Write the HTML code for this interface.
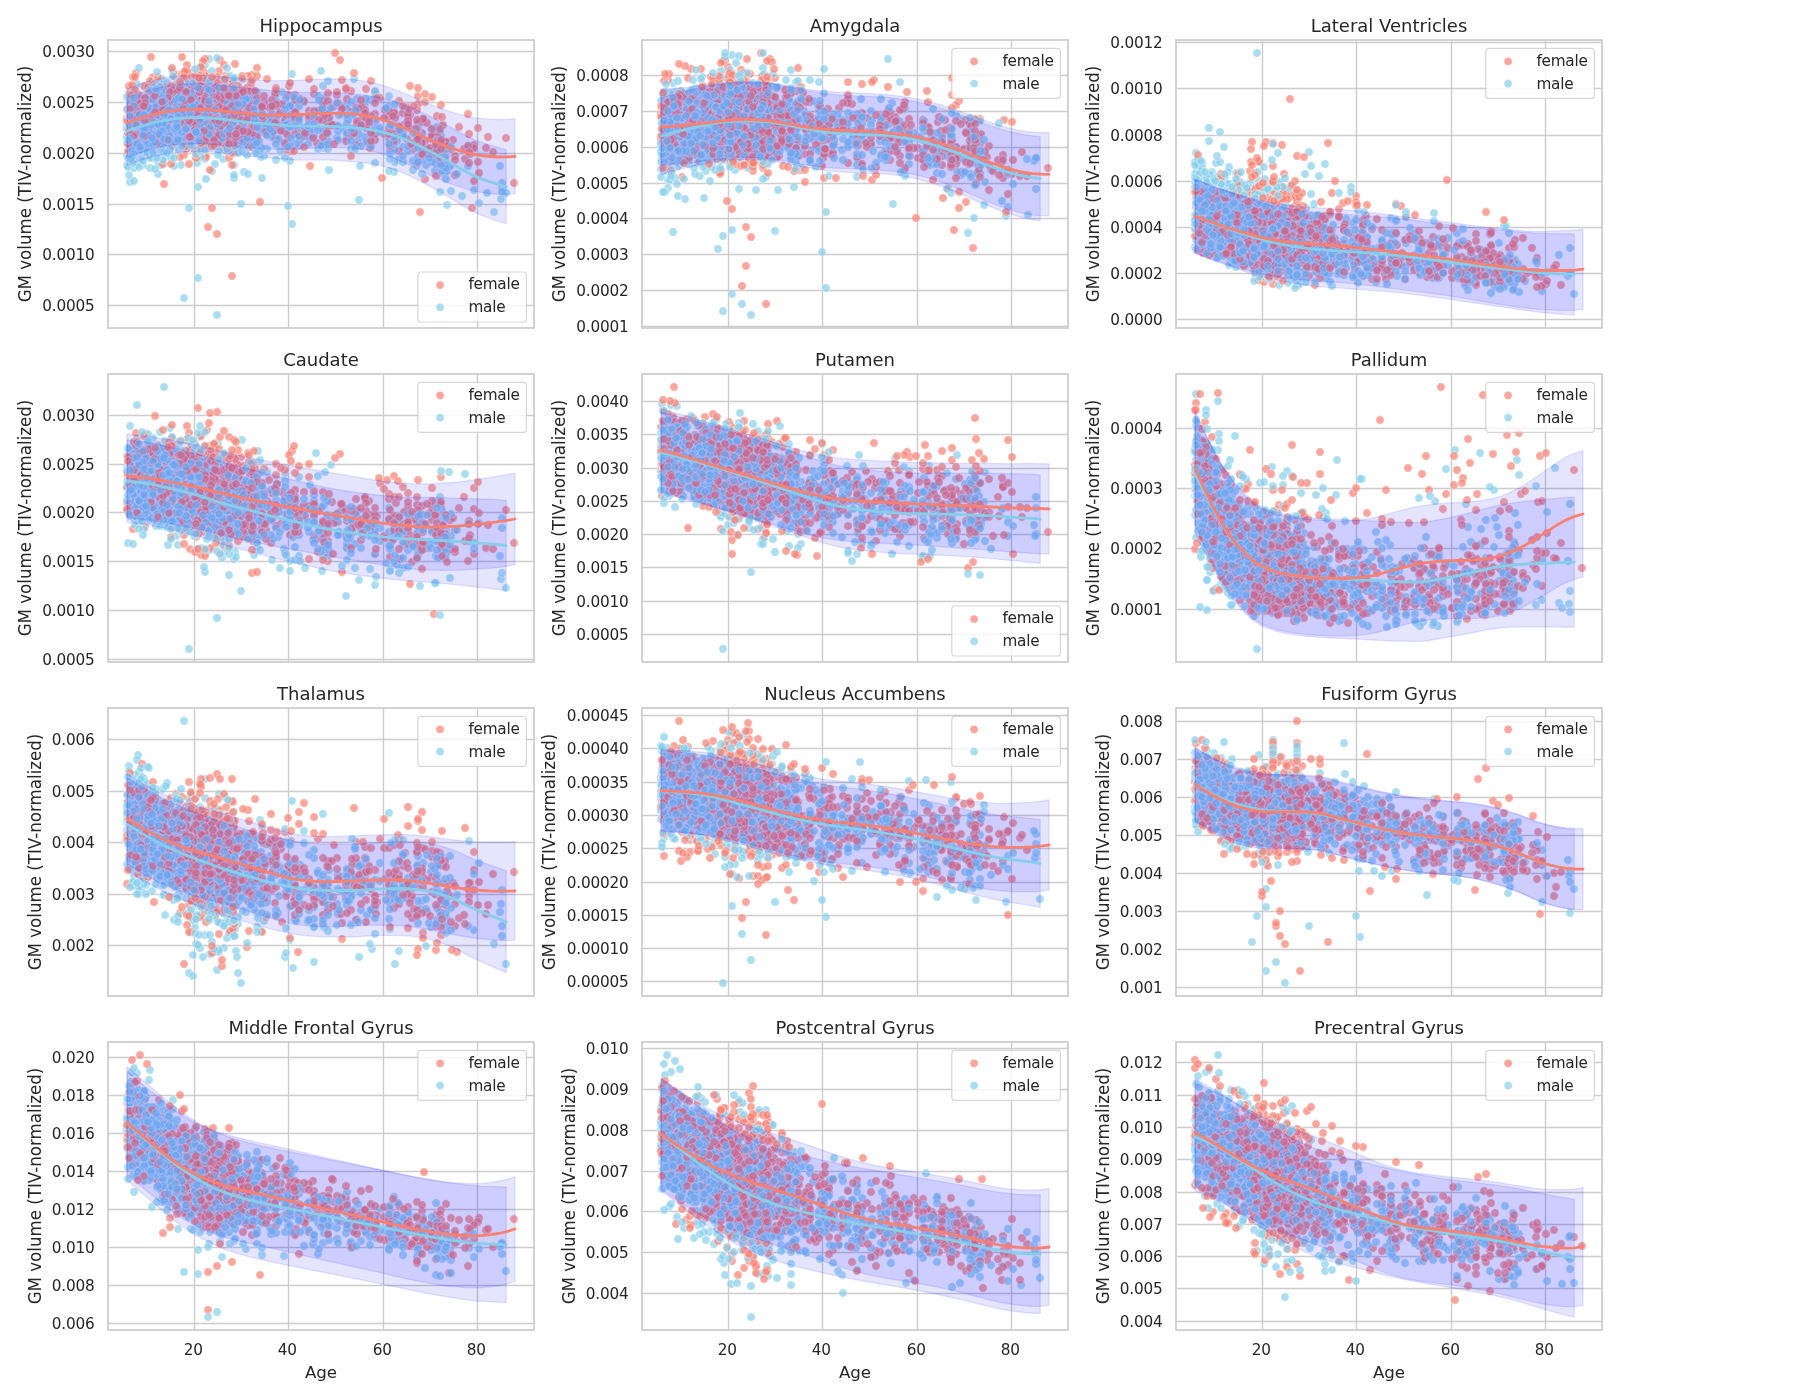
<!DOCTYPE html><html><head><meta charset="utf-8"><title>GM volume vs age</title><style>html,body{margin:0;padding:0;background:#fff}svg{display:block;will-change:transform}text{font-family:"DejaVu Sans","Liberation Sans",sans-serif;fill:#262626}.t{font-size:15.28px;letter-spacing:-.22px}.l{font-size:16.67px}.g{stroke:#ccc;stroke-width:1.39;fill:none}.s{stroke:#ccc;stroke-width:1.74;fill:none}.f{fill:none;stroke:none;marker:url(#f)}.m{fill:none;stroke:none;marker:url(#m)}.b{fill:#00f;fill-opacity:.1;stroke:#00f;stroke-opacity:.1;stroke-width:1.39;stroke-linejoin:round}.lf{fill:none;stroke:#fa8072;stroke-width:2.78;stroke-linecap:round;stroke-linejoin:round}.lm{fill:none;stroke:#87ceeb;stroke-width:2.78;stroke-linecap:round;stroke-linejoin:round}.cf{fill:#fa8072;fill-opacity:.7;stroke:#fff;stroke-opacity:.7;stroke-width:.67}.cm{fill:#87ceeb;fill-opacity:.7;stroke:#fff;stroke-opacity:.7;stroke-width:.67}.tt{font-size:18px}.lg{fill:#fff;fill-opacity:.8;stroke:#ccc;stroke-opacity:.8;stroke-width:1.2}</style></head><body>
<svg width="1800" height="1400" viewBox="0 0 1800 1400">
<defs><marker id="f" markerUnits="userSpaceOnUse" markerWidth="10" markerHeight="10" refX="5" refY="5" overflow="visible"><circle cx="5" cy="5" r="4.17" fill="#fa8072" fill-opacity=".7" stroke="#fff" stroke-opacity=".7" stroke-width=".67"/></marker><marker id="m" markerUnits="userSpaceOnUse" markerWidth="10" markerHeight="10" refX="5" refY="5" overflow="visible"><circle cx="5" cy="5" r="4.17" fill="#87ceeb" fill-opacity=".7" stroke="#fff" stroke-opacity=".7" stroke-width=".67"/></marker></defs>
<rect width="1800" height="1400" fill="#fff"/>
<g transform="translate(108,40)">
<path class="g" d="M86.5 0V288M180.5 0V288M275.5 0V288M369.5 0V288M0 11.5H426M0 62.5H426M0 113.5H426M0 164.5H426M0 214.5H426M0 265.5H426"/>
<path class="f" d="M50 45 333 107 51 91 105 63 48 62 138 69 274 138 81 32 99 63 96 49 93 76 121 72 97 48 87 86 94 82 37 74 304 89 27 55 158 94 337 114 56 62 82 84 93 41 215 68 90 54 83 57 46 76 111 72 98 78 84 103 277 70 45 59 121 64 288 75 42 76 78 86 117 70 144 35 51 70 97 81 111 83 77 101 102 65 76 76 168 54 97 48 133 59 79 78 63 61 248 88"/>
<path class="m" d="M220 82 182 121 78 42 366 150 329 91 149 99 238 66 129 106 114 86 159 109 90 82 88 74 62 93 97 76 328 119 93 75 93 82 58 74 50 134 63 66 87 82 118 71 331 118 107 72 111 102 239 94 26 72 54 86 33 100 149 104 22 82 120 72 128 62 295 107 72 91 35 115 318 125 360 126 315 120 32 70 147 73 34 91 168 120 107 69 229 98 328 122 86 70 50 122 96 85 49 73 90 238 70 71 70 100 97 73 99 81 102 44 37 74 177 82 121 65 286 132 145 95 55 94 149 108 239 98 28 92 57 92 107 83 333 100 51 94 121 86 91 59 23 92 118 57 41 89 55 97 64 93 38 47"/>
<path class="f" d="M249 84 88 76 370 122 116 51 187 57 107 72 98 66 76 84 59 78 129 74 121 42 97 74 47 48 186 74 36 65 173 90 305 109 78 95 317 139 50 67 45 92 78 85 50 52 229 55 64 64 26 92 35 69 102 62 107 81 258 101 121 90 125 79 105 61 248 67 187 72 103 54 81 57 31 58 281 99 88 89 117 36 125 64 84 84 34 102 83 51 70 88 125 97 112 42 163 89 267 100 78 88 58 53 126 55 131 94 93 70 168 90 144 70 361 94 62 82 118 72 70 56 267 52 89 61"/>
<path class="m" d="M62 101 68 101 133 85 394 148 150 79 25 98 92 101 109 47 51 69 241 76 94 81 139 68 29 74 75 92 24 71 51 63 113 91 63 48 107 76 177 89 361 106 19 99 319 110 230 91 216 92 176 104 267 87 314 95 66 54 46 82 192 106 97 80 36 91 70 100 268 54 61 69 74 66 111 85 24 81 20 94 21 111 116 98 121 100 27 99 108 61 28 77 257 63 62 57 49 118 146 95 108 60 153 74 54 98 205 78 33 89 111 66 121 75 27 84 61 60 68 68 136 75 79 86 26 77"/>
<path class="f" d="M78 71 119 93 287 78 102 55 83 55 286 72 97 54 21 76 36 78 310 83 127 68 125 75 56 144 46 66 122 78 201 79 100 87 76 67 324 99 187 55 238 101 45 37 74 47 102 66 66 36 122 47 129 59 61 103 145 50 154 80 97 33 168 48 107 63 140 99 309 96 73 80 87 94 23 82 116 109 58 96 380 97 347 116 79 67 83 44 102 82 116 66 107 42 314 93 169 66 55 49 56 51 268 80 63 78 97 64 345 100 76 44"/>
<path class="m" d="M55 105 28 97 200 104 24 66 78 78 122 106 28 118 24 120 53 57 52 78 73 51 70 80 47 68 153 91 142 77 59 91 139 115 196 62 27 102 290 86 88 69 309 125 234 88 86 76 74 77 114 80 96 57 45 93 101 92 74 85 84 70 144 83 65 70 89 123 121 71 188 84 36 97 79 63 78 73 249 59 97 112 46 81 43 114 43 81 216 58 117 57 26 70 78 71 78 97 54 83 63 57 51 78 323 89 30 121 69 81 70 42 69 77 335 133 220 101 220 80 21 115 27 73 72 41 36 105 83 76 42 110 97 92 22 96 312 95 88 66"/>
<path class="f" d="M71 81 78 100 125 69 51 73 93 94 64 88 329 76 126 91 35 99 67 86 263 41 133 80 41 53 30 67 315 82 112 66 183 68 88 67 56 98 319 109 119 111 296 85 108 57 78 36 102 78 255 77 79 65 111 31 108 44 31 55 119 58 333 119 50 86 121 71 124 236 291 111 125 77 188 78 19 115 45 98 239 59 111 97 32 103 53 68 64 62 108 71 149 87 125 63 30 82 50 78 225 85 127 24 342 126 297 69 107 69 75 45 92 57 33 106 68 67 93 45 334 103 124 72 191 77"/>
<path class="m" d="M126 55 43 65 327 131 172 85 144 103 48 72 90 85 116 77 216 108 112 95 75 69 31 84 87 97 191 95 34 66 19 86 72 75 56 95 51 90 88 103 53 45 168 79 121 85 60 91 78 89 45 80 263 60 49 101 116 79 22 109 310 88 116 44 111 111 37 67 71 74 206 89 371 163 49 96 78 50 40 85 154 90 66 75 126 138 26 67 323 96 281 56 49 77 78 84 107 77 102 77 40 99 49 62 215 77 149 61 63 66 97 73 140 68 47 72 45 78 87 88 97 25 73 64 26 124"/>
<path class="f" d="M142 62 121 76 90 61 74 73 121 39 81 58 138 88 144 86 64 91 74 56 112 73 333 123 209 103 21 54 78 50 83 82 83 105 126 60 103 93 43 61 106 80 295 73 121 90 111 65 300 87 371 133 88 76 105 54 105 74 126 102 116 53 36 82 102 73 126 75 181 46 93 73 292 87 310 56 45 82 92 78 51 75 262 108 111 77 145 85 26 56 121 89 206 54 60 59 121 75 91 66 116 70 66 93 113 96 43 87 25 37 97 56 55 57 276 94 104 64"/>
<path class="m" d="M116 39 53 84 97 78 329 87 157 80 54 83 90 147 366 108 36 93 88 80 120 59 221 76 43 95 78 90 70 72 92 57 113 58 115 119 72 103 40 63 59 96 21 99 342 125 65 65 86 72 29 104 26 128 31 94 21 79 36 105 20 95 88 83 106 97 43 91 152 92 82 78 246 39 210 56 54 86 334 113 49 102 180 166 88 97 47 114 132 92 125 112 108 75 201 88 34 107 90 89 61 64 44 65 177 86 230 86 23 112 136 132 98 139 35 73 46 60 66 70 31 70 169 83 50 89 61 49 62 73 183 76 41 89"/>
<path class="f" d="M102 94 111 86 116 64 44 42 37 97 285 90 87 77 335 85 97 73 40 49 116 73 99 52 267 74 42 41 23 57 36 85 92 79 290 97 20 94 55 61 110 71 107 62 105 71 124 44 124 67 34 75 310 64 90 87 72 56 59 70 107 86 102 87 26 64 272 58 140 103 31 61 19 78 107 61 28 33 71 78 112 20 123 53 33 103 58 91"/>
<path class="m" d="M78 65 45 73 36 96 121 55 79 82 114 64 121 66 104 100 67 100 79 61 30 86 85 58 33 104 38 75 338 116 163 85 26 88 115 99 138 72 282 110 184 34 49 116 31 93 74 101 43 75 83 78 33 100 239 93 333 96 127 80 206 71 30 88 40 94 93 97 39 75 250 101 55 81 92 80 153 109 26 87 31 105 60 106 64 93 191 66 97 53 111 80 25 92 37 100 30 98 262 78 398 153 27 89 103 107 74 88 55 69 92 75 41 89 263 94 93 56 33 77 187 57 73 93 95 78 392 126 267 51 22 100 64 75 130 52 73 85 104 131 70 50 40 88 63 50 19 57 53 79 93 47 267 58 112 90 22 121 64 86 55 116 126 59"/>
<path class="f" d="M314 114 103 100 258 86 269 58 115 48 90 65 125 64 109 37 234 40 149 78 116 25 137 74 338 102 81 97 145 56 97 36 89 51 58 89 97 67 120 65 230 63 121 67 28 81 96 56 86 64 49 62 309 123 98 92 327 95 62 79 57 47 337 120 76 115 163 70 137 79 86 65 91 66 81 82 61 64 201 71 135 75 69 63 93 70 100 86 324 57 74 65 121 68 182 43 71 66 338 102 88 72 27 60 91 68 85 66 116 69 121 84 201 76 314 108"/>
<path class="m" d="M71 83 97 119 163 77 47 79 394 152 62 52 22 76 33 83 156 116 292 91 46 78 28 117 253 85 80 71 97 84 21 117 56 108 57 89 94 112 69 87 191 96 149 106 309 94 54 62 44 81 61 76 130 73 39 107 57 117 38 88 64 92 29 125 126 125 34 80 36 100 67 72 146 97 35 100 25 49 41 110 29 73 295 92 239 69 128 46 69 87 91 86 30 87 88 60 20 95 206 72 135 84 154 85 95 116 45 108 97 74 37 105 156 86 102 78 221 130 206 87 33 90 34 91 57 68 73 96 262 83 281 66 128 60 150 77"/>
<path class="f" d="M155 83 69 71 201 39 87 111 87 64 86 58 78 62 190 76 26 71 125 57 126 113 36 79 68 97 66 81 135 55 89 86 141 74 66 33 79 72 187 59 36 46 20 81 39 99 111 53 81 72 125 96 177 80 40 47 206 49 42 97 125 85 44 101 102 101 281 77 220 89 108 70 258 49 74 100 98 92 74 60 105 48 92 47 83 37 50 83 54 61 59 72 109 65 105 92 291 61 69 53 317 101 72 69 51 92 246 33 88 81 93 34 206 78 97 62 37 61 85 94 68 77 300 81"/>
<path class="m" d="M38 95 58 83 111 91 83 69 122 36 206 96 97 89 60 54 267 79 40 63 282 113 61 64 138 64 48 86 63 66 107 102 83 97 29 92 185 78 22 61 33 76 19 125 132 89 73 105 54 72 52 79 107 105 290 120 54 80 192 100 64 95 215 89 116 73 102 77 95 53 78 81 114 52 114 86 105 54 45 62 41 80 95 74 29 91 47 64 332 91 91 71 34 69 23 68 21 77 30 113 64 101 22 65 41 89 69 77 47 43 73 103 83 86 163 82 101 19 20 88 28 96 182 106 287 122 119 84"/>
<path class="f" d="M79 98 88 100 130 101 324 95 111 97 366 105 107 75 106 93 78 82 111 55 61 72 55 56 83 78 96 75 385 112 21 111 22 101 267 63 121 95 82 80 98 57 182 82 40 69 366 108 36 72 221 78 190 89 88 60 99 59 110 59 88 77 28 93 126 76 39 116 111 68 88 95 156 83 103 65 60 62 215 105 64 57 51 97 234 74 125 69 139 78 67 61 97 60 244 90 33 95"/>
<path class="m" d="M67 95 40 72 59 77 92 94 140 134 149 68 83 61 27 108 95 58 339 131 289 101 22 110 282 98 27 83 149 52 329 120 59 60 64 75 188 104 79 52 60 69 61 76 63 82 22 70 26 100 56 55 72 59 27 95 60 74 267 123 120 70 97 65 112 81 220 93 88 65 42 106 85 71 300 111 170 84 72 67 45 115 178 65 67 63 121 85 119 55 107 65 47 95 98 98 25 101 81 79 44 102 196 95 35 91 65 67 22 66 154 108 59 84 23 95 51 66 103 66 92 73 34 116 64 76 104 31 42 90 52 103 61 110 330 100 30 72 69 84 92 99 154 63 65 72 113 88 239 76 79 65 82 74"/>
<path class="f" d="M59 67 116 78 74 34 96 102 19 89 126 91 112 85 178 75 92 40 126 63 125 83 97 19 347 120 97 42 48 65 49 79 121 47 54 68 145 93 232 20 97 115 29 106 126 44 121 57 74 45 153 89 61 72 54 67 81 60 129 63 107 53 334 125 88 48 98 73 97 56 33 101 120 100 192 59 121 118 255 68 168 85 128 99 83 85 76 34 118 77 79 94 96 73 163 78 261 78 102 84 102 80 123 76 123 61 89 92 220 86 248 105 41 91 107 92 53 85 40 85 121 76 50 94 20 82 161 77"/>
<path class="m" d="M107 83 20 102 31 88 79 88 75 70 93 65 119 81 69 98 196 91 214 104 45 86 328 124 180 83 71 60 41 90 29 44 102 81 379 153 116 83 89 88 70 72 328 109 83 97 74 88 305 121 39 102 58 83 45 65 56 63 76 105 94 93 393 159 159 63 79 97 55 81 339 165 31 110 107 81 31 58 67 97 52 79 103 46 291 90 112 69 56 67 219 71 50 58 155 68 54 76 182 75 36 66 46 88 42 128 53 125 64 75 89 62 295 94 156 79 57 100 79 67 338 139 22 98"/>
<path class="f" d="M57 66 95 61 88 49 164 94 333 65 111 58 267 94 126 48 93 59 149 28 75 84 96 42 69 77 70 67 129 102 49 90 78 101 87 63 88 69 140 36 58 86 117 76 67 65 111 56 180 96 78 60 43 64 116 92 22 84 89 51 96 82 333 107 130 46 31 72 52 72 215 97 112 50 167 54 31 67 121 47 324 96 99 76 102 99 330 97 140 102 338 110 58 99 120 97 109 68 57 59 69 69 121 61 333 118 111 68 121 47 26 87 168 83 21 89 78 75 233 67 88 70 27 37 90 97 101 71 125 45 156 86 124 113"/>
<path class="m" d="M243 109 85 48 127 77 106 55 85 106 394 143 125 83 73 125 61 87 337 128 107 124 53 58 41 65 338 131 54 78 93 66 32 97 210 109 287 110 24 110 122 73 87 83 35 76 45 76 88 71 151 75 44 77 28 104 88 57 216 59 50 88 44 81 74 60 68 77 143 61 60 103 36 90 29 68 29 81 93 63 128 104 97 84 310 102 191 85 36 92 81 168 88 73 53 57 45 77 131 106 109 275 111 66 121 79 176 91 41 100 314 134 34 86 20 93 83 66"/>
<path class="f" d="M125 43 88 42 116 76 107 70 36 92 123 74 47 52 328 136 112 86 89 47 65 58 89 53 101 98 125 106 281 88 299 99 46 99 91 33 97 57 149 81 101 72 134 36 125 42 196 107 244 92 78 109 111 77 125 66 215 80 300 67 263 76 220 74 130 101 55 59 79 43 90 89 248 68 23 81 92 66 38 80 68 45 302 46 38 80 206 71 51 66 22 65 103 87 78 50 150 82 135 94 101 94 103 56 40 60 95 21 300 68 41 67 93 51 94 28 92 41 55 124 286 73 103 53 70 86 104 103 45 45"/>
<path class="m" d="M34 87 54 39 98 101 41 88 31 28 243 72 310 117 59 64 145 59 343 151 131 98 58 82 111 73 215 68 22 96 99 61 102 54 61 81 22 142 119 47 117 70 26 112 328 107 191 79 130 92 130 113 36 76 24 98 75 82 121 86 73 77 47 88 31 62 36 77 140 74 257 97 102 100 102 75 63 87 52 56 86 81 88 95 139 94 92 27 80 72 52 61 102 79 56 101 55 81 354 156 73 67 112 94 93 55 43 67 305 130 37 96 63 51 104 61 149 61 151 101 29 110"/>
<path class="f" d="M83 78 50 76 93 74 120 71 92 56 89 53 124 88 20 82 78 54 111 46 97 93 304 103 126 45 93 44 76 87 26 101 41 70 167 78 183 111 93 27 317 54 78 60 116 80 91 57 57 59 83 99 243 72 61 61 120 104 30 89 107 48 92 103 74 41 105 49 56 63 154 76 20 111 179 94 52 69 98 117 91 45 45 55 122 84 191 77 90 79 20 81 187 72 126 89 114 83 79 73 126 82 83 63 19 70"/>
<path class="m" d="M23 100 93 117 333 113 58 98 184 184 42 71 90 66 55 66 282 85 102 105 337 110 31 84 48 92 242 75 66 106 90 96 49 84 114 79 124 84 69 68 310 96 36 87 253 85 21 104 59 72 61 69 45 66 42 115 52 109 168 61 41 115 64 61 33 92 50 97 68 74 74 45 149 92 255 69 36 70 84 103 81 80 49 104 98 77 127 83 215 46 239 84 50 78 37 112 22 107 45 73 59 43 41 107 334 131 44 82 286 99 247 110 24 110 66 68 58 81 59 83 30 78 116 55 52 62 69 46 230 100 150 112 202 91 110 60 73 88 23 67 122 67 154 138 121 70"/>
<path class="f" d="M206 72 254 66 74 72 139 48 282 106 178 110 50 37 319 83 30 72 139 66 97 66 112 59 111 67 90 60 164 60 106 80 339 106 39 67 83 99 215 61 26 55 68 73 215 64 327 109 351 87 106 99 315 115 309 94 48 77 196 96 44 91 141 73 127 88 54 94 357 119 109 194 258 88 126 92 314 102 25 90 93 72 282 72 112 55 93 85 105 60 302 75 182 87 105 69 104 168 92 43 107 79 29 98 121 61 249 81 89 91 83 90 88 69 46 59 196 61"/>
<path class="m" d="M107 101 64 66 27 76 125 89 47 68 95 63 121 79 182 66 121 72 88 97 68 83 116 45 34 79 79 106 59 84 40 65 107 63 59 55 102 97 61 70 73 77 22 63 59 61 164 74 98 40 65 81 31 65 93 91 130 96 41 74 61 64 127 81 55 85 58 89 133 164 54 51 43 98 27 88 64 91 121 78 115 75 29 89 50 95 29 122 140 64 28 90 183 86 118 80 124 70 139 77 97 108 342 126 125 90 182 105 55 120 300 106 259 102 41 82 39 89 46 74 295 96 46 47 47 82 295 96 43 75 22 70 324 122"/>
<path class="f" d="M78 90 88 118 135 92 21 46 163 67 63 46 347 135 38 78 180 55 156 62 86 82 45 94 99 48 31 56 83 104 27 94 225 67 121 65 83 62 107 87 216 76 126 53 366 141 146 73 50 49 362 114 140 105 135 61 59 87 83 48 92 79 22 95 52 98 83 103 28 105 130 54 107 87 122 82 134 88 78 84 109 56 89 37 111 96 159 39 140 74 47 96 334 77 329 100 102 80 324 89 309 102 109 75 112 53 315 79 72 117 124 68 186 111 87 36 124 47 96 98 143 70 67 67 95 38 356 109 149 58 111 44"/>
<path class="m" d="M123 78 78 81 111 63 43 97 65 56 126 73 88 73 55 102 89 83 35 125 135 39 97 67 159 90 73 69 34 79 170 75 121 72 318 114 95 87 156 85 51 64 64 101 90 64 112 101 119 78 42 102 26 67 53 77 67 77 82 87 44 78 30 110 112 90 29 73 81 86 26 70 64 71 126 74 21 135 40 93 64 53 51 88 72 81 74 43 85 78 263 106 300 70 84 92 33 103 36 77 349 134 72 51 114 99 48 84 40 74 89 50 50 78 54 86 82 71 245 75"/>
<path class="f" d="M32 94 243 116 78 66 79 31 41 86 88 77 61 84 71 63 24 45 121 72 37 64 253 67 332 89 74 17 141 51 92 70 234 69 87 51 116 71 360 106 40 61 68 89 83 67 309 70 41 60 64 105 75 105 149 97 156 56 276 78 72 65 84 98 111 67 79 74 210 71 26 76 79 72 144 64 135 50 88 67 64 84 109 43 314 103 124 85 132 53 123 107 29 64 123 87 155 75 123 87 309 100 300 76 75 62 120 83 22 95 135 99"/>
<path class="m" d="M106 72 131 65 58 77 51 55 21 99 102 41 37 100 37 73 52 68 229 63 130 79 213 106 102 66 30 123 79 52 177 118 62 89 286 104 75 98 26 106 46 83 88 90 70 77 163 82 65 90 86 58 94 90 122 60 83 102 74 60 144 78 117 91 150 88 31 100 201 84 40 104 46 85 338 124 338 128 182 66 87 80 22 76 64 92 19 69 187 58 95 69 149 63 32 75 83 80 127 38 50 65 70 90 153 117 121 80 111 81 47 65 220 109 70 102 28 76 78 54 60 83 83 90 45 62 51 79 135 84 148 75 22 98 27 99 240 80 64 30"/>
<path class="f" d="M291 89 116 66 143 43 118 106 113 100 79 67 154 68 102 82 60 85 202 126 117 39 328 101 310 48 79 52 126 50 116 63 23 84 121 67 79 25 105 63 144 75 82 79 258 78 116 65 74 72 116 88 97 64 103 68 88 94 121 82 238 48 119 79 97 54 308 89 243 51 111 65 310 104 38 82 99 62 90 52 102 98 43 17 37 96 94 71 147 75 103 106 361 123 88 76 120 78 300 74 26 82 149 36 301 69 116 74 94 66 78 85 107 76 116 91 83 102 398 98 65 50 130 71 132 66"/>
<path class="m" d="M112 81 118 84 82 84 174 52 140 107 210 90 67 67 60 82 99 49 281 131 49 104 106 69 37 110 69 92 88 114 111 100 23 86 201 97 74 56 54 86 97 55 213 31 76 258 94 70 45 94 86 92 78 89 220 104 106 71 109 18 95 69 102 85 329 101 120 67 44 102 28 56 62 109 121 73 126 60 30 101 97 69 20 127 69 81 92 68 143 70 92 52 87 29 121 111 126 38 19 96 135 89 32 59 98 91 31 127 92 81 78 43 337 117 112 68 32 79 78 84 295 122 117 77 102 63"/>
<path class="f" d="M97 56 87 49 107 97 91 38 144 76 49 75 29 71 121 52 134 38 187 94 315 79 113 59 328 103 121 79 102 81 88 92 43 78 300 81 93 67 146 83 46 67 32 58 322 108 177 103 111 75 168 99 110 87 29 98 167 83 26 84 97 73 168 50 126 65 92 76 87 70 114 64 93 72 317 62 300 84 94 82 324 114 144 69 110 104 56 99 19 81 90 84 87 80 144 94 111 57 244 95 88 88 116 60 360 74 361 112 27 50 343 109 33 64 26 64 63 79 51 79 79 66 103 80 64 65"/>
<path class="m" d="M20 104 106 67 61 80 121 75 88 74 145 101 33 93 32 84 44 69 89 101 100 80 67 83 120 104 55 104 34 71 26 141 27 72 206 75 44 59 31 111 211 60 41 88 229 86 253 106 71 88 36 89 87 55 43 73 56 112 49 50 72 49 116 74 42 92 56 65 24 121 71 98 88 81 71 80 19 99 34 120 42 50 135 57 164 97 83 80 179 84 73 44 35 69 140 59 53 95 220 41 40 68 59 89 31 80 159 85 53 89 243 91 74 92 19 97 82 70 180 107 182 66 102 95 289 94"/>
<path class="f" d="M286 94 82 58 263 101 309 96 147 51 112 51 98 81 64 60 45 81 109 46 314 114 102 90 83 83 333 103 220 53 77 31 36 96 219 93 154 79 100 187 69 66 257 70 154 76 146 87 73 81 48 96 62 52 64 87 125 68 83 60 303 104 60 58 141 68 77 106 286 101 291 87 97 59 187 60 378 108 32 63 78 70 100 66 99 84 49 103 364 168 55 75 59 75 73 74 63 72 95 77 251 69 144 107 81 97 76 84 87 78 121 100 229 52 84 96 102 74 174 64"/>
<path class="m" d="M239 75 68 76 41 68 38 82 178 85 63 117 343 107 92 89 149 108 45 118 43 79 135 102 83 83 66 86 31 111 57 98 146 105 287 64 19 103 92 82 26 114 60 74 138 59 20 94 61 74 78 64 24 95 105 82 69 73 94 83 102 88 47 83 69 66 149 103 112 70 286 97 116 75 30 93 96 82 30 74 20 117 125 73 61 95 33 110 278 68 281 104 66 126 80 58 156 91 45 104 70 101 47 129 72 100 119 64 31 96 56 88 243 101 329 109 71 110 26 80 87 65 60 88 28 95 70 90 74 65 59 86"/>
<path class="f" d="M64 71 20 93 86 64 81 124 158 92 118 73 95 106 74 59 46 73 29 69 257 73 135 52 70 84 329 111 310 99 64 28 309 80 291 90 93 108 58 70 29 75 78 61 104 37 82 64 85 57 211 80 47 56 187 77 312 172 23 55 22 79 116 55 93 103 220 61 157 66 79 77 131 73 154 66 253 85 33 95 87 90 35 66 111 85 32 74 107 76 261 82 69 52 154 66 370 88 328 105 40 78 333 109 124 125 63 124 144 40"/>
<path class="m" d="M321 118 127 106 45 95 121 87 214 69 112 90 54 58 19 89 55 81 36 82 119 109 86 69 191 80 93 111 59 64 116 88 74 106 25 84 122 70 258 59 87 66 152 111 59 113 41 95 126 135 58 80 83 70 40 82 114 98 54 85 272 92 172 111 223 68 35 97 83 76 54 61 78 73 154 73 56 99 139 98 114 48 37 58 20 118 191 96 42 118 97 110 33 80 121 74 83 102 31 94 25 103 332 152 39 112 55 84 183 98 187 86 88 65 107 71 248 70 65 36 56 65 83 105 125 96 49 118 78 82 197 88 117 82 48 67 41 90 79 69 88 93"/>
<path class="f" d="M85 81 37 58 92 76 205 98 44 78 224 85 111 95 197 93 100 75 28 84 37 63 87 83 285 76 91 52 82 97 140 92 168 64 306 66 126 76 116 69 164 66 61 77 77 63 119 77 253 60 89 74 64 72 227 13 68 58 61 100 82 80 133 80 92 51 113 86 116 69 27 95 107 79 91 52 333 100 406 143 99 71 22 91 119 85 139 80 128 56 72 82 126 103 173 91 92 68 63 80"/>
<path class="m" d="M29 104 35 88 109 84 69 59 148 113 120 90 149 82 73 72 186 57 100 69 159 95 83 65 60 76 78 89 165 92 146 69 272 88 24 117 92 87 67 102 116 94 70 100 68 60 49 32 83 53 71 58 21 86 97 76 192 60 66 118 119 28 310 108 116 75 68 84 147 81 251 94 116 50 26 58 31 75 44 75 74 75 36 92 171 99 26 66 200 86 83 58 182 87 45 113 206 84 67 89 25 123 121 68 111 80 162 89 111 48 56 61 52 47 68 70 92 92 38 89 49 75 101 50 55 91 53 91 251 160 101 94 120 91 47 102 60 100 247 108 54 72 79 68 231 75 72 76 43 85 40 95"/>
<path class="f" d="M26 86 20 104 26 96 71 77 120 55 72 48 87 90 76 37 106 100 52 72 107 69 124 66 154 67 295 66 116 48 102 130 116 71 81 81 263 93 36 66 22 76 22 69 121 56 107 80 27 85 246 93 92 80 96 91 37 96 121 85 172 73 106 106 78 77 25 96 92 49 97 61 111 81 78 52 152 162 21 90 62 70 47 72 281 94 83 60 226 104 122 94 54 62 97 101 72 42 128 97 93 103 121 104 101 64 130 89 55 70 135 91 111 67 238 49 37 81 75 69 118 70 24 78 128 94"/>
<path class="m" d="M135 64 90 94 292 90 69 83 333 125 36 89 51 94 252 126 134 111 85 43 125 83 65 71 22 98 36 75 90 48 243 62 122 88 126 48 48 49 23 119 295 116 386 172 92 79 70 74 149 87 147 75 22 76 70 77 101 61 282 119 76 73 50 84 244 89 74 59 305 93 111 111 177 69 91 101 61 70 283 85 127 70 35 95 21 85 20 100 310 122 110 115 35 121 68 85 28 85 130 64 178 58 107 70 68 80 56 74 168 104 63 79 88 92 88 92 32 107 82 73 44 98 69 87 85 67"/>
<path class="b" d="M19 57.4 27.1 54.4 35.1 51.8 43.2 49.6 51.3 47.6 59.3 45.9 67.4 44.9 75.5 44.3 83.6 43.8 91.6 43.6 99.7 43.9 107.8 44.7 115.8 45.5 123.9 46.4 132 47.5 140 48.4 148.1 49.2 156.2 49.8 164.2 50.4 172.3 51.1 180.4 51.8 188.5 52.3 196.5 52.4 204.6 52.4 212.7 52.4 220.7 52.4 228.8 52.8 236.9 53.3 244.9 53.9 253 54.7 261.1 55.7 269.1 57 277.2 58.8 285.3 61.1 293.4 63.7 301.4 66.8 309.5 70.4 317.6 74.2 325.6 78.3 333.7 82.6 341.8 86.9 349.8 91.3 357.9 95.8 366 99.6 374 102.6 382.1 105.2 390.2 107.5 398.2 109.8 L398.2 183.8 390.2 181.4 382.1 178.6 374 175.5 366 172 357.9 167.6 349.8 162.7 341.8 157.8 333.7 153.1 325.6 148.3 317.6 143.9 309.5 139.7 301.4 135.7 293.4 132.2 285.3 129.4 277.2 126.8 269.1 124.8 261.1 123.4 253 122.4 244.9 121.6 236.9 121 228.8 120.5 220.7 120.1 212.7 120.1 204.6 120.1 196.5 120.1 188.5 120 180.4 119.5 172.3 118.8 164.2 118.2 156.2 117.6 148.1 116.9 140 116.2 132 115.2 123.9 114.1 115.8 113.2 107.8 112.4 99.7 111.6 91.6 111.4 83.6 111.5 75.5 112 67.4 112.6 59.3 113.6 51.3 115.3 43.2 117.3 35.1 119.5 27.1 122.1 19 125.1Z"/>
<path class="b" d="M19 48.7 27.3 45.6 35.5 43 43.8 40.7 52 38.7 60.3 37 68.5 36.1 76.8 35.6 85 35.3 93.3 35.2 101.6 35.6 109.8 36.3 118.1 37 126.3 37.9 134.6 38.8 142.8 39.5 151.1 40.1 159.3 40.5 167.6 40.7 175.9 40.6 184.1 40.4 192.4 40.2 200.6 39.7 208.9 39.2 217.1 38.9 225.4 39 233.6 39.2 241.9 39.4 250.1 40.1 258.4 41.5 266.7 43.1 274.9 45.3 283.2 48.2 291.4 51.3 299.7 54.7 307.9 58.3 316.2 61.9 324.4 65.2 332.7 68.4 341 71.2 349.2 73.7 357.5 76 365.7 77.6 374 78.6 382.2 79.3 390.5 79.5 398.7 79.4 407 79 L407 154 398.7 154.4 390.5 154.4 382.2 153.7 374 152.4 365.7 151 357.5 148.8 349.2 146.1 341 143.1 332.7 139.8 324.4 136.1 316.2 132.4 307.9 128.5 299.7 124.4 291.4 120.7 283.2 117.3 274.9 114.1 266.7 111.7 258.4 110.1 250.1 108.8 241.9 108.1 233.6 107.8 225.4 107.6 217.1 107.6 208.9 107.8 200.6 108.4 192.4 108.8 184.1 109 175.9 109.2 167.6 109.3 159.3 109.1 151.1 108.7 142.8 108.1 134.6 107.4 126.3 106.5 118.1 105.7 109.8 104.9 101.6 104.2 93.3 103.8 85 103.9 76.8 104.2 68.5 104.7 60.3 105.6 52 107.3 43.8 109.4 35.5 111.6 27.3 114.3 19 117.3Z"/>
<path class="lm" d="M19 91.2 27.1 88.3 35.1 85.6 43.2 83.4 51.3 81.5 59.3 79.8 67.4 78.7 75.5 78.1 83.6 77.7 91.6 77.5 99.7 77.8 107.8 78.5 115.8 79.4 123.9 80.3 132 81.3 140 82.3 148.1 83.1 156.2 83.7 164.2 84.3 172.3 84.9 180.4 85.7 188.5 86.2 196.5 86.2 204.6 86.2 212.7 86.2 220.7 86.3 228.8 86.6 236.9 87.1 244.9 87.7 253 88.5 261.1 89.6 269.1 90.9 277.2 92.8 285.3 95.2 293.4 98 301.4 101.3 309.5 105 317.6 109 325.6 113.3 333.7 117.8 341.8 122.4 349.8 127 357.9 131.7 366 135.8 374 139.1 382.1 141.9 390.2 144.4 398.2 146.8"/>
<path class="lf" d="M19 83 27.3 80 35.5 77.3 43.8 75.1 52 73 60.3 71.3 68.5 70.4 76.8 69.9 85 69.6 93.3 69.5 101.6 69.9 109.8 70.6 118.1 71.3 126.3 72.2 134.6 73.1 142.8 73.8 151.1 74.4 159.3 74.8 167.6 75 175.9 74.9 184.1 74.7 192.4 74.5 200.6 74.1 208.9 73.5 217.1 73.3 225.4 73.3 233.6 73.5 241.9 73.7 250.1 74.4 258.4 75.8 266.7 77.4 274.9 79.7 283.2 82.7 291.4 86 299.7 89.5 307.9 93.4 316.2 97.2 324.4 100.7 332.7 104.1 341 107.2 349.2 109.9 357.5 112.4 365.7 114.3 374 115.5 382.2 116.5 390.5 117 398.7 116.9 407 116.5"/>
<rect class="s" width="426" height="288"/>
<rect class="lg" x="309.8" y="232" width="108.6" height="50" rx="3.1"/>
<circle class="cf" cx="332.1" cy="245.1" r="4.17"/>
<circle class="cm" cx="332.1" cy="267.3" r="4.17"/>
<text class="t" x="360.4" y="249.4">female</text>
<text class="t" x="360.4" y="272.4">male</text>
<text class="tt" x="213" y="-8.3" text-anchor="middle">Hippocampus</text>
<text class="t" x="-13.6" y="17.1" text-anchor="end">0.0030</text>
<text class="t" x="-13.6" y="68.1" text-anchor="end">0.0025</text>
<text class="t" x="-13.6" y="119.1" text-anchor="end">0.0020</text>
<text class="t" x="-13.6" y="170.1" text-anchor="end">0.0015</text>
<text class="t" x="-13.6" y="220.1" text-anchor="end">0.0010</text>
<text class="t" x="-13.6" y="271.1" text-anchor="end">0.0005</text>
<text class="l" transform="translate(-77,144) rotate(-90) scale(1,1.09)" text-anchor="middle">GM volume (TIV-normalized)</text>
</g>
<g transform="translate(642,40)">
<path class="g" d="M86.5 0V288M180.5 0V288M275.5 0V288M369.5 0V288M0 35.5H426M0 71.5H426M0 107.5H426M0 143.5H426M0 178.5H426M0 214.5H426M0 250.5H426M0 286.5H426"/>
<path class="f" d="M106 96 76 64 121 84 41 53 88 62 338 79 258 86 82 109 116 75 109 197 140 98 167 99 29 113 125 91 102 90 55 112 267 104 126 77 263 62 97 49 117 116 47 93 244 79 79 79 281 80 20 85 153 98 109 82 89 124 96 61 56 67 163 114 337 127 125 122 94 80 300 110 100 69 37 71 27 80 116 58 78 80 206 42 72 88 286 122 99 30 78 90 26 119 248 120 324 162 50 97 154 86 309 122 63 67 87 104 161 53 149 71 43 106"/>
<path class="m" d="M60 37 58 136 123 121 49 113 83 70 97 68 35 116 83 101 263 68 107 107 21 87 97 112 64 96 20 118 104 115 23 78 72 95 116 78 337 96 97 93 51 85 100 108 78 62 22 131 36 78 45 116 64 96 56 85 46 89 103 67 50 66 95 80 22 78 34 99 215 106 38 124 36 62 102 76 331 84 295 117 20 80 170 110 67 77 45 66 40 84 49 104 74 99 48 115 272 97 107 83 140 75 83 78 153 73 116 87 60 87 92 100 71 88 122 118 102 108 87 58 29 119 19 109 93 49 59 70 93 90 124 137 19 137 216 119 54 110 78 64"/>
<path class="f" d="M57 77 59 29 59 92 109 75 33 94 107 101 72 93 93 86 92 52 134 113 62 80 79 83 103 45 72 53 110 94 79 59 111 95 69 59 209 91 73 59 118 81 121 76 81 110 299 91 36 113 107 86 82 43 59 87 77 80 128 19 144 57 113 101 180 126 49 29 173 85 83 37 96 108 306 149 22 59 26 65 122 88 144 97 98 60 23 84 93 113 123 59 133 58 230 140 327 124 97 77 168 62 26 79"/>
<path class="m" d="M94 100 72 120 31 62 70 85 119 80 305 109 70 109 153 105 36 95 62 98 126 89 31 91 130 62 68 116 111 119 74 79 31 101 135 79 292 124 73 42 50 106 56 64 19 129 83 91 99 70 136 150 328 104 27 62 48 92 366 167 40 70 187 100 29 95 142 101 66 84 55 115 206 73 97 59 20 95 116 65 22 110 79 96 145 98 182 53 93 86 30 92 21 54 310 112 121 82 22 95 163 83 31 99 20 69 106 95 45 73 243 94 92 82 78 130 253 109 135 76 27 65 63 101 88 91 295 133 68 66 97 54 129 89 47 97 361 132 27 90 112 89 79 93 132 86 91 87 49 95"/>
<path class="f" d="M220 73 180 71 181 118 129 111 168 89 225 78 88 64 85 103 130 22 19 73 83 52 287 88 97 98 20 120 378 136 102 61 78 66 63 113 215 89 103 90 232 40 21 83 79 81 116 79 87 100 93 74 121 93 300 109 87 67 144 93 172 96 109 76 261 69 187 98 291 140 129 104 60 56 103 116 137 116 366 154 64 54 83 77 128 91 102 62 258 116 111 104 60 101 205 86 83 20 33 85 72 49 101 52 144 102 102 87 81 84 168 92 121 86 101 49 62 90 22 63 90 33"/>
<path class="m" d="M61 88 61 77 47 120 50 55 328 134 122 56 247 84 40 92 110 71 78 118 82 69 40 86 30 107 258 42 66 114 83 79 50 72 196 78 30 116 40 95 79 62 34 72 37 109 117 72 67 122 130 116 25 120 31 43 88 75 140 86 45 103 40 100 282 115 125 80 90 254 289 99 21 81 53 81 114 71 106 94 27 86 59 71 49 68 318 80 41 92 46 119 57 113 58 65 109 68 70 70 102 112 337 134 162 71 36 126 191 102 281 118 107 93 200 87 324 120 78 106 185 82 103 82 97 79 26 140 43 114 83 38"/>
<path class="f" d="M126 86 309 101 79 131 107 59 124 96 314 124 144 60 22 112 286 87 29 121 76 89 79 120 88 74 69 89 116 58 126 41 75 75 26 65 61 92 40 92 103 75 103 90 93 97 255 88 277 97 64 85 328 101 125 99 35 100 55 79 111 85 291 100 116 77 187 96 21 74 107 97 158 130 46 113 31 99 95 113 46 100 111 131 156 101 99 117 83 76 121 102 59 56"/>
<path class="m" d="M90 79 73 70 220 84 102 83 88 88 90 15 211 93 125 76 24 100 343 113 51 82 72 96 97 49 93 130 29 88 149 88 168 122 159 61 64 86 50 71 267 106 52 69 88 49 59 121 213 90 55 77 33 52 30 74 60 108 282 111 106 87 267 100 87 61 102 56 150 116 63 116 205 89 292 110 27 86 118 42 329 120 73 78 102 112 22 77 61 77 88 97 91 86 45 106 22 84 31 62 267 124 83 100 24 58 121 92 31 106 360 161 149 93 89 114 78 96 56 105 43 83 26 83 41 113 107 98 73 50 63 85 60 94 214 105 159 107 42 58 97 115 29 73 31 82 122 84 51 77 61 103 210 75 64 105 59 78 114 82"/>
<path class="f" d="M187 99 98 93 64 104 102 52 83 97 226 92 149 84 196 82 93 85 140 106 78 63 144 89 83 68 48 76 45 85 103 48 32 92 115 83 333 79 79 81 108 111 97 95 331 208 104 187 26 40 111 93 96 88 82 113 111 67 41 111 300 107 88 62 192 100 187 77 300 96 82 58 132 101 64 107 154 51 84 65 360 122 83 81 64 96 85 86 118 61 215 117 93 69 126 70 92 97 121 49 105 113 128 74 81 21 40 77 54 60 103 65 37 107 210 64 98 113"/>
<path class="m" d="M51 69 36 123 127 73 78 62 44 77 49 83 364 176 36 114 108 59 263 136 86 100 70 83 87 81 49 66 74 61 117 103 334 144 36 97 152 83 328 115 60 123 53 69 172 100 51 99 84 87 154 42 44 110 338 133 79 97 45 100 26 88 27 76 22 119 34 93 83 82 295 110 45 96 78 44 28 107 46 115 45 102 249 95 215 114 68 67 64 85 41 99 182 83 49 91 335 133 177 108 54 74 83 81 98 82 26 103 111 87 30 55 268 99 74 87 92 45 50 89 42 73 32 82 96 120 326 193 22 91 44 88 31 192 70 94"/>
<path class="f" d="M56 123 74 86 100 59 90 79 333 99 26 81 131 104 291 118 121 58 44 106 61 84 36 82 52 101 129 109 41 103 84 101 33 74 146 57 290 102 253 77 78 48 215 95 112 75 333 109 120 82 74 108 22 59 116 68 72 75 79 58 103 94 124 110 48 77 135 117 91 113 91 38 164 76 37 74 23 61 328 101 76 99 22 64 78 96 78 60 168 80 97 114 66 81 92 104 56 54 97 73 83 114 35 116 291 100 258 70 121 72 81 88 134 77 121 128 28 87 39 96 216 105 134 48 76 86 347 106 82 60 337 130 116 62"/>
<path class="m" d="M26 89 253 82 314 75 90 74 35 94 102 96 114 150 41 118 197 82 178 121 329 117 148 82 36 97 126 110 55 73 36 156 29 112 31 89 64 79 74 59 49 54 33 87 282 81 41 75 54 89 54 102 97 104 120 59 85 76 29 60 37 112 70 72 65 103 25 109 107 101 43 85 220 78 151 108 73 84 75 69 85 61 33 92 46 81 88 55 62 97 47 98 102 84 107 50 55 98 112 107 51 86 45 71 116 87 107 77 59 73 22 117 238 101 55 79 43 72 55 87"/>
<path class="f" d="M105 125 380 112 186 90 60 85 178 94 27 93 187 97 281 83 125 64 89 69 59 84 249 79 116 106 46 104 83 55 57 64 43 66 163 142 30 109 102 83 64 61 98 91 96 61 51 64 261 91 251 98 329 103 97 95 121 111 63 90 157 116 88 107 339 94 197 68 246 71 111 63 65 61 119 13 111 94 119 58 21 84 248 72 116 65 27 34 40 104 86 97 187 113 69 52 26 63 309 95 177 101 38 79 167 96 92 116 42 89 78 75 121 68 56 71 40 107 87 80 90 82 102 67 116 121 73 84 265 52 107 89 26 56"/>
<path class="m" d="M41 65 196 74 121 56 133 112 50 62 33 89 183 73 53 86 229 104 176 78 230 80 121 73 65 55 187 91 31 90 69 74 116 60 79 95 25 110 174 127 287 119 65 58 71 64 177 71 60 86 87 105 154 112 93 62 239 82 152 147 63 88 332 178 73 85 69 82 127 119 67 90 140 65 83 102 286 123 44 73 72 61 312 113 159 128 34 58 319 135 283 108 156 41 191 103 98 84 93 64 63 79 40 83 104 115 78 121 149 87 61 78 103 82 257 81 210 93 61 76"/>
<path class="f" d="M102 71 215 78 315 109 107 108 123 56 121 56 27 117 118 78 120 106 108 58 112 118 345 117 116 53 125 21 125 111 25 96 267 110 101 33 88 59 121 120 106 70 253 82 79 117 312 190 107 92 21 88 121 54 262 65 229 104 88 101 93 91 61 46 317 61 53 94 286 117 26 113 28 59 371 120 107 58 300 103 97 62 93 89 128 68 310 100 117 49 97 72 73 88 64 96 330 109 74 65 58 86 113 52 315 108 317 168 102 106 20 77 86 27 61 81"/>
<path class="m" d="M36 71 300 98 36 72 35 90 83 68 44 99 33 64 44 96 179 75 56 50 28 128 72 74 29 86 113 76 239 97 71 64 41 94 74 104 83 17 243 111 182 84 135 62 191 83 97 16 66 87 21 84 83 75 287 125 255 109 43 84 36 94 69 71 92 76 101 100 38 84 36 97 68 81 22 88 35 101 64 99 43 71 95 102 39 78 109 49 120 54 72 70 163 105 150 94 125 62 149 63 73 89 144 65 40 79 93 105 50 100 56 103 29 108 74 72 75 92 392 121 97 95 139 87 26 60 90 95 140 102 53 91 309 153 42 91"/>
<path class="f" d="M356 120 25 91 88 73 54 109 196 90 300 116 143 71 248 97 49 68 78 70 74 93 234 127 111 83 112 120 121 77 29 61 243 114 130 66 112 67 309 104 105 86 282 119 111 85 149 107 95 113 156 62 276 108 50 87 87 82 107 102 55 72 112 62 45 98 50 98 45 70 79 23 48 99 36 104 32 97 105 42 116 78 310 110 123 109 116 53 319 132 334 113 116 92 56 123 95 74 125 90 121 126 147 82 36 113 109 68 174 105 145 106 310 55 58 57 103 125 125 86 74 79 220 44 322 109 88 37 113 61"/>
<path class="m" d="M102 84 19 61 82 81 50 82 120 70 37 84 78 71 72 101 121 97 59 39 148 88 28 140 321 133 30 73 70 75 329 109 107 103 272 93 79 130 22 105 63 62 66 99 144 67 95 67 41 118 97 90 130 100 112 82 69 55 145 81 58 57 91 60 30 103 102 74 44 72 240 89 164 82 55 98 67 53 171 61 34 108 94 78 147 93 116 66 206 104 61 88 111 102 64 131 26 92 40 95 36 41 40 122 49 111 121 58 305 116 76 92 333 100 71 78 19 103 393 120 95 106"/>
<path class="f" d="M257 98 302 108 39 81 126 75 309 114 97 104 92 42 276 118 96 68 55 99 45 63 102 49 52 69 93 71 89 90 296 82 55 51 263 102 33 104 120 92 268 116 120 66 187 99 310 38 68 96 71 42 66 109 116 68 29 131 45 55 304 109 233 92 101 67 36 79 135 76 141 103 78 69 74 54 74 58 79 117 40 137 34 64 87 62 159 47 125 100 234 135 75 60 93 54 69 91 125 94 26 111"/>
<path class="m" d="M42 111 93 63 92 84 291 69 216 74 82 70 30 133 25 102 282 117 20 83 68 79 35 92 47 124 139 106 41 86 241 84 70 125 55 79 36 98 47 76 206 57 88 68 107 62 196 87 53 84 28 59 229 85 78 43 67 52 97 96 323 132 20 113 154 64 83 110 75 73 112 88 88 74 33 76 36 68 143 86 54 72 65 67 108 66 57 104 121 124 55 88 34 87 65 99 267 116 220 93 47 68 54 115 61 66 59 102 28 53 289 93 67 122 93 77 168 121 242 88 28 92 52 80 315 132 176 65 132 74 394 118 82 47 156 112 295 117 200 110 150 88 37 93 83 13 32 103 19 122"/>
<path class="f" d="M20 78 123 104 66 66 74 71 121 56 116 115 333 116 83 59 301 158 328 108 70 67 33 102 191 104 126 133 127 113 314 81 144 102 81 65 163 88 19 77 70 60 59 67 102 108 243 97 97 72 83 69 164 62 220 126 116 105 31 93 88 80 117 48 47 104 173 81 361 115 51 60 126 75 32 59 324 80 79 56 123 47 27 112 52 75 154 130 45 65 78 92 30 113 75 119 126 121 102 89"/>
<path class="m" d="M26 110 42 139 139 89 38 111 65 83 121 91 49 93 111 78 39 51 26 148 37 110 89 116 42 93 27 95 115 71 343 142 62 158 63 58 108 68 188 91 41 118 177 111 45 110 127 91 59 79 32 89 188 90 54 96 43 102 29 73 40 93 34 96 35 96 30 72 43 116 53 134 34 114 114 84 52 72 56 94 69 86 95 69 33 100 239 59 26 86 90 97 30 99 138 84 184 172 69 60 44 110 338 81 134 87 121 78 24 82 216 89 310 96 97 58 147 60 323 114 43 98 119 117 246 19 21 101 69 94 21 56 42 59 102 61 281 100 52 128 99 112 79 83 33 75 47 118 73 90 30 87"/>
<path class="f" d="M206 123 124 83 37 111 50 71 107 87 164 90 71 84 102 49 122 67 46 38 82 73 61 56 98 73 190 115 89 77 124 42 124 120 111 74 249 111 274 178 99 68 314 107 152 131 122 58 63 88 93 109 303 80 144 72 38 115 112 123 92 79 57 91 106 78 324 92 258 123 95 104 338 104 155 79 87 98 97 47 90 62 334 143 76 104 130 110 85 38 104 69 93 91 50 99 95 54 314 65 93 83 27 80 78 85 69 37 97 102 191 113 78 78 167 59 88 76 24 92 96 114 182 138 267 92 83 99 31 75 96 78 132 87"/>
<path class="m" d="M73 85 250 63 24 119 116 59 41 91 97 54 27 73 145 65 80 59 45 103 54 92 163 75 169 90 149 52 26 101 57 75 89 61 138 111 90 34 45 63 115 56 244 120 81 102 182 29 239 76 35 75 60 99 187 136 87 54 229 71 19 107 69 127 23 54 127 108 83 120 43 83 111 95 46 92 178 98 122 98 21 96 151 87 29 73 305 149 140 77 22 122 88 94 121 100 43 159 21 96 22 81 62 122 149 115 27 84 114 58 192 104 19 112 281 111 251 92"/>
<path class="f" d="M126 91 78 79 50 107 182 100 127 69 69 83 154 96 141 66 52 100 94 70 68 89 50 87 126 50 28 87 50 85 149 97 168 114 93 105 79 64 126 55 347 150 30 80 39 71 361 138 125 46 361 120 97 84 178 66 327 83 67 56 126 78 43 26 86 31 107 64 186 69 44 59 29 89 111 94 97 67 20 69 102 78 102 103 120 36 97 112 149 53 31 74 124 264 49 52 297 77 104 88 295 119 182 114 125 85 156 66 229 98 92 108 97 49 142 76 138 67 92 82 108 34 43 113 26 80 168 88"/>
<path class="m" d="M149 48 106 105 51 40 57 49 112 61 27 88 333 106 127 75 122 74 88 91 47 106 26 87 327 116 135 79 68 94 119 69 65 89 59 103 22 53 44 84 150 93 34 99 191 106 85 115 119 68 139 65 70 98 69 83 57 122 45 90 41 96 24 72 62 95 287 118 102 79 53 60 143 65 183 82 43 94 70 82 168 98 56 89 64 96 168 40 177 42 220 100 54 78 333 145 47 102 159 59 38 75 43 82 61 74 42 109 124 61 334 105 75 73 87 56 126 67 239 78 107 49 101 93"/>
<path class="f" d="M83 86 105 19 97 70 334 103 332 108 110 97 107 67 92 95 310 68 37 83 104 226 61 66 163 106 135 106 364 172 45 86 124 41 300 102 71 38 119 87 92 59 338 137 116 47 105 99 99 83 206 55 102 39 74 50 281 120 19 99 106 69 335 99 121 74 37 54 124 117 111 94 183 109 126 95 84 73 272 108 35 78 107 52 92 41 78 107 45 91 54 92 121 73 123 85 201 86 119 67 92 63 62 105 133 38 79 93 101 106 370 134 91 66 88 70 68 106 315 121"/>
<path class="m" d="M159 50 201 80 49 111 24 90 192 118 88 115 154 108 93 100 106 56 58 92 95 52 328 117 52 92 59 77 310 108 46 58 41 90 29 109 253 106 146 106 69 85 37 74 85 117 201 99 23 83 146 108 184 248 79 31 202 92 80 86 92 99 53 81 92 91 81 100 85 74 58 95 59 75 105 33 28 98 34 75 72 81 119 70 386 175 45 95 215 125 61 55 19 111 144 40 63 83 126 92 68 141 366 134 79 37 22 81 135 48 119 113 192 74 70 77 33 112 64 88 262 131 29 113 74 97 300 79 87 108 121 108"/>
<path class="f" d="M317 152 362 80 83 77 121 99 120 57 196 91 65 110 90 86 102 52 88 77 220 124 78 102 87 57 220 94 61 88 89 91 106 80 300 125 92 84 145 75 123 77 88 71 254 81 58 98 55 80 144 97 131 68 125 65 78 67 97 91 127 101 285 51 112 110 93 72 385 136 78 134 47 118 58 78 51 52 64 88 121 76 22 41 83 57 100 105 179 83 91 120 58 80 105 57 50 61 107 49 72 75 97 94 92 109 130 101"/>
<path class="m" d="M164 97 70 92 215 137 35 60 295 93 107 55 314 110 44 81 120 77 118 88 338 110 111 62 116 91 128 74 69 79 80 59 83 93 67 86 61 90 206 80 32 87 60 72 69 115 92 72 19 103 239 118 20 86 54 48 112 67 248 106 102 108 31 65 101 48 59 88 72 75 102 115 25 69 186 77 112 106 178 61 107 82 52 70 111 78 97 87 131 34 107 92 295 124 22 113 109 275 125 76 93 74 63 74 180 212 56 100 278 98 54 98 41 71 37 74 206 83 262 102 118 67 41 97 210 99 64 94 121 75 87 43 117 84 342 165 149 101 69 46 21 67 121 94"/>
<path class="f" d="M81 119 74 89 258 94 86 66 329 86 121 125 119 94 37 63 99 103 78 133 40 88 135 79 25 91 81 81 69 51 244 85 105 109 19 66 107 119 92 85 83 53 70 44 64 55 215 103 125 96 51 56 36 110 82 68 169 81 89 93 144 94 83 60 64 82 201 82 64 93 110 80 257 102 154 88 87 36 68 95 75 108 107 62 89 90 91 92 116 106 72 60 145 55 124 73 84 66 41 57 112 46 99 79 255 112 97 101 139 66 28 79 91 58 225 107 309 119"/>
<path class="m" d="M111 85 111 98 81 196 106 128 32 91 92 111 73 130 183 89 121 28 27 70 282 91 180 91 23 81 191 95 34 69 90 101 295 102 98 34 24 89 149 92 36 108 130 69 42 99 31 121 371 144 116 84 94 43 55 84 154 123 37 120 22 81 135 92 281 88 23 98 243 86 201 120 98 55 74 78 55 95 88 52 69 89 31 100 34 87 26 94 59 104 72 102 88 30 33 97 92 70 92 57 146 88 60 107 20 116 97 68 286 124 40 96 31 78 86 70 26 92 82 90 56 111 177 79 120 113 70 68 126 106 116 92 83 75"/>
<path class="f" d="M51 101 406 128 44 108 88 73 111 99 28 110 67 99 42 79 116 103 85 161 357 135 107 79 122 85 85 114 155 84 201 90 88 33 87 42 168 76 121 75 83 110 343 111 110 81 124 44 78 102 78 70 54 106 93 65 121 67 51 76 97 96 130 56 125 83 107 89 20 67 93 105 105 73 128 73 81 101 97 78 308 88 46 85 29 74 74 88 111 52 77 41 215 94 183 109 97 75 121 56 79 99 125 45 116 90"/>
<path class="m" d="M74 88 139 80 263 101 267 94 111 43 131 71 22 97 140 99 126 88 54 94 90 50 55 103 96 71 39 93 62 100 102 84 125 60 182 89 28 89 349 130 239 115 55 52 290 106 31 78 65 112 330 99 116 65 156 97 318 118 112 77 71 78 41 78 127 98 31 107 67 104 125 70 309 95 127 79 121 139 47 52 357 83 126 104 91 89 230 92 48 79 51 73 56 92 191 97 131 69 165 80 61 93 121 76 86 92 68 75 97 149 247 68 40 107 74 74 104 55 342 100 206 107 149 30 41 110 71 86 79 85 31 67 33 86 76 209 59 88 81 271 64 60 74 84 121 80"/>
<path class="f" d="M124 50 55 104 238 96 30 94 19 96 100 246 163 130 81 82 23 79 90 92 295 119 41 87 135 69 74 72 48 79 149 88 107 108 77 58 26 68 63 65 150 80 315 117 206 59 32 90 97 68 253 107 135 75 314 119 70 83 37 86 116 59 118 71 93 124 89 115 211 78 64 106 102 64 333 111 370 82 105 66 288 92 324 122 58 82 117 64 111 65 111 78 78 96 138 87 47 104 68 55 114 73 126 56"/>
<path class="m" d="M88 122 121 58 70 77 329 92 88 78 61 127 58 93 300 134 149 70 57 89 113 67 38 97 51 76 333 123 64 89 92 88 69 76 47 113 92 91 116 76 27 100 126 124 122 34 337 119 49 97 22 70 26 77 100 47 58 114 69 110 113 86 68 83 45 74 73 98 234 123 79 81 92 98 90 190 111 98 94 69 126 92 101 82 36 111 86 114 23 152 115 113 130 120 70 75 79 93 39 93 31 106 78 110 245 117 26 99 92 83 38 113 251 164 177 95 168 120 63 91 52 71 67 91 107 90 98 59 24 113 182 98 66 110 30 84 122 89 51 69 64 56 290 119 28 103 36 61"/>
<path class="f" d="M112 73 88 83 79 90 263 85 111 87 94 57 187 85 147 104 133 57 329 98 42 123 103 90 120 40 71 114 267 108 31 67 291 110 22 79 125 56 281 115 285 106 113 106 94 110 234 75 67 72 54 110 112 63 76 50 146 76 49 102 118 70 89 85 304 90 263 128 43 91 91 97 77 36 248 98 94 79 68 75 89 111 132 29 31 99 90 110 46 74 38 75 105 79 57 89 92 90 37 58 333 96 98 57 347 125 333 84 238 85 246 47 78 84 206 63 121 83 70 95 116 70 158 68"/>
<path class="m" d="M83 75 39 78 93 74 53 67 117 106 62 103 84 100 79 64 83 56 117 102 43 106 73 81 214 104 45 107 66 77 112 99 20 114 78 118 52 97 84 61 88 127 114 89 67 60 76 60 310 120 120 107 54 99 54 73 121 13 49 109 46 98 73 108 328 78 64 97 50 72 64 63 191 77 95 95 121 101 50 50 339 125 60 89 23 80 33 88 21 108 68 67 53 91 37 112 216 83 112 86 130 98 111 60 24 87 94 23 60 115 82 79 45 69 116 44 338 117 22 86 48 109 74 62 54 101 71 33"/>
<path class="f" d="M88 86 36 110 111 67 111 127 309 127 145 99 111 89 182 89 139 103 314 138 75 85 121 101 88 56 126 96 99 126 98 76 76 87 20 95 143 50 87 97 40 90 116 95 121 92 87 70 44 103 93 107 64 52 66 72 305 108 126 107 125 37 33 105 51 112 107 65 333 91 121 80 45 98 328 123 68 56 104 63 55 113 107 65 93 45 47 72 97 42 112 123 26 62 137 74 71 108 86 111 96 90 111 88 190 79 111 76 154 71 102 125 21 128 23 104 63 106 38 88 59 93 141 85 100 87 36 67 129 97 98 76 119 103 91 82 286 62 83 87"/>
<path class="m" d="M114 98 47 62 338 117 59 91 28 91 78 78 45 100 223 93 257 89 54 30 230 128 310 89 58 88 104 96 34 66 72 55 20 90 85 98 33 138 64 68 20 83 110 75 310 73 61 72 47 98 23 52 128 109 121 122 111 86 89 114 182 79 56 76 49 63 42 104 121 85 92 62 220 77 111 71 153 94 75 98 68 65 78 114 62 79 394 118 78 75 128 101 48 97 243 102 107 63 149 50 30 118 88 91 114 105 126 53 153 129 88 97"/>
<path class="f" d="M76 78 61 78 121 63 23 34 88 92 88 98 96 74 90 35 32 61 139 97 126 63 63 69 154 108 282 127 102 88 114 89 107 62 74 83 188 92 92 54 111 117 111 77 309 125 49 59 76 63 106 104 230 42 97 91 140 91 125 91 83 100 267 79 126 90 141 126 126 92 21 53 108 92 24 84 140 99 139 75 154 80 116 90 34 72 146 127 109 95 83 72 91 122 122 63 126 78 99 102 37 24 88 42 121 62 135 106 130 83 366 132 135 67 310 120"/>
<path class="m" d="M56 80 88 99 73 92 96 93 385 119 60 51 66 91 130 46 29 109 59 115 101 105 52 89 36 92 243 117 55 63 163 101 74 81 118 117 86 102 20 108 133 191 155 89 172 94 138 70 29 136 48 92 219 59 78 128 121 66 97 62 221 129 231 111 100 264 54 98 28 82 112 89 78 90 182 71 259 132 49 103 102 76 339 111 26 108 220 115 46 96 45 112 94 72 149 119 21 152 78 47 35 144 40 78 220 96 63 55 146 84 206 102 64 62 61 66 114 78 44 111 88 85 105 69 71 103 156 116 120 77 74 67 51 68 61 73"/>
<path class="f" d="M67 124 366 130 53 74 22 72 244 74 27 103 333 100 60 47 324 93 120 90 319 84 219 88 156 28 58 85 342 120 92 93 201 63 135 83 51 80 20 89 36 57 238 89 109 56 109 80 177 84 149 90 78 84 81 47 87 109 111 67 29 100 36 64 90 87 224 103 22 68 41 94 239 93 121 109 111 123 140 91 269 85 140 64 62 63 90 169 50 69 88 74 292 104 140 101 221 136 194 138 87 65 351 131 168 83 83 69 90 75 78 68 87 78 116 82 89 95"/>
<path class="m" d="M74 67 97 36 116 86 116 73 22 81 154 114 121 65 88 55 24 44 55 87 52 111 31 58 332 97 89 53 55 73 329 137 95 93 394 149 37 110 46 87 41 111 125 85 54 76 135 47 157 79 56 92 36 111 66 78 47 61 32 67 53 76 73 87 87 109 95 50 286 118 78 71 28 108 81 66 180 98 86 72 152 74 119 69 44 76 32 66 170 86 82 66 149 113 35 86 97 86 156 70 61 105 86 85 89 102 88 95 25 101 99 41 128 108 26 71 65 56 147 99 35 78 102 96 58 96 85 63 70 80 88 46 25 89"/>
<path class="b" d="M19 57.8 27.1 55.5 35.1 53.3 43.2 51.3 51.3 49.3 59.3 47.5 67.4 46 75.5 44.6 83.6 43.4 91.6 42.8 99.7 42.8 107.8 42.8 115.8 42.8 123.9 43.2 132 44.4 140 45.8 148.1 47.2 156.2 48.9 164.2 50.6 172.3 51.9 180.4 53.2 188.5 54.2 196.5 54.9 204.6 55.4 212.7 55.9 220.7 56.2 228.8 56.5 236.9 56.8 244.9 57.3 253 58.2 261.1 59.3 269.1 60.7 277.2 62.4 285.3 64.3 293.4 66.5 301.4 68.9 309.5 71.6 317.6 74.4 325.6 77.4 333.7 80.5 341.8 83.4 349.8 86.2 357.9 88.9 366 91.2 374 93 382.1 94.6 390.2 95.8 398.2 96.7 L398.2 180.7 390.2 179.7 382.1 177.8 374 175.7 366 173.3 357.9 170.4 349.8 167.2 341.8 163.9 333.7 160.5 325.6 156.9 317.6 153.5 309.5 150.3 301.4 147.1 293.4 144.3 285.3 141.8 277.2 139.5 269.1 137.6 261.1 136.2 253 135 244.9 134.1 236.9 133.7 228.8 133.4 220.7 133.1 212.7 132.7 204.6 132.3 196.5 131.8 188.5 131.1 180.4 130.1 172.3 128.8 164.2 127.4 156.2 125.8 148.1 124 140 122.6 132 121.2 123.9 120.1 115.8 119.7 107.8 119.7 99.7 119.7 91.6 119.7 83.6 120.2 75.5 121.5 67.4 122.9 59.3 124.4 51.3 126.2 43.2 128.1 35.1 130.2 27.1 132.4 19 134.7Z"/>
<path class="b" d="M19 49 27.3 48.6 35.5 48 43.8 47.4 52 46.4 60.3 45.3 68.5 44.4 76.8 43.4 85 42.5 93.3 42 101.6 41.6 109.8 41.6 118.1 42.1 126.3 42.9 134.6 44 142.8 45.2 151.1 46.6 159.3 48.3 167.6 49.6 175.9 50.6 184.1 51.4 192.4 52 200.6 52.4 208.9 52.7 217.1 53 225.4 53.4 233.6 53.9 241.9 54.5 250.1 55.3 258.4 56.3 266.7 57.5 274.9 58.9 283.2 60.7 291.4 62.7 299.7 65 307.9 67.8 316.2 70.7 324.4 73.7 332.7 76.8 341 79.9 349.2 82.7 357.5 85.5 365.7 87.8 374 89.7 382.2 91.3 390.5 92.2 398.7 92.6 407 92.8 L407 175.8 398.7 175.6 390.5 175.1 382.2 173.6 374 171.4 365.7 169 357.5 166.1 349.2 162.8 341 159.4 332.7 155.8 324.4 152.2 316.2 148.7 307.9 145.4 299.7 142.2 291.4 139.5 283.2 137.1 274.9 135 266.7 133.4 258.4 132.2 250.1 131.2 241.9 130.5 233.6 129.9 225.4 129.4 217.1 129 208.9 128.6 200.6 128.4 192.4 128 184.1 127.4 175.9 126.5 167.6 125.5 159.3 124.2 151.1 122.6 142.8 121.1 134.6 119.9 126.3 118.8 118.1 118 109.8 117.6 101.6 117.5 93.3 117.9 85 118.5 76.8 119.4 68.5 120.3 60.3 121.3 52 122.4 43.8 123.3 35.5 124 27.3 124.6 19 125Z"/>
<path class="lm" d="M19 96.2 27.1 93.9 35.1 91.7 43.2 89.7 51.3 87.8 59.3 85.9 67.4 84.4 75.5 83 83.6 81.8 91.6 81.3 99.7 81.2 107.8 81.2 115.8 81.2 123.9 81.6 132 82.8 140 84.2 148.1 85.6 156.2 87.3 164.2 89 172.3 90.4 180.4 91.6 188.5 92.7 196.5 93.4 204.6 93.9 212.7 94.3 220.7 94.7 228.8 94.9 236.9 95.2 244.9 95.7 253 96.6 261.1 97.8 269.1 99.1 277.2 100.9 285.3 103.1 293.4 105.4 301.4 108 309.5 110.9 317.6 114 325.6 117.2 333.7 120.5 341.8 123.7 349.8 126.7 357.9 129.7 366 132.2 374 134.3 382.1 136.2 390.2 137.7 398.2 138.7"/>
<path class="lf" d="M19 87 27.3 86.6 35.5 86 43.8 85.3 52 84.4 60.3 83.3 68.5 82.3 76.8 81.4 85 80.5 93.3 79.9 101.6 79.5 109.8 79.6 118.1 80.1 126.3 80.8 134.6 81.9 142.8 83.1 151.1 84.6 159.3 86.3 167.6 87.6 175.9 88.6 184.1 89.4 192.4 90 200.6 90.4 208.9 90.7 217.1 91 225.4 91.4 233.6 91.9 241.9 92.5 250.1 93.3 258.4 94.3 266.7 95.4 274.9 97 283.2 98.9 291.4 101.1 299.7 103.6 307.9 106.6 316.2 109.7 324.4 112.9 332.7 116.3 341 119.6 349.2 122.8 357.5 125.8 365.7 128.4 374 130.5 382.2 132.5 390.5 133.6 398.7 134.1 407 134.3"/>
<rect class="s" width="426" height="288"/>
<rect class="lg" x="309.8" y="8.3" width="108.6" height="50" rx="3.1"/>
<circle class="cf" cx="332.1" cy="21.4" r="4.17"/>
<circle class="cm" cx="332.1" cy="43.6" r="4.17"/>
<text class="t" x="360.4" y="25.7">female</text>
<text class="t" x="360.4" y="48.7">male</text>
<text class="tt" x="213" y="-8.3" text-anchor="middle">Amygdala</text>
<text class="t" x="-13.6" y="41.1" text-anchor="end">0.0008</text>
<text class="t" x="-13.6" y="77.1" text-anchor="end">0.0007</text>
<text class="t" x="-13.6" y="113.1" text-anchor="end">0.0006</text>
<text class="t" x="-13.6" y="149.1" text-anchor="end">0.0005</text>
<text class="t" x="-13.6" y="184.1" text-anchor="end">0.0004</text>
<text class="t" x="-13.6" y="220.1" text-anchor="end">0.0003</text>
<text class="t" x="-13.6" y="256.1" text-anchor="end">0.0002</text>
<text class="t" x="-13.6" y="292.1" text-anchor="end">0.0001</text>
<text class="l" transform="translate(-77,144) rotate(-90) scale(1,1.09)" text-anchor="middle">GM volume (TIV-normalized)</text>
</g>
<g transform="translate(1176,40)">
<path class="g" d="M86.5 0V288M180.5 0V288M275.5 0V288M369.5 0V288M0 2.5H426M0 48.5H426M0 95.5H426M0 141.5H426M0 187.5H426M0 233.5H426M0 279.5H426"/>
<path class="f" d="M249 203 56 187 74 203 27 173 52 207 83 208 179 229 51 165 45 178 85 233 146 184 64 143 88 170 62 177 107 198 140 191 187 193 88 165 258 229 97 197 187 180 158 198 26 190 56 200 38 191 121 223 88 189 48 193 53 199 42 183 154 226 109 215 55 207 78 212 345 238 57 214 90 192 97 207 121 204 34 199 126 226 121 221 333 239 143 194 79 174 69 178 93 183 93 226 97 221 72 161 271 140 149 226 108 153 31 166 329 226"/>
<path class="m" d="M68 194 22 140 154 220 328 231 49 143 83 141 221 236 131 220 112 209 102 189 21 130 97 217 107 214 59 203 329 223 206 221 61 160 182 222 58 179 22 192 121 225 70 209 63 182 59 150 38 163 52 188 247 215 149 124 74 224 29 185 26 123 54 158 129 134 41 171 31 152 41 186 99 151 44 187 49 205 83 218 44 193 65 165 338 242 83 198 108 228 102 192 43 198 50 176 62 146 35 163 59 216 49 198 145 223 44 155 19 122 65 175 102 228 245 209 100 191 42 210 191 223 41 201 148 189 183 205 40 140 29 177 97 217 111 228 20 163 146 178"/>
<path class="f" d="M33 206 347 198 107 211 97 217 30 187 97 226 118 175 50 206 96 141 107 223 24 209 98 205 300 245 125 220 215 203 140 223 116 179 49 176 69 188 187 186 83 178 93 230 187 185 78 187 81 155 338 241 55 222 209 234 287 227 100 208 100 203 91 210 124 189 121 219 21 179 121 205 177 221 133 204 301 229 366 246 92 185 357 232 291 225 88 219 258 220 72 188"/>
<path class="m" d="M61 208 267 211 114 190 35 147 32 165 31 183 92 188 114 146 234 188 88 238 318 237 54 216 97 234 104 176 21 149 231 199 149 179 205 218 263 226 35 170 140 197 105 226 343 252 97 210 133 112 22 139 223 225 48 107 41 188 156 246 74 166 23 180 54 193 49 137 122 218 37 195 70 217 177 235 83 201 38 209 192 220 147 218 27 136 111 226 156 190 117 199 53 225 112 177 26 188 32 176 45 154 121 185 243 212 47 195 139 197 64 204 283 203 398 254 43 196 145 226 69 207 37 185 93 160 34 157 140 205 68 197 40 177 79 182 392 236 361 223 51 157 30 189 153 196 70 193 65 195 172 218 22 186 33 197 95 204"/>
<path class="f" d="M37 168 58 211 225 225 121 214 61 187 135 194 281 228 106 195 125 173 102 187 248 222 97 244 68 206 75 199 285 226 83 121 70 210 50 194 58 162 97 205 64 186 90 193 87 205 103 193 244 199 101 213 129 189 26 189 101 189 123 218 54 190 102 208 31 184 92 174 300 243 86 208 196 189 286 217 286 228 370 244 79 188 22 161 69 215 125 182 82 201 45 190 44 209 282 225 244 219 60 190 32 168 300 194 84 170 88 184 21 188 210 239 178 208 94 217 291 243"/>
<path class="m" d="M177 183 96 227 69 180 78 222 40 179 111 210 41 218 196 187 36 161 74 213 95 197 159 199 41 198 133 224 28 140 259 235 95 199 85 192 220 222 93 207 162 234 87 196 121 217 82 206 60 173 34 139 49 194 91 214 69 174 206 203 70 206 282 238 27 198 337 244 43 174 24 193 69 184 281 231 27 186 33 196 97 220 35 194 107 217 31 196 111 208 64 198 118 207 53 187 26 169 114 222 93 146 68 195 36 203 48 190 41 184 30 199 154 217 45 179 70 187 127 185 54 153 159 225 104 169 53 127 126 215 94 177"/>
<path class="f" d="M19 147 310 214 102 164 155 194 106 226 276 238 51 206 263 229 30 146 149 217 31 170 50 158 158 223 220 164 105 206 327 233 55 199 52 184 36 205 230 176 105 184 26 158 215 204 39 185 53 201 144 192 30 183 90 228 71 186 343 232 102 204 20 176 83 182 115 168 57 194 32 140 137 179 102 207 41 161 23 169 83 210 111 215 110 196 134 227 89 214 97 154 112 159 105 191 88 211 168 190 119 187 112 192 97 141 102 217 263 206 251 237 102 207 366 237 103 211 196 219 88 201"/>
<path class="m" d="M78 155 25 170 93 186 55 223 82 221 87 188 176 214 197 219 282 219 83 202 149 195 263 225 295 215 48 188 60 181 29 151 59 155 98 216 305 223 144 207 97 204 28 209 33 195 87 155 201 230 79 175 53 177 73 202 300 232 56 163 24 192 61 195 119 166 95 199 120 156 134 207 177 197 22 206 116 232 31 188 323 246 101 194 394 233 164 217 70 186 152 221 36 172 104 142 25 177 206 202 99 216 154 217 230 226 106 182 105 203 66 205 52 132 56 220 201 227 41 203 59 206 83 209 49 186 89 192"/>
<path class="f" d="M131 214 76 202 116 197 93 176 141 185 113 191 76 102 120 207 380 225 119 184 128 232 105 231 244 233 303 230 103 186 87 185 333 235 300 219 168 188 20 153 63 151 83 207 97 166 144 198 337 237 269 214 38 192 327 224 45 175 83 203 64 179 168 204 219 217 126 210 121 188 83 187 48 211 44 205 121 157 96 183 314 216 119 141 95 193 112 218 69 193 55 194 33 200 88 205 111 216 67 174 99 203 108 134 163 176 90 172 123 218 107 165 46 203 167 224 71 148 113 205"/>
<path class="m" d="M111 182 53 161 295 242 95 181 332 228 127 229 67 202 92 168 149 221 88 229 36 196 112 217 102 215 328 238 50 211 295 225 35 190 25 180 44 184 126 231 45 208 121 218 150 216 79 195 26 146 123 238 71 186 83 196 88 204 68 187 314 225 50 187 37 211 103 227 128 217 56 149 36 180 98 229 83 197 101 197 42 189 61 203 128 176 86 218 29 189 90 165 76 202 74 202 54 144 70 223 51 194 111 180 97 225 53 177 321 230 130 168 182 219 53 165 153 209 28 180 69 179 287 229 60 181 49 173 61 206"/>
<path class="f" d="M74 131 74 211 121 218 229 239 88 172 116 207 258 221 362 233 106 105 78 193 120 222 144 195 78 204 79 200 89 179 342 231 102 180 125 196 88 242 135 224 116 184 238 216 78 210 174 215 75 109 90 226 49 170 79 220 34 176 149 224 104 164 117 191 119 155 104 206 74 156 111 225 98 195 25 178 351 233 58 199 134 192 125 236 121 200 82 228 96 214 50 170 108 222 51 200 40 196 159 141 30 179 309 234 70 167 66 201 116 184 121 206 78 178 94 216 315 205 110 216 97 126 21 186 96 179"/>
<path class="m" d="M138 220 20 183 37 183 112 211 72 173 127 204 34 205 74 207 69 154 281 233 59 183 75 205 22 125 31 179 20 113 66 181 230 203 45 205 215 214 45 184 58 172 66 146 42 180 22 168 34 184 119 197 267 231 257 230 257 238 168 200 37 182 186 192 215 232 215 178 92 185 328 236 153 234 39 184 147 209 73 201 54 195 111 167 88 228 149 180 93 209 67 163 67 176 35 187 122 207 72 183 69 192 263 238 183 199 67 195 113 220 72 172 56 193 54 180 88 231 282 221 339 243 22 203"/>
<path class="f" d="M28 180 91 179 130 176 310 172 33 193 333 234 92 157 112 205 308 232 93 176 78 197 144 177 59 173 121 242 140 200 46 191 226 213 93 166 263 186 37 194 63 197 90 168 22 191 20 145 22 198 20 163 116 152 93 224 253 213 116 200 111 170 112 222 22 188 111 209 159 224 28 173 20 186 99 222 27 192 54 210 122 168 130 217 89 188 120 188 37 177 120 205 268 203 121 209 295 212 95 213 26 189 145 204 111 151 83 212 93 210 47 208 20 167 132 188 92 203 88 167 72 216 99 200 121 213"/>
<path class="m" d="M22 199 121 192 85 174 46 172 43 209 54 186 63 218 29 146 42 193 49 216 338 249 170 228 60 133 73 164 309 241 109 187 47 155 57 150 61 142 73 201 328 186 121 219 323 203 65 191 126 192 60 143 111 149 125 196 33 180 101 207 37 184 44 168 72 201 50 198 78 231 42 185 33 101 149 213 243 206 366 251 61 184 55 174 116 210 20 175 24 187 327 245 73 172 36 140 39 201 214 228 29 196 71 219 180 237 286 232 51 215 202 208 85 227 69 187 55 170 51 209 150 238 192 230"/>
<path class="f" d="M97 103 37 213 187 220 304 223 107 203 153 229 333 218 144 184 267 227 51 192 139 245 196 239 130 214 83 146 76 222 126 219 83 122 59 213 45 190 156 153 26 164 68 194 84 145 315 191 114 59 27 176 164 212 59 203 93 207 32 186 100 221 36 160 93 238 113 227 92 208 121 245 129 196 111 230 225 166 229 200 81 194 27 213 300 201 23 202 97 211 47 183 281 217 92 185 105 218 106 147 281 206 111 216 92 158 188 217 50 171 79 133 65 185 261 237 78 163 300 222 105 176 60 152 224 219 107 213 116 205"/>
<path class="m" d="M83 174 26 209 54 187 120 240 111 167 75 201 125 181 107 200 29 187 53 180 83 193 42 202 68 194 62 206 83 160 45 188 37 196 28 176 153 208 70 197 64 208 61 194 78 193 220 216 305 216 143 136 55 171 239 200 66 182 40 200 36 132 139 190 90 228 49 198 89 139 58 205 130 203 75 222 114 217 169 224 59 149 88 185 70 205 170 179 146 220 26 151 206 219 74 211 31 186 51 191 49 174 111 179 220 194 121 222 116 200 172 212 64 165 79 201 338 226 95 178"/>
<path class="f" d="M258 215 105 160 102 206 111 216 78 227 82 220 46 194 60 188 78 161 319 222 310 212 300 238 107 204 102 203 35 172 125 182 102 205 103 155 137 184 83 196 314 194 146 187 330 230 88 225 125 188 206 206 92 179 67 215 123 203 97 194 133 212 41 205 78 177 127 231 55 157 82 157 127 192 118 220 248 224 36 190 39 194 154 172 31 196 180 166 116 205 71 203 66 219 126 178 42 158 201 179 48 175 116 177 90 212 116 209 385 245 126 204 79 234 324 233 118 184 35 190 215 220 95 186 36 201"/>
<path class="m" d="M78 175 26 128 333 223 26 197 25 131 121 228 180 180 60 162 61 161 305 210 69 196 27 182 182 243 59 214 42 217 50 189 124 244 88 223 49 194 70 182 55 202 88 223 21 192 216 193 319 247 19 134 177 217 43 152 149 219 87 176 26 175 27 182 42 167 47 156 286 227 57 189 292 224 122 245 62 190 31 162 88 237 28 154 79 219 30 170 19 207 54 175 21 180 149 194 154 242 117 176 187 213 97 199 116 228 210 231 46 142 65 212 26 197 128 193 117 210 31 194 116 212 200 224"/>
<path class="f" d="M124 207 122 186 71 199 59 207 98 214 215 228 310 219 92 205 68 165 169 184 64 218 328 235 333 241 87 203 126 204 76 198 85 208 111 223 124 216 129 209 90 102 67 193 328 232 82 240 107 195 45 134 25 201 239 175 282 230 121 235 187 202 138 194 111 196 128 196 191 213 74 169 61 183 125 181 91 189 332 227 257 197 315 206 215 212 81 207 64 207 27 185 281 206 187 211 164 233 97 212 54 161 96 195 88 232 68 197 111 202 117 208 111 200 89 223"/>
<path class="m" d="M34 167 120 206 61 155 201 211 85 208 127 217 65 181 310 236 19 175 220 181 55 191 74 143 110 153 253 203 159 225 44 200 69 201 239 221 94 191 71 194 30 178 94 180 82 132 79 219 120 197 28 187 62 191 85 201 119 248 33 176 289 245 46 207 21 196 69 202 26 175 89 209 94 227 22 119 74 210 32 186 83 186 41 193 50 144 79 173 36 187 39 143 139 216 240 225 30 174 163 215 27 191 50 194 60 227 239 218 40 142 182 217 92 224 28 148 115 201 300 220 238 227 73 192 60 164 63 223 177 237 51 197 27 146"/>
<path class="f" d="M116 202 314 219 120 201 167 163 334 229 101 236 111 193 123 227 248 219 70 192 88 106 141 180 21 195 88 162 121 218 23 194 121 162 190 176 267 217 92 179 78 180 43 159 238 199 286 205 125 189 127 166 107 203 92 224 33 170 201 231 36 172 302 209 89 232 22 193 42 180 292 204 119 157 95 195 22 205 180 156 89 192 103 180 168 187 110 223 116 206 112 218 63 214 56 196 74 194 77 203 156 205 56 205 78 173 94 209 50 204 58 216 22 115 109 157 124 185 75 122 70 169 96 201 102 219"/>
<path class="m" d="M78 195 30 180 66 222 94 205 73 186 55 218 32 182 132 225 41 137 146 212 33 168 58 165 73 187 55 210 200 242 30 196 47 179 128 201 106 195 116 205 93 184 119 207 90 177 121 150 70 214 57 217 74 199 26 173 32 150 122 193 44 210 91 167 97 199 72 186 337 250 26 184 191 198 135 176 22 175 72 194 64 163 239 193 43 194 220 231 39 204 110 173 126 228 24 191 206 220 216 223 78 241 292 250 119 174 156 208 83 159 47 190 253 225 329 237 151 210 250 229 139 222 87 187"/>
<path class="f" d="M361 232 32 194 78 187 309 218 47 197 26 185 258 207 74 218 54 170 27 181 140 218 36 195 62 134 86 165 149 225 126 199 267 226 43 199 109 227 50 187 187 236 19 188 107 198 86 159 121 236 99 182 26 166 21 192 149 209 45 183 182 221 238 230 183 197 125 236 249 222 125 216 107 211 43 176 36 163 262 224 88 215 76 180 333 208 102 216 51 179 87 232 112 196 121 226 333 237 54 182 329 239 29 186 64 210 92 184 206 190 78 181 26 173 143 217"/>
<path class="m" d="M23 193 71 207 36 202 54 153 55 198 121 241 268 214 34 193 86 203 66 187 86 202 64 194 21 164 44 201 81 218 119 198 41 200 230 172 38 186 40 184 30 170 34 176 51 200 46 195 26 189 75 176 175 147 310 228 63 179 286 238 70 213 290 223 92 234 97 201 125 220 72 168 97 232 78 194 339 220 45 151 53 202 126 180 22 179 29 193 24 183 20 200 45 165 116 189 191 183 55 194 97 209 114 230 115 212 73 214 333 193 56 212 95 216 78 181 54 196 44 92 107 190 89 178 120 170 107 184 121 218 54 190 174 209"/>
<path class="f" d="M87 147 62 179 90 202 338 207 44 170 125 217 37 189 33 215 206 225 299 235 102 219 145 201 69 171 121 235 109 194 116 220 173 208 22 178 40 188 44 188 286 239 190 223 118 219 92 237 117 223 306 216 90 214 114 216 121 177 41 203 173 193 93 219 192 228 116 190 93 191 26 156 19 196 141 182 133 236 324 215 125 194 135 214 55 170 78 201 130 213 116 200 38 195 93 197 107 205 46 158 40 152 78 209 79 135 78 167 288 239 116 192 61 158 64 199 111 156 111 215 322 217 121 200 116 181 261 223 138 213 130 209 58 201"/>
<path class="m" d="M272 198 130 230 152 233 87 205 135 213 45 164 135 154 178 209 70 202 57 194 73 204 102 183 30 187 295 240 112 229 65 171 140 176 43 199 19 137 191 222 314 232 53 206 19 142 244 235 135 218 90 150 59 214 61 151 63 154 43 185 102 229 112 222 114 215 43 192 135 126 80 198 155 210 289 222 102 193 63 208 157 185 65 207 59 161 102 209 262 199 121 197 47 197 48 200 43 204 42 192 262 205 19 125 44 180 56 188 331 241 309 237 106 190 64 193"/>
<path class="f" d="M239 222 361 218 59 204 69 185 97 198 121 205 86 229 300 223 291 206 47 179 144 215 26 185 45 203 47 185 29 198 45 178 317 213 93 203 111 215 112 192 291 240 183 199 272 208 182 222 191 165 66 197 64 182 221 205 309 220 37 207 116 234 97 220 81 197 378 228 234 196 347 229 107 222 335 227 64 203 93 204 61 202 72 174 75 161 168 190 76 125 319 233 201 239 31 207 111 200 126 207 243 229 83 211 125 210 52 159 76 207 154 207 88 191 111 181"/>
<path class="m" d="M87 167 25 183 22 208 86 211 76 214 36 191 129 193 45 190 28 185 40 123 78 197 52 144 126 228 295 230 80 147 295 232 127 190 393 234 47 177 122 189 63 171 168 235 136 192 287 201 102 113 229 217 36 195 149 199 107 211 55 175 126 238 300 237 74 203 81 168 97 168 90 225 107 204 98 212 295 229 36 206 40 189 31 143 98 215 45 166 91 218 182 206 179 190 121 169 121 228 97 209 35 142 122 222 54 198 163 153 79 217 97 202 94 159 229 231 83 176 30 173 64 142 65 132 34 182 371 232 111 210 40 199 49 170"/>
<path class="f" d="M64 202 93 160 76 137 29 193 125 172 126 219 87 212 114 203 334 222 81 193 135 211 338 222 83 212 366 246 29 176 87 214 97 210 83 220 94 202 20 158 116 168 78 215 89 222 107 153 180 162 43 204 123 205 103 229 97 233 78 226 297 230 147 227 68 181 102 209 98 213 40 181 81 151 110 194 124 217 113 210 129 177 135 215 120 209 116 224 144 211 105 195 197 226 97 200 37 183 139 200 79 215 205 228 70 211 109 227 124 186 41 204"/>
<path class="m" d="M135 196 112 235 37 185 349 241 50 159 36 206 165 231 28 172 21 159 37 179 36 192 45 192 267 233 125 216 281 193 59 201 116 184 338 239 93 239 121 218 178 225 38 184 26 195 140 232 91 195 27 176 278 210 333 240 122 236 34 189 54 208 92 191 82 164 88 203 64 144 60 221 130 195 287 189 21 188 78 188 95 168 211 244 239 220 85 175 33 170 92 222 63 192 92 199 243 226 106 206 182 170 121 216 159 216 67 182 342 224 120 190 150 198 21 190 328 247 28 179 88 227 106 169 131 184 243 210 88 201 30 193 92 197 40 180 61 187"/>
<path class="f" d="M309 230 149 176 103 211 79 187 49 158 32 182 63 203 96 208 87 204 99 215 91 198 63 208 36 172 139 214 51 204 371 241 72 197 107 191 49 214 360 237 97 212 91 217 106 223 65 200 79 231 107 204 309 232 81 118 62 145 126 186 356 208 164 216 291 230 58 195 167 212 85 190 92 219 89 210 163 208 97 211 128 224 94 231 120 177 74 207 95 208 97 178 92 196 111 171 26 179 141 209"/>
<path class="m" d="M118 218 112 207 113 227 267 215 130 234 343 237 61 192 21 184 32 169 107 176 54 193 46 197 45 186 191 197 188 172 68 208 146 208 107 190 63 157 394 233 25 200 36 173 50 172 143 224 334 242 119 202 156 214 88 195 71 207 318 242 98 188 64 223 61 212 135 218 88 198 112 243 121 200 114 191 86 229 66 196 93 209 78 170 56 182 219 203 35 173 154 202 25 121 57 195 68 182 67 196 126 212 27 203 74 185 88 199 54 186 78 220 79 177 125 223 59 194 149 205 92 229 69 190 90 210 206 200 142 175 34 134 23 185 34 201 27 184 335 222 38 172 45 207 330 186 69 145 114 203"/>
<path class="f" d="M181 165 107 200 36 158 149 179 98 227 121 209 61 210 77 220 123 167 102 212 37 208 84 202 35 187 116 196 81 201 122 189 324 242 126 221 134 188 88 206 50 202 85 193 144 238 89 209 67 224 121 153 216 219 88 223 121 209 215 235 89 156 87 185 77 152 83 187 38 206 112 189 83 201 126 213 177 213 83 225 126 170 27 157 124 190 28 193 92 171 82 181 74 152 45 138 78 223 93 202"/>
<path class="m" d="M29 152 117 209 92 229 20 176 83 179 102 216 23 134 83 237 59 191 33 188 107 217 107 147 58 156 196 228 54 190 78 196 69 191 80 215 60 198 159 210 116 218 72 179 120 222 73 176 97 208 45 188 102 187 74 192 22 148 30 151 40 197 22 145 49 193 28 190 107 196 55 196 88 187 33 178 47 152 188 223 239 215 99 210 28 180 55 207 73 218 214 208 47 180 78 207 22 188 19 189 73 180 31 138 149 221 97 104 22 144 183 206 111 189 101 147 216 195 182 213 127 219 48 200 163 232 90 195 43 194 156 197 56 210 69 185 52 201 59 210 104 186 315 253 79 153 111 226"/>
<path class="f" d="M206 221 118 221 66 210 234 199 63 181 93 214 81 204 168 232 91 173 102 160 89 208 49 170 290 220 64 155 28 193 56 190 79 201 333 239 87 202 112 220 22 187 111 215 135 208 234 222 19 180 83 177 123 157 101 211 68 195 24 209 83 172 25 152 59 173 248 219 309 229 328 180 140 215 145 199 124 223 75 222 73 168 103 230 93 223 91 198 79 149 120 172 79 201 144 206 103 219 150 206 254 235 156 203 41 194 108 189 37 194 163 169 105 184 135 196 314 218 111 185"/>
<path class="m" d="M118 202 97 213 21 158 247 231 149 188 64 206 44 185 337 227 64 190 138 164 95 200 251 223 72 200 255 206 29 132 196 209 36 150 24 190 192 235 69 223 88 151 116 220 132 193 23 141 92 236 47 178 83 209 51 153 27 190 121 231 29 184 100 222 31 204 64 208 175 152 36 207 118 238 107 208 47 207 52 191 62 186 36 176 248 233 22 140 230 177 58 221 41 182 34 206 191 205 49 194 93 215 23 204 56 209 114 224 333 228 116 235 74 167 52 178 121 229 116 200 46 186 86 176 127 183 52 200"/>
<path class="f" d="M339 200 277 188 122 176 90 221 309 222 347 239 257 207 220 193 126 216 168 213 104 223 121 116 295 210 220 223 19 152 105 203 69 163 324 238 88 223 246 203 125 200 361 247 126 212 126 220 126 202 140 198 57 203 111 159 103 224 87 183 92 172 305 223 97 142 46 204 147 223 97 222 78 215 329 219 135 207 144 216 96 184 74 189 61 212 63 155 314 233 126 153 105 202 78 171"/>
<path class="m" d="M22 168 51 194 46 196 144 209 31 179 47 215 116 208 23 194 281 236 168 221 47 150 82 184 53 151 24 183 30 184 206 217 41 208 115 204 42 201 43 206 31 142 130 242 64 204 52 190 101 209 74 223 210 205 282 228 74 205 83 190 215 208 41 179 253 222 70 177 106 182 61 192 149 218 154 199 151 198 62 212 63 150 290 225 22 167 23 168 138 212 87 156 144 231 31 180 52 185 58 171 59 182 20 163 71 205 139 242 20 183 121 222 57 153 20 143 107 191 43 166 84 194 150 198 360 221 49 134 68 155 45 185 51 170 35 175 68 207 22 180 47 205 220 165 338 233 48 193 79 154 116 224"/>
<path class="f" d="M107 218 77 175 243 191 155 202 253 232 206 207 48 190 276 231 233 218 74 216 28 166 99 214 111 217 107 215 135 192 97 225 76 212 255 207 161 204 119 220 97 203 88 215 55 207 117 186 182 198 91 213 40 179 83 146 93 237 79 174 116 145 178 213 29 193 33 185 111 218 50 192 333 221 126 207 163 177 96 196 106 218 116 173 107 159 78 186 186 201 145 162 51 210 328 222 57 152 139 227 168 216 40 198 31 190"/>
<path class="m" d="M334 215 82 200 239 198 31 213 29 171 27 188 61 190 63 211 140 206 329 236 71 148 64 214 103 220 24 204 93 220 31 189 86 156 79 233 131 221 61 190 84 162 29 157 145 210 125 206 82 155 83 205 44 122 72 200 96 214 56 166 117 214 50 166 88 218 187 236 36 187 394 208 88 192 40 197 87 228 24 194 55 200 171 192 45 207 216 216 291 235 103 245 187 217 111 185 33 88 93 193 149 233 31 196 121 234 34 180 329 220 243 228 24 160 41 194 81 13 58 214 258 173 60 166 40 197 241 221 92 221 102 156 333 240 67 180 26 188 79 158 83 232"/>
<path class="f" d="M39 179 71 198 121 171 83 182 86 200 111 196 267 199 36 191 20 151 124 210 121 150 87 158 122 201 79 171 98 137 267 233 121 217 107 241 26 180 58 214 126 220 29 195 64 206 157 201 72 200 263 227 83 204 81 213 220 214 87 205 21 210 74 205 29 192 82 182 116 223 154 201 55 207 51 213 142 229 337 204 304 236 76 209 41 176 124 197 128 117 40 190 60 179 211 230 310 211 111 202 88 226 109 191 102 217 61 175 68 226 334 231 255 205 125 215 314 242 100 216 154 174 84 201 74 209"/>
<path class="m" d="M74 208 70 194 97 175 116 220 67 209 249 231 20 147 310 242 46 195 66 167 64 204 329 234 26 204 35 208 46 144 272 225 108 224 40 185 84 207 126 208 112 208 191 228 32 156 107 208 72 165 121 235 312 232 78 218 56 154 92 149 33 179 19 180 89 205 67 222 36 167 92 206 383 215 51 187 85 195 112 220 310 235 88 208 102 186 31 163 366 233 64 213 56 165 20 139 56 147 148 228 59 221 70 207 55 176 163 222 45 144 109 138 81 214 58 163 89 204 73 188 220 180"/>
<path class="f" d="M64 219 172 161 154 172 50 214 296 221 125 191 61 183 253 231 154 228 156 199 88 219 26 202 92 221 101 209 309 236 146 177 72 162 125 212 112 205 191 202 98 206 99 193 109 191 315 193 130 208 78 179 116 219 154 190 91 197 23 186 220 223 102 234 107 210 140 196 285 233 79 194 23 193 46 192 152 103 98 161 132 205 324 222 186 199 131 227 87 191 73 204 73 191 201 230 121 215 99 194 102 174 52 195 87 143"/>
<path class="m" d="M102 225 41 160 97 188 29 165 88 194 102 211 33 187 45 201 176 202 52 184 113 231 342 239 242 217 182 231 93 197 108 167 96 120 90 166 88 206 41 195 19 184 229 239 102 219 140 211 78 183 38 139 92 226 44 207 147 213 210 193 310 225 213 206 50 171 71 182 88 127 78 207 124 202 102 231 126 174 60 139 39 141 31 190 78 209 26 171 33 192 41 116 178 206 282 234 267 233 324 249 55 194 121 226 125 218 258 181 68 195 35 204 97 189 310 243 130 218 168 215 75 183 78 217 64 213 164 217 37 195 67 211 62 193 68 190 20 209 73 177 185 234"/>
<path class="b" d="M19 139.2 27.1 142.3 35.1 145.4 43.2 148.4 51.3 151.3 59.3 154.1 67.4 156.8 75.5 159.4 83.6 161.9 91.6 164.1 99.7 165.9 107.8 167.6 115.8 169 123.9 170.2 132 171.3 140 172.3 148.1 172.9 156.2 173.5 164.2 174 172.3 174.6 180.4 175.1 188.5 175.7 196.5 176.3 204.6 176.9 212.7 177.5 220.7 178.3 228.8 179.3 236.9 180.3 244.9 181.3 253 182.4 261.1 183.4 269.1 184.5 277.2 185.4 285.3 186.3 293.4 187.2 301.4 187.9 309.5 188.7 317.6 189.4 325.6 190.2 333.7 191 341.8 191.7 349.8 192.3 357.9 192.9 366 193.3 374 193.6 382.1 193.7 390.2 193.7 398.2 194 L398.2 275 390.2 274.6 382.1 274 374 273.3 366 272.5 357.9 271.6 349.8 270.4 341.8 269.3 333.7 268.1 325.6 266.9 317.6 265.7 309.5 264.5 301.4 263.3 293.4 262.2 285.3 261 277.2 259.8 269.1 258.6 261.1 257.5 253 256.5 244.9 255.4 236.9 254.4 228.8 253.4 220.7 252.4 212.7 251.7 204.6 251 196.5 250.4 188.5 249.8 180.4 249.2 172.3 248.7 164.2 248.1 156.2 247.6 148.1 247.1 140 246.4 132 245.5 123.9 244.4 115.8 243.1 107.8 241.7 99.7 240.1 91.6 238.2 83.6 236 75.5 233.6 67.4 230.9 59.3 228.3 51.3 225.4 43.2 222.5 35.1 219.5 27.1 216.5 19 213.3Z"/>
<path class="b" d="M19 139.7 27.3 142.7 35.5 145.7 43.8 148.5 52 151.3 60.3 153.9 68.5 156.3 76.8 158.6 85 160.7 93.3 162.4 101.6 163.8 109.8 165 118.1 166 126.3 166.7 134.6 167.4 142.8 168 151.1 168.5 159.3 169.1 167.6 169.7 175.9 170.4 184.1 171.3 192.4 172.2 200.6 173.2 208.9 174.3 217.1 175.4 225.4 176.4 233.6 177.4 241.9 178.4 250.1 179.4 258.4 180.5 266.7 181.6 274.9 182.7 283.2 183.8 291.4 184.9 299.7 185.9 307.9 186.9 316.2 187.8 324.4 188.7 332.7 189.6 341 190.3 349.2 190.9 357.5 191.3 365.7 191.4 374 191.1 382.2 190.8 390.5 190.6 398.7 190.2 407 189.2 L407 269.2 398.7 270.2 390.5 270.4 382.2 270.2 374 269.9 365.7 269.6 357.5 269 349.2 268 341 267 332.7 265.8 324.4 264.4 316.2 263 307.9 261.7 299.7 260.3 291.4 258.9 283.2 257.5 274.9 256.1 266.7 254.8 258.4 253.7 250.1 252.6 241.9 251.6 233.6 250.6 225.4 249.6 217.1 248.6 208.9 247.5 200.6 246.4 192.4 245.4 184.1 244.5 175.9 243.6 167.6 242.9 159.3 242.3 151.1 241.7 142.8 241.2 134.6 240.6 126.3 239.9 118.1 239.2 109.8 238.2 101.6 237 93.3 235.6 85 233.9 76.8 231.8 68.5 229.5 60.3 227.1 52 224.5 43.8 221.7 35.5 218.9 27.3 215.9 19 212.8Z"/>
<path class="lm" d="M19 176.2 27.1 179.4 35.1 182.5 43.2 185.4 51.3 188.4 59.3 191.2 67.4 193.9 75.5 196.5 83.6 199 91.6 201.2 99.7 203 107.8 204.6 115.8 206.1 123.9 207.3 132 208.4 140 209.3 148.1 210 156.2 210.5 164.2 211.1 172.3 211.6 180.4 212.2 188.5 212.7 196.5 213.3 204.6 213.9 212.7 214.6 220.7 215.4 228.8 216.3 236.9 217.3 244.9 218.4 253 219.4 261.1 220.5 269.1 221.5 277.2 222.6 285.3 223.6 293.4 224.7 301.4 225.6 309.5 226.6 317.6 227.6 325.6 228.6 333.7 229.5 341.8 230.5 349.8 231.4 357.9 232.2 366 232.9 374 233.4 382.1 233.8 390.2 234.2 398.2 234.5"/>
<path class="lf" d="M19 176.2 27.3 179.3 35.5 182.3 43.8 185.1 52 187.9 60.3 190.5 68.5 192.9 76.8 195.2 85 197.3 93.3 199 101.6 200.4 109.8 201.6 118.1 202.6 126.3 203.3 134.6 204 142.8 204.6 151.1 205.1 159.3 205.7 167.6 206.3 175.9 207 184.1 207.9 192.4 208.8 200.6 209.8 208.9 210.9 217.1 212 225.4 213 233.6 214 241.9 215 250.1 216 258.4 217.1 266.7 218.2 274.9 219.4 283.2 220.7 291.4 221.9 299.7 223.1 307.9 224.3 316.2 225.4 324.4 226.5 332.7 227.7 341 228.7 349.2 229.4 357.5 230.1 365.7 230.5 374 230.5 382.2 230.5 390.5 230.5 398.7 230.2 407 229.2"/>
<rect class="s" width="426" height="288"/>
<rect class="lg" x="309.8" y="8.3" width="108.6" height="50" rx="3.1"/>
<circle class="cf" cx="332.1" cy="21.4" r="4.17"/>
<circle class="cm" cx="332.1" cy="43.6" r="4.17"/>
<text class="t" x="360.4" y="25.7">female</text>
<text class="t" x="360.4" y="48.7">male</text>
<text class="tt" x="213" y="-8.3" text-anchor="middle">Lateral Ventricles</text>
<text class="t" x="-13.6" y="8.1" text-anchor="end">0.0012</text>
<text class="t" x="-13.6" y="54.1" text-anchor="end">0.0010</text>
<text class="t" x="-13.6" y="101.1" text-anchor="end">0.0008</text>
<text class="t" x="-13.6" y="147.1" text-anchor="end">0.0006</text>
<text class="t" x="-13.6" y="193.1" text-anchor="end">0.0004</text>
<text class="t" x="-13.6" y="239.1" text-anchor="end">0.0002</text>
<text class="t" x="-13.6" y="285.1" text-anchor="end">0.0000</text>
<text class="l" transform="translate(-77,144) rotate(-90) scale(1,1.09)" text-anchor="middle">GM volume (TIV-normalized)</text>
</g>
<g transform="translate(108,374)">
<path class="g" d="M86.5 0V288M180.5 0V288M275.5 0V288M369.5 0V288M0 41.5H426M0 90.5H426M0 138.5H426M0 187.5H426M0 236.5H426M0 285.5H426"/>
<path class="f" d="M89 153 70 104 88 120 57 121 48 85 70 119 78 66 303 162 347 178 46 124 49 147 116 163 79 116 79 123 24 122 88 108 86 89 100 106 196 135 97 115 333 131 112 122 120 175 40 74 45 104 156 116 61 123 92 112 112 160 123 113 220 167 125 135 23 110 163 169 154 130 97 132 82 95 116 88 309 123 121 139 135 120 92 99 126 128 281 125 119 127 238 138 65 113 121 110 267 180 126 154 54 112 97 126 93 105 118 146 149 104 239 147 81 104"/>
<path class="m" d="M239 174 28 133 86 101 239 174 82 84 46 117 102 132 24 142 19 108 153 162 29 118 73 84 92 121 22 88 122 145 44 140 112 110 55 136 22 105 58 138 42 107 69 103 30 127 168 115 295 194 59 107 149 157 92 107 67 67 102 97 148 139 121 107 51 110 142 165 32 116 63 97 328 128 89 97 98 179 94 128 40 115 40 113 154 146 40 86 106 127 149 145 66 131 56 121 28 127 49 80 149 131 47 106 83 75 70 171 24 128 70 131 64 108 127 178 62 117 102 176 55 100 215 153 113 164 45 106 26 85 25 125 328 209 93 122 59 101"/>
<path class="f" d="M116 122 77 136 69 117 64 74 33 96 29 88 116 141 238 135 102 97 50 71 196 118 46 134 159 127 77 133 45 130 79 109 324 156 126 113 97 109 164 119 121 112 42 114 106 140 37 89 71 123 99 129 121 126 49 86 102 147 88 95 121 131 129 144 123 105 279 106 37 153 124 160 262 154 100 115 83 132 94 104 133 152 149 125 172 134 26 110 72 108 85 123 102 114 135 130 20 110 324 146 89 119 83 95 66 105 125 130 142 100 281 172 309 160 29 78 129 91 78 140 48 91 51 85"/>
<path class="m" d="M29 128 140 160 339 178 134 66 328 153 338 180 103 148 64 144 51 101 75 122 70 99 53 75 78 92 59 102 253 174 80 134 55 101 172 194 107 108 31 76 83 83 26 118 49 147 124 154 88 108 68 162 121 93 122 138 206 127 58 137 35 98 95 145 99 138 216 131 41 100 258 145 51 123 31 146 177 107 119 121 117 133 111 94 79 134 79 118 52 91 45 115 114 142 216 173 33 83 125 105 249 152 28 115 79 122 159 98 32 97 63 139 144 120 97 113 91 137 114 149 250 136 36 126 25 76"/>
<path class="f" d="M111 97 102 141 139 94 75 118 361 147 66 123 49 125 35 91 267 161 347 156 107 105 74 94 21 127 97 115 78 103 129 90 25 83 107 106 115 89 201 103 126 135 285 144 125 84 102 146 243 146 126 162 83 67 22 93 120 133 153 116 99 126 362 161 244 159 107 122 30 108 140 151 45 135 41 110 122 126 36 116 21 112 96 95 22 92 79 120 121 141 87 130 116 161 61 115 306 167 90 34 38 82 156 95 84 107 276 162 110 114 23 107 304 188 121 140 79 88 88 114"/>
<path class="m" d="M152 86 96 115 121 201 116 127 49 125 121 134 50 112 78 105 149 130 125 126 25 112 42 96 244 153 53 107 80 108 90 115 43 126 97 158 130 112 116 129 19 114 118 138 61 114 102 75 28 91 61 96 26 122 328 158 92 90 149 173 67 138 56 94 111 95 44 93 44 127 109 244 83 99 343 162 83 99 54 79 182 197 68 129 281 158 33 116 45 108 147 125 230 161 64 141 92 133 24 120 182 187 78 112 139 108 45 79 52 118 107 156 127 110 26 88 30 80 76 94 282 196 78 93 119 130 333 157 206 144"/>
<path class="f" d="M263 145 125 113 91 93 40 76 93 96 133 83 92 104 168 140 102 98 57 87 107 69 324 133 116 111 81 145 209 165 150 99 28 123 102 139 83 129 76 142 248 140 64 86 309 144 94 125 161 106 83 98 74 96 111 108 69 106 20 103 121 116 76 110 91 98 238 161 95 122 126 103 155 121 89 109 145 142 68 129 62 90 116 140 126 158 105 136 111 96 96 135 305 141 119 149 69 112 111 88 111 126 78 142 88 107 125 81 30 129 97 140 314 176 96 81 113 126 88 82"/>
<path class="m" d="M53 118 93 174 50 115 29 105 22 113 220 170 147 106 45 87 21 101 114 184 60 127 33 98 83 98 94 175 87 139 102 82 282 197 155 127 68 134 156 121 93 60 54 135 338 156 148 128 107 147 64 122 83 126 88 109 106 101 267 211 27 68 79 158 122 153 145 90 22 81 229 145 110 70 26 143 20 113 78 120 63 102 95 110 69 101 69 89 22 135 33 95 125 148 163 141 310 158 231 158 58 89 47 86 214 133 116 135 47 114 394 144 239 170 78 79 140 96 338 160 32 130 39 115 107 108 139 142 19 126"/>
<path class="f" d="M76 161 300 133 55 114 104 107 64 112 167 141 220 147 88 101 147 139 168 139 87 129 182 161 234 136 114 101 38 96 261 127 232 80 87 70 97 128 88 163 101 136 50 138 99 97 60 109 92 94 87 157 50 100 64 104 51 99 111 141 86 89 366 180 103 174 116 135 29 119 184 77 127 98 78 121 149 129 257 123 91 90 32 96 168 90 210 178 107 143 44 122 206 131 67 122 45 98 130 167 122 131 111 179 88 146 85 129 229 142"/>
<path class="m" d="M83 77 114 83 215 164 62 54 183 153 92 95 51 111 121 133 121 156 82 82 111 155 135 151 89 107 309 139 107 119 66 119 55 113 73 106 107 111 310 177 54 98 149 107 40 127 333 176 145 105 162 135 29 107 26 91 107 70 116 86 56 134 92 100 52 133 92 96 38 100 22 88 24 122 150 112 191 161 126 143 191 103 83 140 43 123 23 92 186 138 159 148 54 107 156 155 90 157 55 125 371 149 37 123 56 112 272 167 177 99 40 122 75 134 38 141 87 125 48 105 239 186 44 91 21 101 35 103 92 105 106 108 20 169 74 114 72 109 116 123"/>
<path class="f" d="M40 96 124 132 281 120 63 119 108 159 85 142 309 131 43 78 121 90 263 145 356 123 140 163 33 110 111 95 92 128 31 85 124 159 78 80 121 122 41 131 96 137 87 112 297 164 310 106 125 132 22 122 87 121 300 128 126 127 92 159 125 108 118 114 124 98 61 133 108 137 37 102 75 110 107 72 205 134 122 113 301 145 140 161 130 112 79 92 104 103 75 144 234 130 26 96 78 98 257 124 43 101 26 68 107 80 332 130 102 151 91 141 93 146 88 117 300 119 178 140 34 119 224 128 330 168 120 135"/>
<path class="m" d="M23 95 257 148 108 102 129 117 50 129 310 144 282 173 27 111 117 121 154 159 69 126 28 81 69 113 88 129 295 171 64 142 267 180 73 148 64 64 46 102 68 148 29 65 65 132 132 141 113 100 72 106 31 115 34 121 110 93 214 197 88 146 22 86 398 214 88 112 54 114 146 142 59 90 150 115 97 146 62 128 247 194 263 160 300 176 125 123 32 100 289 191 56 92 135 106 135 131 66 110 23 107 21 86 59 97 88 128 54 100 65 79 43 126 19 82 366 169 27 102 119 118"/>
<path class="f" d="M88 80 174 118 315 158 84 129 50 117 140 116 93 85 94 94 74 122 130 76 124 113 107 109 140 79 55 127 102 72 83 120 19 129 48 106 88 145 291 149 137 111 119 120 63 100 40 94 93 117 272 109 88 112 53 79 82 175 98 90 112 63 31 96 83 110 90 88 328 153 74 146 132 114 92 116 90 124 158 156 206 162 72 110 187 116 76 122 92 86 97 123 101 157 76 170 93 181 25 155 81 139 29 69 26 88 78 91 118 87"/>
<path class="m" d="M88 159 75 126 29 103 35 131 174 129 87 78 52 94 150 77 73 157 54 110 54 112 50 111 36 109 56 131 283 168 53 123 97 107 88 102 57 90 243 175 22 52 88 175 74 135 85 144 36 116 47 99 83 70 121 119 106 128 34 115 34 94 120 132 360 150 41 123 72 103 139 137 97 116 82 96 180 122 103 152 146 162 68 108 67 131 243 157 262 162 287 154 81 114 31 111 62 134 20 113 26 135 30 120 59 117 45 128 52 78 196 144 23 128 56 145 20 136 230 139 247 170 27 85 66 128 102 99 49 124 122 101 36 155 49 108 28 91 79 156"/>
<path class="f" d="M296 138 54 113 83 115 43 131 107 106 51 124 144 158 111 123 72 110 45 123 46 145 286 142 119 104 102 150 186 72 22 98 121 63 164 146 111 119 88 136 328 160 146 103 79 52 342 146 63 119 61 74 121 159 56 97 163 131 50 119 116 105 56 87 366 135 108 145 83 121 47 42 79 132 45 109 121 106 81 111 324 114 78 97 144 199 99 113 309 149 135 140 56 73 120 113 87 131 37 92 23 78 92 97 102 122 52 98 314 141 117 136 139 152"/>
<path class="m" d="M36 94 95 149 30 83 92 63 86 92 96 136 44 122 215 182 70 118 21 86 44 117 99 122 70 155 42 129 42 109 97 108 55 136 112 125 21 90 281 146 112 145 43 78 58 129 120 120 28 116 36 106 201 133 83 127 97 156 335 180 41 128 50 85 39 124 47 117 192 137 281 172 86 96 64 95 139 147 69 122 54 105 72 109 151 121 53 119 116 92 47 104 329 152 66 111 282 175 127 158 314 175 47 105 71 113 54 110 104 127 286 159 78 103 84 112 78 136 45 64 121 114 120 112 49 92 51 135 121 138 149 164 102 91 92 141"/>
<path class="f" d="M324 127 112 142 27 98 125 136 81 127 333 183 26 135 116 135 78 87 295 150 299 150 116 138 248 152 124 131 97 114 126 95 76 154 74 115 300 157 315 149 201 132 81 128 98 126 116 149 91 97 21 110 51 113 51 140 99 56 81 59 116 118 326 240 84 117 36 82 86 136 70 111 28 73 119 154 99 97 105 128 35 83 220 187 107 96 111 109 300 170 102 112 351 134 46 89 111 133 126 106 125 93 345 144 126 132 87 178 116 144 106 70 93 139 54 143 282 183 82 107 263 141 96 78 109 38 163 130 79 99 128 150 90 135 111 162 36 100 125 83"/>
<path class="m" d="M187 186 88 113 47 130 332 123 28 129 88 114 55 134 295 154 64 97 68 119 361 167 43 113 19 82 206 149 73 112 94 131 333 167 81 105 60 97 26 144 55 120 305 141 97 96 71 99 140 143 74 118 90 129 73 143 29 87 95 127 34 112 55 121 61 133 22 94 37 112 61 90 70 92 338 174 126 185 30 109 122 111 102 143 29 87 331 143 27 142 281 134 23 118 27 139 45 125 78 146 37 120 20 101 213 153 177 113 66 112"/>
<path class="f" d="M106 101 300 150 111 107 141 81 173 150 258 137 121 94 97 115 97 120 286 123 41 78 121 158 156 159 295 113 181 81 79 110 101 80 243 174 79 125 121 123 93 100 83 131 61 91 246 135 87 155 135 128 110 118 68 144 78 87 91 142 89 98 121 152 230 148 255 145 215 160 120 113 93 62 98 126 90 92 47 111 282 136 225 142 31 92 126 113 177 124 93 89 164 145 333 171 26 95 112 128 328 140 23 111 154 152"/>
<path class="m" d="M34 95 71 110 157 151 111 148 159 145 33 110 328 182 20 120 64 123 64 121 120 91 170 163 67 137 169 110 55 109 116 105 69 152 107 149 37 139 54 113 69 110 30 150 20 106 78 126 49 90 116 126 21 76 177 150 39 67 70 71 116 165 34 115 192 134 65 101 81 275 295 168 59 146 41 88 25 135 300 140 116 154 342 204 33 132 37 118 41 136 43 100 45 124 41 106 119 120 61 132 107 138 290 185 310 181 116 178 54 74 80 64 82 138 124 108 68 98 333 150 117 120 90 59 48 152 220 141 22 98 121 138 128 152 140 158 100 85 57 105 31 94 90 97"/>
<path class="f" d="M92 111 92 106 65 107 29 68 96 141 178 124 111 133 147 94 56 101 145 89 97 182 95 115 135 143 97 141 79 77 71 106 135 92 378 174 63 163 110 88 53 124 83 101 288 129 33 108 398 136 143 148 126 93 93 104 28 59 35 102 244 154 83 76 78 113 333 164 196 131 276 115 253 166 100 135 93 88 30 95 322 139 121 101 87 116 64 64 292 185 116 172 83 125 333 128 103 81 72 127 143 109 121 118 126 145 140 122 97 158 55 97 97 94 60 92 366 114 144 90 70 131 59 142"/>
<path class="m" d="M30 109 55 107 26 111 107 109 229 148 30 124 105 132 343 140 71 131 83 112 337 184 58 134 292 160 179 140 54 111 112 136 74 149 176 175 78 95 30 124 61 152 112 93 108 142 22 127 97 198 263 148 31 86 210 158 79 132 95 115 82 98 33 126 24 116 20 123 74 124 115 171 239 165 97 152 117 137 121 99 22 108 61 95 82 141 35 109 97 132 245 142 88 104 28 134 43 92 83 94 272 154 67 125 81 149 59 89 131 122 63 111 39 74 94 144 286 154 220 182 309 185 45 118 149 135"/>
<path class="f" d="M168 152 146 77 333 174 95 135 300 148 201 90 79 89 90 120 120 81 27 91 314 168 123 141 139 115 144 98 39 128 58 93 74 123 26 92 107 138 36 76 99 106 308 146 145 167 314 132 59 75 168 118 58 120 109 164 343 175 319 174 105 128 19 137 201 185 112 122 269 142 182 135 219 153 70 102 81 84 50 97 107 92 117 103 37 60 48 92 58 126 67 132 31 135 67 93 138 152 111 136 125 145 97 154 89 109 371 139 197 142 261 148 302 210 134 97 47 117 94 88 186 128 254 145 114 100 141 88"/>
<path class="m" d="M87 151 147 134 295 158 114 130 70 93 48 112 191 182 43 106 132 153 19 92 159 143 341 98 34 127 47 110 119 150 251 152 154 113 183 139 35 161 126 127 321 168 146 130 121 138 92 89 44 136 48 117 131 153 177 179 102 101 41 110 40 92 215 176 208 79 192 187 117 131 312 212 73 130 197 194 332 241 243 179 86 85 42 105 108 120 116 99 126 148 201 135 357 100 29 105 40 101 71 88 191 149 45 114 37 135 164 133 85 126 36 97 109 177 98 107 40 60 393 205 57 67"/>
<path class="f" d="M93 133 55 82 112 137 112 154 83 117 118 110 211 137 190 146 233 130 116 99 58 139 58 115 38 100 120 122 88 84 36 91 126 66 249 138 78 108 309 166 107 104 78 101 72 121 258 147 286 102 126 99 285 166 334 152 125 122 112 140 42 78 102 126 37 119 78 117 83 92 22 93 100 129 140 128 107 92 135 163 37 92 206 130 139 120 333 103 49 135 135 157 258 150 310 136 144 151 36 62 40 115 54 127 64 124 327 156 88 92 287 148 163 138 82 150 40 113 30 112"/>
<path class="m" d="M91 92 60 96 48 110 45 107 60 110 101 101 41 123 126 108 73 145 55 143 41 72 71 87 267 166 109 134 36 82 44 125 35 128 31 120 113 138 188 127 121 165 42 120 43 71 123 147 45 97 219 141 191 153 64 131 99 165 73 93 140 165 46 99 253 156 32 125 88 152 28 143 105 127 44 101 292 143 267 156 70 96 33 110 240 156 44 114 97 110 43 128 78 151 90 97 116 143 60 171 65 127 53 97 191 145 287 181 102 152 187 173 106 131 60 107 185 163 138 107 50 87 165 165 63 139 52 58 24 86"/>
<path class="f" d="M291 123 73 100 85 138 56 109 26 81 169 110 44 117 187 159 105 119 182 129 103 123 62 154 36 96 121 97 106 115 131 103 20 115 52 98 83 133 180 130 87 126 109 108 102 102 154 109 99 128 267 141 121 172 63 114 105 118 310 143 27 119 125 119 59 111 86 157 78 102 229 140 97 88 360 187 76 94 82 125 309 184 291 175 89 96 227 84 55 92 234 198 124 102 156 120 128 123 32 104 97 119 248 137 40 89 180 152 113 97 58 115"/>
<path class="m" d="M49 112 314 149 27 151 69 102 78 118 41 103 78 118 145 160 49 92 33 121 86 77 61 108 323 169 149 132 51 132 121 132 49 147 58 153 69 146 286 188 20 74 98 90 65 129 64 115 139 145 83 106 97 72 79 152 22 142 126 115 88 72 178 181 180 121 41 115 295 157 128 158 56 105 121 165 88 128 114 148 40 67 90 134 85 138 334 159 135 149 87 121 205 166 150 129 42 108 64 63 47 137 63 126 51 116 62 146 19 95 143 89 58 83 72 138 50 90 63 111 111 153 20 95 149 103 74 128 289 148 295 184 127 122 56 108 22 118"/>
<path class="f" d="M179 132 26 84 268 175 138 151 126 145 216 168 124 117 130 116 304 138 61 68 92 146 93 138 102 122 28 85 68 122 111 119 89 124 281 145 44 115 116 119 45 80 168 116 347 175 111 121 129 141 41 124 38 131 27 125 92 158 122 106 125 99 103 134 286 156 20 88 109 151 83 106 59 94 77 93 107 148 82 103 102 148 61 117 123 136 74 99 75 148 116 81 290 107 385 175 125 136 74 109 41 75 92 78"/>
<path class="m" d="M60 96 206 136 34 127 61 103 69 94 248 140 168 154 144 150 182 139 31 113 87 96 121 125 111 139 85 66 30 108 64 102 101 114 31 125 61 112 183 150 349 156 87 131 149 169 327 209 121 139 44 134 119 137 140 124 67 128 102 89 86 162 38 106 196 138 95 105 93 92 46 109 74 96 163 116 216 153 318 172 47 133 112 160 47 137 79 116 78 108 31 107 112 139 102 122 120 137 221 176 278 189 88 109 46 144 52 117 53 122 133 217 115 135 330 184 51 105 116 129 40 114 126 103 72 104 32 116 324 158 72 113 69 88 46 94 93 139 27 117 26 111 257 144 36 120"/>
<path class="f" d="M92 100 121 110 88 111 36 130 98 144 45 86 69 94 68 129 120 114 118 95 44 134 68 91 105 134 89 93 154 131 310 172 329 154 97 107 41 102 103 87 319 130 102 39 60 119 64 116 92 79 78 105 328 161 107 97 103 134 111 152 33 130 68 139 128 68 78 102 116 96 121 101 106 104 36 83 187 99 144 157 22 110 215 155 271 104 113 126 314 176 225 180 97 72 69 139 144 95 406 169 103 126 244 137 149 130 91 133 215 186 154 158"/>
<path class="m" d="M43 125 263 149 97 133 234 192 78 129 37 100 58 80 60 96 45 91 97 119 239 164 79 125 337 176 79 138 394 154 163 161 70 91 102 103 118 154 125 145 135 117 156 128 128 183 171 138 24 106 211 157 55 121 36 135 89 125 287 150 163 146 178 149 70 93 78 102 102 143 53 128 170 134 153 141 49 102 239 144 88 107 35 113 125 127 27 112 329 152 154 120 128 128 36 110 31 84 41 92 56 112 318 151 41 102 48 112 56 95 93 76 62 126 92 87 21 116 88 123 41 104 33 133 131 128 74 112 223 91 64 130 168 126 51 147 102 100"/>
<path class="f" d="M46 145 82 100 20 129 333 172 191 147 357 167 105 110 84 111 111 143 98 101 20 83 90 121 31 113 66 116 64 125 87 139 111 113 258 129 27 88 93 131 72 67 149 108 36 89 121 95 317 150 108 169 42 89 329 149 21 93 127 85 121 92 34 105 215 118 78 77 74 135 89 90 97 176 168 131 125 122 55 56 28 87 249 150 132 125 88 88 66 139 121 133 57 106 220 159 21 138"/>
<path class="m" d="M26 86 29 138 135 139 27 120 61 129 50 72 84 104 392 182 88 130 220 127 133 148 47 121 210 175 122 132 29 89 103 140 114 133 26 127 130 137 144 126 61 128 42 87 74 121 46 104 394 199 112 155 73 94 70 154 75 125 68 126 172 158 22 120 63 144 255 162 23 83 22 91 90 157 60 86 26 83 31 103 92 52 25 170 72 133 67 139 101 158 182 133 60 150 201 158 101 157 125 133 206 121 93 111 21 114 93 98 74 122 310 142 75 121 30 77 88 119 55 147 153 131 220 147 59 129 79 113 97 120 107 164 36 117 102 97 30 88 268 203 33 129 34 95 37 103 97 58 94 131 200 154"/>
<path class="f" d="M87 129 300 154 95 151 121 145 86 132 110 151 327 141 39 121 59 98 22 117 123 130 291 143 37 77 50 120 63 110 21 83 68 108 77 110 191 138 167 136 145 152 78 96 111 114 111 97 93 103 333 162 79 88 267 146 83 116 103 76 31 121 89 113 206 141 226 149 361 164 105 132 32 92 88 91 206 117 121 85 107 118 177 96 192 136 83 82 187 123 137 150 149 198 258 142 117 147 78 122 187 125 95 104 96 131 167 114 97 92 46 105 116 57 74 107 67 106 26 103 98 129 121 103 102 107 291 157 83 140 88 103 190 158 380 151 33 116"/>
<path class="m" d="M63 109 112 119 290 162 68 127 52 77 182 146 34 115 54 135 64 116 97 99 70 121 333 97 40 120 176 127 74 77 216 124 121 180 93 129 40 98 118 122 50 117 51 82 93 130 67 130 102 132 74 117 60 115 56 13 69 118 21 95 53 110 34 94 111 142 51 93 22 141 49 142 253 149 72 127 40 141 206 169 57 111 54 118 121 129 97 145 50 91 40 112 19 114 74 104 130 160 200 148 107 118 65 100 42 119 104 118 54 114 98 131"/>
<path class="f" d="M315 169 133 142 62 114 183 119 149 123 215 147 107 105 90 157 251 151 130 123 78 134 117 115 131 98 111 148 116 148 83 112 64 122 73 129 62 79 154 146 74 130 370 150 286 149 101 49 19 113 69 122 112 120 39 116 155 150 122 82 135 151 52 103 78 81 74 119 19 135 71 118 116 116 90 145 248 125 27 118 93 105 23 119 310 152 173 94 337 142 94 145 168 101 107 90 51 123 334 182 98 103 116 113 88 96 97 144 81 102 50 108"/>
<path class="m" d="M36 141 66 120 83 117 45 134 217 98 64 103 282 172 85 111 334 136 55 128 68 75 126 121 89 117 329 167 146 181 43 106 120 112 38 84 96 193 305 173 44 144 83 111 63 165 54 96 143 109 52 102 22 106 366 175 202 111 210 102 60 153 98 148 220 152 329 134 305 172 206 148 178 153 153 144 79 146 242 164 65 148 45 113 59 99 28 120 149 169 95 97 46 120 83 105 19 127 69 89 59 145 26 80 42 112 62 107 79 134 312 141 121 174 27 111 121 156 26 96 67 120 59 96 57 81 27 123 87 124 310 153 61 134 92 137 28 114"/>
<path class="f" d="M157 150 314 195 221 120 338 164 126 107 54 96 121 126 187 140 78 120 71 100 87 134 123 123 111 75 91 92 315 168 338 141 191 92 309 163 107 94 329 154 338 169 146 123 59 119 19 99 64 51 76 85 51 99 63 71 26 101 64 118 125 131 52 102 183 87 337 160 69 111 126 109 105 83 96 124 124 76 277 164 109 131 51 116 109 123 134 117 93 101 79 125 43 128 72 90 27 95 76 121 158 165 105 100"/>
<path class="m" d="M29 98 111 136 101 162 25 116 130 126 38 136 73 67 114 160 291 199 95 123 149 139 29 131 74 113 24 116 63 155 315 156 338 144 82 158 115 136 37 115 46 118 61 111 57 81 70 107 149 122 73 134 24 111 30 112 31 127 182 144 196 125 156 161 188 151 58 100 89 138 24 97 241 161 31 155 93 103 36 130 135 120 31 70 111 147 152 176 339 163 49 75 23 82 20 110 68 92 41 119 31 126 54 74 191 149 33 117 61 136 238 222 56 137 41 98 323 174 138 141 59 96 35 113 86 160 69 107 64 147 50 90 106 95 97 131 112 180 47 147 52 152 67 121 31 102"/>
<path class="f" d="M111 123 111 136 119 120 78 125 154 139 22 103 123 160 130 129 96 116 91 159 134 97 97 101 25 84 105 130 125 128 90 129 109 97 253 150 263 152 106 125 45 113 93 116 127 141 55 129 141 140 101 133 121 114 32 79 215 148 333 159 361 150 107 120 58 119 20 83 81 94 32 106 253 134 64 127 29 105 103 106 33 101 92 136 47 85 103 111 126 109 75 122 64 72 24 111 22 90"/>
<path class="m" d="M159 133 92 115 76 102 49 77 126 134 72 100 127 104 85 125 26 113 342 171 300 193 41 97 19 97 36 125 26 84 130 116 107 136 130 139 61 140 93 122 127 114 88 138 119 118 112 134 69 107 97 175 168 119 65 125 32 111 41 146 36 91 182 124 85 138 35 133 187 155 83 89 20 121 121 124 71 132 29 31 22 91 154 98 89 101 43 97 114 144 92 108 83 103 83 111 94 153 127 127 154 112 74 115 36 120 111 85 59 102 37 104 251 206 182 138 73 123 21 140 87 113 220 171 107 147 100 141 35 88 73 115 111 115 49 140 84 136 329 176 126 111 78 142 36 121 26 105 78 154 73 119"/>
<path class="f" d="M370 108 339 188 93 138 116 113 37 101 255 159 97 137 49 114 57 113 334 170 74 128 121 156 89 125 92 118 61 139 125 112 144 114 220 150 26 105 88 150 87 123 98 133 50 143 55 122 20 87 187 158 26 96 124 94 88 95 83 113 335 151 107 96 60 73 71 81 116 110 141 144 29 139 187 134 50 111 267 134 154 140 144 133 144 176 113 159 112 120 109 124 104 120 97 128 97 105 73 81 47 74 116 133 83 131 90 175 188 152 79 97 102 116 102 122 128 110"/>
<path class="m" d="M34 58 59 100 45 118 91 90 21 118 31 91 230 161 262 195 65 90 319 141 259 154 78 93 53 85 122 145 164 186 36 104 91 103 70 111 35 77 229 143 25 120 66 91 136 132 39 104 29 83 130 150 107 153 38 132 267 150 104 132 33 144 138 94 95 141 70 133 59 131 45 121 111 121 72 135 111 140 118 129 337 163 151 147 243 146 55 101 83 117 120 101 104 144 121 131 56 84 31 127 53 116 71 139 156 122 34 147 111 116 74 100 243 133 22 117 88 160 45 87 36 95 23 116 88 131 22 96 116 79 61 99"/>
<path class="b" d="M19 65.8 27.1 66.7 35.1 67.8 43.2 69 51.3 70.6 59.3 72.5 67.4 74.4 75.5 76.4 83.6 78.5 91.6 80.7 99.7 83.2 107.8 85.9 115.8 88.5 123.9 90.6 132 92.6 140 94.6 148.1 96.7 156.2 98.9 164.2 101.1 172.3 103.1 180.4 105 188.5 106.8 196.5 108.6 204.6 110.6 212.7 112.4 220.7 114 228.8 115.5 236.9 116.8 244.9 118 253 119.1 261.1 120.1 269.1 121 277.2 121.8 285.3 122.5 293.4 122.9 301.4 123.1 309.5 123.3 317.6 123.4 325.6 123.6 333.7 123.7 341.8 123.9 349.8 124.1 357.9 124.4 366 124.7 374 125 382.1 125.3 390.2 125.6 398.2 126.5 L398.2 216.5 390.2 215.5 382.1 214.5 374 213.6 366 212.7 357.9 211.8 349.8 210.9 341.8 210.1 333.7 209.4 325.6 208.8 317.6 208.1 309.5 207.5 301.4 206.9 293.4 206.3 285.3 205.5 277.2 204.5 269.1 203.4 261.1 202.5 253 201.5 244.9 200.4 236.9 199.1 228.8 197.8 220.7 196.4 212.7 194.8 204.6 192.9 196.5 191 188.5 189.1 180.4 187.3 172.3 185.5 164.2 183.5 156.2 181.3 148.1 179.1 140 176.9 132 175 123.9 173 115.8 170.8 107.8 168.3 99.7 165.6 91.6 163.1 83.6 160.8 75.5 158.7 67.4 156.8 59.3 154.8 51.3 153 43.2 151.4 35.1 150.1 27.1 149 19 148.2Z"/>
<path class="b" d="M19 60.1 27.3 60.9 35.5 61.8 43.8 62.9 52 64.2 60.3 65.6 68.5 67.2 76.8 68.7 85 70.4 93.3 72.2 101.6 74.2 109.8 76.4 118.1 78.4 126.3 80.3 134.6 82.1 142.8 83.8 151.1 85.5 159.3 87.2 167.6 88.8 175.9 90.3 184.1 91.7 192.4 93.2 200.6 94.7 208.9 96.2 217.1 97.7 225.4 99.1 233.6 100.5 241.9 101.9 250.1 103.3 258.4 104.8 266.7 106.1 274.9 107.2 283.2 108.1 291.4 108.9 299.7 109.4 307.9 109.9 316.2 110 324.4 109.7 332.7 109.2 341 108.7 349.2 108 357.5 107 365.7 105.9 374 104.7 382.2 103.4 390.5 102 398.7 100.7 407 99.2 L407 190.8 398.7 192.2 390.5 193.4 382.2 194.2 374 194.8 365.7 195.3 357.5 195.8 349.2 196.2 341 196.4 332.7 196.3 324.4 196.2 316.2 196 307.9 195.4 299.7 194.5 291.4 193.5 283.2 192.4 274.9 191.1 266.7 189.8 258.4 188.5 250.1 187 241.9 185.6 233.6 184.2 225.4 182.8 217.1 181.4 208.9 179.9 200.6 178.4 192.4 176.9 184.1 175.5 175.9 174 167.6 172.5 159.3 170.9 151.1 169.2 142.8 167.5 134.6 165.8 126.3 164 118.1 162.1 109.8 160.1 101.6 157.9 93.3 155.9 85 154.1 76.8 152.5 68.5 150.9 60.3 149.4 52 147.9 43.8 146.6 35.5 145.5 27.3 144.6 19 143.9Z"/>
<path class="lm" d="M19 107 27.1 107.8 35.1 108.9 43.2 110.2 51.3 111.8 59.3 113.7 67.4 115.6 75.5 117.6 83.6 119.7 91.6 121.9 99.7 124.4 107.8 127.1 115.8 129.7 123.9 131.8 132 133.8 140 135.7 148.1 137.9 156.2 140.1 164.2 142.3 172.3 144.3 180.4 146.1 188.5 147.9 196.5 149.8 204.6 151.8 212.7 153.6 220.7 155.2 228.8 156.7 236.9 158 244.9 159.2 253 160.3 261.1 161.3 269.1 162.2 277.2 163.2 285.3 164 293.4 164.6 301.4 165 309.5 165.4 317.6 165.8 325.6 166.2 333.7 166.6 341.8 167 349.8 167.5 357.9 168.1 366 168.7 374 169.3 382.1 169.9 390.2 170.6 398.2 171.5"/>
<path class="lf" d="M19 102 27.3 102.8 35.5 103.7 43.8 104.7 52 106 60.3 107.5 68.5 109 76.8 110.6 85 112.3 93.3 114 101.6 116.1 109.8 118.2 118.1 120.2 126.3 122.1 134.6 123.9 142.8 125.7 151.1 127.4 159.3 129 167.6 130.6 175.9 132.1 184.1 133.6 192.4 135.1 200.6 136.6 208.9 138.1 217.1 139.5 225.4 140.9 233.6 142.3 241.9 143.7 250.1 145.2 258.4 146.6 266.7 147.9 274.9 149.2 283.2 150.3 291.4 151.2 299.7 152 307.9 152.7 316.2 153 324.4 152.9 332.7 152.8 341 152.5 349.2 152.1 357.5 151.4 365.7 150.6 374 149.8 382.2 148.8 390.5 147.7 398.7 146.5 407 145"/>
<rect class="s" width="426" height="288"/>
<rect class="lg" x="309.8" y="8.3" width="108.6" height="50" rx="3.1"/>
<circle class="cf" cx="332.1" cy="21.4" r="4.17"/>
<circle class="cm" cx="332.1" cy="43.6" r="4.17"/>
<text class="t" x="360.4" y="25.7">female</text>
<text class="t" x="360.4" y="48.7">male</text>
<text class="tt" x="213" y="-8.3" text-anchor="middle">Caudate</text>
<text class="t" x="-13.6" y="47.1" text-anchor="end">0.0030</text>
<text class="t" x="-13.6" y="96.1" text-anchor="end">0.0025</text>
<text class="t" x="-13.6" y="144.1" text-anchor="end">0.0020</text>
<text class="t" x="-13.6" y="193.1" text-anchor="end">0.0015</text>
<text class="t" x="-13.6" y="242.1" text-anchor="end">0.0010</text>
<text class="t" x="-13.6" y="291.1" text-anchor="end">0.0005</text>
<text class="l" transform="translate(-77,144) rotate(-90) scale(1,1.09)" text-anchor="middle">GM volume (TIV-normalized)</text>
</g>
<g transform="translate(642,374)">
<path class="g" d="M86.5 0V288M180.5 0V288M275.5 0V288M369.5 0V288M0 27.5H426M0 60.5H426M0 94.5H426M0 127.5H426M0 160.5H426M0 193.5H426M0 227.5H426M0 260.5H426"/>
<path class="f" d="M45 45 331 188 111 97 69 74 92 143 78 117 125 114 188 97 78 128 19 76 107 104 79 122 93 123 121 84 77 131 333 98 243 116 201 131 121 165 103 134 97 139 56 112 94 60 310 131 32 72 49 112 121 103 309 148 121 128 36 71 88 106 72 76 78 101 121 116 19 72 282 164 215 146 46 80 158 145 116 114 26 78 59 84 75 126 177 141 74 94 87 65 22 89 135 117 93 96 102 67 107 69 120 114 83 69 68 75 102 121 116 109 356 123 121 139 91 140"/>
<path class="m" d="M68 80 188 102 36 99 63 81 164 133 24 110 54 73 51 99 267 172 41 109 247 150 26 93 31 78 239 115 156 116 124 140 26 105 72 125 74 46 86 151 309 133 69 106 85 129 149 131 135 138 49 83 92 98 52 109 102 102 215 103 91 127 349 175 67 102 295 164 187 142 46 79 121 121 67 75 25 88 89 97 30 97 19 117 42 84 54 64 52 85 92 85 94 130 330 97 53 104 53 63 38 79 48 97 343 98 130 110 74 90 114 67 36 91 83 90 191 126 73 94 55 82 28 74 20 30 97 88 41 91 92 134 64 83"/>
<path class="f" d="M168 119 92 88 314 128 300 102 233 114 261 149 258 162 45 112 94 90 163 144 90 100 127 125 121 86 31 43 60 83 40 83 88 76 56 76 35 101 96 69 62 61 93 103 48 100 206 118 347 138 66 87 43 89 249 126 326 194 106 105 183 122 87 76 168 66 107 111 121 89 79 129 70 73 103 117 105 108 36 50 87 137 93 131 126 64 272 148 22 77 97 81 107 113 52 73 90 102 118 126 74 79 26 40 112 129 249 118 63 81 315 150 89 105 333 116"/>
<path class="m" d="M342 128 57 98 55 100 140 89 58 79 49 69 88 121 29 72 20 78 51 77 159 127 78 99 98 39 60 76 47 88 27 81 282 185 27 57 361 134 36 100 51 93 88 105 140 113 120 106 73 126 75 95 64 77 92 97 146 129 87 86 131 83 126 107 47 109 182 135 32 68 26 84 95 138 176 131 191 103 38 95 121 149 75 111 85 95 107 113 55 88 255 168 110 104 80 102 149 117 20 87 33 75 27 56 286 155 117 143 95 161 72 106 65 61 286 127 219 121 159 108 253 136 47 98 60 105 32 102 41 84 337 109 98 121 73 69"/>
<path class="f" d="M120 96 33 82 121 123 149 92 51 77 92 125 126 88 106 106 121 145 50 82 79 91 150 126 58 94 78 55 22 60 220 152 60 79 124 105 78 85 50 83 248 153 225 146 135 128 83 109 45 74 79 155 103 110 88 102 129 138 119 90 83 138 83 114 332 115 92 76 88 111 144 85 110 92 290 134 108 124 78 77 361 111 123 61 149 118 156 156 329 145 168 113 71 59 206 127 36 102 88 73 64 76 138 140 385 134 37 107 232 69 124 89"/>
<path class="m" d="M116 57 305 131 59 79 22 73 153 92 99 121 88 110 65 110 98 78 127 143 53 77 35 100 70 56 74 94 49 105 42 93 43 89 81 103 238 139 127 94 34 96 178 127 37 77 54 90 59 75 168 106 295 112 62 103 314 105 73 64 116 103 140 93 267 113 36 97 323 110 182 91 82 105 163 121 66 126 118 115 140 110 122 113 42 76 239 128 93 95 281 142 86 117 70 88 64 113 55 74 42 71 292 157 53 100 121 133 45 81 37 78 63 107 82 102 220 169 103 73 61 102 31 98 20 80 104 91 174 115 31 74 34 106 31 56 45 81 154 147"/>
<path class="f" d="M149 113 244 152 53 47 54 95 40 93 210 98 130 116 116 90 107 97 100 86 40 84 36 74 265 78 107 71 97 104 97 133 89 95 187 145 55 96 118 112 78 124 191 76 146 101 72 97 309 152 181 139 20 122 121 78 128 90 187 108 100 87 102 47 121 99 229 142 64 60 173 164 83 80 63 43 137 119 89 84 187 121 121 102 134 83 36 85 163 149 286 112 21 62"/>
<path class="m" d="M64 86 74 89 104 103 145 127 34 103 36 57 28 81 49 63 27 45 26 51 21 86 163 127 78 114 182 110 295 134 107 125 46 81 111 109 68 63 74 107 40 71 27 99 243 115 44 72 101 86 116 98 61 116 36 55 101 96 81 88 220 131 185 141 142 94 98 111 96 76 25 102 22 129 39 120 92 79 90 83 144 110 56 88 290 153 243 149 88 128 65 63 257 156 122 110 104 124 61 49 53 76 36 95 126 77 93 85 28 75 61 69 22 81 42 67 70 119 223 125 71 94 61 92 74 80 210 187 140 68 36 74 107 90 111 89 53 98 114 88 150 136 243 153 177 143 25 82 283 166 337 131 55 117 64 89 52 113"/>
<path class="f" d="M333 152 111 126 92 87 111 135 102 135 154 136 263 131 306 160 125 97 92 92 78 75 29 91 97 143 291 113 37 76 134 114 141 114 98 71 74 80 206 119 103 137 76 103 327 114 108 122 263 119 26 106 88 77 154 133 211 113 107 119 77 123 41 103 99 96 97 60 97 73 131 91 142 121 122 98 163 116 120 138 342 85 129 114 121 92 83 100 65 123 35 119 83 85 291 116 146 130 78 68 66 90 154 99"/>
<path class="m" d="M26 65 121 124 89 74 106 97 45 72 138 98 197 128 249 131 43 53 27 89 32 83 144 131 36 81 45 99 33 59 97 128 25 116 72 95 253 155 328 106 152 109 85 96 72 73 30 90 58 94 106 80 130 120 41 82 24 72 49 65 366 162 134 127 206 109 75 90 156 160 89 129 200 122 343 167 107 154 50 76 64 67 34 58 51 87 243 150 34 71 78 96 107 87 68 68 98 95 33 99 69 94 192 105 147 172 111 105 392 151 113 93 79 104 72 51 162 130 287 92 127 122 74 101 116 88 338 153 38 64 282 104 67 92 50 80 280 184 150 98 45 67 220 117 121 95"/>
<path class="f" d="M83 98 300 130 89 119 258 109 81 85 20 69 36 95 111 96 64 87 32 13 126 50 144 64 132 96 62 76 97 100 172 110 347 143 96 99 22 67 230 105 64 90 105 75 124 159 140 91 74 89 179 158 119 65 101 62 58 91 56 95 40 99 130 137 29 46 50 72 111 91 33 60 309 118 314 163 118 114 88 133 90 166 102 154 192 142 93 137 124 117 111 116 97 97 107 107 206 140 139 100 88 107 126 113 37 83 82 118 330 86 362 161 97 80 32 94 69 90 111 77"/>
<path class="m" d="M96 113 78 137 177 118 48 72 33 72 216 113 73 87 319 125 115 65 62 83 29 91 66 61 55 80 55 107 100 112 30 74 65 82 28 94 41 91 73 102 328 117 92 84 131 165 39 88 45 91 126 116 187 137 31 78 79 112 41 103 45 107 22 96 27 92 41 90 305 99 36 66 73 96 33 79 111 102 70 50 172 117 112 142 48 76 30 85 56 109 111 106 253 84 192 104 47 86 22 59 93 106 115 92 37 96 22 73 242 124 95 136 119 170 37 79 24 55 182 144 121 76 71 91 20 78 192 107 23 95"/>
<path class="f" d="M261 137 62 78 309 135 149 107 24 67 98 65 61 107 93 87 143 141 49 69 98 81 196 110 82 130 103 56 121 96 117 70 141 126 164 96 102 109 196 138 158 158 116 75 86 78 110 138 79 125 122 102 97 86 81 71 309 136 109 113 97 122 95 101 72 93 50 100 125 120 107 144 190 99 101 79 96 97 68 97 117 94 82 140 69 103 87 81 90 102 112 94 113 142 46 95 333 107 125 104 154 108 163 149 130 90 89 131 324 147 327 118 191 99 102 89 229 130 102 122 46 154 31 81 41 68 121 84 95 76 88 97 46 99 167 120"/>
<path class="m" d="M24 89 28 98 29 82 78 141 102 95 60 94 27 73 149 103 282 138 97 97 33 69 74 99 70 94 267 135 67 82 67 108 23 64 55 76 220 143 97 49 92 109 40 115 168 125 37 71 44 95 94 88 33 70 55 73 48 88 24 97 110 93 90 118 87 139 214 127 47 100 323 125 215 105 25 93 70 71 78 84 146 123 67 124 86 89 86 138 121 114 78 81 239 121 152 133 79 130 61 60 95 88 49 73 210 110 115 119 91 84 92 104 234 143"/>
<path class="f" d="M87 48 26 92 180 123 268 83 333 135 98 127 27 104 59 86 83 98 66 90 71 95 100 109 69 74 121 113 155 149 116 80 156 96 285 132 45 95 74 121 146 109 87 83 27 84 144 130 97 86 125 60 334 158 88 103 105 85 76 79 38 109 113 92 304 116 61 60 78 82 19 53 31 93 97 125 45 78 76 100 109 104 125 119 175 182 22 69 258 136 50 96 116 72 117 76 244 147 64 99 140 121 75 108 319 120 63 99 81 65 97 79 107 133 47 85 77 97 63 114"/>
<path class="m" d="M64 71 65 85 84 61 93 102 69 103 196 138 133 178 59 90 83 129 49 80 78 57 70 105 19 59 47 68 27 107 30 80 305 141 201 128 49 78 50 94 88 88 79 89 149 90 135 112 334 164 21 85 33 133 126 111 88 117 206 177 97 110 394 123 50 90 52 98 59 92 126 123 318 133 57 84 88 112 32 54 56 95 114 114 73 132 250 180 21 108 43 54 97 112 287 159 58 89 60 55 155 112 120 116 147 122 41 81 80 66 281 182 64 87 30 93 105 112 88 131 33 81 282 148 94 80 53 123 97 134"/>
<path class="f" d="M97 81 91 123 78 96 135 108 112 88 116 70 76 97 102 101 123 149 61 69 28 114 120 97 86 88 257 155 95 134 20 86 324 134 141 73 102 110 126 144 49 84 78 110 124 112 87 134 51 44 112 69 125 77 303 150 90 104 99 115 46 96 57 98 224 97 88 84 126 83 26 83 61 53 310 74 257 96 51 90 83 120 116 155 102 76 55 117 107 132 94 126 116 92 107 68 127 108 88 142 48 98 79 99 120 141 83 68 118 142 267 148 215 123 246 97 309 146 34 86 111 115 338 97 125 72 267 138"/>
<path class="m" d="M272 135 68 84 44 96 42 94 132 126 34 81 22 74 97 53 43 91 50 63 119 154 31 108 159 116 149 116 22 67 125 109 72 93 86 134 47 94 105 107 156 140 121 81 57 87 191 159 34 83 61 128 61 100 40 106 263 112 102 136 26 83 121 65 26 117 262 93 70 103 51 90 213 168 90 101 93 100 26 62 310 142 66 78 126 102 74 128 70 104 63 116 268 117 33 65 147 70 278 132 107 87 116 141 216 159 58 81 20 103 74 128 36 86 120 84 31 64 21 83 85 93"/>
<path class="f" d="M291 112 87 123 130 123 64 62 53 61 63 101 29 89 36 97 125 90 45 75 46 62 79 93 254 128 238 145 145 93 68 57 107 105 69 91 128 71 83 107 51 97 295 96 79 92 121 142 99 85 21 37 111 99 70 94 62 107 141 137 76 54 109 93 23 75 187 133 19 97 244 130 30 111 81 137 89 158 58 102 79 84 255 133 116 101 78 99 281 153 134 113 178 159 20 73 78 61"/>
<path class="m" d="M180 70 295 144 27 122 28 70 126 122 95 86 63 105 143 86 45 90 119 110 69 86 267 97 23 92 44 104 263 156 259 117 52 87 57 81 29 31 114 121 92 149 36 96 22 37 31 111 245 130 122 102 40 74 87 117 31 65 120 78 121 108 154 105 295 159 25 68 339 145 159 170 215 180 22 124 48 72 79 143 51 91 73 71 83 131 120 114 41 122 289 118 35 99 169 137 55 105 93 113 20 93 97 74 65 92 107 148 55 100 112 117 196 110 55 77 50 94 118 103 22 72 164 114 156 121 191 148 28 74 366 148 116 113 92 84 47 99 102 139 126 57 92 124 24 79 107 104 22 86 109 116"/>
<path class="f" d="M96 126 81 60 71 90 69 103 130 68 34 83 378 133 90 100 180 69 104 93 173 75 154 78 83 70 107 85 78 81 23 84 42 66 116 133 55 86 155 181 120 114 125 151 220 126 72 84 99 109 74 82 169 112 78 65 299 139 334 92 81 91 121 131 234 109 292 120 111 101 92 69 215 111 74 82 37 62 92 80 167 109 100 133 102 72 64 67 139 87 88 133 94 77 276 137 26 75 29 68 182 81 324 114 135 47 121 115 60 83 360 104 27 73 156 125 112 115 347 105 33 48 314 116"/>
<path class="m" d="M74 129 40 110 182 125 29 101 21 49 85 114 97 97 329 146 51 64 42 89 157 84 248 151 20 62 127 92 229 157 58 65 314 165 130 109 28 66 38 109 128 98 26 74 61 70 67 114 394 160 125 112 127 89 119 94 139 84 112 83 93 70 97 99 151 87 111 98 44 80 61 75 108 136 78 107 22 84 70 73 65 89 21 75 58 92 60 90 179 96 201 117 64 83 74 68 114 124 31 80 247 137 329 109 64 55 139 103 116 67 102 82 112 118 45 98 40 69 183 86 39 114 117 116 116 129"/>
<path class="f" d="M112 95 126 121 125 93 111 62 37 117 187 86 37 103 216 155 56 108 107 107 366 133 45 74 143 64 111 90 78 123 274 82 41 74 238 108 66 97 328 160 132 111 78 97 118 86 88 87 135 137 314 130 114 122 68 69 64 85 88 51 112 115 74 86 110 126 164 131 45 104 49 68 107 107 102 134 44 90 234 167 52 89 201 126 20 73 88 111 116 102 36 85 88 101 84 131 121 110 79 126 92 145 135 101 300 142 92 61 44 71 105 90 126 135 92 91"/>
<path class="m" d="M78 99 85 132 177 134 29 111 107 93 360 135 88 88 62 79 88 65 54 85 22 64 74 94 333 166 86 63 97 95 187 78 156 131 71 96 43 76 120 111 69 75 62 87 39 94 97 136 230 158 36 86 117 139 31 58 19 75 75 60 68 92 88 70 75 104 324 149 34 99 289 161 70 75 61 72 231 137 229 172 70 86 83 123 54 84 61 77 83 118 41 74 70 97 69 125 61 113 35 59 93 146 26 86 78 72 54 79 64 62 40 76 40 103 80 139 130 113 107 116 154 93 49 75 19 65 60 101 41 86 47 63 26 120"/>
<path class="f" d="M197 139 79 101 88 117 101 57 102 139 97 62 43 60 140 99 61 132 96 161 109 94 105 106 92 92 97 107 55 95 102 100 219 174 22 94 79 87 159 122 157 117 71 40 28 80 121 111 73 104 85 98 83 70 91 54 112 98 286 82 109 136 116 70 77 89 85 95 310 152 36 77 319 125 126 131 26 100 93 106 45 86 309 122 164 156 86 66 90 81 126 112 215 110 112 105 286 122 324 134 99 68 23 66 54 104 258 121 91 138 20 68 105 106 68 89 128 120 116 143 46 109"/>
<path class="m" d="M103 100 69 108 328 153 106 80 338 201 61 66 170 111 56 52 310 148 37 70 133 71 153 110 41 78 111 50 112 103 121 82 93 118 87 98 128 129 36 95 342 144 88 111 71 72 149 118 310 169 45 80 243 159 59 103 49 87 101 135 62 97 24 81 113 98 66 84 74 126 35 32 123 105 44 69 135 135 156 174 87 115 108 144 30 71 112 117 149 134 72 100 180 83 51 77 82 123 37 110 88 90 244 108 102 126 38 98 205 92 22 92 111 112 127 115 88 80 177 113 286 168 38 90 31 94 153 117"/>
<path class="f" d="M116 129 96 126 126 105 93 100 107 78 36 62 300 77 116 76 230 180 58 95 37 50 88 76 276 119 90 85 122 128 96 71 286 97 140 110 123 136 109 105 26 75 153 180 139 117 78 113 300 93 65 91 129 111 154 98 161 126 124 103 109 76 93 118 310 86 91 104 92 119 93 74 85 80 121 76 112 111 63 80 333 44 111 104 81 133 300 130 144 89 93 104 41 73 126 89 310 124 25 78 76 81 102 121 111 121 186 125 57 51 58 87 315 134 137 70 308 144"/>
<path class="m" d="M125 105 26 64 239 153 149 136 78 110 28 83 288 182 79 108 78 110 40 90 65 83 36 109 318 134 19 75 97 89 90 132 84 63 33 94 45 103 116 80 335 117 89 94 43 100 119 115 97 145 52 123 97 70 92 119 44 109 121 100 49 42 63 94 88 117 121 100 43 95 240 134 125 131 172 104 217 81 333 148 109 198 168 82 52 89 83 105 23 56 191 131 93 137 56 80 122 116 50 66 102 122 149 111 135 128 111 107 139 103 66 79 121 142 46 105 36 69 121 170 112 96 59 87 25 69 100 101 72 48 96 97"/>
<path class="f" d="M121 77 333 135 144 141 205 104 32 106 111 119 93 91 111 94 111 99 74 71 39 74 83 133 115 100 121 113 48 92 339 136 33 29 59 77 315 128 190 115 70 78 116 65 88 95 186 142 337 79 309 114 329 158 40 92 168 136 296 104 125 138 116 124 370 83 58 100 60 104 67 80 147 80 97 81 103 104 59 82 281 131 39 66 42 83 64 98 343 139 93 73 44 110 106 103 251 122 112 59"/>
<path class="m" d="M292 112 40 75 44 71 101 113 70 108 71 102 78 114 210 127 72 88 220 137 109 69 310 146 32 83 42 79 112 93 145 157 83 133 188 114 121 90 328 155 60 97 121 105 76 110 29 84 50 106 102 125 56 96 89 115 82 61 97 90 33 53 56 116 281 127 394 134 55 49 83 131 71 99 327 152 122 124 144 130 63 118 102 130 90 88 88 99 50 74 30 73 76 80 149 103 338 109 116 117 69 101 83 140 116 81 290 176 41 74 74 71 31 66 70 98 68 59 69 72 310 155 99 100 28 57 43 71 122 164 45 89 21 101 230 132 73 89 97 53 196 140 29 63 149 108 73 90 138 96"/>
<path class="f" d="M125 107 51 116 25 69 29 114 314 93 111 110 95 88 114 114 120 88 41 96 93 129 133 94 129 100 121 124 59 80 40 47 253 89 145 118 82 92 380 143 187 124 123 122 28 83 135 113 243 117 154 136 111 96 174 144 52 84 111 105 87 102 234 127 128 122 168 116 238 156 357 142 104 105 82 87 124 102 248 129 27 88 126 118 92 111 187 153 79 75 78 111 107 130 139 86 130 123 406 158 90 180 38 93 116 112 133 114 55 92 72 99 103 129 144 177 84 134 97 89 19 78 126 144"/>
<path class="m" d="M300 140 54 62 106 125 31 82 230 170 63 83 78 116 135 120 295 139 69 94 55 71 72 131 81 275 337 122 29 95 29 93 135 122 24 75 191 142 95 83 47 113 20 99 186 132 40 87 321 124 191 126 90 113 47 108 90 122 116 77 102 109 178 118 149 148 41 87 69 76 93 101 29 72 206 141 55 77 201 123 28 74 206 179 78 119 20 62 45 81 79 79 183 134 329 148 117 115 54 111 64 98 34 78 59 67 63 95 87 91 128 82 118 91 54 130 39 80 92 108 31 86 51 117 88 100"/>
<path class="f" d="M64 84 168 149 263 131 50 90 281 95 31 91 135 99 83 83 38 77 97 98 72 96 288 132 302 117 338 109 314 154 116 78 79 100 26 57 83 103 92 81 102 124 51 70 23 83 291 142 111 84 83 118 41 65 106 67 111 87 106 124 371 180 74 138 126 101 47 92 31 101 43 90 79 110 23 90 258 121 89 108 26 59 361 113 83 102 75 85 322 170 226 108 37 72 30 66 93 117 124 159 25 82 64 97 64 59 67 90 121 71"/>
<path class="m" d="M30 56 29 67 62 97 112 131 111 98 61 72 332 153 95 122 125 113 267 151 371 152 26 84 59 71 59 105 83 107 35 91 116 144 49 74 84 50 221 92 43 104 59 88 36 74 22 61 79 79 170 122 215 147 295 128 24 84 22 50 97 95 64 67 30 78 88 82 159 138 23 90 258 123 22 92 239 152 35 74 94 95 23 89 78 105 64 85 26 88 121 127 40 125 46 92 83 122 35 53 119 112 64 66 66 89 200 163 154 102 107 121 29 69 56 95 86 134 117 105 66 111 83 112 88 91 111 83 28 62 138 52 59 90 329 169 272 126 43 106"/>
<path class="f" d="M324 125 68 77 116 98 283 71 89 82 116 89 32 62 97 71 127 90 182 101 51 112 182 136 33 83 21 103 178 140 84 110 51 70 120 83 285 108 87 128 76 85 125 150 83 85 107 106 116 76 248 102 156 133 88 55 92 66 96 92 180 133 191 122 50 85 351 162 279 188 87 98 183 124 215 150 96 107 113 125 27 103 125 127 125 71 329 130 102 83 149 93 99 103 253 155 78 96 91 91 116 113 70 66 220 164 103 97 39 109 262 81 93 97 105 92 111 127"/>
<path class="m" d="M163 120 102 103 122 90 102 89 35 102 35 75 36 82 102 134 54 76 85 81 178 121 102 113 81 157 108 81 56 77 183 118 79 107 47 74 129 143 131 132 107 121 121 98 57 78 60 78 22 65 130 94 45 53 51 75 30 112 116 101 282 118 114 67 73 92 29 66 63 79 66 119 150 110 104 118 64 64 315 81 30 95 121 112 34 81 72 80 83 74 94 75 53 80 54 117 59 82 65 89 41 107 70 87 58 80 216 150 328 124 168 140 92 68 46 96 91 131 312 158 99 106 31 81 27 71 120 117 126 97 36 53"/>
<path class="f" d="M317 104 71 86 107 76 300 131 97 117 74 59 328 143 315 157 105 117 86 99 138 87 105 112 93 111 117 92 333 127 125 108 98 88 111 102 20 86 209 113 81 66 61 121 366 66 26 56 119 96 68 121 201 107 28 27 82 80 29 98 147 135 101 102 101 140 92 99 55 83 24 83 124 90 107 103 87 111 99 136 145 110 291 133 328 140 310 121 248 117 81 77 145 140 75 87 300 152 305 152 119 124 78 72 110 125 105 85 333 102"/>
<path class="m" d="M53 82 216 122 46 82 102 118 94 99 31 117 54 101 44 89 68 107 121 93 51 87 69 106 125 106 262 123 130 88 182 97 114 95 19 103 119 90 143 153 102 128 393 162 82 117 146 122 26 59 148 123 58 125 300 152 53 98 23 56 69 99 257 151 239 115 48 91 206 117 45 68 206 114 71 62 102 126 55 89 54 82 87 143 40 55 19 91 68 110 69 61 88 95 83 62 41 70 20 65 338 154 21 88 291 146 241 108 56 85 126 100 149 110 116 113 130 97 90 139 93 92 45 101 24 78 71 86 88 56 146 144 49 105 83 69 220 144 281 118"/>
<path class="f" d="M61 67 30 103 21 26 40 79 239 126 27 86 126 121 91 138 89 136 123 122 72 114 121 112 103 139 168 134 221 113 91 112 106 97 111 108 99 95 33 82 287 96 267 100 56 98 108 125 54 109 126 140 32 93 267 101 107 128 116 139 277 108 119 87 50 91 281 89 59 80 20 90 105 80 57 121 85 114 301 138 90 95 263 136 73 121 121 129 131 113 92 88 50 81 206 152 89 61 43 94 86 113 370 118 54 87 335 145 54 78 98 136 93 75 95 132 87 74 108 117"/>
<path class="m" d="M159 148 35 95 34 79 56 92 333 104 43 50 331 147 62 80 47 114 111 122 52 93 46 98 326 200 64 79 171 97 145 130 73 80 37 102 31 70 114 106 82 93 92 107 79 103 78 110 73 96 112 90 43 72 49 85 111 119 329 146 107 111 113 85 27 86 61 74 128 104 97 98 87 88 147 78 54 87 59 80 121 136 177 123 149 154 106 93 140 136 333 124 49 92 79 96 182 151 21 92 31 110 43 92 20 84 136 129 54 86 107 104 239 150 20 82 206 112 63 88 251 147 67 90 165 157 52 86 220 111"/>
<path class="f" d="M79 102 111 116 124 114 67 133 122 115 87 120 44 103 83 100 361 113 31 117 30 88 70 103 121 133 282 137 144 111 126 117 22 75 81 111 90 135 55 84 177 116 97 126 168 81 103 69 49 98 67 68 93 146 52 78 94 87 366 109 126 108 98 74 123 128 201 136 76 94 338 130 140 157 50 77 225 132 102 102 119 86 123 93 97 97 29 71 286 185 82 97 116 111 21 47 74 78 63 86 334 65 144 146 104 79 295 124 140 125 64 78 149 93 74 63 154 90 38 57 97 75 21 91"/>
<path class="m" d="M22 86 151 135 45 63 118 110 67 105 36 82 26 59 56 71 67 116 54 97 59 102 138 87 59 116 74 97 214 126 309 165 163 133 182 140 68 80 89 116 154 141 58 97 202 109 52 94 40 104 334 155 78 63 37 81 95 66 87 69 21 56 83 134 106 134 46 81 42 90 88 89 127 140 339 150 97 77 60 74 150 127 79 82 135 72 132 109 88 96 124 65 59 85 139 151 229 119 44 68 92 83 114 85 19 66 50 77 56 79 53 77 91 131 78 93 153 122 50 81 19 84 211 135 19 116"/>
<path class="f" d="M47 71 88 120 89 115 121 78 84 82 125 91 187 124 83 98 78 110 42 61 220 125 345 142 125 86 267 137 78 78 57 65 121 129 47 63 37 93 73 87 111 84 27 67 220 152 35 76 26 109 122 117 113 115 88 129 98 134 255 82 196 133 337 151 102 119 26 93 83 70 87 96 297 108 75 43 47 84 28 88 22 65 58 91 78 89 76 107 69 70 97 95 167 130 149 84 126 126 91 74 48 99 333 158 269 148 93 115 144 124 215 120 253 141 140 125 304 121 61 102 135 96 328 156 22 93 144 129 133 85 55 63"/>
<path class="m" d="M44 89 83 102 139 94 64 72 22 82 44 90 54 103 69 98 83 80 45 91 79 93 148 98 68 93 73 101 23 79 69 75 57 74 82 87 125 106 46 105 34 65 83 111 54 91 112 156 21 105 32 87 287 132 61 65 63 118 47 97 37 63 42 82 26 93 176 102 263 152 60 79 95 67 41 59 154 94 103 104 33 93 45 95 68 101 32 69 107 147 26 46 121 117 34 64 30 55 83 54 101 127 60 79 41 95 111 110 35 83 60 100 300 155 338 154 310 137"/>
<path class="b" d="M19 38.3 27.1 40.2 35.1 42.3 43.2 44.3 51.3 46.4 59.3 48.6 67.4 50.9 75.5 53.2 83.6 55.6 91.6 58.1 99.7 60.7 107.8 63.4 115.8 66.1 123.9 68.8 132 71.6 140 74.4 148.1 77.1 156.2 79.8 164.2 82.4 172.3 85 180.4 87.6 188.5 89.9 196.5 91.7 204.6 93.2 212.7 94.4 220.7 95.5 228.8 96.3 236.9 97.1 244.9 97.7 253 98.3 261.1 98.8 269.1 99.1 277.2 99.1 285.3 99.1 293.4 99 301.4 99 309.5 98.9 317.6 98.9 325.6 98.9 333.7 99 341.8 99.1 349.8 99.2 357.9 99.5 366 99.7 374 99.8 382.1 99.9 390.2 100.2 398.2 101 L398.2 189.5 390.2 188.5 382.1 187.7 374 186.9 366 186.2 357.9 185.4 349.8 184.6 341.8 183.9 333.7 183.3 325.6 182.7 317.6 182.2 309.5 181.7 301.4 181.4 293.4 181 285.3 180.7 277.2 180.4 269.1 180.1 261.1 179.8 253 179.3 244.9 178.7 236.9 178.1 228.8 177.3 220.7 176.4 212.7 175.4 204.6 174.2 196.5 172.7 188.5 170.9 180.4 168.6 172.3 166 164.2 163.4 156.2 160.7 148.1 158 140 155.3 132 152.6 123.9 149.8 115.8 147.1 107.8 144.4 99.7 141.7 91.6 139.1 83.6 136.6 75.5 134.2 67.4 131.9 59.3 129.6 51.3 127.4 43.2 125.3 35.1 123.2 27.1 121.2 19 119.2Z"/>
<path class="b" d="M19 35.1 27.3 37.2 35.5 39.5 43.8 41.8 52 44.3 60.3 46.8 68.5 49.3 76.8 51.8 85 54.2 93.3 56.7 101.6 59.2 109.8 61.7 118.1 64.1 126.3 66.6 134.6 69.1 142.8 71.6 151.1 74 159.3 76.4 167.6 78.5 175.9 80.4 184.1 82 192.4 83.4 200.6 84.4 208.9 85.2 217.1 85.8 225.4 86.3 233.6 86.7 241.9 87.1 250.1 87.5 258.4 87.9 266.7 88.3 274.9 88.5 283.2 88.7 291.4 88.8 299.7 89 307.9 89.3 316.2 89.4 324.4 89.4 332.7 89.4 341 89.4 349.2 89.4 357.5 89.6 365.7 89.7 374 89.7 382.2 89.6 390.5 89.5 398.7 89.7 407 90 L407 180 398.7 179.7 390.5 179.4 382.2 178.8 374 178.3 365.7 177.7 357.5 177 349.2 176.2 341 175.6 332.7 175 324.4 174.6 316.2 174 307.9 173.4 299.7 172.7 291.4 172.1 283.2 171.6 274.9 171.1 266.7 170.7 258.4 170.3 250.1 169.8 241.9 169.4 233.6 169 225.4 168.7 217.1 168.2 208.9 167.5 200.6 166.7 192.4 165.7 184.1 164.4 175.9 162.7 167.6 160.8 159.3 158.7 151.1 156.4 142.8 153.9 134.6 151.5 126.3 149 118.1 146.5 109.8 144 101.6 141.5 93.3 139.1 85 136.6 76.8 134.1 68.5 131.6 60.3 129.1 52 126.6 43.8 124.2 35.5 121.8 27.3 119.6 19 117.4Z"/>
<path class="lm" d="M19 78.8 27.1 80.7 35.1 82.7 43.2 84.8 51.3 86.9 59.3 89.1 67.4 91.4 75.5 93.7 83.6 96.1 91.6 98.6 99.7 101.2 107.8 103.9 115.8 106.6 123.9 109.3 132 112.1 140 114.8 148.1 117.5 156.2 120.2 164.2 122.9 172.3 125.5 180.4 128.1 188.5 130.4 196.5 132.2 204.6 133.7 212.7 134.9 220.7 136 228.8 136.8 236.9 137.6 244.9 138.2 253 138.8 261.1 139.3 269.1 139.6 277.2 139.7 285.3 139.9 293.4 140 301.4 140.2 309.5 140.3 317.6 140.5 325.6 140.8 333.7 141.1 341.8 141.5 349.8 141.9 357.9 142.4 366 142.9 374 143.4 382.1 143.8 390.2 144.4 398.2 145.2"/>
<path class="lf" d="M19 76.2 27.3 78.4 35.5 80.7 43.8 83 52 85.5 60.3 88 68.5 90.5 76.8 92.9 85 95.4 93.3 97.9 101.6 100.4 109.8 102.8 118.1 105.3 126.3 107.8 134.6 110.3 142.8 112.7 151.1 115.2 159.3 117.5 167.6 119.6 175.9 121.5 184.1 123.2 192.4 124.5 200.6 125.5 208.9 126.4 217.1 127 225.4 127.5 233.6 127.9 241.9 128.2 250.1 128.7 258.4 129.1 266.7 129.5 274.9 129.8 283.2 130.1 291.4 130.5 299.7 130.9 307.9 131.3 316.2 131.7 324.4 132 332.7 132.2 341 132.5 349.2 132.8 357.5 133.3 365.7 133.7 374 134 382.2 134.2 390.5 134.5 398.7 134.7 407 135"/>
<rect class="s" width="426" height="288"/>
<rect class="lg" x="309.8" y="232" width="108.6" height="50" rx="3.1"/>
<circle class="cf" cx="332.1" cy="245.1" r="4.17"/>
<circle class="cm" cx="332.1" cy="267.3" r="4.17"/>
<text class="t" x="360.4" y="249.4">female</text>
<text class="t" x="360.4" y="272.4">male</text>
<text class="tt" x="213" y="-8.3" text-anchor="middle">Putamen</text>
<text class="t" x="-13.6" y="33.1" text-anchor="end">0.0040</text>
<text class="t" x="-13.6" y="66.1" text-anchor="end">0.0035</text>
<text class="t" x="-13.6" y="100.1" text-anchor="end">0.0030</text>
<text class="t" x="-13.6" y="133.1" text-anchor="end">0.0025</text>
<text class="t" x="-13.6" y="166.1" text-anchor="end">0.0020</text>
<text class="t" x="-13.6" y="199.1" text-anchor="end">0.0015</text>
<text class="t" x="-13.6" y="233.1" text-anchor="end">0.0010</text>
<text class="t" x="-13.6" y="266.1" text-anchor="end">0.0005</text>
<text class="l" transform="translate(-77,144) rotate(-90) scale(1,1.09)" text-anchor="middle">GM volume (TIV-normalized)</text>
</g>
<g transform="translate(1176,374)">
<path class="g" d="M86.5 0V288M180.5 0V288M275.5 0V288M369.5 0V288M0 54.5H426M0 114.5H426M0 174.5H426M0 235.5H426"/>
<path class="f" d="M92 220 330 207 58 143 124 213 45 184 338 217 97 235 40 176 215 231 182 182 269 190 332 210 234 185 83 219 19 108 83 190 125 152 46 165 87 204 121 231 83 215 109 183 179 201 51 152 364 82 221 208 130 192 141 173 74 179 122 200 124 223 300 202 79 182 90 162 38 130 121 189 124 181 118 226 126 194 310 212 178 212 206 228 347 199 51 128 121 194 91 206 47 150 281 96 357 191 295 237 116 240 82 191 309 228 109 216"/>
<path class="m" d="M92 215 70 204 34 130 57 153 262 252 220 221 55 135 88 164 41 186 163 247 59 140 328 201 239 193 247 248 88 216 91 175 328 214 24 178 35 129 39 109 40 139 20 86 59 174 22 107 64 194 52 127 30 121 41 167 262 236 86 196 64 186 126 218 43 186 121 230 140 199 78 189 25 183 41 154 215 230 150 199 72 181 121 212 20 20 86 222 282 214 66 165 94 207 50 186 51 202 45 209 35 166 169 147 86 179 165 246 115 185 44 141 45 173 249 196 27 172 74 140 305 155 23 122 102 215 33 120 191 209 102 216 171 175 30 99 66 182 110 205 74 172 97 165 35 105"/>
<path class="f" d="M57 199 40 162 96 186 103 211 131 229 99 194 68 207 23 101 132 145 33 123 300 200 96 237 83 225 317 80 103 131 89 206 64 216 118 247 50 157 370 79 64 187 267 135 126 207 107 151 125 215 140 233 100 176 20 77 97 176 36 127 168 194 103 226 26 117 324 220 79 200 50 179 94 199 181 207 33 136 337 174 385 169 26 101 91 190 114 195 128 232 180 230 32 123 38 165 102 219 102 227 263 213 244 206 112 221 378 184 97 215 50 101 48 154 111 217 29 146 173 204"/>
<path class="m" d="M56 213 48 127 31 206 149 190 94 200 27 169 300 208 42 76 88 195 30 129 80 134 187 204 89 196 41 146 97 209 69 205 60 194 74 206 89 184 130 201 111 150 41 182 97 183 286 207 338 228 104 159 29 132 47 183 22 126 93 154 21 81 149 195 19 104 182 220 149 214 22 99 88 216 142 225 110 235 35 133 98 216 59 174 44 156 223 197 41 179 88 184 267 238 106 221 78 202 47 197 44 157 143 228 54 172 86 140 54 86 70 199 33 116 113 226 58 161 52 172 61 149 36 140 102 229 116 231 87 202 49 117 85 182"/>
<path class="f" d="M66 180 121 216 255 200 113 204 130 214 196 222 36 63 333 217 107 200 109 211 45 189 37 140 116 230 333 157 154 228 92 205 128 223 90 222 190 193 111 216 103 211 76 185 128 226 105 158 109 217 93 148 111 176 248 148 29 48 63 188 211 231 135 200 64 145 307 21 168 206 302 199 32 72 206 187 30 141 83 181 121 183 229 213 92 180 238 194 125 215 149 186 111 211 26 149 79 212 335 200 116 220 126 219 111 228 105 234 72 191 140 207"/>
<path class="m" d="M90 216 312 212 191 235 81 227 210 193 26 66 47 207 243 209 121 218 37 140 90 200 30 36 107 225 318 116 146 241 231 184 328 218 47 128 72 208 94 147 64 192 99 199 42 146 149 242 61 181 162 231 48 114 40 124 29 108 23 92 126 218 329 184 75 208 32 178 43 60 89 207 26 91 41 181 65 215 177 224 31 92 114 211 70 181 121 206 66 162 333 228 127 238 35 147 310 202 111 97 116 191 44 116 73 199 92 231 28 107 310 146 41 179 112 198 121 214 36 146 196 183 73 186 183 243 50 188 188 176 116 228 29 108 305 220 97 166 27 110 70 186"/>
<path class="f" d="M265 13 45 134 30 123 121 185 42 129 64 170 32 106 28 144 92 153 154 249 54 129 338 217 94 194 105 204 59 174 100 235 163 185 72 197 300 172 103 221 79 180 135 225 90 204 34 158 125 239 310 193 216 202 324 195 58 153 78 185 87 205 88 210 149 206 45 110 333 209 111 202 220 227 111 147 121 185 97 196 141 189 308 201 47 147 103 215 62 199 96 210 137 217 94 159 88 193 56 181 62 133 67 185 51 146 60 170 263 210 125 188 82 179 131 109 287 104"/>
<path class="m" d="M54 178 28 87 113 214 202 168 41 121 78 188 154 212 87 206 321 153 22 96 61 138 83 194 60 211 191 217 96 93 40 147 109 211 46 124 144 225 37 131 108 225 366 186 50 152 55 180 343 101 120 200 45 175 107 205 97 239 243 222 92 208 122 233 97 193 83 174 112 187 89 136 42 27 60 192 21 116 41 151 128 211 40 180 74 168 33 161 45 95 289 197 131 206 177 230 20 52 88 187 103 185 24 81 111 198 28 108 85 154 328 191 32 128 86 169 140 212 47 215 127 206 168 229 366 226 149 227 53 171 121 200 54 176 93 191"/>
<path class="f" d="M83 231 71 188 98 210 362 128 144 100 126 208 21 65 97 215 50 166 345 120 70 171 102 207 29 99 102 170 56 174 121 181 22 109 116 210 97 179 144 223 126 235 44 175 82 217 253 116 123 229 215 148 78 150 124 214 215 235 296 185 20 29 101 222 47 168 87 173 123 234 83 170 102 209 366 212 39 132 103 199 76 192 27 72 303 233 102 225 97 213 105 205 97 196 107 220 88 237 291 196 111 156 45 139 163 216"/>
<path class="m" d="M63 193 310 231 53 171 83 159 30 135 29 140 24 96 26 111 238 220 143 215 73 195 324 232 83 153 102 172 328 211 28 129 44 117 182 224 45 118 128 159 63 130 304 79 243 191 20 46 19 115 85 202 46 146 60 189 323 207 67 172 72 188 66 177 112 191 92 212 91 197 69 170 62 165 91 192 90 217 19 141 36 148 39 137 57 136 121 245 56 127 78 193 78 208 111 228 290 130 114 181 69 177 64 157 36 155 73 200 92 160 295 168 73 152 34 153 64 144 230 239 88 189 115 232 26 73 172 208 83 220 65 169 53 193 44 125 65 158 47 208 26 117 45 176 70 169 49 127"/>
<path class="f" d="M94 217 286 200 46 142 37 132 116 200 121 181 144 78 64 100 77 217 50 171 107 212 156 152 55 154 116 222 88 194 64 184 29 103 258 194 88 228 41 129 196 237 89 191 301 120 126 183 310 224 52 126 112 173 177 182 97 197 134 204 121 205 120 197 77 201 112 236 22 116 224 222 215 237 90 155 93 221 49 147 169 182 119 163 46 138 168 211 116 229 88 212 225 205 75 203 398 96 319 210 36 114 102 240 322 237 92 142 156 200 116 236 107 215 63 143"/>
<path class="m" d="M53 168 180 203 60 199 44 116 59 199 239 223 68 197 97 212 116 231 49 132 31 236 62 168 125 205 95 218 36 98 272 190 69 180 131 208 125 185 22 80 90 157 191 189 45 177 31 87 54 192 300 209 36 124 150 139 113 221 40 166 319 144 114 215 29 90 33 75 45 132 92 219 102 221 138 173 83 177 85 200 34 106 73 200 394 217 21 99 116 192 82 198 32 103 119 224 200 158 282 213 22 149 45 190 26 96 314 219 24 233 89 179 64 168 49 121 30 108 57 151 138 193 31 147 75 206 97 221 21 54 101 222 31 206 121 205 59 161"/>
<path class="f" d="M146 188 291 224 35 155 27 86 66 170 82 170 121 172 182 208 97 210 43 131 22 99 107 208 126 198 51 153 121 193 89 212 314 212 339 171 69 161 53 145 83 191 96 199 102 167 315 199 257 192 154 201 48 197 69 196 47 146 349 117 168 221 164 219 168 228 206 216 61 171 107 213 81 170 141 206 93 237 87 214 48 176 177 119 77 186 83 204 91 221 111 202 81 158 72 189 64 184 67 178 21 127 270 120 78 201 153 163 125 192 55 177 59 214 126 194"/>
<path class="m" d="M20 136 53 193 93 215 41 161 31 114 282 246 338 168 54 161 40 123 46 152 79 182 305 170 34 185 31 138 47 180 43 175 55 211 46 145 267 234 62 173 71 192 114 229 44 147 118 192 74 169 383 229 31 150 341 86 145 201 101 161 281 248 51 147 149 213 182 220 153 202 72 210 22 116 135 211 170 177 85 218 70 182 337 206 61 176 61 164 37 130 27 107 188 190 163 176 25 102 360 231 154 209 216 234 244 252 54 170 206 191 120 206 102 215 62 158 79 191 26 129 69 198 170 210 242 220 216 193 112 224 74 183 130 191 33 145"/>
<path class="f" d="M315 218 56 184 149 219 120 168 83 150 134 228 361 163 182 226 117 208 154 216 144 228 88 138 75 168 129 218 44 150 234 210 79 206 129 208 92 196 27 75 37 96 286 209 25 76 360 195 45 151 58 173 83 176 125 212 304 235 26 107 110 195 111 235 174 234 53 192 50 175 135 196 93 187 331 61 22 113 78 231 96 217 97 222 262 233 28 161 328 205 69 187 89 214 282 200 116 220 343 177 127 224 79 176 33 128 85 220 20 36 144 196 91 211 91 213 201 178 126 225 70 183 183 234"/>
<path class="m" d="M81 275 44 163 126 219 135 187 121 234 22 101 79 215 65 136 45 125 114 185 36 144 168 209 40 152 50 168 263 180 31 105 55 116 124 187 68 188 149 221 214 171 61 164 111 159 68 190 186 105 240 249 82 198 54 142 92 225 54 187 335 184 74 191 73 198 392 187 79 165 53 212 338 213 279 76 268 242 45 160 37 131 70 196 163 200 97 197 270 95 22 115 90 217 96 171 129 176 178 175 87 206 78 173 121 229 152 201 139 218 361 210 50 160 41 191 107 195 121 159 75 220 82 219 149 217 338 232"/>
<path class="f" d="M81 238 119 146 92 216 29 91 61 133 93 234 116 220 286 204 57 168 63 153 67 163 76 206 278 82 187 203 120 190 59 148 92 206 164 183 87 204 109 198 111 200 111 189 314 221 61 146 72 110 304 205 143 241 107 204 290 195 306 240 92 218 99 207 43 129 84 184 52 131 123 223 149 185 88 211 96 178 192 208 78 196 261 180 41 124 23 105 35 189 99 191 88 196 87 212 121 176 201 211 126 200 107 174 110 213 139 222 126 202 220 216 141 241 107 209"/>
<path class="m" d="M97 211 19 122 51 177 36 146 56 129 148 143 22 71 99 152 33 174 68 160 164 195 19 75 125 225 95 217 126 206 70 169 72 133 180 190 83 201 56 210 27 130 111 213 187 201 339 139 138 207 295 219 121 233 144 235 101 179 51 115 126 225 74 184 206 216 102 177 229 228 176 239 156 169 111 231 136 217 329 199 71 210 27 148 87 231 102 224 230 241 27 72 67 156 28 140 63 182 34 198 58 186 177 191 28 110 114 236 117 229 30 83 98 211 97 162 59 169 85 217 330 204 78 204 79 205 79 167 49 162 24 105 29 94 41 214"/>
<path class="f" d="M93 224 65 148 88 222 84 182 83 160 102 212 201 199 37 145 124 228 220 209 334 237 309 167 110 179 78 183 21 70 59 153 335 92 243 213 68 155 58 214 103 161 66 183 112 216 44 123 117 237 126 232 30 129 106 177 38 216 329 207 90 95 89 209 225 213 305 191 104 234 101 186 278 111 105 169 48 121 111 229 173 181 144 208 49 200 60 183 107 227 126 229 78 184 69 187 158 218 116 233 106 220 92 217 238 222 138 191 277 234 60 172 333 163 149 231 112 210 93 182 64 101 78 208 112 186 67 208 187 206 121 157 36 173 161 229 107 228 125 232"/>
<path class="m" d="M64 216 92 202 21 122 156 235 79 222 97 211 41 175 61 162 48 161 69 232 120 192 20 164 159 202 22 131 145 221 150 192 160 121 211 253 128 206 30 171 71 187 83 204 255 199 23 120 92 168 243 124 154 219 36 123 221 247 20 47 80 216 79 212 37 159 45 124 67 141 49 125 121 217 56 167 64 201 310 184 43 155 41 182 76 194 88 185 393 230 72 179 61 130 118 226 122 223 121 236 35 104 31 122 79 195 34 102 295 217 92 210"/>
<path class="f" d="M51 175 121 205 102 226 125 179 267 222 23 75 50 177 276 234 145 233 96 193 342 212 105 190 137 216 276 200 248 225 126 217 90 140 111 184 133 213 107 220 288 221 79 189 125 193 97 206 220 218 120 226 85 203 102 201 19 175 106 185 26 101 111 205 41 184 121 214 333 195 92 200 135 161 145 205 87 210 334 189 86 189 267 218 121 216 291 245 72 127 22 92 286 109 72 200 20 105 309 222 47 96 41 143 340 78 72 200 87 180 111 198 101 181 250 82 102 135 112 190 83 194 104 220 79 196 116 204"/>
<path class="m" d="M28 94 47 206 163 206 201 231 69 206 49 139 84 176 104 208 27 160 69 161 185 226 107 102 164 243 65 163 159 221 88 221 97 193 88 202 239 240 282 234 146 214 36 121 334 222 53 116 45 165 272 215 43 150 66 217 394 130 50 199 74 210 259 127 287 227 116 176 38 122 23 79 95 187 107 227 71 184 34 134 62 181 106 180 121 218 116 102 35 172 121 205 71 185 83 160 88 191 35 107 154 197 43 143 102 222 339 181 318 230 220 232 152 196 234 189 26 153 125 139 42 117 60 200"/>
<path class="f" d="M187 211 167 225 93 197 88 201 125 218 119 210 55 163 42 114 51 145 22 120 103 207 24 20 98 216 315 209 248 174 406 194 94 199 76 191 56 144 27 116 249 213 36 119 300 235 116 198 145 230 38 126 337 230 268 194 21 120 115 233 97 208 90 198 100 196 36 148 248 195 146 222 97 199 85 204 61 138 292 65 366 127 98 206 22 104 121 233 205 185 82 184 261 182 187 215 135 190 249 230 122 215 37 84 93 231 93 220 258 227 127 223 97 187 64 226 159 169 82 178 121 191 77 162 59 166 120 183"/>
<path class="m" d="M54 190 43 67 135 211 27 127 64 186 107 132 83 231 156 228 97 175 84 109 108 196 342 151 73 194 107 166 93 163 82 204 102 147 86 144 102 183 114 144 20 109 148 191 239 247 79 190 35 161 267 235 60 214 214 228 28 97 88 207 25 110 22 103 127 193 56 162 50 171 40 176 126 144 130 222 257 251 95 207 95 160 30 113 82 192 88 137 93 209 121 229 60 199 69 140 36 140 64 188 97 228 41 132 63 198 68 199 29 118 93 211 119 217 39 110 37 153 216 215 38 96 22 132"/>
<path class="f" d="M328 231 19 91 90 184 196 209 201 212 74 76 62 197 57 208 55 111 329 218 282 216 74 181 135 224 281 242 111 160 144 210 75 164 253 235 300 225 20 75 87 207 97 212 87 198 36 144 81 222 98 220 25 101 61 142 140 211 281 205 85 190 76 205 91 200 25 83 31 95 107 230 83 205 83 159 267 202 40 155 74 205 66 190 97 214 35 162 83 204 150 207 37 194 49 157 78 223 356 166 61 146 107 215 112 186 62 167 130 211 20 95"/>
<path class="m" d="M92 156 29 85 34 157 55 177 20 102 120 229 39 141 149 242 61 175 31 193 57 182 63 194 52 155 122 221 263 224 315 215 55 150 78 149 83 194 28 136 329 214 69 194 85 213 139 188 121 219 295 223 48 132 102 139 55 106 292 153 156 227 48 140 70 173 64 210 371 138 83 171 37 217 295 233 61 190 159 212 318 173 35 75 105 209 86 204 78 224 112 233 22 100 68 168 73 197 197 209 154 235 97 221 149 219 56 184 206 174 61 160 247 230 107 203 183 223 104 219 102 187 360 112 107 111 125 119 131 231 70 185 34 119 126 214 139 239 36 126"/>
<path class="f" d="M125 223 113 205 74 160 78 129 70 182 87 207 78 173 130 221 81 233 74 207 92 233 163 180 111 228 187 191 314 184 108 214 26 127 76 232 69 193 21 169 20 115 104 223 99 179 135 238 41 100 122 176 147 195 206 151 121 216 93 216 92 215 81 206 26 120 32 89 140 204 272 220 73 181 27 118 125 212 177 206 89 170 121 180 267 214 93 194 125 221 88 213 347 202 55 169 99 229 98 219 26 159 121 200 37 107 93 175 324 183 100 215 106 213 334 201"/>
<path class="m" d="M47 193 178 209 119 234 130 208 42 92 192 239 20 70 49 139 111 206 84 151 134 209 229 230 51 133 56 121 191 214 239 218 112 228 87 217 147 207 78 220 43 128 32 133 117 210 253 181 126 203 58 167 139 226 45 160 310 233 22 107 36 136 93 222 121 204 53 148 64 187 33 99 47 117 230 223 116 217 33 152 34 118 19 75 94 157 88 211 63 217 106 229 33 118 26 106 116 190 125 228 64 175 52 155 196 216 62 186 314 113 46 121 153 204 107 199 63 147 116 162 119 208 90 214 79 190 94 149 44 127 259 182 205 186 72 175"/>
<path class="f" d="M347 214 149 224 88 214 19 75 93 218 46 192 140 214 97 202 51 184 145 167 93 206 31 80 133 229 23 102 93 211 371 159 19 99 33 130 124 173 370 179 78 215 126 192 123 192 79 186 116 220 26 164 71 210 309 226 98 137 102 235 144 204 95 100 380 185 125 212 315 198 111 214 139 224 79 180 99 223 154 205 87 185 190 239 84 149 88 161 154 226 327 213 243 200 43 124 109 219 168 229 119 228 89 207 229 233 88 186 88 169 23 92 333 219 68 200 197 193 108 239 142 226 253 224 121 165 333 135 285 188 206 145 119 213"/>
<path class="m" d="M56 194 122 153 83 164 310 210 37 108 55 170 68 187 58 146 287 231 67 185 26 177 48 127 26 100 127 138 40 99 45 143 57 180 117 204 159 232 29 122 133 219 31 69 88 203 25 130 379 94 126 214 182 245 102 211 55 127 93 162 63 221 42 121 29 146 245 174 34 126 182 216 127 190 343 227 93 226 71 211 51 159 168 212 286 240 124 222 191 202 220 240 25 66 28 148 107 218 31 150 111 220 106 170 70 223 51 175 102 204 22 139 291 197 250 163 146 135"/>
<path class="f" d="M96 187 309 241 81 158 163 182 366 179 295 182 130 222 328 230 78 209 90 180 130 233 291 205 118 233 361 184 327 209 329 217 79 198 147 223 58 199 124 207 281 206 97 191 83 199 78 209 74 177 168 182 31 119 233 149 129 143 112 143 324 185 93 223 76 186 74 213 123 182 186 200 56 153 309 230 93 223 108 201 121 207 102 227 78 238 76 214 116 216 73 177 89 207 105 176 86 212 215 201 78 198 57 138 42 121 105 231 69 173"/>
<path class="m" d="M53 207 74 184 88 108 149 203 69 190 111 221 243 223 30 138 331 179 55 175 300 187 121 224 65 172 33 129 49 171 283 241 192 252 258 249 87 179 135 203 61 180 76 192 69 155 54 179 43 131 323 161 88 202 116 240 156 244 90 178 196 236 29 146 121 173 130 175 253 238 23 89 69 137 81 223 46 135 333 216 46 134 127 193 75 191 98 159 36 85 112 201 112 228 176 200 43 195 23 124 329 222 64 178 130 208 45 132 98 188 66 101 83 199 67 179 135 238 70 208 144 217 81 204 122 229 78 231 72 187 38 149 26 116 125 181 42 141 93 222 394 238"/>
<path class="f" d="M63 142 27 67 111 239 309 217 287 214 258 209 88 201 93 201 132 216 74 171 63 186 111 219 40 112 178 194 84 154 88 223 90 202 157 199 121 232 87 182 64 205 186 211 116 219 117 103 70 177 97 195 281 228 68 151 24 82 154 175 220 208 86 209 167 175 253 221 91 210 28 134 114 232 82 164 31 156 102 214 68 194 36 144 20 76 31 132 180 114 74 226 97 161 79 128 78 162 97 188 81 225 155 214 328 128 121 206 294 89 106 116 71 214 309 189 126 210 291 126 98 152 254 229 89 214 32 109"/>
<path class="m" d="M68 168 54 155 20 112 111 208 153 185 42 130 49 174 54 152 289 199 22 92 151 145 342 181 59 162 168 242 73 206 83 192 71 177 112 200 47 205 60 146 68 201 107 181 55 193 192 188 147 215 22 79 337 173 120 232 24 72 91 161 135 201 40 156 52 219 290 214 96 181 334 177 118 209 112 216 27 97 78 242 140 121 62 182 73 194 88 194 42 159 56 195 37 76 78 155 182 171 23 79 100 199 101 225 41 173 38 163 135 191 69 191 121 222 63 187 46 165 57 161 78 222 83 198"/>
<path class="f" d="M204 46 140 238 111 223 63 158 123 233 108 165 244 199 116 209 134 229 120 214 319 220 88 155 58 153 68 114 75 195 226 190 46 136 158 244 126 214 107 152 187 204 105 227 21 90 92 185 34 106 121 208 102 190 301 185 154 218 88 179 146 212 133 207 26 55 61 151 258 205 27 102 139 222 68 167 143 141 93 184 79 184 297 187 91 183 45 192 246 216 164 219 74 204 107 217 168 231 97 116 83 166 97 199 95 197 45 203 105 222 118 227 314 220 83 190 127 234 52 154 78 215"/>
<path class="m" d="M90 190 26 99 50 140 33 134 59 168 51 120 58 177 140 211 99 218 32 193 95 147 21 123 59 117 92 174 24 124 32 121 49 159 24 80 102 216 154 237 21 62 74 204 333 189 45 174 61 164 329 239 127 169 73 202 55 194 64 170 60 179 130 180 52 157 36 156 93 199 115 229 95 231 206 234 30 171 36 150 45 153 50 129 59 140 47 188 27 152 309 239 267 208 116 169 19 76 114 167 29 133 150 208 386 234 201 209 140 237 33 134 56 231 49 132 26 73 79 162 149 214 75 160 70 193 122 188 55 105"/>
<path class="f" d="M41 148 246 100 121 206 63 179 333 179 74 177 60 207 102 208 112 205 20 77 116 166 107 221 102 172 263 175 116 71 116 194 257 235 95 173 113 206 40 85 187 229 183 177 36 148 149 177 71 201 39 180 55 175 126 222 116 202 97 230 238 186 92 195 64 196 126 230 99 222 52 192 78 200 49 162 144 228 50 161 124 207 107 202 292 181 102 241 29 106 69 177 50 208 97 220 314 211 92 236"/>
<path class="m" d="M74 193 66 195 30 41 79 218 200 233 117 179 92 227 92 181 263 183 295 198 239 182 278 192 49 184 210 166 97 190 120 224 66 153 53 191 65 180 39 139 179 197 31 112 184 105 55 167 146 213 151 220 68 213 58 171 64 188 98 192 97 205 116 202 50 181 201 221 241 229 187 250 35 130 281 233 107 208 108 202 43 180 47 155 132 214 25 81 68 166 42 141 88 215 36 90 74 210 73 212 132 222 126 210 83 157 94 157 65 170 43 160 59 62 281 213 107 161 52 184 92 218 52 184 309 239 111 225 64 194 73 198 20 67 49 154 123 228 78 213 295 218 116 178 72 177 19 107 21 98 122 179"/>
<path class="f" d="M111 171 263 174 155 126 97 153 135 222 317 193 117 227 40 137 64 126 111 215 121 240 61 190 33 95 98 212 310 210 210 116 83 186 88 199 111 197 81 220 42 19 122 211 125 220 102 200 33 136 230 227 90 188 83 226 188 193 112 229 88 198 105 191 101 234 119 216 116 238 111 130 251 209 88 201 99 234 209 223 89 209 75 237 78 204 107 163 55 155 128 244 314 227 172 249 120 202 28 101 285 146 26 163 92 171 78 181 191 207 70 115 30 73 40 164 120 182 55 161 54 155"/>
<path class="m" d="M52 92 253 212 28 115 31 55 281 206 292 224 177 180 29 135 103 223 53 126 112 210 59 159 119 213 97 217 36 126 50 166 51 146 243 225 183 205 103 216 327 199 174 215 254 122 40 153 128 226 30 137 78 177 87 236 31 98 87 193 40 98 26 153 29 131 22 157 71 169 54 116 337 198 149 207 159 211 109 200 70 200 333 201 60 173 34 132 153 211 149 215 78 161 65 187 26 120 31 165 19 78 32 124 88 178 67 163 220 246 117 211 36 133 40 107 92 224 282 218 78 182 21 121 46 164 59 199 87 214"/>
<path class="f" d="M95 214 86 216 129 198 106 185 116 126 29 92 49 192 79 219 89 173 125 165 79 205 58 192 167 228 22 127 299 211 96 224 113 205 191 139 28 98 333 186 180 147 39 151 138 169 111 228 87 205 45 146 86 206 26 78 286 151 44 129 135 216 234 228 219 235 109 134 351 205 140 223 76 192 300 136 338 198 123 216 37 123 124 213 50 158 73 192 78 231 191 210 125 227 92 221 26 132 300 209 107 209 54 203 187 240 361 177 101 207 121 198 300 172 95 171"/>
<path class="m" d="M70 105 220 194 206 225 100 196 27 121 97 112 104 166 191 197 229 185 111 237 22 74 78 155 219 236 248 225 43 120 67 156 287 173 97 137 177 198 102 180 206 217 114 144 74 206 213 185 161 86 107 213 31 162 140 240 55 231 44 190 69 184 20 71 101 212 95 139 54 204 21 95 251 237 67 160 26 100 73 190 286 233 118 178 82 186 28 131 72 188 88 177 51 175 257 207 64 112 42 134 106 208 80 201 67 103 119 215 38 171 145 185 60 163 51 132 83 207 139 193 24 122 88 235 45 120 147 114 74 176 267 238 220 250 55 222"/>
<path class="f" d="M343 59 91 227 156 235 124 194 78 197 79 212 121 222 22 140 110 226 144 210 24 79 244 190 51 134 43 216 46 145 118 222 156 202 116 170 78 146 116 199 139 198 36 179 126 139 232 94 54 171 324 137 116 191 215 216 71 154 54 141 87 176 37 168 125 109 59 134 81 223 83 213 83 154 78 221 239 231 122 199 258 216 31 120 19 36 103 226 65 182 74 203 107 205 121 215 64 162 255 180"/>
<path class="m" d="M215 198 47 150 182 219 95 212 349 208 37 135 30 115 31 161 61 185 78 197 54 150 172 196 21 114 72 183 82 234 59 212 155 211 63 197 49 119 314 216 24 131 40 158 67 138 52 109 74 172 239 227 332 180 157 210 220 198 83 196 56 191 338 220 54 178 58 181 26 158 121 246 24 131 83 140 106 221 70 221 210 242 63 180 119 199 215 220 61 210 36 151 215 208 25 140 58 183 59 220 58 165 206 213 23 98 38 180 61 181 59 176 19 95 216 197 111 216 105 206 89 171 41 182 88 169 34 110 182 168 44 198 33 116 93 214 178 221 120 142 61 175 56 183 54 142 116 196 69 196 22 121"/>
<path class="b" d="M19 40.5 27.1 55.9 35.1 71.5 43.2 86.3 51.3 99 59.3 109.6 67.4 118.4 75.5 126.2 83.6 131.7 91.6 135.4 99.7 138 107.8 140.1 115.8 141.6 123.9 142.7 132 143.5 140 144.1 148.1 144.6 156.2 145 164.2 145.4 172.3 145.8 180.4 146.2 188.5 146.6 196.5 147 204.6 147.5 212.7 147.9 220.7 148.1 228.8 148.3 236.9 148.5 244.9 148.4 253 147.5 261.1 146.1 269.1 144.6 277.2 142.9 285.3 141 293.4 139 301.4 136.7 309.5 134.4 317.6 132.5 325.6 130.8 333.7 129.4 341.8 128.2 349.8 127.3 357.9 126.5 366 125.7 374 125 382.1 124.2 390.2 123.4 398.2 123 L398.2 253 390.2 253.2 382.1 253.1 374 252.9 366 252.8 357.9 252.8 349.8 252.7 341.8 252.8 333.7 253.2 325.6 253.9 317.6 254.8 309.5 256.1 301.4 257.8 293.4 259.4 285.3 260.9 277.2 262.3 269.1 263.6 261.1 265 253 266.5 244.9 267.4 236.9 267.4 228.8 267.3 220.7 267.1 212.7 266.8 204.6 266.4 196.5 266 188.5 265.5 180.4 265.1 172.3 264.7 164.2 264.3 156.2 264 148.1 263.6 140 263.1 132 262.4 123.9 261.6 115.8 260.6 107.8 259 99.7 256.9 91.6 254.3 83.6 250.7 75.5 245.2 67.4 237.4 59.3 228.6 51.3 218 43.2 205.3 35.1 190.5 27.1 174.8 19 159.5Z"/>
<path class="b" d="M19 36.1 27.3 55 35.5 72.4 43.8 88 52 101.3 60.3 112.3 68.5 121.4 76.8 129.2 85 134.3 93.3 137.8 101.6 140.4 109.8 142.3 118.1 143.8 126.3 144.8 134.6 145.6 142.8 146.1 151.1 146.5 159.3 146.8 167.6 146.9 175.9 146.5 184.1 145.8 192.4 144.8 200.6 143.2 208.9 140.9 217.1 138.6 225.4 136.3 233.6 134.1 241.9 132.4 250.1 131.1 258.4 130 266.7 129.4 274.9 128.9 283.2 128.5 291.4 128 299.7 127.2 307.9 126.1 316.2 124.6 324.4 122.4 332.7 119 341 115.1 349.2 110.5 357.5 104.9 365.7 99.2 374 93.5 382.2 87.7 390.5 82.7 398.7 79.4 407 77 L407 203 398.7 205.4 390.5 208.6 382.2 212.7 374 217.6 365.7 222.4 357.5 227.2 349.2 232 341 235.8 332.7 239 324.4 241.6 316.2 243.1 307.9 243.9 299.7 244.4 291.4 244.6 283.2 244.6 274.9 244.5 266.7 244.7 258.4 245.3 250.1 246.4 241.9 247.7 233.6 249.4 225.4 251.6 217.1 253.9 208.9 256.2 200.6 258.5 192.4 260.1 184.1 261.1 175.9 261.8 167.6 262.1 159.3 262.1 151.1 261.8 142.8 261.4 134.6 260.9 126.3 260.1 118.1 259 109.8 257.6 101.6 255.7 93.3 253.1 85 249.6 76.8 244.4 68.5 236.7 60.3 227.6 52 216.6 43.8 203.3 35.5 187.7 27.3 170.3 19 151.4Z"/>
<path class="lm" d="M19 100 27.1 115.4 35.1 131 43.2 145.8 51.3 158.5 59.3 169.1 67.4 177.9 75.5 185.7 83.6 191.2 91.6 194.9 99.7 197.5 107.8 199.5 115.8 201.1 123.9 202.1 132 203 140 203.6 148.1 204.1 156.2 204.5 164.2 204.9 172.3 205.3 180.4 205.7 188.5 206.1 196.5 206.5 204.6 206.9 212.7 207.3 220.7 207.6 228.8 207.8 236.9 208 244.9 207.9 253 207 261.1 205.6 269.1 204.1 277.2 202.6 285.3 200.9 293.4 199.2 301.4 197.3 309.5 195.3 317.6 193.7 325.6 192.4 333.7 191.3 341.8 190.5 349.8 190 357.9 189.6 366 189.3 374 189 382.1 188.6 390.2 188.3 398.2 188"/>
<path class="lf" d="M19 93.8 27.3 112.7 35.5 130.1 43.8 145.6 52 159 60.3 170 68.5 179.1 76.8 186.8 85 191.9 93.3 195.5 101.6 198 109.8 200 118.1 201.4 126.3 202.4 134.6 203.3 142.8 203.8 151.1 204.1 159.3 204.4 167.6 204.5 175.9 204.2 184.1 203.4 192.4 202.5 200.6 200.8 208.9 198.5 217.1 196.2 225.4 194 233.6 191.8 241.9 190 250.1 188.7 258.4 187.7 266.7 187 274.9 186.7 283.2 186.5 291.4 186.3 299.7 185.8 307.9 185 316.2 183.9 324.4 182 332.7 179 341 175.5 349.2 171.2 357.5 166.1 365.7 160.8 374 155.6 382.2 150.2 390.5 145.7 398.7 142.4 407 140"/>
<rect class="s" width="426" height="288"/>
<rect class="lg" x="309.8" y="8.3" width="108.6" height="50" rx="3.1"/>
<circle class="cf" cx="332.1" cy="21.4" r="4.17"/>
<circle class="cm" cx="332.1" cy="43.6" r="4.17"/>
<text class="t" x="360.4" y="25.7">female</text>
<text class="t" x="360.4" y="48.7">male</text>
<text class="tt" x="213" y="-8.3" text-anchor="middle">Pallidum</text>
<text class="t" x="-13.6" y="60.1" text-anchor="end">0.0004</text>
<text class="t" x="-13.6" y="120.1" text-anchor="end">0.0003</text>
<text class="t" x="-13.6" y="180.1" text-anchor="end">0.0002</text>
<text class="t" x="-13.6" y="241.1" text-anchor="end">0.0001</text>
<text class="l" transform="translate(-77,144) rotate(-90) scale(1,1.09)" text-anchor="middle">GM volume (TIV-normalized)</text>
</g>
<g transform="translate(108,708)">
<path class="g" d="M86.5 0V288M180.5 0V288M275.5 0V288M369.5 0V288M0 31.5H426M0 83.5H426M0 134.5H426M0 186.5H426M0 237.5H426"/>
<path class="f" d="M125 118 277 171 64 117 83 84 55 135 78 132 116 153 116 135 139 140 101 163 60 127 48 113 92 171 117 192 118 162 327 160 128 128 22 113 186 175 332 145 249 155 110 181 59 129 50 114 88 103 97 172 23 129 140 193 81 161 154 132 52 110 87 120 83 147 81 91 93 155 83 120 36 151 116 113 347 196 22 99 187 190 181 159 140 102 78 121 168 208 141 180 79 141 95 129 83 95 124 126 263 181 124 108 67 110 141 113 32 122 26 133 121 179"/>
<path class="m" d="M150 187 22 88 216 194 135 138 144 152 83 129 70 124 22 118 60 132 34 115 264 241 200 213 206 219 272 155 116 145 45 152 97 155 73 144 20 160 314 193 52 133 27 142 132 178 27 90 36 131 40 164 64 176 54 136 60 151 119 208 282 169 78 141 21 117 140 193 315 155 30 144 112 134 192 162 97 125 253 185 164 167 55 112 83 139 111 110 37 93 109 243 34 139 121 201 130 194 35 88 69 125 55 160 216 219 106 128 323 219 61 118 26 136 114 161 87 219 229 202 130 187 183 157 54 119 127 192 26 120 48 165 72 141 49 156 97 227"/>
<path class="f" d="M102 161 102 170 149 145 98 138 144 146 79 164 309 144 238 188 40 169 25 104 81 74 111 141 255 161 135 175 220 201 78 151 261 158 337 187 295 158 88 134 25 139 51 152 334 123 135 157 50 105 169 124 68 165 123 128 65 147 126 144 172 133 107 133 205 187 86 155 116 205 330 175 117 138 58 132 285 182 49 152 53 155 81 197 164 164 333 190 164 177 94 155 50 111 42 135 201 175 92 191 108 151 52 166 56 143 93 165 201 171 37 122 304 210 26 100 135 179 121 154 51 154 174 214"/>
<path class="m" d="M33 181 28 101 56 139 31 186 122 188 39 156 130 209 114 138 41 105 339 186 107 160 215 216 60 119 30 123 33 134 97 129 48 108 156 213 111 153 56 155 289 182 56 157 121 204 60 140 83 141 102 119 201 202 34 107 121 167 210 184 156 163 105 169 44 107 37 103 88 137 31 102 116 177 122 191 71 174 32 149 61 153 83 190 253 157 26 133 200 178 82 122 164 138 118 176 310 157 49 91 19 108 26 115 97 140 129 187 86 195 69 178 149 173 192 201 88 138 116 240 107 124 149 194 78 161 74 157"/>
<path class="f" d="M122 133 126 126 112 149 38 96 64 134 147 162 41 158 77 156 97 160 101 127 123 169 183 133 143 180 92 182 78 137 129 141 44 141 107 145 111 163 262 178 187 183 61 123 45 129 68 86 106 113 286 165 104 146 258 192 131 135 37 117 29 109 124 113 50 96 51 119 168 149 68 158 48 141 93 79 125 149 90 144 126 182 89 149 334 194 129 160 54 134 41 134 78 99 83 166 125 174 44 116 32 92 196 197 26 129 125 153 309 206 97 121 51 121 300 220 51 134 141 171 125 168"/>
<path class="m" d="M318 238 65 158 268 197 49 129 22 97 333 216 138 177 24 98 149 179 78 128 44 129 135 182 83 149 72 140 234 183 81 176 20 104 66 137 120 199 111 244 69 154 21 117 39 116 58 116 32 117 90 198 100 137 135 160 19 106 88 212 88 161 109 262 36 148 65 132 35 149 98 157 93 108 37 150 130 166 89 109 243 190 79 151 28 119 187 169 116 176 371 155 102 153 102 212 30 136 83 146 68 139 69 144 33 142 67 137 197 168 112 171 89 167 115 159 71 145 109 205 110 186 51 130 67 156 79 152 45 130"/>
<path class="f" d="M220 203 122 138 60 169 125 147 105 160 50 138 296 175 68 146 76 138 158 209 246 100 291 167 102 160 26 145 79 146 362 175 23 95 44 120 121 122 93 156 102 187 71 94 121 113 36 111 78 167 119 136 93 144 140 152 130 165 111 177 124 188 143 172 144 192 127 137 315 169 126 140 281 186 221 154 333 227 95 194 42 133 121 144 111 126 210 131 121 94 114 153"/>
<path class="m" d="M310 215 88 106 182 165 91 174 54 118 83 86 35 102 40 119 67 103 30 178 267 172 332 204 94 143 88 120 121 165 68 168 192 157 92 150 210 163 54 155 108 142 22 105 97 166 177 249 61 121 184 93 97 124 122 139 42 132 85 155 243 166 82 209 323 164 49 162 104 147 41 97 149 205 22 79 95 200 149 174 97 90 78 129 187 176 112 119 121 179 267 197 56 124 230 206 82 174 25 137 29 136 70 137 177 177 19 156 88 197 105 148 102 227 64 150 88 174 67 144 59 148 295 176 29 119 196 182 70 178 159 207 52 149 61 115 96 160 41 60 69 151 159 189 31 163 119 141 102 139 111 183 35 148 44 143 152 112 60 146"/>
<path class="f" d="M79 102 72 205 107 117 49 98 93 150 45 88 119 139 21 148 89 134 26 116 105 171 56 127 128 172 21 109 188 197 137 180 139 184 314 122 248 150 124 145 196 95 20 106 163 122 244 157 324 169 58 116 338 175 328 242 229 150 103 107 99 165 111 129 48 151 290 127 102 111 121 133 107 137 93 131 40 139 133 155 91 157 121 173 121 119 173 141 253 176 97 142 300 206 129 135"/>
<path class="m" d="M186 153 59 107 334 193 33 136 29 75 102 246 73 81 153 223 92 156 213 172 78 181 79 182 121 198 98 172 394 228 54 148 68 114 68 153 21 99 44 116 42 162 289 196 102 177 113 157 118 200 47 150 20 130 41 128 94 164 63 151 239 197 178 220 162 148 81 265 113 173 34 161 22 137 32 146 88 164 42 107 71 101 47 147 253 202 25 93 121 175 50 95 366 222 128 169 281 105 78 205 172 137 47 149 78 124 115 205 22 116 154 205 94 143 139 166 182 232 33 130 117 149 64 141 361 133 140 131 58 168 111 242 114 119 182 173 93 164 58 161 29 127 159 182 241 193 310 162 43 97 321 215 41 81 78 162"/>
<path class="f" d="M73 110 106 171 38 122 64 170 28 106 335 158 114 258 286 166 116 181 41 128 96 189 135 126 96 154 168 138 50 142 104 245 135 140 79 168 79 133 27 114 110 174 234 169 111 103 79 152 87 127 324 184 121 188 92 169 215 187 83 157 76 118 130 140 94 125 111 226 89 210 54 109 378 206 191 116 27 154 79 154 58 137 272 131 220 153 244 183 123 136 116 152 22 134 116 181 102 178 55 108 97 104 93 131 319 172 124 71 121 179 109 154 58 125 43 145 111 116 178 184 137 175 116 133 324 149 123 119 91 137 158 136"/>
<path class="m" d="M125 174 45 130 88 158 78 190 267 200 48 138 243 184 394 218 36 137 55 142 30 111 114 138 107 116 41 109 40 121 170 205 43 138 113 191 24 174 148 166 335 157 70 151 101 115 28 122 65 127 123 194 29 101 31 120 206 178 56 121 51 162 41 77 124 186 92 99 20 106 34 154 92 160 97 143 36 112 120 190 338 210 67 126 125 174 121 157 58 129 88 90 249 212 25 102 19 113 239 163 74 148 80 173 339 218 140 126 112 144 50 144 150 185 239 161 88 166 28 129"/>
<path class="f" d="M139 239 33 129 226 137 380 197 309 179 22 130 132 172 45 114 82 152 315 179 97 103 126 141 300 181 27 134 92 136 79 140 116 145 36 170 120 159 286 200 154 174 78 106 333 205 113 215 89 152 90 196 72 148 64 149 63 90 83 85 30 112 111 111 224 153 83 116 29 104 74 164 135 170 361 175 133 173 149 170 87 115 144 193 144 160 24 90 119 121 59 147 46 143 105 147 135 101 76 145 126 125 83 93"/>
<path class="m" d="M24 146 26 101 116 128 393 196 42 112 51 115 187 211 26 90 117 150 107 150 64 170 66 212 121 173 55 126 59 143 52 171 46 118 90 181 338 193 51 135 23 122 63 173 149 174 54 177 111 170 45 149 98 142 86 123 92 115 156 195 31 153 117 198 39 121 92 120 79 112 314 173 262 236 24 151 50 143 38 177 55 142 68 125 131 177 59 168 69 154 22 127 97 71 69 110 82 166 206 254 49 171 38 115 58 121 32 128 64 128 103 137 92 144 19 115 31 64 338 205 74 135 55 127 92 170 80 148 95 249 106 139 38 101 56 145 331 174 139 158 178 134 119 230 114 165 43 140"/>
<path class="f" d="M26 96 234 215 107 167 30 117 167 143 285 190 20 136 97 155 99 179 105 189 22 92 88 114 127 113 107 202 55 115 366 162 86 100 149 145 103 163 116 166 319 204 297 145 28 104 109 66 121 115 301 178 177 166 206 180 46 100 100 124 121 133 60 139 62 100 64 175 111 124 29 101 153 184 89 123 149 192 99 159 44 153 125 94 138 145 192 187 121 149 83 161 138 149 111 159 90 165 87 137 93 107 98 189 21 131 145 184 90 131 267 188 333 196 215 194 122 192 64 131"/>
<path class="m" d="M36 152 112 175 43 142 24 97 121 202 300 191 132 189 20 115 242 176 78 124 31 179 43 112 99 146 30 47 287 181 29 81 121 181 30 115 112 215 149 169 22 112 171 188 295 178 71 186 163 176 174 174 64 135 73 114 360 218 202 176 102 192 146 201 300 170 27 67 97 190 74 133 41 116 144 154 27 112 130 265 49 117 59 138 59 75 170 162 61 143 42 160 86 174 24 82 74 167 54 158 48 176 61 123 172 159 23 117 83 109 95 188 29 128 41 95 22 105 329 182 74 130 210 165 98 155 59 143 126 138 79 145"/>
<path class="f" d="M96 180 51 116 46 114 66 151 45 118 107 209 146 159 180 168 78 143 134 152 53 147 269 194 111 137 96 188 180 158 54 108 88 133 100 171 351 210 67 137 57 120 58 131 74 137 64 143 361 188 287 168 28 122 83 152 58 123 93 207 146 163 91 137 164 182 36 82 145 148 146 168 306 201 102 120 104 151 142 126 126 153 215 150 219 158 168 147 324 143 366 144 69 191 55 96 59 142 117 151 71 143 83 126"/>
<path class="m" d="M33 147 53 131 117 89 21 116 140 177 64 144 328 186 90 209 59 144 36 71 69 117 126 183 310 148 73 141 88 177 93 119 68 158 41 128 57 155 19 122 73 156 142 159 238 192 90 181 248 170 50 128 36 135 97 172 27 100 31 115 70 148 183 154 245 170 88 195 57 169 59 141 153 144 75 127 61 163 338 225 83 119 243 188 169 157 191 202 26 168 257 178 85 212 35 120 72 174 93 101 45 143 54 117 88 131 112 125 66 164 155 135 64 149 92 140 87 135 120 195 78 124 85 152 272 173 64 137 74 127 230 181 68 139 98 157 329 212 102 145 84 106 138 138 188 213"/>
<path class="f" d="M209 190 26 135 61 129 116 124 96 172 92 158 347 218 276 140 116 118 107 201 79 171 248 212 116 181 120 175 124 143 115 177 314 160 88 136 107 130 167 195 19 98 109 201 47 116 81 98 126 119 173 136 23 105 126 128 93 159 29 146 59 144 63 122 47 90 300 118 120 153 26 94 168 179 91 143 126 169 27 115 107 110 48 118 303 190 119 160 64 153 88 163 97 113 206 191 107 140 86 151 70 117 112 139 124 93 47 93 102 147 93 78 105 133 32 94 79 122 121 120 156 150 125 112 254 166 134 137"/>
<path class="m" d="M130 216 36 176 50 152 79 121 133 275 140 168 53 117 86 187 281 194 95 137 31 140 23 124 125 141 42 102 57 158 37 74 22 101 21 122 309 163 70 132 33 125 149 151 75 139 159 194 259 207 26 113 57 207 65 147 52 125 287 192 97 141 108 182 31 140 89 128 83 151 42 149 45 153 127 183 230 167 145 180 130 182 309 158 51 132 215 106 126 166 29 142 145 151 97 173 328 186 36 121 133 180 182 155 26 98 62 152 31 88 29 149 342 148 126 155 56 177 163 173 74 151"/>
<path class="f" d="M97 139 103 166 89 138 179 149 93 71 90 124 95 155 126 113 263 175 64 144 121 141 72 125 27 122 62 120 257 139 77 135 186 193 125 161 90 137 70 147 56 116 131 173 329 144 144 173 54 106 134 152 66 134 40 162 107 148 187 207 144 159 126 149 23 90 78 138 107 110 342 188 83 159 234 231 107 114 349 244 156 180 89 170 74 170 49 137 140 183 78 116 78 126 95 198 75 127 304 188 121 147 119 157 103 141 121 126 281 140 282 183 190 162 68 147"/>
<path class="m" d="M145 131 93 121 45 126 295 146 107 199 263 177 118 130 117 168 168 152 40 126 95 186 76 13 154 118 310 172 111 182 70 140 71 146 106 125 116 203 107 167 140 152 79 153 125 160 58 156 20 93 188 158 101 134 54 106 122 138 29 125 28 156 165 157 81 152 88 236 52 169 21 151 27 86 257 168 22 120 394 182 107 154 34 90 64 134 99 186 114 181 97 149 54 128 107 153 59 138 64 151 33 110 263 202 111 176 220 197 51 135 31 125 91 134 89 151 107 122 49 148 60 125 68 88 43 129 104 111 135 144 157 158 220 183"/>
<path class="f" d="M84 143 47 131 246 177 40 113 258 164 123 116 72 138 258 164 87 130 121 184 267 188 124 224 97 193 99 186 37 132 77 122 182 164 305 167 78 159 360 181 229 161 97 204 74 126 84 193 46 194 20 86 101 136 79 116 314 140 33 115 338 197 128 134 96 137 78 180 87 148 97 153 39 118 118 186 177 124 59 145 69 138 79 207 111 142 168 149 111 151 92 181 55 150 87 154 114 252 317 141 253 196 126 146"/>
<path class="m" d="M177 177 61 118 46 131 41 142 82 161 31 132 206 211 87 116 45 134 36 104 45 139 163 173 295 179 87 149 53 133 72 163 206 219 64 138 26 98 47 135 282 180 29 52 92 171 312 201 66 123 28 124 46 110 67 179 31 132 27 80 327 161 72 140 66 146 333 207 95 176 220 172 115 173 97 161 53 151 78 149 55 142 97 168 24 139 84 150 30 139 295 147 149 130 102 169 41 142 135 180 26 101 79 116 49 113 23 113 90 169 92 240 40 107 26 162 305 175 305 171 55 81 51 149 343 222 87 172 239 183 149 165 70 129 111 167 37 128 34 151 121 193 88 165 37 148"/>
<path class="f" d="M88 167 82 128 315 225 300 99 78 146 121 146 74 199 28 139 36 101 182 198 140 135 206 125 102 93 161 135 73 115 103 98 70 141 90 111 126 183 39 108 85 140 36 146 99 197 121 135 72 145 35 134 45 74 102 151 83 224 333 157 91 123 163 153 52 158 50 139 309 202 139 159 248 134 113 119 89 134 329 235 103 133 251 167 87 183 103 155 33 109 112 131 105 175 107 204 45 104 243 202 74 114 111 193 211 186 126 177 118 139 99 115 76 153 97 112"/>
<path class="m" d="M76 153 61 135 93 172 49 137 40 133 177 121 55 121 86 154 79 123 138 204 47 154 50 131 221 162 37 130 168 202 70 166 85 158 26 115 229 196 191 206 39 157 143 197 53 140 70 208 45 128 41 165 43 124 33 120 244 131 62 112 20 129 65 192 73 142 292 154 36 160 54 125 53 145 52 146 27 157 19 95 263 202 179 185 60 125 31 143 73 168 125 161 60 107 49 144 191 168 84 167 182 134 67 138 94 178 300 175 94 183 24 118 44 126 50 144 45 139 182 181 43 150 22 128 121 125 148 185 26 115 120 106 182 137"/>
<path class="f" d="M120 108 328 218 63 132 20 94 50 104 74 140 130 181 71 131 291 171 37 125 233 206 82 127 267 197 98 132 92 142 71 118 109 137 112 148 216 183 74 121 281 165 92 140 51 141 126 167 81 123 147 91 141 223 156 152 36 84 108 145 52 112 116 190 191 104 144 187 87 105 91 153 21 117 96 128 47 117 132 126 286 137 81 224 34 140 300 176 248 179 38 118 322 208 357 120 120 119 74 169 106 201 337 153 98 141"/>
<path class="m" d="M120 134 72 108 46 148 102 141 59 161 318 191 206 142 107 172 96 149 83 183 58 143 40 87 73 130 127 221 74 171 66 105 21 135 35 128 83 205 290 192 35 111 27 150 66 157 31 113 54 157 78 126 46 140 96 151 121 225 72 131 57 125 191 186 139 235 89 125 159 174 287 256 47 151 101 211 219 177 47 138 239 169 107 193 88 195 61 137 282 221 182 170 108 145 36 106 57 147 70 141 111 86 114 157 36 114 334 193 74 143 95 119 40 132 81 163 53 144 75 159 40 143 26 118 42 103 56 136 116 196 122 112 177 171 121 214 23 161 63 190 29 186 122 211"/>
<path class="f" d="M111 147 32 135 249 179 92 118 33 150 225 189 76 123 33 82 113 192 357 216 149 162 112 135 255 134 111 108 61 127 37 118 288 162 122 223 125 221 107 101 97 132 291 153 59 155 327 186 50 140 36 81 163 106 64 157 97 106 125 174 50 130 88 169 97 153 88 104 124 154 121 163 20 129 120 130 112 102 82 157 121 124 30 166 159 180 97 130 65 164 239 205 41 121 315 230 82 101 91 156 168 157 333 153 78 172"/>
<path class="m" d="M53 161 118 124 247 139 65 127 66 113 38 166 112 106 206 199 59 157 85 247 83 149 41 129 21 58 146 174 64 106 35 147 27 100 49 136 366 166 149 219 34 151 61 136 88 180 128 198 36 137 150 210 191 160 333 148 28 144 83 109 102 183 95 117 92 134 35 135 106 100 51 110 206 150 32 115 47 156 305 180 150 158 106 241 30 94 61 146 55 123 127 228 143 197 48 116 220 174 83 129 97 169 191 193 30 131 74 138 44 121 54 139 85 166 23 94 28 142 63 118 281 211 82 93 60 138 102 196 24 88 114 164 48 81 107 166 40 107 63 144 69 154 68 168"/>
<path class="f" d="M187 164 90 127 95 127 92 193 63 107 67 109 125 204 105 174 263 140 97 169 155 125 116 202 309 135 107 147 190 244 25 129 343 214 257 150 72 175 107 174 114 170 60 132 89 112 37 132 268 206 63 153 87 91 291 131 99 140 63 147 144 126 121 130 78 106 93 173 88 143 125 172 107 168 111 150 163 132 116 135 66 143 31 149 106 124 154 116 333 219 282 219 406 164 121 124 77 126 67 162 110 91 49 123 308 167 85 121 92 171 38 129 83 98 88 146"/>
<path class="m" d="M78 121 267 226 53 125 83 147 318 201 100 204 47 86 79 104 59 140 146 191 215 167 34 141 62 126 56 159 111 143 92 147 37 153 69 165 61 128 93 177 122 136 87 177 30 75 54 165 32 173 49 102 78 139 60 171 55 187 107 126 74 159 61 123 154 194 135 132 58 78 20 104 74 149 104 234 116 136 147 151 34 69 93 159 83 202 119 193 74 144 47 148 281 175 168 207 34 124 128 144 128 243 31 132 41 130 147 143 36 139 127 174 295 132 153 174 106 177 52 112 149 155 31 135 73 145 33 71 75 127 30 127 120 155"/>
<path class="f" d="M100 123 90 166 167 130 106 113 106 96 111 143 135 172 140 150 41 130 75 103 370 197 267 162 88 153 110 181 93 112 83 136 263 177 258 174 243 164 102 124 116 116 118 132 57 157 34 56 85 160 154 149 130 140 215 207 338 159 121 165 35 105 36 155 81 208 191 161 92 144 41 119 20 162 88 169 78 132 328 170 85 153 102 150 116 165 98 122 220 159 125 168 51 105 31 89 130 140 116 152 83 120 238 177 76 159 145 124 310 241 155 162 88 155 196 160 96 106 92 128 93 131 112 150 63 143 97 189 21 109 74 143 30 112"/>
<path class="m" d="M239 168 22 127 25 178 79 134 107 170 65 104 28 118 152 156 64 139 97 173 35 151 67 138 23 119 88 160 26 97 220 176 112 166 22 141 69 156 54 140 28 117 56 106 46 128 30 123 64 124 69 152 128 156 78 176 24 113 41 106 22 121 50 135 112 146 51 103 88 156 73 148 149 190 37 144 121 195 156 155 215 212 50 112 19 87 62 123 83 167 126 173 44 183 42 143 70 190 86 164 68 137 36 121 214 180 93 199 61 162 116 185 101 120 34 141"/>
<path class="f" d="M31 123 116 163 116 113 43 159 39 95 55 123 238 175 145 150 121 111 140 146 187 151 29 152 96 158 46 157 104 238 168 145 20 77 74 110 220 183 46 149 98 167 261 163 244 151 82 158 93 209 76 129 122 163 135 151 111 141 103 145 91 209 26 85 70 113 116 86 121 158 187 160 75 131 89 110 144 162 78 116 88 131 197 164 69 153 37 99 103 134 109 204 19 127 108 148 133 172 128 164 112 117 125 189 98 173 117 175 88 178 76 145 26 108 111 179 86 133 105 146 97 144 62 112 24 122 64 148 112 71 187 178 87 143"/>
<path class="m" d="M116 217 62 124 136 156 251 158 46 122 88 146 102 194 41 106 30 161 243 217 73 123 178 245 328 184 398 256 43 112 59 113 343 200 111 185 121 203 215 184 329 200 126 228 28 137 93 132 205 183 45 80 278 192 183 198 328 176 26 96 139 128 55 165 47 95 73 107 45 163 62 157 107 208 44 139 114 176 21 117 21 63 38 186 337 193 87 225 64 156 52 135 282 184 116 215 38 122 93 149 63 163 126 187 102 177 176 175 63 96 247 141 71 167 36 158"/>
<path class="f" d="M22 109 54 157 29 114 19 101 69 172 130 128 105 165 78 153 101 147 88 169 91 146 267 193 68 138 154 133 19 176 89 123 78 126 79 111 61 161 19 132 309 144 291 196 90 115 87 162 120 165 324 134 94 153 35 126 78 171 112 126 20 100 102 170 300 186 55 123 74 89 27 105 93 152 55 112 22 82 258 214 299 155 84 160 22 65 97 152 45 118 34 126 149 188 178 188 21 126 345 175 121 155 182 230 187 196 310 113 26 109 292 137 32 111"/>
<path class="m" d="M63 175 85 268 22 126 25 174 151 189 20 100 258 151 78 117 121 187 95 187 239 174 56 114 168 167 126 104 53 130 83 188 82 134 70 214 93 117 22 137 69 109 180 168 56 106 121 123 70 156 63 149 129 249 33 60 154 191 54 140 69 156 229 217 349 187 50 133 45 106 337 171 74 118 91 179 180 181 71 112 65 157 392 204 47 128 35 96 68 90 21 115 94 179 144 168 61 135 201 147 90 161 37 138 139 138 45 147 110 214 54 119 104 148 119 183 127 175 286 155 223 189 324 158 67 107 32 110 176 165 154 191 41 118 286 186"/>
<path class="f" d="M121 132 125 162 339 183 102 174 103 117 119 111 45 90 149 171 111 107 61 155 88 161 329 152 93 182 62 130 92 85 107 136 281 177 36 125 371 174 206 197 82 129 147 147 87 168 69 115 150 162 314 163 78 140 314 205 111 137 120 125 75 138 68 105 191 202 37 146 361 194 99 134 157 156 180 110 40 111 79 217 154 170 344 242 102 148 78 118 31 160 314 104 201 175 253 180 127 159 116 169 105 128 366 182 123 190 83 153 71 148 88 117 97 172 33 137 66 142 79 148 97 125 26 124 76 256 201 199 105 122 124 153"/>
<path class="m" d="M64 141 240 193 20 136 23 74 116 118 73 166 121 182 51 146 91 227 33 141 92 139 146 138 74 159 328 216 87 149 22 116 45 129 295 190 55 95 386 236 44 152 47 100 319 147 127 149 216 189 72 116 25 126 80 101 112 172 196 123 43 157 185 260 89 207 43 112 111 134 231 202 333 186 63 137 69 190 337 187 135 203 310 193 330 157 44 131 72 131 75 118 119 202 134 190 40 133 121 163 214 187 78 157 131 166 59 140 45 145 40 59 39 121 46 152 27 154"/>
<path class="f" d="M49 118 83 179 123 133 126 216 206 109 102 139 333 152 276 111 97 119 57 95 215 126 102 165 100 172 58 107 31 116 64 134 26 100 31 82 43 118 347 178 230 171 111 153 116 186 83 101 22 116 84 153 309 208 97 174 125 104 108 157 78 128 40 140 126 140 129 141 92 109 27 123 156 191 112 167 56 120 94 102 40 99 310 111 43 92 125 183 70 132 76 156 88 153 78 160 309 247 81 139 81 157 102 134 74 118 356 207 116 167"/>
<path class="m" d="M42 157 111 163 124 151 72 115 29 175 90 157 70 150 73 163 22 96 102 140 211 185 287 132 28 142 97 149 38 161 56 187 251 249 36 120 83 174 102 170 103 206 292 192 92 154 44 162 121 190 87 184 19 98 69 91 329 167 97 150 220 207 72 92 116 185 191 189 342 170 29 101 147 167 73 109 262 178 31 89 25 103 29 111 53 111 40 112 92 122 49 115 125 133 58 130 55 101 267 210 119 149 67 146 36 101 55 135 71 143 22 179 62 169 290 191 55 119 153 196 47 152 45 110 52 168 255 173 60 167 43 139 126 167 43 115 20 69 20 97"/>
<path class="f" d="M86 162 83 163 144 151 121 171 93 126 111 142 334 211 75 108 97 165 83 193 61 142 225 198 29 119 45 158 83 157 183 123 72 139 23 147 87 190 300 160 109 141 92 148 69 121 87 183 94 127 88 145 88 158 215 176 310 163 64 131 42 104 97 132 107 144 92 76 111 161 111 161 109 142 310 139 113 153 302 195 69 132 102 70 385 166 61 189 57 149 295 187 154 129 333 192 61 123 126 177 104 166 28 149 328 197 98 214 116 158 88 165 118 99 102 166 73 153 125 199 101 158 56 119 107 106 37 126 154 224 126 172 121 135"/>
<path class="m" d="M31 120 86 182 40 108 250 214 103 198 291 243 338 195 34 79 59 167 329 150 90 237 65 121 121 214 63 149 44 106 163 170 49 129 149 224 54 142 51 118 116 218 45 141 26 128 61 137 131 131 88 211 120 92 19 105 220 223 154 188 99 131 283 135 151 186 216 178 46 135 286 177 50 132 196 135 79 157 36 145 52 156 125 213 126 212 64 115 201 212 76 157 78 138 79 135 49 146 156 151 70 138 282 201 116 143 78 132 33 141 60 148 27 121 101 211"/>
<path class="b" d="M19 69.8 27.1 74.9 35.1 79.7 43.2 84.2 51.3 88.5 59.3 92.5 67.4 96.2 75.5 99.7 83.6 102.9 91.6 105.9 99.7 108.9 107.8 111.7 115.8 114.4 123.9 117 132 119.4 140 121.8 148.1 124.1 156.2 126.3 164.2 128.4 172.3 130.3 180.4 132.1 188.5 133.6 196.5 134.6 204.6 135.4 212.7 136 220.7 136.1 228.8 136.1 236.9 136.1 244.9 136 253 135.7 261.1 135.1 269.1 134.7 277.2 134.2 285.3 133.8 293.4 133.5 301.4 133.6 309.5 134.1 317.6 134.8 325.6 136.2 333.7 138.3 341.8 140.8 349.8 143.8 357.9 147.6 366 151.2 374 154.2 382.1 157.1 390.2 159.9 398.2 163 L398.2 264.5 390.2 261.2 382.1 257.7 374 254.1 366 250.4 357.9 246.2 349.8 241.8 341.8 238.1 333.7 235 325.6 232.3 317.6 230.3 309.5 229.1 301.4 228.1 293.4 227.5 285.3 227.4 277.2 227.4 269.1 227.6 261.1 228 253 228.5 244.9 228.9 236.9 228.9 228.8 228.9 220.7 228.9 212.7 228.8 204.6 228.3 196.5 227.5 188.5 226.5 180.4 225 172.3 223.2 164.2 221.3 156.2 219.2 148.1 216.9 140 214.6 132 212.3 123.9 209.9 115.8 207.3 107.8 204.6 99.7 201.8 91.6 198.8 83.6 195.7 75.5 192.5 67.4 189.1 59.3 185.4 51.3 181.4 43.2 177.1 35.1 172.6 27.1 167.8 19 162.7Z"/>
<path class="b" d="M19 65.7 27.3 71 35.5 75.9 43.8 80.4 52 84.5 60.3 88.4 68.5 91.8 76.8 94.7 85 97.3 93.3 99.8 101.6 102.1 109.8 104.2 118.1 106.5 126.3 108.9 134.6 111.4 142.8 113.9 151.1 116.5 159.3 119 167.6 121.3 175.9 123.6 184.1 125.6 192.4 127 200.6 127.8 208.9 128.4 217.1 128.7 225.4 128.6 233.6 128.3 241.9 127.9 250.1 127.6 258.4 127.1 266.7 126.9 274.9 126.8 283.2 126.6 291.4 126.4 299.7 126.6 307.9 127.2 316.2 128.1 324.4 129.1 332.7 130.3 341 131.4 349.2 132.3 357.5 133.2 365.7 133.8 374 134 382.2 134.2 390.5 134.1 398.7 134 407 133.8 L407 232.2 398.7 232.5 390.5 232.4 382.2 231.8 374 231 365.7 230 357.5 228.8 349.2 227.3 341 225.8 332.7 224 324.4 222.2 316.2 220.7 307.9 219.3 299.7 218.2 291.4 217.6 283.2 217.4 274.9 217.2 266.7 217.1 258.4 217.3 250.1 217.7 241.9 218.1 233.6 218.4 225.4 218.7 217.1 218.8 208.9 218.6 200.6 217.9 192.4 217.1 184.1 215.8 175.9 213.7 167.6 211.5 159.3 209.2 151.1 206.6 142.8 204.1 134.6 201.6 126.3 199.1 118.1 196.6 109.8 194.4 101.6 192.2 93.3 189.9 85 187.5 76.8 184.8 68.5 181.9 60.3 178.5 52 174.7 43.8 170.5 35.5 166 27.3 161.1 19 155.8Z"/>
<path class="lm" d="M19 116.2 27.1 121.3 35.1 126.1 43.2 130.7 51.3 134.9 59.3 139 67.4 142.7 75.5 146.1 83.6 149.3 91.6 152.4 99.7 155.3 107.8 158.2 115.8 160.9 123.9 163.4 132 165.9 140 168.2 148.1 170.5 156.2 172.8 164.2 174.8 172.3 176.7 180.4 178.5 188.5 180 196.5 181 204.6 181.9 212.7 182.4 220.7 182.5 228.8 182.5 236.9 182.5 244.9 182.5 253 182.1 261.1 181.6 269.1 181.2 277.2 180.8 285.3 180.6 293.4 180.5 301.4 180.9 309.5 181.6 317.6 182.6 325.6 184.2 333.7 186.6 341.8 189.4 349.8 192.8 357.9 196.9 366 200.8 374 204.2 382.1 207.4 390.2 210.5 398.2 213.8"/>
<path class="lf" d="M19 110.8 27.3 116 35.5 120.9 43.8 125.4 52 129.6 60.3 133.5 68.5 136.8 76.8 139.8 85 142.4 93.3 144.9 101.6 147.1 109.8 149.3 118.1 151.6 126.3 154 134.6 156.5 142.8 159 151.1 161.6 159.3 164.1 167.6 166.4 175.9 168.6 184.1 170.7 192.4 172 200.6 172.9 208.9 173.5 217.1 173.7 225.4 173.6 233.6 173.3 241.9 173 250.1 172.6 258.4 172.2 266.7 172 274.9 172 283.2 172 291.4 172 299.7 172.4 307.9 173.3 316.2 174.4 324.4 175.6 332.7 177.2 341 178.6 349.2 179.8 357.5 181 365.7 181.9 374 182.5 382.2 183 390.5 183.2 398.7 183.2 407 183"/>
<rect class="s" width="426" height="288"/>
<rect class="lg" x="309.8" y="8.3" width="108.6" height="50" rx="3.1"/>
<circle class="cf" cx="332.1" cy="21.4" r="4.17"/>
<circle class="cm" cx="332.1" cy="43.6" r="4.17"/>
<text class="t" x="360.4" y="25.7">female</text>
<text class="t" x="360.4" y="48.7">male</text>
<text class="tt" x="213" y="-8.3" text-anchor="middle">Thalamus</text>
<text class="t" x="-13.6" y="37.1" text-anchor="end">0.006</text>
<text class="t" x="-13.6" y="89.1" text-anchor="end">0.005</text>
<text class="t" x="-13.6" y="140.1" text-anchor="end">0.004</text>
<text class="t" x="-13.6" y="192.1" text-anchor="end">0.003</text>
<text class="t" x="-13.6" y="243.1" text-anchor="end">0.002</text>
<text class="l" transform="translate(-67.3,144) rotate(-90) scale(1,1.09)" text-anchor="middle">GM volume (TIV-normalized)</text>
</g>
<g transform="translate(642,708)">
<path class="g" d="M86.5 0V288M180.5 0V288M275.5 0V288M369.5 0V288M0 7.5H426M0 40.5H426M0 74.5H426M0 107.5H426M0 140.5H426M0 174.5H426M0 207.5H426M0 240.5H426M0 273.5H426"/>
<path class="f" d="M49 132 36 69 147 122 116 86 26 95 125 51 67 70 103 72 97 91 116 76 111 74 43 112 111 87 62 102 121 75 97 96 149 106 88 100 90 86 113 101 126 129 86 32 253 119 118 138 29 74 60 90 111 73 106 89 225 85 92 50 141 90 258 174 116 80 334 140 59 108 378 130 267 82 70 110 107 88 124 227 93 119 274 174 130 140 130 147 41 97 26 64 124 72 93 138 76 76 58 105 133 84 48 144 88 90 97 170"/>
<path class="m" d="M79 132 59 61 191 151 56 93 80 51 121 101 22 77 139 130 79 83 26 86 47 125 55 103 22 97 69 43 121 75 87 36 31 87 86 77 47 82 31 115 107 105 35 115 187 102 90 83 37 44 44 88 113 62 147 77 97 80 59 57 113 60 159 138 183 118 50 91 37 66 86 84 40 68 31 73 50 122 116 113 37 96 93 65 188 125 143 94 248 109 28 91 49 53 84 112 153 119 182 151 22 88 40 69 21 69 68 62 338 127 329 112 239 129 144 93 35 120 27 73 146 104 65 116 102 83 97 141 150 124 220 155 59 94 149 94 170 126 45 75 127 121 111 70"/>
<path class="f" d="M286 129 98 58 268 127 102 100 30 104 26 60 121 58 40 60 85 97 230 112 121 135 133 95 248 113 94 25 97 111 74 97 79 57 96 108 78 49 73 111 206 131 51 79 57 121 112 105 310 157 310 142 89 56 57 76 29 67 119 64 38 84 361 153 74 85 192 130 78 92 112 101 134 69 68 85 74 116 98 117 27 80 78 118 105 55 87 92 103 119 315 158 76 58 121 61 255 113 45 84 64 52 92 66 111 168 215 155 33 79 31 73 257 94 324 145 56 84"/>
<path class="m" d="M37 99 210 71 71 116 178 85 83 69 124 113 122 108 105 122 44 91 106 69 111 82 46 109 51 84 92 67 83 86 88 140 37 89 41 119 121 69 187 137 23 65 122 88 54 76 364 194 49 51 33 75 29 102 126 102 116 153 36 55 63 80 83 73 40 89 130 56 216 106 55 76 360 137 58 123 32 87 55 108 150 90 19 70 243 164 102 76 182 102 80 102 318 149 41 49 56 77 88 87 94 70 168 70 66 93 98 100 286 155 103 121 128 126 61 88 74 75 150 110 72 130 64 73 182 148 41 104 83 114 93 58 30 116"/>
<path class="f" d="M74 51 21 63 201 121 121 111 89 82 291 127 102 87 131 109 97 74 116 105 100 86 135 116 52 63 111 61 64 119 97 95 92 50 107 31 48 116 83 60 47 62 53 78 42 80 125 55 309 169 27 114 122 116 112 113 112 58 98 57 107 75 79 75 107 117 117 91 135 104 91 25 61 110 229 111 107 91 112 109 43 80 168 158 20 53 116 168 186 123 83 100 174 145 75 110 48 72 178 103 113 91 94 76 254 120 301 117 243 123 43 82 72 78 286 119"/>
<path class="m" d="M78 42 61 107 22 62 230 119 33 61 104 147 314 131 114 96 73 101 60 101 72 102 29 99 20 94 23 79 22 98 26 99 20 43 59 95 149 105 69 94 75 58 69 76 73 79 247 126 57 87 83 102 67 101 83 91 172 173 88 70 74 127 87 24 64 75 92 115 107 97 94 60 168 126 186 128 206 129 29 62 220 114 88 89 24 108 109 132 32 94 53 80 263 103 95 114 35 78 142 89 97 98 282 136 309 148 38 40 35 52 102 102 206 144 220 113 143 127 42 65 214 116 116 120 196 141 290 159 94 94 25 87 145 103 93 103"/>
<path class="f" d="M177 164 154 104 183 97 111 131 51 93 63 61 20 111 26 63 177 111 117 97 55 71 87 107 111 110 93 94 181 99 44 93 89 91 167 117 63 89 361 126 26 47 81 73 78 66 29 51 99 101 290 143 102 107 58 96 76 108 107 105 64 98 112 49 122 70 196 146 121 109 93 122 42 78 201 169 64 76 92 92 149 141 220 71 153 80 68 68 87 75 99 55 33 62 72 91 79 55 229 93 121 159 125 76 60 106 83 37 267 131 57 65 125 100 77 98 63 86 119 67"/>
<path class="m" d="M74 101 78 95 324 176 156 108 116 94 40 96 28 90 95 95 66 72 135 126 31 56 63 124 78 59 111 63 74 104 95 33 238 114 163 120 78 131 72 57 99 62 114 148 125 120 53 80 45 43 54 108 112 74 72 121 152 95 78 56 55 93 41 73 337 156 36 88 338 159 107 100 22 63 149 85 49 88 210 163 87 99 44 105 144 149 54 133 125 131 114 122 45 105 267 155 41 86 310 138 196 121 121 110 73 103 44 67 180 139 31 66 54 80 229 125 147 97 36 99 58 76 39 87 127 87 90 69 45 45 121 115"/>
<path class="f" d="M97 82 145 140 206 111 126 119 91 52 25 79 78 86 32 38 146 182 300 142 114 141 238 135 44 101 121 72 219 126 112 113 91 61 20 80 59 101 73 90 116 111 183 119 95 144 154 91 116 128 227 72 87 82 124 170 286 152 106 101 140 160 79 120 79 72 79 113 324 139 123 115 149 91 20 96 78 80 125 62 135 82 74 117 39 41 140 68 95 109 180 152 85 92 93 87 102 108 121 104 272 120 72 114 39 101 319 136 72 58 126 122 37 67"/>
<path class="m" d="M48 74 47 50 54 58 122 132 53 82 42 75 102 83 183 144 64 87 290 118 120 75 163 129 64 88 100 143 61 105 111 64 55 109 230 123 26 83 22 87 64 101 91 106 67 70 282 130 58 97 41 74 127 99 268 165 121 76 26 68 51 88 49 86 82 82 176 147 69 104 67 75 118 49 55 90 50 88 65 91 41 106 93 136 149 112 121 105 107 87 126 84 291 125 53 71 171 86 62 86 82 83 102 109 88 99 281 120 93 92 205 123 70 92 135 104 253 125 30 87 65 64 86 79 109 127 69 106 394 126 149 124 41 69 48 97 131 77"/>
<path class="f" d="M333 153 276 111 78 90 281 118 108 108 77 104 141 119 93 85 99 100 89 79 314 128 50 94 26 61 52 108 116 88 101 62 201 131 182 126 249 104 105 75 137 145 144 37 123 121 190 151 282 131 146 110 121 72 163 108 125 75 26 108 102 57 121 85 161 111 107 94 83 86 78 92 144 104 54 67 92 96 156 102 158 110 201 88 95 97 163 144 78 96 101 48 300 121 45 107 83 48 22 65 121 51 309 131 126 128 68 124 304 153 139 120 120 172"/>
<path class="m" d="M116 145 87 105 61 88 31 113 234 108 34 93 83 94 116 84 45 58 48 79 267 73 210 110 231 104 87 114 329 108 250 117 48 104 95 97 33 91 45 78 42 80 73 105 92 127 27 68 263 128 111 97 328 154 19 111 272 139 282 95 43 78 97 106 40 86 34 85 61 116 64 108 37 112 113 92 97 122 69 89 21 96 36 81 100 226 55 71 32 69 66 77 104 76 40 83 191 124 30 74 35 46 101 144 120 95 187 137 90 106 251 140 28 78 111 92 68 77 130 138 338 171 53 113 26 47 112 118 31 78 59 83 36 110 22 79"/>
<path class="f" d="M23 90 300 172 333 118 88 79 81 100 129 100 36 112 97 127 93 121 86 59 126 120 71 50 23 61 135 87 94 96 102 82 93 83 182 97 46 97 109 102 269 140 338 141 351 158 97 89 206 129 54 81 324 138 314 102 324 140 102 74 58 84 123 133 129 93 30 105 107 23 54 87 42 60 70 89 46 39 119 121 38 67 244 95 97 119 115 90 81 89 55 79 187 129 84 42 27 72 26 124 255 130 93 141 113 125 121 93 187 91 155 127"/>
<path class="m" d="M49 75 58 99 29 100 144 83 192 105 128 64 127 123 89 75 31 45 50 74 57 104 34 72 57 110 184 209 108 118 138 93 33 78 97 77 79 78 54 106 24 95 68 78 130 132 216 103 117 115 263 150 21 77 30 73 114 135 159 80 34 89 78 79 97 142 32 120 20 62 102 95 98 91 61 53 43 108 31 130 125 77 50 116 28 82 53 61 61 71 34 49 74 67 107 94 98 64 66 39 323 181 70 86 19 91 45 55 257 112 39 90 61 90 112 113 220 120 73 81 30 62 258 130 223 113 140 111 36 67 127 110 37 69 287 98 73 80"/>
<path class="f" d="M70 112 107 143 45 65 84 91 58 94 157 119 333 134 45 71 333 146 83 109 34 46 49 127 40 87 154 101 295 122 83 57 297 122 97 81 77 126 116 31 103 83 303 120 322 96 215 110 111 139 123 110 111 115 97 117 88 120 286 127 31 107 138 117 296 130 300 120 122 80 26 105 258 89 83 85 26 69 205 100 47 50 221 121 281 171 64 131 98 92 142 100"/>
<path class="m" d="M121 113 74 75 72 107 140 58 63 80 69 70 29 88 361 157 216 136 67 88 22 130 19 91 79 101 58 64 140 68 43 123 21 90 305 128 93 156 135 109 33 73 31 121 114 95 49 84 120 89 63 70 107 76 33 90 156 80 97 121 59 96 63 57 107 72 295 189 24 112 102 132 103 110 283 136 114 97 182 79 130 111 249 129 333 129 95 49 29 88 31 89 95 57 93 49 29 113 96 45 330 143 107 123 136 121 121 120 101 104 74 106 328 172 62 85 43 42 70 75 73 90 51 57 97 100 83 94 78 85 154 155 28 70 98 85 102 73 332 138 201 111 60 96 97 87 105 115 111 88 59 74 95 169 200 107 321 149"/>
<path class="f" d="M92 95 71 33 56 102 164 111 334 107 95 79 126 86 97 108 263 121 55 84 302 133 58 84 40 72 103 96 126 89 78 112 105 93 125 105 173 110 98 129 164 65 90 19 63 82 144 128 101 127 152 192 68 115 102 87 87 121 126 95 187 123 66 63 121 85 29 76 74 89 50 92 130 41 130 94 145 119 92 96 83 101 36 100 111 145 126 149 88 58 105 89 76 66 21 112 98 71 32 57 107 90 309 171 71 67 55 84 347 131"/>
<path class="m" d="M150 131 61 64 82 85 69 121 92 105 64 58 88 89 90 64 66 65 76 110 159 126 67 106 78 83 343 138 30 86 88 122 148 73 156 126 54 105 111 45 75 63 83 89 69 137 131 85 97 109 60 97 56 88 116 138 216 128 126 75 40 64 101 27 64 81 81 112 52 94 78 111 50 97 206 113 253 122 86 112 119 85 52 55 89 71 114 83 71 55 162 149 115 118 182 128 149 90 55 116 106 71 24 106 54 108 46 85 64 75 70 83 44 102 71 88 155 97 149 118 89 87 282 131 120 120 135 106 49 75 149 132 50 88 163 66 112 115 84 96"/>
<path class="f" d="M141 101 79 95 60 57 83 127 67 101 102 112 249 126 111 93 117 51 315 159 234 125 126 147 86 72 76 109 48 73 125 81 156 146 89 89 93 123 108 120 258 126 19 70 338 115 100 77 32 60 61 71 65 80 97 107 28 70 59 77 99 101 67 101 127 145 281 150 92 61 82 62 135 113 123 112 54 68 154 93 48 105 109 148 74 108 126 73 102 59 180 60 82 90 102 93 83 49 88 95 105 98 126 134 117 141 79 108 87 87 143 106 96 56 140 136 78 86 32 60"/>
<path class="m" d="M45 89 122 112 25 74 154 110 57 80 87 67 73 120 335 135 74 58 109 252 88 58 92 73 87 87 267 122 39 56 103 88 70 92 40 74 61 92 92 117 111 112 85 101 58 62 33 81 26 100 88 93 50 91 215 115 139 80 229 114 70 81 83 117 116 108 64 107 19 73 46 109 47 75 56 78 393 150 61 109 91 128 146 93 79 65 90 166 41 118 257 118 126 83 121 117 300 117 73 95 46 109 315 146 125 125 92 121 41 99 20 40 70 83 35 75 192 113 54 69 69 78 45 82 75 103 55 134 22 85"/>
<path class="f" d="M122 100 261 159 97 50 79 137 107 78 83 114 89 118 291 136 220 91 309 142 287 141 125 101 36 76 37 52 103 123 56 80 100 104 78 117 239 104 102 57 234 109 92 35 215 104 37 51 246 119 116 72 310 127 261 98 47 58 103 108 98 79 49 98 66 69 41 80 328 154 105 69 385 142 27 80 216 134 97 29 103 110 69 76 120 54 89 87 78 90 96 66 56 142 333 149 380 127 61 71 126 106 134 100 40 84 22 148 118 111 22 103 50 70 141 87 53 65 20 95 179 116 87 116 78 112"/>
<path class="m" d="M106 116 92 112 149 133 65 98 239 98 87 70 73 146 40 115 28 97 60 95 41 71 54 97 124 81 305 154 126 114 51 79 54 94 68 107 58 88 112 106 97 116 57 99 64 90 300 116 328 116 116 87 114 116 68 98 149 61 97 86 107 76 51 83 35 118 61 57 51 85 310 165 38 109 23 48 73 120 90 198 282 150 22 84 53 79 85 137 88 70 310 182 96 105 163 73 42 98 41 71 38 81 243 117 337 151 97 96 102 99 92 102 120 110 110 80 31 76 56 68 45 72 26 112"/>
<path class="f" d="M62 115 40 64 64 117 130 100 168 146 126 79 155 116 68 150 299 142 342 144 37 46 36 92 46 91 74 76 257 157 91 150 144 73 33 79 37 114 37 143 90 96 88 76 81 119 362 109 347 132 94 95 28 65 87 48 238 137 123 98 206 90 253 115 167 120 111 51 83 66 111 94 125 66 93 80 197 137 55 118 50 79 120 126 292 77 97 57 163 136 63 80 168 106 38 80 35 54 116 176 220 130 145 111 103 70 19 87 125 82 70 86 330 117 338 88 82 126 69 77 116 157 88 63"/>
<path class="m" d="M27 91 165 74 22 96 93 63 81 97 64 70 329 149 45 84 219 128 61 88 27 56 21 75 59 70 44 88 112 112 54 68 62 109 170 78 111 110 83 149 59 84 107 88 127 101 83 87 71 104 36 73 40 59 45 79 45 129 206 139 69 59 139 142 112 124 45 70 114 106 51 70 32 110 41 79 191 116 286 157 147 148 24 101 206 140 153 123 169 106 333 154 241 112 97 45 245 105 151 115 43 100 23 81 32 79 47 77 25 91 42 94 104 124 126 90 30 56 215 113 97 109 47 91 27 99"/>
<path class="f" d="M300 126 67 65 120 103 24 74 124 120 102 68 339 107 88 123 215 98 356 163 74 106 121 73 122 103 140 95 93 65 324 151 121 114 149 69 64 112 83 80 81 22 37 13 276 116 97 64 92 109 58 71 196 160 314 90 89 123 121 82 91 95 135 63 258 106 172 91 327 176 93 71 86 123 20 67 27 58 76 98 305 133 87 103 120 86 44 81 21 57 89 112 21 88 234 147 248 137 79 130 111 76 19 98 139 103 140 72 51 95 91 78 125 113 108 138 149 59 121 69 168 125 187 113 126 91"/>
<path class="m" d="M27 81 72 97 92 60 51 48 59 56 116 46 89 90 310 149 48 87 230 122 34 81 36 48 65 112 23 93 148 131 34 77 121 94 93 118 184 54 38 75 126 145 82 65 206 121 116 111 56 79 20 135 78 44 108 72 107 76 394 136 22 78 35 81 116 92 221 130 333 178 133 194 83 92 74 106 177 111 62 90 281 134 60 83 72 95 29 65 48 95 134 117 43 49 43 72 286 164 99 125 66 78 56 89 60 94 55 92 159 147 179 113 67 82 45 41 26 74 54 96 26 107 83 52"/>
<path class="f" d="M90 105 105 77 25 74 22 126 147 127 94 130 22 69 220 109 370 171 163 61 291 108 78 63 45 149 167 87 327 154 116 120 226 109 107 94 111 85 116 110 91 104 50 89 248 124 36 66 129 72 69 85 29 91 81 81 118 74 263 152 309 116 84 143 81 91 109 116 140 127 315 142 93 52 120 75 88 130 102 46 144 72 20 78 74 84 61 97 64 104 366 124 88 107 121 41 168 90 328 137 22 62 220 74 282 159 61 86"/>
<path class="m" d="M40 85 74 71 126 76 51 90 70 109 213 127 174 82 44 94 188 156 100 150 211 118 50 75 27 96 27 78 81 111 337 137 49 92 67 79 78 94 69 50 121 108 21 110 88 59 90 66 156 125 239 144 41 119 215 90 35 53 19 88 74 96 172 123 29 78 71 67 70 96 34 101 55 65 52 64 140 86 366 148 319 180 61 51 21 57 38 95 21 125 117 59 102 109 178 95 54 98 157 121 145 85 88 114 253 145 37 103 72 91 135 122 83 127 101 108 81 275 36 81 68 94 25 113 229 126 120 85 116 92 26 98 177 135 30 99 69 71 239 98 83 73"/>
<path class="f" d="M111 97 116 81 143 104 21 61 144 157 105 79 124 122 107 81 111 131 121 83 116 88 116 78 130 67 187 121 145 127 144 137 75 67 137 95 75 95 119 100 78 97 138 126 99 107 26 73 50 79 52 114 111 112 190 89 113 136 248 146 285 103 87 89 91 89 134 109 33 99 90 110 168 116 111 99 328 136 96 122 191 66 74 70 314 148 55 106 263 153 72 64 75 112 361 133 69 115 92 67 267 138 62 84 64 115 187 95 347 121 102 109 152 56 31 88 116 88 83 65 116 77 309 144 50 81 88 91"/>
<path class="m" d="M70 121 30 55 31 83 64 57 20 67 95 126 25 40 78 104 262 163 53 53 24 87 59 95 68 113 68 99 63 101 95 100 55 53 309 74 119 62 33 74 55 103 287 145 122 130 140 59 394 145 197 118 74 105 35 67 278 161 42 71 72 74 43 77 220 111 305 178 20 73 329 135 68 96 39 113 87 106 115 106 178 157 25 100 75 78 34 105 61 86 78 91 159 123 130 100 132 121 43 62 107 113 333 158 94 52 44 80 125 133 69 48 88 126 22 95 78 76 47 79 45 107"/>
<path class="f" d="M97 118 109 93 47 112 55 133 110 90 100 210 64 95 243 84 126 116 27 60 83 114 45 75 118 98 215 118 61 76 51 79 83 77 78 80 46 107 91 72 75 105 109 83 19 101 73 105 66 98 329 139 74 59 78 112 121 78 35 113 107 78 83 88 50 89 68 97 60 66 79 74 112 117 88 73 97 99 102 62 96 103 126 59 158 107 135 135 131 139 82 54 93 124 126 130 125 169 308 131 31 61 43 132 309 127 93 95 66 141 106 99 333 117 36 102 128 77"/>
<path class="m" d="M52 114 53 84 289 138 49 113 73 112 62 100 243 143 27 63 287 145 82 61 50 88 284 72 34 78 318 143 106 69 74 108 289 136 243 132 22 94 43 68 164 140 83 104 88 77 121 65 119 110 338 159 121 52 93 97 295 161 26 108 295 110 56 103 97 83 19 38 46 79 129 117 97 105 329 163 206 141 43 68 30 60 85 78 63 59 42 40 20 139 29 105 102 109 126 150 146 117 122 121 61 92 22 81 149 100 47 86 56 126 145 99 82 53 67 104 132 101 168 103 92 81 168 106 56 97 64 110 60 113 328 132"/>
<path class="f" d="M267 126 149 72 92 73 196 126 36 94 40 73 169 143 78 93 97 76 89 86 34 77 251 116 68 54 196 99 64 35 35 86 188 81 52 113 187 114 224 101 253 98 128 71 31 47 82 107 314 89 51 83 111 47 96 70 90 113 271 77 107 86 126 85 87 116 41 145 102 79 267 138 120 122 106 15 107 60 96 118 83 83 79 102 51 64 29 43 244 104 371 115 45 63 357 126 121 115 78 76 107 91 69 73 51 78 101 109 88 109 93 103 154 70 211 130 40 124 88 93"/>
<path class="m" d="M66 78 119 147 117 63 79 95 54 95 49 84 33 85 32 55 88 105 91 105 121 92 247 114 29 70 42 69 97 73 121 64 85 131 67 82 54 68 281 143 20 64 115 98 182 164 259 89 107 113 118 126 74 102 51 77 121 109 56 90 26 78 34 81 102 47 49 63 26 79 28 57 49 107 95 49 111 63 47 117 138 97 36 90 86 83 92 83 19 103 56 57 214 121 239 127 65 87 121 110 19 77 54 91 149 130 220 133 35 59 83 108 338 178 44 75 79 96 46 50 88 77 25 91 63 83 125 63 63 86"/>
<path class="f" d="M310 157 29 84 156 94 116 81 97 90 61 80 81 53 23 107 21 92 87 128 56 143 56 84 159 148 71 109 238 89 54 91 333 148 111 94 310 69 119 63 83 102 173 112 124 109 37 68 111 40 102 125 121 66 55 81 102 119 244 126 72 102 87 110 25 77 31 56 111 132 50 50 125 104 28 111 86 87 33 85 88 95 84 84 105 97 50 103 97 90 334 123 107 105 121 60 319 126 314 114 87 116 102 50"/>
<path class="m" d="M41 93 349 167 339 147 94 96 102 90 200 126 79 87 102 71 47 53 36 55 26 104 88 124 28 88 182 108 24 62 131 48 90 82 52 109 127 99 71 85 196 127 28 79 26 68 74 86 52 91 215 139 62 62 86 83 58 120 40 85 281 125 36 87 72 127 92 66 65 84 58 71 28 85 33 93 239 98 366 161 192 107 44 120 31 67 126 120 218 54 21 88 244 111 86 67 164 114 36 116 267 142 79 82 22 29 295 138 177 146 255 139 51 90 47 103 46 67 41 122 33 131 180 192 112 87 64 121 70 96 73 114 140 94 314 113 53 77 69 123 45 80 22 105 133 64"/>
<path class="f" d="M154 109 263 121 107 92 33 70 300 126 51 102 156 130 285 132 64 77 65 103 112 56 110 89 104 194 127 136 168 81 215 133 44 109 127 99 126 158 72 97 101 46 135 131 90 116 49 95 106 108 180 145 27 57 186 100 96 93 26 84 63 63 112 91 74 75 139 86 66 107 337 106 123 80 100 93 111 97 258 128 92 103 120 117 61 77 121 65 309 119 116 114 135 119 343 157 121 103 92 73 154 127 92 101 96 58 99 68 366 207 262 99 140 128 144 95 332 126 107 110 59 67 99 83 121 124 82 94 209 116 154 92"/>
<path class="m" d="M128 141 292 145 67 81 398 191 70 76 310 111 68 110 74 93 46 77 39 85 31 93 78 72 85 72 128 59 122 112 117 143 121 75 23 78 182 114 26 75 78 98 36 88 191 108 31 76 60 92 85 51 49 68 53 90 80 81 88 101 342 97 33 62 323 164 118 114 92 86 29 82 99 74 40 111 44 88 300 130 71 98 76 109 121 72 59 66 63 119 342 104 101 129 149 130 36 82 36 81 66 108 267 114 310 94 88 85 88 68 55 96 177 141 295 131 191 161"/>
<path class="f" d="M69 65 121 127 59 78 90 72 191 99 78 80 103 76 93 64 329 157 90 127 36 82 37 117 121 101 104 87 132 87 39 153 210 111 164 126 76 92 337 136 110 122 88 98 83 145 116 137 133 139 93 100 81 112 79 44 79 81 116 101 81 97 89 47 125 67 291 113 281 183 116 63 291 163 22 107 30 87 119 74 125 126 28 83 28 63 300 119 111 88 87 104 144 71 22 66 88 166 24 91 335 138 144 109 59 113 329 96 64 89 47 86 106 99 71 92 78 126 23 109 90 55 105 34 360 136"/>
<path class="m" d="M92 116 33 66 295 139 69 84 59 97 91 104 78 91 130 114 68 86 64 117 27 119 119 80 242 142 65 74 42 85 41 105 52 100 92 126 61 56 43 123 19 83 28 49 31 93 59 129 177 96 60 103 22 104 135 96 79 36 98 38 47 65 107 168 42 50 328 143 119 112 29 126 88 101 334 192 36 82 343 138 147 164 60 105 75 98 94 112 96 116 191 140 52 95 45 105 149 113 47 77 331 180 24 113 292 152 108 45 45 72 112 94 79 89 121 115 371 145 55 81 112 81 121 79"/>
<path class="f" d="M76 58 233 123 78 57 85 102 116 100 107 113 149 125 304 128 88 69 88 56 139 109 99 115 58 78 88 78 46 72 168 130 328 94 83 83 70 139 92 115 82 66 103 114 112 138 116 82 62 55 124 96 69 101 30 66 38 108 92 86 125 124 78 126 132 128 97 46 97 69 36 58 125 86 121 116 108 74 128 86 77 107 79 115 317 144 121 98 23 81 88 78 187 115 277 112 109 65 98 44 92 128 125 81 46 59 88 94 333 120 41 32"/>
<path class="m" d="M272 106 24 80 57 60 334 155 85 110 70 64 60 57 20 87 28 112 21 70 106 97 38 106 59 101 41 94 84 72 30 92 82 95 125 79 46 49 139 113 97 62 151 103 176 148 135 44 70 98 40 67 111 114 47 60 121 92 34 59 154 150 37 82 154 102 72 121 139 105 154 82 185 125 120 97 59 132 27 95 339 111 78 106 26 110 153 141 146 106 220 79 50 74 93 98 180 93 30 105 88 157 102 98 93 142 112 123 89 40 26 77 63 82 23 77 240 131 23 87 79 96 49 114 262 101 107 63 123 119 55 104 89 110 392 123 111 70"/>
<path class="f" d="M45 88 124 119 118 69 104 23 45 52 129 92 97 111 79 74 111 83 19 99 121 128 366 123 39 74 288 122 178 107 124 74 104 73 81 97 49 93 300 102 315 108 22 94 345 148 85 112 182 82 107 131 41 81 57 138 95 52 105 94 306 111 41 100 93 123 97 75 206 93 124 138 128 57 20 52 109 94 111 80 32 102 37 96 90 104 295 165 225 159 83 64 63 58 150 139 110 102 78 57 146 145 114 129 76 133 333 130 26 89 124 90"/>
<path class="m" d="M106 106 312 141 90 72 295 138 110 114 88 75 78 56 153 77 31 92 117 91 43 103 118 129 116 64 97 106 37 117 102 133 102 80 154 103 62 92 202 97 111 137 36 83 79 115 156 100 138 98 71 90 83 159 78 67 73 65 90 113 73 83 64 102 327 165 44 78 36 94 239 82 65 64 64 136 70 80 24 118 20 39 201 116 22 81 56 87 183 123 70 83 60 101 130 118 31 95 83 84 52 88 49 87 119 78 152 67 243 141 20 98 104 69 34 106 52 78 22 81 201 80 21 63 191 120 29 83 27 113 30 59 54 96 36 81 116 69"/>
<path class="b" d="M19 42.5 27.1 43 35.1 43.8 43.2 44.6 51.3 45.6 59.3 46.7 67.4 48 75.5 49.9 83.6 52.1 91.6 54.4 99.7 56.5 107.8 58.7 115.8 60.9 123.9 63.1 132 65.3 140 67.5 148.1 69.5 156.2 71.4 164.2 73.2 172.3 74.7 180.4 76.1 188.5 77.4 196.5 78.6 204.6 79.6 212.7 80.6 220.7 81.7 228.8 82.9 236.9 84.1 244.9 85.5 253 86.8 261.1 88.3 269.1 89.9 277.2 91.5 285.3 93.1 293.4 94.8 301.4 96.6 309.5 98.4 317.6 100.2 325.6 101.9 333.7 103.6 341.8 105 349.8 106.3 357.9 107.4 366 108.3 374 109.1 382.1 109.8 390.2 110.6 398.2 111.8 L398.2 199.2 390.2 197.9 382.1 196.6 374 195.3 366 193.9 357.9 192.3 349.8 190.7 341.8 188.9 333.7 186.9 325.6 184.8 317.6 182.6 309.5 180.3 301.4 178 293.4 175.8 285.3 173.8 277.2 171.8 269.1 170 261.1 168.4 253 166.9 244.9 165.5 236.9 164.2 228.8 163 220.7 161.8 212.7 160.7 204.6 159.7 196.5 158.7 188.5 157.5 180.4 156.2 172.3 154.8 164.2 153.2 156.2 151.5 148.1 149.5 140 147.5 132 145.4 123.9 143.2 115.8 141 107.8 138.8 99.7 136.6 91.6 134.4 83.6 132.2 75.5 129.9 67.4 128.1 59.3 126.8 51.3 125.6 43.2 124.7 35.1 123.8 27.1 123.1 19 122.5Z"/>
<path class="b" d="M19 41.3 27.3 41.7 35.5 42.1 43.8 42.7 52 43.4 60.3 44.2 68.5 45.3 76.8 46.7 85 48.5 93.3 50.4 101.6 52.3 109.8 54.4 118.1 56.6 126.3 58.9 134.6 61.3 142.8 63.5 151.1 65.5 159.3 67.3 167.6 68.9 175.9 70.3 184.1 71.6 192.4 72.6 200.6 73.5 208.9 74.2 217.1 75.1 225.4 76.1 233.6 77.1 241.9 78.3 250.1 79.6 258.4 81 266.7 82.5 274.9 84 283.2 85.5 291.4 87 299.7 88.5 307.9 90 316.2 91.3 324.4 92.4 332.7 93.5 341 94.3 349.2 94.9 357.5 95.4 365.7 95.5 374 95.1 382.2 94.6 390.5 93.9 398.7 93.2 407 92 L407 182 398.7 183.2 390.5 183.8 382.2 183.8 374 183.7 365.7 183.5 357.5 182.8 349.2 181.7 341 180.5 332.7 179.2 324.4 177.6 316.2 175.9 307.9 174.1 299.7 172.2 291.4 170.3 283.2 168.4 274.9 166.6 266.7 164.9 258.4 163.4 250.1 162 241.9 160.7 233.6 159.5 225.4 158.4 217.1 157.4 208.9 156.6 200.6 155.8 192.4 155 184.1 153.9 175.9 152.7 167.6 151.3 159.3 149.7 151.1 147.9 142.8 145.9 134.6 143.7 126.3 141.3 118.1 139 109.8 136.8 101.6 134.7 93.3 132.7 85 130.9 76.8 129.1 68.5 127.6 60.3 126.6 52 125.7 43.8 125.1 35.5 124.5 27.3 124 19 123.7Z"/>
<path class="lm" d="M19 82.5 27.1 83.1 35.1 83.8 43.2 84.6 51.3 85.6 59.3 86.7 67.4 88.1 75.5 89.9 83.6 92.1 91.6 94.4 99.7 96.6 107.8 98.7 115.8 100.9 123.9 103.1 132 105.4 140 107.5 148.1 109.5 156.2 111.4 164.2 113.2 172.3 114.8 180.4 116.2 188.5 117.5 196.5 118.6 204.6 119.7 212.7 120.7 220.7 121.8 228.8 122.9 236.9 124.2 244.9 125.5 253 126.9 261.1 128.4 269.1 129.9 277.2 131.6 285.3 133.4 293.4 135.3 301.4 137.3 309.5 139.4 317.6 141.4 325.6 143.3 333.7 145.2 341.8 147 349.8 148.5 357.9 149.8 366 151.1 374 152.2 382.1 153.2 390.2 154.2 398.2 155.5"/>
<path class="lf" d="M19 82.5 27.3 82.8 35.5 83.3 43.8 83.9 52 84.6 60.3 85.4 68.5 86.5 76.8 87.9 85 89.7 93.3 91.5 101.6 93.5 109.8 95.6 118.1 97.8 126.3 100.1 134.6 102.5 142.8 104.7 151.1 106.7 159.3 108.5 167.6 110.1 175.9 111.5 184.1 112.7 192.4 113.8 200.6 114.7 208.9 115.4 217.1 116.3 225.4 117.2 233.6 118.3 241.9 119.5 250.1 120.8 258.4 122.2 266.7 123.7 274.9 125.3 283.2 127 291.4 128.6 299.7 130.3 307.9 132 316.2 133.6 324.4 135 332.7 136.3 341 137.4 349.2 138.3 357.5 139.1 365.7 139.5 374 139.4 382.2 139.2 390.5 138.8 398.7 138.2 407 137"/>
<rect class="s" width="426" height="288"/>
<rect class="lg" x="309.8" y="8.3" width="108.6" height="50" rx="3.1"/>
<circle class="cf" cx="332.1" cy="21.4" r="4.17"/>
<circle class="cm" cx="332.1" cy="43.6" r="4.17"/>
<text class="t" x="360.4" y="25.7">female</text>
<text class="t" x="360.4" y="48.7">male</text>
<text class="tt" x="213" y="-8.3" text-anchor="middle">Nucleus Accumbens</text>
<text class="t" x="-13.6" y="13.1" text-anchor="end">0.00045</text>
<text class="t" x="-13.6" y="46.1" text-anchor="end">0.00040</text>
<text class="t" x="-13.6" y="80.1" text-anchor="end">0.00035</text>
<text class="t" x="-13.6" y="113.1" text-anchor="end">0.00030</text>
<text class="t" x="-13.6" y="146.1" text-anchor="end">0.00025</text>
<text class="t" x="-13.6" y="180.1" text-anchor="end">0.00020</text>
<text class="t" x="-13.6" y="213.1" text-anchor="end">0.00015</text>
<text class="t" x="-13.6" y="246.1" text-anchor="end">0.00010</text>
<text class="t" x="-13.6" y="279.1" text-anchor="end">0.00005</text>
<text class="l" transform="translate(-86.7,144) rotate(-90) scale(1,1.09)" text-anchor="middle">GM volume (TIV-normalized)</text>
</g>
<g transform="translate(1176,708)">
<path class="g" d="M86.5 0V288M180.5 0V288M275.5 0V288M369.5 0V288M0 13.5H426M0 51.5H426M0 89.5H426M0 127.5H426M0 165.5H426M0 203.5H426M0 241.5H426M0 279.5H426"/>
<path class="f" d="M285 116 91 103 55 89 93 114 345 139 91 99 187 119 177 89 79 101 82 86 378 165 64 112 90 102 86 101 84 102 88 110 64 91 39 120 334 145 129 86 88 116 107 93 310 60 89 73 281 124 194 183 163 103 116 115 128 114 187 115 116 89 109 124 55 105 144 93 81 96 58 77 53 103 104 129 317 126 163 101 116 112 111 126 310 140 107 90 89 117 55 102 121 120 124 111 90 126 75 72 86 188 83 115 91 108 105 128 95 121 125 114 78 80 126 107 55 112 31 102 93 116 111 113 334 161"/>
<path class="m" d="M38 45 83 117 192 89 135 97 70 131 61 77 121 122 54 86 57 83 74 81 159 120 19 60 45 50 53 56 23 76 110 61 31 83 88 77 30 112 78 117 25 83 51 114 251 153 36 75 90 156 64 103 324 117 83 65 46 70 83 47 60 95 122 72 67 105 290 115 22 74 143 90 36 60 102 75 92 98 97 116 366 194 107 104 329 135 149 103 35 70 56 96 272 138 315 133 79 104 54 104 55 97 83 126 282 132 30 88 83 93 342 131 210 123 206 107 55 78 343 131 42 99 20 84 72 75 116 113"/>
<path class="f" d="M46 97 215 125 111 115 97 105 91 97 52 102 291 142 75 105 324 128 64 89 51 104 34 92 87 94 255 149 93 85 112 106 124 130 30 99 31 105 88 77 42 91 97 91 285 160 93 104 238 152 37 95 45 53 61 103 121 85 120 81 107 125 75 98 267 146 121 153 282 145 107 100 34 109 125 130 33 96 78 121 308 132 124 78 112 116 215 118 40 80 126 99 83 126 23 74 83 128 81 103 62 129 85 102 140 119 118 137"/>
<path class="m" d="M240 117 26 85 50 103 144 65 22 89 102 102 182 151 314 120 44 110 86 102 44 68 49 82 47 80 50 97 36 81 50 103 31 108 338 154 185 108 31 75 139 94 305 150 63 88 42 75 55 82 191 113 154 103 43 93 22 78 65 91 31 68 257 119 323 125 287 128 287 130 72 102 295 128 45 118 37 72 42 120 150 100 92 118 149 108 263 122 47 99 56 51 47 112 61 93 121 57 147 92 36 85 127 94 29 81 88 95 31 79 61 100 49 97 253 132 97 82 93 71 35 88 50 114 63 103 138 131 45 84 183 129 53 67 60 69 92 99 30 83 45 74 65 87 229 108"/>
<path class="f" d="M68 100 74 114 78 81 60 102 125 109 88 113 306 124 94 84 102 97 111 116 215 106 249 141 121 81 167 126 291 136 125 132 35 88 105 106 347 159 304 150 59 118 267 134 92 127 145 91 168 140 113 119 49 70 45 99 22 78 88 122 36 87 87 99 88 97 196 108 74 91 93 90 131 99 97 94 144 112 88 99 149 139 309 139 41 58 69 99 180 105 111 76 125 89 107 119 116 110 157 115 120 112 93 94 79 115 92 158 300 121 187 109 187 105 93 137 147 120 370 168 59 93 45 108 47 116 140 114 238 124 220 122 121 106 291 150 42 109 191 46 52 108 103 98 327 149 94 136"/>
<path class="m" d="M68 95 83 129 107 102 300 128 28 68 44 110 216 163 67 97 31 90 57 115 78 93 215 120 78 112 98 88 60 96 61 80 66 78 100 86 28 55 111 130 159 122 43 70 69 100 68 93 328 145 188 78 68 120 65 110 23 81 338 153 91 103 92 131 42 84 121 122 49 93 151 111 26 61 64 110 139 105 74 91 206 168 116 104 45 63 84 106 117 113 286 133 343 147 66 93 107 97 121 111 196 130 103 117 292 129"/>
<path class="f" d="M111 102 31 78 126 130 337 115 99 116 130 119 63 124 90 100 126 85 134 101 89 105 87 121 76 117 93 89 122 89 137 105 111 107 100 74 67 127 19 74 20 72 125 109 112 98 315 156 69 79 30 112 21 109 90 119 83 146 302 71 361 152 81 125 101 95 124 83 78 92 126 96 93 97 116 99 98 87 140 136 116 141 92 94 121 107 46 104 314 140 139 135 144 100 234 128 64 76 20 60 116 123 95 122 296 140 219 122 135 51 27 118"/>
<path class="m" d="M69 90 262 147 61 113 63 96 314 127 118 89 74 106 83 88 124 140 61 89 107 100 99 113 230 123 267 125 80 110 73 88 72 105 125 98 64 94 35 94 150 114 183 163 98 105 109 81 182 110 170 110 119 84 51 95 121 111 90 89 69 105 371 168 54 77 69 82 180 208 38 83 36 102 117 108 182 127 97 131 51 98 214 133 198 163 125 99 40 100 98 128 79 81 140 93 105 84 64 81 152 105 102 95 230 122 159 74 45 100 78 80 83 111 45 115 335 147 88 105 36 98 83 145 64 97 54 112 230 129 272 129 220 117 120 113 88 123 56 135 36 70"/>
<path class="f" d="M79 111 119 101 32 88 64 110 87 100 79 108 81 86 101 99 103 108 54 95 183 96 83 118 123 92 79 89 314 161 61 86 26 90 83 101 144 56 37 90 338 159 112 124 49 107 121 100 47 78 88 105 116 64 97 105 100 218 206 133 101 103 100 78 68 112 119 103 141 119 97 130 201 106 253 116 94 102 46 119 30 82 120 95 125 116 187 114 56 112 319 119 43 94 144 95 135 120 104 228 27 50 26 86 97 111 76 106 33 63 102 123"/>
<path class="m" d="M41 77 66 110 21 61 19 71 342 114 74 74 85 108 149 100 62 129 68 76 239 153 28 91 45 76 32 73 100 254 108 104 61 99 140 82 113 67 121 58 305 120 80 95 104 102 130 83 114 97 73 101 286 130 180 114 328 115 24 105 243 123 121 130 107 83 43 78 60 123 136 98 90 181 46 82 295 131 97 32 55 90 121 115 295 150 310 148 329 118 41 67 31 42 43 95 206 94 188 93 20 112 114 120 98 121 49 107 366 142 116 104 114 83 121 45 300 145 312 151 104 75 27 69 45 85 321 110 54 83 267 162 239 127 69 99 126 119 19 45 333 140"/>
<path class="f" d="M215 105 22 62 26 61 33 113 56 103 93 132 128 116 125 92 178 118 45 110 103 118 333 90 186 106 91 109 196 118 68 105 154 122 129 116 79 93 83 120 98 104 68 107 335 136 79 125 31 65 70 107 97 89 74 84 92 98 77 95 121 134 267 109 92 100 121 103 158 88 59 109 286 132 92 108 44 97 111 97 168 100 107 86 26 87 121 93 357 108 106 131 96 128 244 143 191 124 110 73 164 122 43 89 74 113 102 124 111 126 51 88 149 114 132 82 111 96 64 98"/>
<path class="m" d="M78 87 41 95 145 77 187 108 191 114 42 72 66 90 41 81 112 89 24 54 41 93 55 87 79 129 63 78 92 132 215 104 33 82 145 141 156 117 26 80 90 79 63 94 125 114 74 94 69 131 49 84 310 128 37 96 120 80 113 99 66 123 292 118 97 118 118 103 23 68 30 65 121 105 64 111 220 110 29 47 54 91 22 79 39 76 191 119 35 77 112 88 43 73 97 96 67 91 70 97 281 126 69 121 73 107 27 96 34 97 58 104 242 121 149 109 291 122 33 79 29 65 51 94 34 90 20 79 61 109 52 105 123 109"/>
<path class="f" d="M168 107 205 124 310 135 126 97 309 156 26 105 65 104 124 263 57 77 96 88 99 71 309 125 177 111 111 107 300 117 97 97 286 127 135 78 333 136 83 104 243 139 215 111 45 92 130 113 119 113 220 171 97 48 78 120 123 86 99 79 124 79 105 131 40 108 92 79 27 70 301 167 71 102 146 99 49 94 97 95 168 94 78 117 83 91 97 121 24 82 154 127 51 86 47 69 107 99 64 90 103 117"/>
<path class="m" d="M33 77 70 103 83 98 202 103 121 41 22 88 116 70 196 153 65 123 37 67 20 83 40 72 116 101 60 99 25 57 69 77 95 122 41 82 88 101 27 76 20 79 111 115 21 71 93 84 21 118 102 157 22 89 33 79 53 123 42 73 135 85 29 85 103 49 49 60 112 83 27 68 69 79 78 72 74 88 47 104 56 82 60 95 65 121 69 96 52 95 41 110 106 98 20 88 19 99 23 68 74 123 35 93 127 105 111 89 332 185 93 104 88 128 25 86 90 102 241 125 87 103 54 99 83 108 223 154 92 79 128 88 88 106 49 75 59 91 61 75 56 105 30 89 138 93 149 76 58 93 27 87"/>
<path class="f" d="M51 115 116 55 71 94 102 111 77 64 27 73 216 124 121 115 58 77 79 89 238 118 22 58 99 80 21 75 129 105 33 66 59 116 150 110 37 79 89 139 78 103 87 76 83 87 82 106 144 122 333 161 314 147 125 85 152 234 121 108 117 118 61 100 102 93 51 77 68 111 317 93 81 107 310 118 257 117 41 105 97 108 254 145 66 106 91 83 121 111 83 101 248 150 78 96 21 82 64 124 371 129 93 82 121 84 62 108 172 123 121 84 74 64 116 99 78 88 123 89 378 188 135 109 134 100 107 120 108 99 28 68"/>
<path class="m" d="M31 100 22 73 97 125 46 131 36 75 72 104 213 90 88 88 96 109 97 95 153 145 46 98 121 104 25 83 27 78 178 137 92 89 45 93 97 51 135 102 75 103 53 91 62 88 43 98 210 115 255 132 88 95 20 68 45 74 48 61 20 107 87 88 90 199 239 135 23 97 125 104 59 100 88 84 43 106 191 135 89 89 31 75 171 137 338 148 125 116 35 78 135 97 93 106 126 118 111 77 61 126 19 91 79 77 81 89 138 105 54 92 305 138 73 88 33 78 144 92 73 91"/>
<path class="f" d="M135 115 92 105 57 112 333 118 41 75 161 85 107 119 79 94 206 128 88 111 196 129 253 129 309 132 102 99 107 105 38 106 19 51 179 102 32 64 112 92 20 35 154 90 93 88 43 119 121 121 50 81 116 103 299 182 29 80 48 73 78 108 103 111 105 101 282 105 103 110 122 100 62 69 25 108 111 97 105 94 112 96 50 100 286 128 72 98 182 141 24 79 51 56 87 82 98 111 83 101 97 86 36 115 36 89 120 115 74 132 146 96 30 90 109 236 324 152 37 123 290 143 92 107 72 91 300 128 220 139 100 215"/>
<path class="m" d="M220 147 43 77 44 90 74 92 40 93 92 145 216 113 61 98 87 89 56 100 48 96 19 68 310 136 183 101 37 79 267 145 91 103 59 80 95 94 153 97 21 47 96 99 70 93 134 97 76 70 56 82 29 46 70 107 114 88 53 102 75 81 88 97 60 108 111 92 104 96 131 140 394 205 187 151 135 119 41 97 179 89 121 49 59 110 22 99 28 68 258 91 163 94 116 110 392 152 289 151 102 66 28 110 29 69 247 134 55 57 106 120 85 92 32 90 106 104 45 85 88 110"/>
<path class="f" d="M88 76 88 122 97 91 102 54 86 110 96 91 66 94 38 88 258 132 153 77 27 60 111 92 116 116 149 81 92 109 40 94 261 133 333 170 300 149 77 105 120 118 329 150 90 134 329 138 116 113 333 150 87 114 156 120 92 101 83 101 126 115 102 110 182 125 75 120 25 79 126 109 86 136 23 95 225 124 126 85 362 124 88 98 324 136 191 107 130 96 292 133 126 139 59 108 167 143 41 110 74 97 96 74 107 131 89 89 248 137 22 50"/>
<path class="m" d="M126 86 121 99 60 82 38 98 63 99 126 85 295 141 67 102 48 34 146 110 290 114 90 95 102 81 310 144 59 78 110 113 41 96 73 101 42 85 360 138 127 95 94 68 59 107 220 84 70 103 44 110 67 77 214 126 126 95 64 83 95 74 45 92 97 105 48 70 40 84 394 163 83 118 146 102 95 121 119 113 73 120 102 100 44 82 26 66 67 127 78 133 20 117 170 97 310 127 67 131 19 104 31 105 215 118 116 105 48 101 38 89 62 102 67 88 333 140 20 51 111 89 142 102 282 151 109 275 54 118 73 82 53 99 46 97 24 108 168 112"/>
<path class="f" d="M23 85 190 134 149 80 36 96 263 154 86 184 263 125 328 154 309 105 86 73 121 92 98 108 105 87 155 82 140 100 96 123 128 115 97 105 133 109 83 114 281 157 139 104 333 146 123 126 215 99 169 91 154 130 126 107 111 89 126 125 45 89 28 65 102 148 168 106 93 96 90 94 97 109 324 122 36 99 173 123 29 40 226 128 125 100 69 110 121 86 249 140 102 82 36 87 78 147 164 99 48 146"/>
<path class="m" d="M111 124 32 65 128 116 41 59 111 96 122 101 63 82 140 110 98 102 164 105 52 61 156 127 34 94 121 137 140 113 50 109 60 87 63 91 20 74 88 92 22 80 55 119 24 103 72 113 39 73 94 115 22 82 58 115 29 108 19 32 46 82 59 94 43 92 191 129 21 80 206 136 48 84 177 96 87 106 221 114 22 93 71 118 50 70 105 107 119 127 59 102 52 102 59 99 76 114 65 107 58 86 122 93 114 115 92 108 81 105 47 92 44 92 54 100 40 70 398 181 64 83 62 99 107 84 42 82 149 117 54 121 36 104 95 121 30 66 121 116 55 111 35 97 310 122 128 117 109 95"/>
<path class="f" d="M49 101 251 100 366 157 121 89 135 115 83 91 69 98 105 117 28 98 334 142 63 106 106 122 97 117 29 63 36 97 130 134 93 99 83 117 380 179 26 55 121 141 81 124 258 128 118 69 38 80 102 77 86 150 19 93 71 106 97 57 92 59 74 91 95 113 239 109 82 92 180 110 181 138 305 144 102 96 338 137 261 91 125 100 126 118 315 121 57 88 40 97 69 84 60 108 118 101 88 80 113 122 91 96 126 58"/>
<path class="m" d="M108 116 34 76 92 102 114 112 143 116 45 83 117 97 31 74 148 101 30 79 34 83 40 54 29 75 56 75 74 111 393 168 57 79 21 97 111 99 28 78 36 67 30 104 121 62 182 99 74 92 154 112 130 103 68 89 64 123 51 92 122 105 97 130 64 85 229 117 197 96 243 133 168 104 72 108 206 101 26 68 31 100 112 93 295 150 66 85 168 106 366 157 74 89 139 110 182 120 121 121 337 131 112 109 69 95 329 146 90 101 182 82 107 132 26 79 107 85 349 154 339 122 53 69 58 112 327 154 133 218 163 97 111 112 51 123 132 118 88 111 149 95 154 117 201 91"/>
<path class="f" d="M141 101 107 118 72 83 101 101 291 130 111 95 73 108 46 103 277 127 104 103 72 110 300 132 70 87 97 113 74 108 78 79 107 78 116 114 174 120 94 101 119 120 163 121 329 165 111 93 28 73 48 72 89 80 138 105 112 114 55 133 263 129 89 123 102 139 258 155 111 126 269 121 105 49 72 77 78 81 77 97 102 119 327 163 59 85 44 95 87 77 68 80 258 95 26 105 78 99 286 155 97 38 127 84 93 118"/>
<path class="m" d="M74 105 102 106 116 109 78 103 82 94 93 119 95 107 125 117 229 137 41 78 106 118 22 75 112 97 53 118 32 90 54 103 70 92 329 117 178 109 93 137 27 79 32 99 333 128 97 118 42 94 97 93 78 106 178 101 38 110 112 104 41 79 172 113 86 88 67 102 177 98 149 97 135 93 30 64 43 100 31 88 36 62 36 96 26 55 54 141 145 137 94 83 122 116 22 124 68 78 82 107 151 91 127 100 68 105 122 107 125 134 89 144 89 59 42 120 149 110 149 89 102 128 83 120 78 111 251 187 73 125 187 124 47 90 52 91 91 128 68 103 147 127 50 94 243 163"/>
<path class="f" d="M116 98 103 115 54 111 110 82 66 73 93 144 55 115 116 86 225 117 111 104 121 73 97 42 87 61 92 102 85 103 103 145 29 106 125 69 97 73 46 96 105 122 314 113 100 83 159 96 54 78 26 110 145 92 124 108 234 128 131 93 28 115 75 103 324 131 132 93 163 129 121 13 62 89 97 54 91 97 72 110 22 71 79 134 88 96 243 107 108 121 100 131 156 108 37 91 309 106 139 106 83 106 366 154 328 105 272 135 135 106 64 111 76 98 89 128 61 89 128 118"/>
<path class="m" d="M85 76 88 90 22 89 116 126 26 68 40 72 86 143 191 98 24 94 220 131 83 122 62 98 182 140 31 75 120 83 94 95 28 105 56 104 155 106 282 121 250 146 149 95 23 65 84 90 146 96 37 98 52 92 44 87 83 101 33 94 55 80 144 109 37 98 90 263 182 108 32 71 83 93 245 112 99 122 52 117 57 84 52 63 64 128 114 97 119 114 140 87 150 123 337 132 72 94 38 76 116 93 119 116 70 77 80 97 29 56 144 101 184 229 101 121 50 101 54 74 130 75 231 105 83 93 51 100 124 124 53 70"/>
<path class="f" d="M361 171 39 92 315 132 83 73 127 95 70 102 40 79 295 135 125 129 168 152 116 99 64 103 93 84 45 133 116 110 88 115 97 88 246 126 230 106 141 120 83 117 186 109 143 93 97 112 342 123 29 86 40 97 79 113 92 126 82 97 351 163 46 87 145 121 220 125 50 103 140 128 50 113 120 75 361 142 116 90 116 130 111 95 281 148 43 100 89 102 114 117 121 106 99 105 107 97 190 130 364 206 154 124 97 88 19 81 67 93 178 89 22 67 92 67"/>
<path class="m" d="M101 93 31 77 22 60 92 101 26 85 54 112 156 95 97 101 65 64 44 91 263 132 35 80 74 105 37 86 74 92 48 86 101 87 328 137 56 140 116 89 334 171 69 108 88 90 36 110 139 126 309 149 47 95 44 73 116 107 87 106 71 82 101 67 82 100 107 94 61 79 61 111 94 106 56 81 36 117 177 74 36 104 47 74 62 85 79 101 34 93 34 58 41 63 219 143 126 114 83 113 71 117 27 81 78 108 206 102 394 174 70 106 24 82 239 125 243 148 64 139 331 135 89 103 337 124 95 111 22 97 97 100 30 72 115 84"/>
<path class="f" d="M121 82 105 107 88 105 97 99 68 84 69 116 263 120 74 120 144 51 48 62 343 141 97 60 233 113 147 101 20 82 76 103 122 122 126 100 88 90 206 150 112 95 276 134 36 89 221 161 267 126 76 64 26 90 56 95 309 131 187 148 295 142 106 108 54 78 187 129 70 95 67 93 135 115 125 105 116 110 26 60 78 109 64 66 244 146 300 146 167 125 50 127 72 90 61 112 137 111 33 113 96 120 90 100 144 90 253 111 356 145 121 113 25 86 111 133 192 130"/>
<path class="m" d="M60 113 121 103 70 138 89 118 216 136 210 117 27 69 267 108 172 89 19 53 88 77 282 173 150 106 25 87 93 102 78 96 93 112 84 138 55 101 216 122 36 90 192 141 24 70 73 98 28 90 107 131 118 100 289 127 115 107 154 130 41 99 73 98 60 93 49 87 176 142 92 112 196 105 78 105 130 105 64 93 82 102 121 96 116 115 205 116 92 95 51 107 112 84 67 116 121 110 50 91 107 118 249 145 78 79 78 89 117 103 70 114 69 78 281 131 111 114 27 93 162 97 91 87 146 77 122 109 127 105 200 133 102 105"/>
<path class="f" d="M122 62 47 106 88 90 116 89 45 93 117 101 95 111 56 106 39 73 234 132 97 79 38 91 149 113 107 121 97 34 201 129 19 74 330 139 322 97 88 122 121 127 21 78 144 102 58 109 109 90 37 95 83 67 29 76 20 91 121 93 60 107 111 128 50 89 121 144 88 120 164 117 107 95 27 83 88 107 96 89 66 114 71 146 108 65 44 103 79 128 83 114 133 102 53 122 84 90 81 133 310 134 92 95 97 104 155 111 149 116 144 99 332 155 117 92 146 76 58 93 333 139 90 96 267 119 31 71 26 106 50 94"/>
<path class="m" d="M64 114 74 120 72 95 72 111 95 81 56 86 59 89 263 107 127 110 22 72 94 85 37 64 87 103 295 125 152 124 47 93 93 108 59 89 88 82 121 82 68 93 88 87 78 73 339 154 154 132 55 97 300 148 58 81 57 70 88 109 338 125 63 111 97 108 121 94 107 105 35 50 69 82 60 84 28 82 29 90 59 101 22 82 111 123 121 107 36 84 126 107 186 103 63 85 61 67 295 134 27 61 82 102 140 98 32 61 51 80 33 61 133 112 119 101 201 96 35 74"/>
<path class="f" d="M108 131 158 87 102 98 328 132 89 102 87 131 107 129 83 104 55 94 183 137 79 105 26 32 57 91 96 91 102 112 210 139 154 112 109 91 121 121 300 145 130 113 258 150 32 51 90 88 154 110 291 131 121 84 297 146 315 123 87 66 121 53 115 109 366 153 333 151 255 126 111 88 168 86 123 90 78 119 149 109 154 98 21 89 126 112 98 112 134 113 95 173 110 111 126 104 97 113 276 132 314 139 20 64 109 81 56 92 133 102 95 111 106 121 81 95"/>
<path class="m" d="M46 82 281 144 113 84 73 82 259 124 73 98 201 124 85 96 97 99 45 89 330 172 70 80 43 87 75 92 31 81 117 93 28 98 54 107 156 106 44 86 329 142 26 61 323 154 215 99 61 79 165 98 31 49 73 117 131 108 56 87 40 66 71 114 25 83 102 111 88 126 78 74 51 121 153 87 66 86 88 80 57 100 100 90 278 172 21 79 40 107 168 82 176 88 47 76 328 131 130 98 234 128 244 156 93 114 71 88 102 94 64 70 93 115 177 87 149 97 239 130 97 113 22 74 45 99 39 101 28 89 174 118 257 120 107 112"/>
<path class="f" d="M129 81 69 90 63 120 224 121 76 94 36 102 145 147 74 101 32 67 110 56 142 122 173 101 121 35 309 160 357 137 156 150 338 164 303 157 111 125 103 120 88 124 168 110 65 106 347 162 82 107 182 120 96 80 248 155 281 89 90 152 201 109 257 166 78 108 58 103 107 97 98 113 304 142 99 143 23 61 106 117 22 65 102 97 104 80 63 86 197 140 123 89 84 67 44 78 51 92 105 89 98 136 92 80 116 154 81 88 99 109 118 112 20 79 121 109 127 118 35 62"/>
<path class="m" d="M120 102 92 100 61 90 126 70 40 103 111 102 126 118 33 83 79 108 121 64 29 77 24 79 19 65 85 113 47 99 69 125 238 154 180 128 282 127 55 90 192 130 62 102 108 74 44 102 52 92 52 104 90 127 79 90 61 114 87 81 121 77 153 93 93 86 121 91 332 134 132 144 149 95 79 101 34 70 23 86 72 108 70 89 154 107 78 108 71 131 33 62 87 112 34 107 40 90 92 117 112 114 361 135 58 106 30 73 49 100 106 98 147 109 55 95 328 143 59 103 41 51 36 88 268 151 37 111 25 80 102 118"/>
<path class="f" d="M201 108 113 94 79 112 87 98 87 117 82 119 121 113 23 68 268 143 50 94 339 150 64 121 64 128 92 113 360 157 78 61 97 120 78 97 126 121 337 153 206 95 109 112 116 84 116 97 118 82 47 111 93 103 40 68 109 115 109 89 144 93 126 85 78 115 140 91 74 136 58 116 81 105 31 110 76 89 51 80 117 89 58 101 85 104 130 80 111 144 211 105 50 94 125 96 144 101 61 128 104 203 119 97 229 126 107 111 78 123 111 98 83 121 71 87 89 126 70 86 101 81 139 121 79 104 141 97 143 70"/>
<path class="m" d="M163 109 169 66 20 113 115 116 55 114 104 132 81 208 97 40 47 97 106 128 39 101 96 74 102 92 71 136 70 79 112 72 148 133 319 138 50 90 82 76 130 111 118 74 75 108 114 106 79 83 69 92 102 113 97 120 64 102 121 38 21 74 54 91 239 119 31 75 86 100 129 99 70 97 75 89 97 130 66 94 128 98 46 80 99 95 79 132 177 109 21 76 26 77 283 165 71 105 262 129 78 114 89 126 97 45 58 104 135 101 159 136 112 87 83 90 88 116 27 92 116 102"/>
<path class="f" d="M78 91 347 155 244 142 113 93 78 51 112 110 87 144 319 158 119 118 42 86 60 116 188 103 37 82 124 87 78 156 112 101 67 92 102 112 111 138 88 97 328 123 99 107 41 50 63 114 45 86 103 121 61 106 94 82 54 100 124 90 52 96 248 119 114 110 140 97 120 62 125 105 21 78 125 97 29 62 33 99 27 71 287 113 288 124 74 91 22 89 120 92 22 56 138 88 385 164 116 83 93 132 333 136"/>
<path class="m" d="M26 71 53 102 85 95 97 117 253 125 126 118 31 64 45 67 87 112 130 105 107 104 86 154 79 114 45 84 59 113 64 80 29 85 26 87 121 101 119 78 34 98 41 94 55 91 50 81 206 117 85 131 54 57 23 72 33 75 72 63 43 71 267 136 30 34 45 64 70 109 191 121 102 81 333 136 46 88 156 99 82 83 114 101 164 123 68 123 243 130 26 64 159 100 41 67 157 114 78 97 103 84 43 106 220 121 248 116 90 84 86 102 97 113 49 79 92 134 26 79 33 83 120 95 76 234 40 61 220 115 36 102 58 81 83 127 309 117 33 85 86 84 49 103 34 56 33 72"/>
<path class="f" d="M314 169 102 130 55 108 106 111 32 90 35 122 36 96 87 107 126 126 37 99 84 98 300 149 112 140 48 102 122 81 63 66 50 122 124 111 79 104 78 74 91 79 220 108 111 58 73 92 85 95 135 116 262 146 206 115 76 107 156 111 63 92 302 141 76 125 98 103 107 107 107 120 121 99 229 116 125 96 26 117 73 73 93 73 107 104 82 92 187 144 124 84 52 132 61 141 20 53 102 77 125 113 49 119 123 111 209 159 41 88 37 84"/>
<path class="m" d="M253 115 79 86 24 71 287 116 47 124 81 123 64 70 338 118 102 104 211 128 21 100 101 108 36 77 120 124 163 119 49 113 34 87 40 95 68 118 168 35 318 127 74 77 247 128 139 85 239 158 131 106 22 48 53 98 107 97 49 75 200 146 41 83 51 70 111 117 59 110 49 64 21 76 55 122 65 70 116 123 30 68 286 117 63 134 281 105 120 122 29 62 65 112 40 121 318 154 49 136 28 94 47 86 37 68 35 89 22 88 334 179 29 60 97 111 34 90 73 71 149 119 26 83 127 108 26 57 95 100 39 82 24 88 79 90 59 79 26 89"/>
<path class="b" d="M19 39.6 27.1 44.5 35.1 48.9 43.2 52.7 51.3 56.1 59.3 59.2 67.4 61.5 75.5 63.3 83.6 64.8 91.6 65.9 99.7 66.5 107.8 66.9 115.8 67.3 123.9 67.8 132 68.3 140 68.9 148.1 70.2 156.2 72.3 164.2 74.7 172.3 76.7 180.4 78.7 188.5 80.6 196.5 82.4 204.6 84.2 212.7 85.8 220.7 87.3 228.8 88.7 236.9 90 244.9 91 253 91.8 261.1 92.6 269.1 93.3 277.2 94 285.3 94.6 293.4 95.4 301.4 96.6 309.5 98 317.6 99.7 325.6 101.8 333.7 104.2 341.8 106.8 349.8 109.8 357.9 113.1 366 115.8 374 117.8 382.1 119.3 390.2 120.5 398.2 121.5 L398.2 201.5 390.2 200.4 382.1 198.6 374 196.5 366 194.1 357.9 190.8 349.8 187 341.8 183.5 333.7 180.4 325.6 177.5 317.6 175 309.5 172.9 301.4 171 293.4 169.5 285.3 168.3 277.2 167.4 269.1 166.6 261.1 165.8 253 165 244.9 164.2 236.9 163.2 228.8 161.9 220.7 160.5 212.7 159 204.6 157.4 196.5 155.6 188.5 153.8 180.4 151.9 172.3 149.9 164.2 147.9 156.2 145.5 148.1 143.4 140 142.1 132 141.5 123.9 141 115.8 140.5 107.8 140.1 99.7 139.7 91.6 139.1 83.6 138 75.5 136.5 67.4 134.7 59.3 132.4 51.3 129.3 43.2 125.9 35.1 122.1 27.1 117.7 19 112.8Z"/>
<path class="b" d="M19 39.2 27.3 44.7 35.5 49.6 43.8 53.8 52 57.7 60.3 61 68.5 63.3 76.8 65 85 66.3 93.3 66.7 101.6 66.7 109.8 66.7 118.1 66.7 126.3 66.9 134.6 67.4 142.8 68 151.1 69.6 159.3 72 167.6 74.3 175.9 76.4 184.1 78.5 192.4 80.5 200.6 82.5 208.9 84.3 217.1 86 225.4 87.4 233.6 88.8 241.9 89.9 250.1 90.8 258.4 91.6 266.7 92.4 274.9 93.1 283.2 93.7 291.4 94.5 299.7 95.6 307.9 97 316.2 98.7 324.4 100.7 332.7 103.2 341 105.8 349.2 108.8 357.5 112.2 365.7 115 374 117.1 382.2 118.9 390.5 119.9 398.7 120.5 407 120.8 L407 201.8 398.7 201.5 390.5 200.8 382.2 199.2 374 196.8 365.7 194.2 357.5 190.8 349.2 186.9 341 183.4 332.7 180.3 324.4 177.4 316.2 174.9 307.9 172.7 299.7 170.9 291.4 169.4 283.2 168.3 274.9 167.4 266.7 166.5 258.4 165.7 250.1 165 241.9 164 233.6 162.9 225.4 161.6 217.1 160.1 208.9 158.4 200.6 156.6 192.4 154.6 184.1 152.6 175.9 150.6 167.6 148.5 159.3 146.1 151.1 143.7 142.8 142.1 134.6 141.5 126.3 141 118.1 140.8 109.8 140.8 101.6 140.8 93.3 140.8 85 140.4 76.8 139.1 68.5 137.4 60.3 135.1 52 131.8 43.8 127.9 35.5 123.7 27.3 118.8 19 113.3Z"/>
<path class="lm" d="M19 76.2 27.1 81.1 35.1 85.5 43.2 89.3 51.3 92.7 59.3 95.8 67.4 98.1 75.5 99.9 83.6 101.4 91.6 102.5 99.7 103.1 107.8 103.5 115.8 103.9 123.9 104.4 132 104.9 140 105.5 148.1 106.8 156.2 108.9 164.2 111.3 172.3 113.3 180.4 115.3 188.5 117.2 196.5 119 204.6 120.8 212.7 122.4 220.7 123.9 228.8 125.3 236.9 126.6 244.9 127.6 253 128.4 261.1 129.2 269.1 130 277.2 130.7 285.3 131.5 293.4 132.4 301.4 133.8 309.5 135.5 317.6 137.4 325.6 139.7 333.7 142.3 341.8 145.2 349.8 148.4 357.9 151.9 366 154.9 374 157.1 382.1 159 390.2 160.5 398.2 161.5"/>
<path class="lf" d="M19 76.2 27.3 81.7 35.5 86.6 43.8 90.9 52 94.7 60.3 98.1 68.5 100.3 76.8 102.1 85 103.3 93.3 103.8 101.6 103.8 109.8 103.8 118.1 103.8 126.3 104 134.6 104.4 142.8 105.1 151.1 106.7 159.3 109.1 167.6 111.4 175.9 113.5 184.1 115.6 192.4 117.6 200.6 119.5 208.9 121.4 217.1 123 225.4 124.5 233.6 125.8 241.9 127 250.1 127.9 258.4 128.7 266.7 129.5 274.9 130.2 283.2 131 291.4 131.9 299.7 133.2 307.9 134.9 316.2 136.8 324.4 139.1 332.7 141.7 341 144.6 349.2 147.9 357.5 151.5 365.7 154.6 374 157 382.2 159 390.5 160.4 398.7 161 407 161.2"/>
<rect class="s" width="426" height="288"/>
<rect class="lg" x="309.8" y="8.3" width="108.6" height="50" rx="3.1"/>
<circle class="cf" cx="332.1" cy="21.4" r="4.17"/>
<circle class="cm" cx="332.1" cy="43.6" r="4.17"/>
<text class="t" x="360.4" y="25.7">female</text>
<text class="t" x="360.4" y="48.7">male</text>
<text class="tt" x="213" y="-8.3" text-anchor="middle">Fusiform Gyrus</text>
<text class="t" x="-13.6" y="19.1" text-anchor="end">0.008</text>
<text class="t" x="-13.6" y="57.1" text-anchor="end">0.007</text>
<text class="t" x="-13.6" y="95.1" text-anchor="end">0.006</text>
<text class="t" x="-13.6" y="133.1" text-anchor="end">0.005</text>
<text class="t" x="-13.6" y="171.1" text-anchor="end">0.004</text>
<text class="t" x="-13.6" y="209.1" text-anchor="end">0.003</text>
<text class="t" x="-13.6" y="247.1" text-anchor="end">0.002</text>
<text class="t" x="-13.6" y="285.1" text-anchor="end">0.001</text>
<text class="l" transform="translate(-67.3,144) rotate(-90) scale(1,1.09)" text-anchor="middle">GM volume (TIV-normalized)</text>
</g>
<g transform="translate(108,1042)">
<path class="g" d="M86.5 0V288M180.5 0V288M275.5 0V288M369.5 0V288M0 15.5H426M0 53.5H426M0 91.5H426M0 129.5H426M0 167.5H426M0 205.5H426M0 243.5H426M0 281.5H426"/>
<path class="f" d="M22 57 79 134 50 111 23 46 82 129 22 87 112 122 97 122 130 131 341 231 238 182 337 187 140 152 102 157 121 156 339 193 106 139 91 157 92 117 167 173 120 170 19 61 36 138 92 125 75 122 122 160 116 162 74 150 68 120 92 132 149 162 263 180 258 174 248 159 248 172 103 138 87 109 87 117 121 154 87 119 76 95 42 83 97 87 83 155 233 179 59 109 333 201 92 150 116 133 328 173 220 172 120 134 116 150 329 199 187 154 92 137 83 147 95 131 143 169"/>
<path class="m" d="M34 55 196 176 87 87 55 115 47 94 182 129 239 182 66 156 118 158 76 164 53 119 310 210 123 137 43 89 267 182 40 125 54 113 70 154 90 141 64 130 112 137 69 160 338 189 88 170 37 134 22 105 54 114 62 125 22 66 92 137 89 136 398 229 54 134 65 67 37 90 78 116 78 139 109 270 102 149 125 145 65 123 116 131 34 104 23 75 90 145 27 82 57 93 65 125 121 119 61 77 113 163 58 117 31 89 49 117 35 111 245 168 349 200 267 174 78 161 24 87 92 151 99 131 98 139 107 155 33 93 149 161 71 106"/>
<path class="f" d="M78 144 52 80 32 96 62 106 45 86 150 125 19 97 64 117 76 117 215 164 113 105 137 161 79 101 81 155 105 105 112 148 109 154 40 103 58 108 79 123 88 152 77 85 102 111 83 161 61 90 90 158 186 151 129 116 93 142 111 158 20 68 66 96 91 121 76 159 111 156 70 133 282 168 114 122 180 152 105 181 288 173 182 127 88 108 23 113 57 120 37 120 188 187 102 151 261 147 49 104 49 106 168 178 109 158 111 161 173 156 310 184 191 212 258 173 156 148 153 170 74 112 285 188 121 167"/>
<path class="m" d="M238 191 144 161 241 185 29 83 36 89 61 86 32 93 54 92 68 141 54 121 90 130 24 98 68 99 112 200 51 123 73 167 54 106 174 148 60 128 69 137 118 171 101 148 121 141 215 201 244 178 88 164 84 102 97 135 22 122 103 147 36 63 35 101 70 151 104 140 152 151 242 202 40 90 185 168 88 155 87 141 22 108 82 106 110 175 60 138 35 98 278 189 70 117 121 131 97 119 197 188 48 87 138 207 159 166 361 206 114 156 163 192 36 103 49 105 79 96 122 167 46 111 50 91"/>
<path class="f" d="M108 164 79 115 201 190 108 155 109 137 155 144 45 108 111 140 173 141 347 193 155 133 116 160 333 168 112 146 95 148 111 163 58 101 163 149 146 150 40 91 121 168 111 141 63 94 25 94 140 157 103 110 89 167 215 175 221 148 116 133 83 140 30 90 71 137 147 166 154 181 51 116 334 205 96 147 85 111 63 119 314 201 50 86 144 193 29 112 125 127 225 169 121 139 32 13 43 70 187 191 58 112 338 162 59 106 292 183 41 114"/>
<path class="m" d="M202 176 31 93 102 125 32 99 21 113 44 115 31 54 70 143 130 144 46 115 149 175 65 114 70 102 67 122 22 120 40 116 310 191 53 111 135 154 36 50 38 55 65 101 43 123 97 154 45 112 74 149 102 137 272 167 305 175 42 127 239 160 64 141 71 119 95 159 31 104 76 110 112 108 60 77 50 93 58 90 139 184 102 160 59 126 45 116 172 175 36 50 243 200 187 152 30 94 121 132 25 72 67 125 93 134 243 173 68 137 50 117 101 147 28 72 191 169 127 153 19 76 44 132 47 112 41 108 47 121 156 152 140 119 220 154 206 160 70 106"/>
<path class="f" d="M112 145 74 115 64 138 84 154 26 57 267 173 100 268 21 73 110 152 116 159 119 153 286 176 324 191 121 140 315 176 103 163 78 127 72 147 51 58 107 128 253 181 314 169 316 130 102 117 30 59 286 199 41 113 62 176 48 122 64 102 300 171 225 138 26 102 89 126 126 124 220 154 41 110 111 168 333 199 36 72 38 105 111 131 116 125 93 111 130 145 100 175 145 148 38 81 258 191 32 107 116 149 78 123"/>
<path class="m" d="M45 105 87 154 243 206 104 153 177 163 61 131 221 198 114 149 88 154 36 92 147 175 65 101 281 208 73 153 150 166 22 74 71 157 52 114 52 116 89 134 57 79 33 115 49 122 282 173 243 178 67 101 282 185 45 116 40 96 121 160 119 152 78 107 66 148 80 167 40 65 52 127 35 95 107 121 54 160 70 131 267 193 55 118 73 125 62 118 44 109 69 121 87 164 112 161 60 111 42 28 97 132 45 67 327 207 28 111 21 101 112 172 310 204 78 98 115 187 20 88 93 119 328 233 216 191 343 218 67 127 102 151 106 111 41 79 122 202 93 122 116 151 23 99 90 147"/>
<path class="f" d="M78 131 120 148 56 146 219 169 87 150 100 230 22 59 291 182 309 188 29 80 100 181 63 117 105 126 337 191 60 153 88 149 75 120 249 189 125 144 79 153 215 167 26 90 88 122 140 155 309 221 26 92 333 207 334 207 116 120 91 139 53 101 88 166 48 115 44 108 81 134 144 155 215 154 106 102 71 128 126 163 31 85 406 177 129 133 26 87 100 156 69 127 96 152 35 105 300 201 97 142 105 128 102 125 94 120 97 140"/>
<path class="m" d="M64 151 95 98 257 189 309 194 126 166 27 83 42 133 333 210 94 163 51 109 154 213 78 149 120 129 103 160 88 127 34 127 52 146 94 131 334 201 22 86 41 97 94 126 107 141 31 103 149 202 300 173 56 120 29 102 45 117 37 105 263 186 31 126 68 122 64 145 56 122 21 84 31 101 159 178 165 126 125 175 67 157 97 140 268 196 24 64 33 93 323 208 62 147 96 90 27 102 65 134 20 81 331 206 19 85 38 116 90 208 102 99 177 190 67 91 116 127 92 146 168 144 92 137 192 165 26 71 107 160 332 206 201 188 82 120 45 131 219 162 38 74"/>
<path class="f" d="M29 83 267 177 116 159 149 121 125 111 26 103 92 129 211 158 98 181 120 142 50 133 287 177 37 84 64 131 291 188 102 167 226 160 96 166 129 153 244 185 90 147 251 177 131 129 128 117 124 220 63 113 324 204 98 116 281 195 255 181 149 191 125 162 135 150 74 91 112 117 177 126 187 140 187 139 286 175 111 111 78 141 319 189 46 101 371 176 140 136 116 141 19 105 64 157 78 114 66 119 146 152 83 153 269 174 281 166 69 111 90 108 205 139"/>
<path class="m" d="M111 125 65 58 30 105 121 140 68 107 182 121 258 190 21 70 78 150 162 186 333 206 95 124 149 160 220 174 44 129 62 76 63 142 394 203 36 110 74 114 113 172 87 113 64 126 267 176 176 133 48 65 92 101 19 74 147 179 39 107 318 186 23 40 34 84 81 142 21 82 111 167 253 199 63 126 69 126 196 204 74 117 70 167 46 86 114 126 120 142 28 103 51 96 152 148 46 79 49 123 102 137 102 123 20 95 22 87 73 135 45 121 73 110 26 65 73 156 220 182 97 176 21 99 149 188 281 183 107 147 82 133 329 199 107 132"/>
<path class="f" d="M295 190 40 101 78 129 125 165 111 160 68 100 190 168 68 164 38 74 78 153 327 193 28 70 141 130 71 101 129 177 72 126 31 88 27 121 82 154 126 144 209 171 52 87 134 179 300 179 91 120 21 91 20 54 81 119 118 109 309 176 174 150 97 136 37 57 48 137 101 149 91 128 121 141 303 204 72 117 93 125 300 178 309 188 300 165 102 141 60 123 53 75 92 139 122 147 130 119 83 107 149 162 45 85 121 116 168 184 72 123 258 169 116 140 23 75 63 109 107 154 68 112 55 124 106 150 104 138 47 115 46 116 93 179 154 135"/>
<path class="m" d="M92 140 196 174 50 86 251 178 121 120 56 110 37 135 30 123 31 113 128 150 55 124 229 197 36 78 22 62 295 194 79 137 98 128 22 119 82 121 48 75 55 103 29 113 182 150 102 190 42 90 79 122 42 104 169 138 87 134 45 109 117 122 41 83 49 74 26 103 154 149 51 84 83 187 247 191 164 165 26 133 69 112 29 75 63 122 314 182 191 152 183 170 91 151 393 202 64 119 112 116 86 134 140 171 305 202 73 119 26 97 68 83 47 110"/>
<path class="f" d="M147 141 244 170 28 87 40 102 36 78 99 151 167 165 111 188 103 143 124 101 126 167 122 137 51 108 42 98 111 119 126 151 210 164 333 204 89 116 64 109 206 149 267 193 187 193 50 108 276 175 107 176 111 176 104 126 97 170 22 78 37 106 300 180 309 199 98 137 39 75 36 57 83 138 97 148 67 109 74 156 206 165 317 189 92 146 88 146 103 136 87 158 111 132 124 162 55 191 108 142 92 120 64 135 74 133 76 119 79 122 78 128 79 132 103 106 116 170 281 196"/>
<path class="m" d="M130 157 116 143 180 184 33 58 107 120 86 147 61 130 70 143 216 162 220 193 201 162 98 143 45 121 54 79 39 119 125 132 48 125 75 132 76 230 178 153 78 130 127 145 342 207 61 119 128 140 119 109 57 127 74 129 140 162 85 138 32 60 126 199 100 157 83 119 159 142 29 129 66 146 30 48 34 116 20 75 65 99 108 140 94 156 61 96 168 191 112 192 121 175 92 135 63 109 61 122 53 124 78 129 107 99 59 108 69 124 44 65 67 107 338 189 22 102 53 104 85 147 120 126 93 130 28 50 49 110"/>
<path class="f" d="M125 154 124 126 92 119 67 116 19 78 35 75 190 141 59 96 106 137 333 186 120 109 26 87 36 104 102 156 79 173 82 154 277 198 182 148 114 190 125 124 125 125 276 165 319 205 163 162 107 152 83 113 145 150 116 124 47 109 49 93 55 127 81 96 123 152 109 142 98 128 43 91 123 158 82 114 95 186 89 104 229 175 87 129 130 157 25 53 34 108 314 193 32 97 93 163 33 98 93 122 121 116 126 142 55 130 51 116 105 138 111 150 306 199 107 160 98 143 89 111 37 94 33 74 90 155 85 127"/>
<path class="m" d="M122 144 121 136 292 192 223 184 102 126 205 202 67 130 107 126 53 100 44 116 333 189 69 126 27 88 290 202 51 115 70 145 102 154 272 189 88 157 29 58 26 111 28 65 28 92 19 87 85 145 62 92 159 120 83 139 79 151 33 100 79 151 53 104 81 148 125 152 37 86 69 134 138 123 81 175 19 86 126 156 53 108 40 134 243 185 26 77 19 57 295 195 39 104 119 147 111 156 90 163 57 115 97 139 40 99 70 144 229 186 59 87 394 201 132 163 122 167 107 147 37 57"/>
<path class="f" d="M328 180 96 167 144 154 111 115 79 131 125 153 120 145 125 128 25 92 110 149 84 117 116 162 125 127 134 152 97 129 121 156 36 96 121 142 88 97 301 204 83 167 164 153 93 121 93 130 60 117 94 150 90 160 84 120 121 166 83 128 220 155 112 202 295 182 97 130 117 122 126 181 32 75 183 163 88 126 121 147 112 130 135 126 83 134 108 140 342 212 93 132 26 64 50 108 310 204 96 144 135 151 112 130 26 101 124 147 78 116 21 69 56 105 116 173 85 127 20 99 330 191 118 135 65 115 87 146 86 125 135 169"/>
<path class="m" d="M63 102 41 94 188 149 72 125 263 164 36 79 155 176 74 152 126 114 95 161 61 161 130 169 154 206 25 81 55 108 153 180 70 187 19 89 51 101 253 175 32 80 281 207 88 103 20 75 31 104 36 91 310 186 19 90 101 176 117 160 102 165 100 156 46 124 127 161 94 146 114 149 22 49 47 108 93 157 31 96 29 99 41 87 74 98 371 207 34 70 216 165 49 90 55 68 98 168 54 101 37 120 115 147 97 154 40 77 220 178 177 176 35 108 120 145 88 111"/>
<path class="f" d="M249 192 94 144 26 92 105 165 44 68 156 161 109 141 116 121 49 111 308 196 88 134 81 134 107 141 142 169 315 189 78 166 139 156 109 224 50 97 187 145 73 89 61 108 335 187 92 155 28 91 30 94 268 182 126 179 281 177 58 124 132 130 46 128 157 142 122 157 83 125 88 85 46 107 75 127 88 112 168 134 86 114 46 103 20 61 86 121 196 179 78 144 20 92 61 131 107 187 196 147 50 102 20 82 64 87 82 122 126 126 144 142 116 111 98 158 164 150"/>
<path class="m" d="M56 100 58 78 61 138 92 117 135 202 30 101 111 188 22 81 32 97 84 100 83 104 56 112 338 207 79 101 179 177 206 193 121 156 178 172 305 190 366 215 114 163 55 105 102 146 82 145 36 86 88 156 131 162 47 119 78 117 86 146 281 172 111 161 153 150 28 89 93 128 54 115 163 163 27 94 20 106 118 172 72 131 182 156 36 107 130 114 73 105 90 183 33 84 59 127 135 134 60 110 74 119 83 100 187 127 121 143 121 183 97 112 60 70 75 102 50 127 80 135 68 149 146 152 153 169 201 160 121 145 192 175"/>
<path class="f" d="M220 192 128 130 97 122 168 176 333 185 125 126 137 142 102 112 309 160 22 54 64 123 140 154 51 126 78 142 338 192 104 113 59 94 61 127 78 120 119 134 126 145 366 197 99 125 290 197 141 183 67 128 111 127 66 132 121 159 58 97 97 136 105 132 36 96 62 123 144 149 314 191 253 183 72 53 33 96 36 94 263 174 127 135 90 105 58 80 168 174 178 163 81 129 45 93"/>
<path class="m" d="M125 146 287 180 335 200 121 133 186 159 72 154 215 158 230 160 100 275 41 115 54 139 97 123 107 138 321 199 91 149 119 140 27 93 24 101 58 97 119 168 107 151 154 168 106 173 23 80 139 136 125 143 128 153 55 135 64 110 80 125 328 189 149 191 51 133 83 120 109 145 41 138 91 146 220 159 26 111 116 166 87 160 75 104 64 134 30 107 42 91 104 126 45 93 292 191 97 156 47 120 92 146 83 105 93 132 206 160 116 134 121 190 287 199 338 215 79 119 145 134 116 156 30 115 44 165 95 147 25 76 164 189 144 177 59 168 79 101 59 145 30 68 328 190 55 105 114 182 73 130 126 141 72 122"/>
<path class="f" d="M26 93 87 179 361 202 126 138 83 153 103 140 76 171 83 98 97 128 125 173 81 103 55 83 84 163 45 88 254 171 121 152 258 168 29 68 124 156 89 135 187 156 99 89 82 135 357 206 328 180 286 189 97 154 177 156 201 142 120 147 88 119 116 143 85 151 263 162 163 147 125 134 305 189 121 120 201 173 27 90 54 127 116 170 86 127 139 121 27 84 62 185 300 179 74 117 69 129 41 115 73 128 144 167 230 166"/>
<path class="m" d="M34 112 255 168 105 166 64 99 163 145 109 158 98 168 148 140 343 231 60 111 52 112 210 181 206 164 92 146 110 177 89 169 30 70 83 151 66 84 168 167 78 155 149 110 59 144 136 125 310 207 215 176 88 164 46 104 63 108 74 122 49 99 83 139 309 215 37 107 111 159 140 172 323 183 29 102 34 89 112 176 117 135 29 31 49 160 49 121 170 179 116 135 59 111 27 55 54 130 41 121 47 85 112 142 337 209 263 176 250 162 119 153 44 101 149 167 329 199 206 197 182 183 41 133 51 107 55 128 27 72 240 183 97 99 86 123 42 80 140 155 111 190 94 145"/>
<path class="f" d="M102 113 87 132 68 96 86 139 121 162 101 185 121 163 103 158 82 166 96 137 121 102 107 153 94 145 215 163 246 190 154 155 99 157 123 132 41 87 68 114 182 137 97 128 121 128 126 147 113 150 164 158 39 101 135 142 156 138 361 190 115 113 45 113 291 164 121 125 40 105 21 50 117 158 74 133 366 181 107 142 105 127 143 159 161 175 121 128 304 202 24 101 54 105 29 39 20 92 89 127 26 86 97 120 291 163 43 86 33 115 40 109 90 140 253 149 93 125 87 112"/>
<path class="m" d="M71 110 60 114 59 113 72 108 21 61 239 187 82 111 22 72 85 151 36 122 49 145 31 116 88 119 22 100 57 158 95 166 67 114 127 197 91 148 116 178 53 103 129 128 337 208 83 147 26 100 101 119 156 165 286 191 315 176 127 109 99 130 40 103 106 112 78 134 253 177 286 191 96 153 78 93 52 79 69 113 35 108 295 176 46 98 107 171 66 123 71 107 282 164 43 106 360 193 73 126 121 157 102 119 114 193 31 99 34 97 73 120 58 113 310 207 43 80 54 87 32 115 29 113 61 88 120 132 29 73"/>
<path class="f" d="M88 95 72 141 154 157 27 40 158 153 116 174 116 161 135 163 131 149 128 103 144 154 304 189 146 167 102 126 234 164 322 182 83 91 332 172 77 145 64 105 55 89 83 147 360 186 121 152 196 141 370 180 206 153 324 195 324 196 102 134 78 115 111 172 117 145 238 155 95 145 123 129 94 120 89 148 123 171 134 170 91 144 105 159 70 129 149 143 297 197 261 180 37 72 125 163 125 144 133 138 109 165 113 142 93 168 74 69 93 170 356 195 154 131 366 183 31 76 201 148 138 181 88 137 257 168 315 178 92 142 75 137"/>
<path class="m" d="M157 162 114 155 58 122 56 138 229 175 126 128 42 98 135 153 35 125 60 135 28 87 121 140 53 148 20 59 56 96 210 212 132 173 121 165 36 49 73 122 151 118 24 96 64 114 318 187 121 182 93 164 40 117 121 131 191 162 111 162 153 164 22 115 102 102 26 63 83 113 63 86 83 123 97 159 74 132 29 99 45 101 247 184 28 80 282 204 127 187 69 130 97 161 22 71 51 130 22 66 257 185 120 180 188 163 53 61 30 87 20 137 68 142 295 213 70 144"/>
<path class="f" d="M66 111 93 129 101 160 215 182 65 121 172 116 70 122 36 82 96 112 50 98 61 118 59 121 105 86 93 166 121 130 159 161 191 172 116 169 123 166 83 171 118 129 79 145 31 106 39 78 97 166 33 72 90 134 54 134 118 148 123 164 88 121 105 140 71 126 88 115 102 119 68 122 103 160 121 144 97 145 107 118 78 96 41 94 74 110 216 163 62 111 49 105 121 160 126 138"/>
<path class="m" d="M239 165 337 190 79 101 339 202 47 90 41 112 113 104 339 201 21 69 249 184 230 201 106 167 82 100 283 196 68 150 88 148 41 123 60 111 31 87 214 178 135 148 104 168 83 120 114 127 26 90 67 131 92 140 214 157 122 139 143 166 22 61 282 191 27 53 58 122 139 164 30 91 90 232 121 124 83 132 78 116 29 65 47 127 47 94 59 75 99 132 79 123 19 106 120 162 63 78 20 125 23 83 140 158 116 159 40 123 28 96 149 179 58 109 312 211 42 103 145 138 111 150 64 138 97 98 187 174 126 163 72 146 41 122 33 94 21 61 170 181 73 129 26 94 111 143 43 85 43 99 64 101 146 118"/>
<path class="f" d="M89 115 83 125 55 133 345 213 97 114 99 112 76 155 347 189 52 114 29 86 93 174 107 131 70 97 333 178 78 159 124 181 88 113 64 119 234 167 102 156 78 91 248 175 96 137 87 149 69 121 97 175 111 130 128 169 107 125 55 96 73 118 88 118 107 122 144 131 124 174 169 151 83 134 107 165 329 178 21 90 126 139 52 86 43 120 180 172 328 217 124 139 272 197 111 145 107 122 78 94 119 132"/>
<path class="m" d="M61 114 50 134 43 101 62 129 92 136 58 109 74 157 147 140 23 86 69 142 191 146 118 136 124 177 62 120 34 101 43 116 54 126 149 129 34 56 50 99 135 167 69 146 69 132 50 107 107 149 88 143 177 162 61 149 262 195 239 150 32 54 47 98 26 69 26 86 116 130 182 174 23 69 150 126 31 66 59 114 30 105 44 100 183 190 33 80 57 132 127 162 43 121 35 101 319 191 74 156 49 112 55 113 216 179 21 88 24 80 75 126 112 156 75 138 70 133 93 167 20 57 286 155 84 141 88 146 59 130 55 155 31 105 25 104 56 158 85 168 41 38 93 136 83 140 328 197"/>
<path class="f" d="M23 78 78 140 100 135 70 94 56 117 125 120 168 141 47 116 51 89 27 54 76 148 135 147 111 135 140 137 144 183 35 101 127 127 124 125 81 99 168 156 56 81 63 126 378 188 98 105 255 184 163 137 75 86 79 128 45 97 324 191 88 144 55 124 156 142 181 144 92 146 141 158 78 111 314 212 135 145 110 183 106 95 90 139 97 125 93 140 315 199 125 128 121 86 22 85 83 155 91 124 61 99 126 145 22 74 309 175 78 145 154 165 79 128 92 130 154 118 139 155 99 170 44 109 300 187 126 133 81 115 130 119 187 149 220 167"/>
<path class="m" d="M59 126 126 118 64 115 29 67 56 88 324 175 53 139 97 106 122 122 37 123 116 159 182 173 95 158 239 171 25 85 342 198 211 207 30 130 300 170 159 117 24 86 116 164 70 129 83 104 135 134 134 160 150 154 105 155 41 138 31 93 239 183 102 167 71 131 130 136 206 176 90 152 54 81 29 134 154 180 138 179 85 140 333 199 74 118 31 96 88 139 220 184 111 134 55 137 88 159 59 110 78 94 38 76 116 160 78 122 73 132 93 119 22 104"/>
<path class="f" d="M79 121 99 93 88 138 51 112 57 102 138 155 309 219 90 129 179 133 296 167 133 138 107 147 243 177 191 166 197 181 58 123 112 119 135 190 89 130 262 173 69 148 54 109 95 112 118 133 22 73 37 103 93 129 385 205 139 163 144 148 87 166 22 69 145 153 130 157 57 152 192 163 61 93 56 118 121 140 59 95 206 163 88 123 51 120 97 124 98 132 26 96 28 68 145 170 83 133"/>
<path class="m" d="M88 148 88 140 27 108 290 161 86 146 83 131 112 126 289 182 267 189 45 124 54 131 92 111 234 155 139 123 334 217 46 132 35 116 300 190 95 154 24 30 79 117 88 111 26 26 34 93 66 99 88 132 96 137 36 83 92 190 56 122 78 107 61 147 394 212 101 202 177 157 60 118 33 101 45 85 111 139 144 152 191 169 230 179 51 128 45 120 42 117 168 158 143 163 329 180 102 153 121 162 90 155 47 112 146 142 73 99 71 124 45 81 215 177 83 124 35 98 26 90 55 83 154 133 139 113 33 87 89 161 20 81 128 132 41 129 61 74 61 117 72 129 149 162 56 123 49 92 33 90 44 121"/>
<path class="f" d="M107 133 78 131 78 157 103 175 360 224 47 93 111 124 112 147 121 165 149 147 224 137 91 137 60 108 120 170 97 164 40 89 168 124 101 155 87 150 97 148 291 190 50 92 133 169 74 104 27 91 79 131 149 147 64 92 23 106 263 185 88 153 132 163 54 106 116 133 121 149 93 159 107 161 29 89 76 135 112 176 63 124 102 142 239 163 121 131 76 67 109 127 127 127 74 141 111 152 111 176 117 167 282 182 72 137 92 122 124 130 24 18 107 131 83 137 79 122 126 158 234 156 31 98"/>
<path class="m" d="M133 176 103 96 163 153 52 146 329 206 64 144 178 162 40 90 210 155 206 193 50 87 78 167 28 109 172 156 151 123 295 201 51 97 21 44 330 194 108 142 97 129 33 70 59 112 287 202 24 55 191 179 117 166 338 205 61 96 78 163 36 98 74 119 45 114 33 102 19 77 192 190 83 135 142 155 171 179 36 110 54 128 69 78 79 125 26 79 200 161 149 134 66 127 27 81 41 104 49 102 156 167 27 114 88 104 86 130 126 183 72 131 122 165 100 205 121 143 52 100 43 80 46 105 26 150"/>
<path class="f" d="M19 83 107 137 31 68 97 148 92 154 111 157 229 154 81 119 62 64 97 139 267 164 99 96 126 118 116 138 83 117 183 157 362 187 78 115 61 94 92 151 102 100 89 122 329 184 248 184 34 92 101 173 158 181 37 105 113 151 119 155 28 97 93 106 152 233 64 114 141 150 45 106 38 107 347 201 102 155 119 173 111 103 24 89 47 113 167 161 39 22 257 168 97 128 33 113 333 184 42 89 44 101 67 141 74 106 111 144 140 145 91 139 121 105 380 187 285 157 107 144 87 129"/>
<path class="m" d="M83 173 131 127 70 118 259 181 42 136 48 71 97 142 74 147 295 205 108 161 55 116 36 139 63 140 35 99 156 158 39 79 329 216 59 124 41 112 28 87 328 161 23 57 146 135 40 76 72 108 36 105 56 82 50 96 64 113 64 107 78 125 52 83 60 152 92 140 182 170 231 159 87 149 149 128 106 134 130 180 97 149 56 122 180 154 44 91 25 88 44 78 116 140 88 158 87 102 191 178 25 50 156 156 71 113 39 102 74 99 291 183 95 108 183 132 150 135 295 176 68 113 117 185 97 120 176 214"/>
<path class="f" d="M102 120 126 119 314 163 125 141 21 116 116 115 343 176 206 159 310 191 20 105 351 178 122 125 88 114 102 135 102 140 106 108 27 101 361 177 238 144 267 186 299 181 57 109 92 151 186 146 97 137 334 187 96 116 302 183 36 134 48 103 69 172 243 172 244 205 338 184 327 197 87 136 107 185 37 85 71 129 77 127 69 127 46 117 310 186 72 130 30 138 79 134 45 111 154 174 178 128 93 158 32 111 77 106 119 158 110 141 50 122 126 163"/>
<path class="m" d="M34 68 130 173 45 111 86 96 38 73 89 152 43 131 145 179 54 98 20 57 72 135 63 99 262 203 97 117 106 93 289 173 124 137 31 94 31 91 37 79 22 50 126 117 111 166 125 164 47 105 38 103 52 120 149 157 392 205 114 215 115 128 63 130 64 145 24 124 213 185 61 84 248 204 55 144 88 134 36 116 43 129 72 107 68 142 69 147 111 111 45 113 48 81 66 105 89 143 49 83 314 190 64 101 85 188 93 130 148 192 50 144 43 86 119 155 74 139 79 115 200 170 92 106 131 159 107 150 366 192 69 129 40 80 317 226 332 234"/>
<path class="b" d="M19 24.4 27.1 31.5 35.1 38.5 43.2 45.4 51.3 52.3 59.3 59.1 67.4 65.4 75.5 71.3 83.6 76.8 91.6 81.7 99.7 86 107.8 89.8 115.8 93.2 123.9 96 132 98.4 140 100.6 148.1 102.6 156.2 104.5 164.2 106.3 172.3 108 180.4 109.6 188.5 111.2 196.5 112.8 204.6 114.4 212.7 116 220.7 117.6 228.8 119.2 236.9 120.8 244.9 122.5 253 124.1 261.1 125.7 269.1 127.3 277.2 128.9 285.3 130.5 293.4 132 301.4 133.6 309.5 135.2 317.6 136.7 325.6 138.1 333.7 139.4 341.8 140.6 349.8 141.8 357.9 142.9 366 143.6 374 144.1 382.1 144.4 390.2 144.7 398.2 145 L398.2 260.5 390.2 260.2 382.1 259.7 374 259.3 366 258.7 357.9 257.8 349.8 256.6 341.8 255.3 333.7 254 325.6 252.5 317.6 251 309.5 249.4 301.4 247.7 293.4 246 285.3 244.4 277.2 242.7 269.1 241.1 261.1 239.4 253 237.8 244.9 236.2 236.9 234.6 228.8 233 220.7 231.4 212.7 229.8 204.6 228.2 196.5 226.5 188.5 224.9 180.4 223.4 172.3 221.7 164.2 220 156.2 218.3 148.1 216.4 140 214.4 132 212.2 123.9 209.7 115.8 206.9 107.8 203.6 99.7 199.7 91.6 195.4 83.6 190.5 75.5 185.1 67.4 179.2 59.3 172.9 51.3 166.1 43.2 159.2 35.1 152.3 27.1 145.3 19 138.1Z"/>
<path class="b" d="M19 29.3 27.3 36.3 35.5 43.2 43.8 50 52 56.9 60.3 63.6 68.5 69.6 76.8 74.8 85 79.6 93.3 83.6 101.6 87 109.8 90 118.1 92.6 126.3 94.8 134.6 96.8 142.8 98.7 151.1 100.6 159.3 102.4 167.6 104.2 175.9 106.1 184.1 108 192.4 109.9 200.6 111.8 208.9 113.7 217.1 115.6 225.4 117.4 233.6 119.2 241.9 121 250.1 122.8 258.4 124.6 266.7 126.5 274.9 128.3 283.2 130.2 291.4 132.1 299.7 133.8 307.9 135.4 316.2 136.9 324.4 138.3 332.7 139.6 341 140.6 349.2 141.1 357.5 141.5 365.7 141.7 374 141.4 382.2 140.5 390.5 139.2 398.7 137.5 407 134.8 L407 239.3 398.7 242 390.5 243.7 382.2 244.8 374 245.6 365.7 245.8 357.5 245.5 349.2 244.9 341 244.3 332.7 243.2 324.4 241.8 316.2 240.3 307.9 238.7 299.7 237 291.4 235.2 283.2 233.3 274.9 231.3 266.7 229.4 258.4 227.6 250.1 225.8 241.9 223.9 233.6 222.1 225.4 220.3 217.1 218.5 208.9 216.6 200.6 214.7 192.4 212.8 184.1 210.9 175.9 209 167.6 207.1 159.3 205.3 151.1 203.5 142.8 201.7 134.6 199.7 126.3 197.8 118.1 195.5 109.8 192.9 101.6 190 93.3 186.5 85 182.5 76.8 177.8 68.5 172.5 60.3 166.6 52 159.9 43.8 152.9 35.5 146.1 27.3 139.2 19 132.2Z"/>
<path class="lm" d="M19 81.2 27.1 88.4 35.1 95.4 43.2 102.3 51.3 109.2 59.3 116 67.4 122.3 75.5 128.2 83.6 133.7 91.6 138.5 99.7 142.8 107.8 146.7 115.8 150.1 123.9 152.9 132 155.3 140 157.5 148.1 159.5 156.2 161.4 164.2 163.2 172.3 164.9 180.4 166.5 188.5 168 196.5 169.7 204.6 171.3 212.7 172.9 220.7 174.5 228.8 176.1 236.9 177.7 244.9 179.3 253 181 261.1 182.6 269.1 184.2 277.2 185.8 285.3 187.4 293.4 189 301.4 190.7 309.5 192.3 317.6 193.9 325.6 195.3 333.7 196.7 341.8 198 349.8 199.2 357.9 200.3 366 201.2 374 201.7 382.1 202.1 390.2 202.4 398.2 202.8"/>
<path class="lf" d="M19 80.8 27.3 87.8 35.5 94.7 43.8 101.5 52 108.4 60.3 115.1 68.5 121 76.8 126.3 85 131.1 93.3 135.1 101.6 138.5 109.8 141.5 118.1 144.1 126.3 146.3 134.6 148.3 142.8 150.2 151.1 152 159.3 153.8 167.6 155.6 175.9 157.5 184.1 159.4 192.4 161.3 200.6 163.2 208.9 165.1 217.1 167 225.4 168.9 233.6 170.7 241.9 172.5 250.1 174.3 258.4 176.1 266.7 177.9 274.9 179.8 283.2 181.8 291.4 183.6 299.7 185.4 307.9 187.1 316.2 188.6 324.4 190.1 332.7 191.4 341 192.4 349.2 193 357.5 193.5 365.7 193.7 374 193.5 382.2 192.7 390.5 191.5 398.7 189.7 407 187"/>
<rect class="s" width="426" height="288"/>
<rect class="lg" x="309.8" y="8.3" width="108.6" height="50" rx="3.1"/>
<circle class="cf" cx="332.1" cy="21.4" r="4.17"/>
<circle class="cm" cx="332.1" cy="43.6" r="4.17"/>
<text class="t" x="360.4" y="25.7">female</text>
<text class="t" x="360.4" y="48.7">male</text>
<text class="tt" x="213" y="-8.3" text-anchor="middle">Middle Frontal Gyrus</text>
<text class="t" x="-13.6" y="21.1" text-anchor="end">0.020</text>
<text class="t" x="-13.6" y="59.1" text-anchor="end">0.018</text>
<text class="t" x="-13.6" y="97.1" text-anchor="end">0.016</text>
<text class="t" x="-13.6" y="135.1" text-anchor="end">0.014</text>
<text class="t" x="-13.6" y="173.1" text-anchor="end">0.012</text>
<text class="t" x="-13.6" y="211.1" text-anchor="end">0.010</text>
<text class="t" x="-13.6" y="249.1" text-anchor="end">0.008</text>
<text class="t" x="-13.6" y="287.1" text-anchor="end">0.006</text>
<text class="l" transform="translate(-67.3,144) rotate(-90) scale(1,1.09)" text-anchor="middle">GM volume (TIV-normalized)</text>
<text class="t" x="85.2" y="312.6" text-anchor="middle">20</text>
<text class="t" x="179.2" y="312.6" text-anchor="middle">40</text>
<text class="t" x="274.2" y="312.6" text-anchor="middle">60</text>
<text class="t" x="368.2" y="312.6" text-anchor="middle">80</text>
<text class="l" x="213" y="335.6" text-anchor="middle">Age</text>
</g>
<g transform="translate(642,1042)">
<path class="g" d="M86.5 0V288M180.5 0V288M275.5 0V288M369.5 0V288M0 6.5H426M0 47.5H426M0 88.5H426M0 129.5H426M0 169.5H426M0 210.5H426M0 251.5H426"/>
<path class="f" d="M76 133 385 202 138 175 85 125 101 167 57 132 145 142 305 187 125 90 263 177 21 56 22 61 81 141 31 112 88 82 158 137 41 127 97 61 103 131 126 143 90 122 121 84 56 60 118 135 61 113 68 122 22 106 81 145 106 114 146 180 119 162 128 143 378 221 70 150 62 86 117 145 330 198 116 136 40 149 324 185 196 185 111 86 263 172 47 101 21 106 102 144 192 163 78 131 119 95 108 129 351 197 26 84 29 93"/>
<path class="m" d="M295 156 73 139 56 93 101 61 135 156 88 118 68 143 72 135 31 146 201 191 38 74 55 122 82 221 60 148 35 106 220 182 20 110 21 94 230 177 154 122 140 151 72 163 120 188 93 128 118 172 68 161 67 131 191 165 83 108 58 110 33 19 22 70 107 120 48 102 103 137 116 203 68 130 44 117 31 129 122 155 156 140 104 187 27 70 119 129 163 124 200 233 70 153 22 45 102 159 162 192 214 206 88 91 24 59 29 132 213 195 68 114 272 238 97 184 51 153 112 123 71 120 121 187 30 113 52 135 192 174 206 148 29 102 63 60 150 164 83 132 33 104 394 222 78 168"/>
<path class="f" d="M55 146 310 172 244 172 78 110 23 87 111 77 116 119 178 138 26 97 182 175 117 71 41 118 74 84 23 68 107 157 110 178 120 176 70 135 111 170 327 208 238 166 144 170 45 102 125 135 119 149 108 192 69 119 335 199 87 89 125 93 123 184 71 119 88 121 78 153 64 149 103 77 92 163 191 208 187 141 40 95 340 137 180 133 203 121 22 113 116 135 41 95 107 108 114 152 54 146 111 140 143 172 44 143 297 210 126 140 65 170"/>
<path class="m" d="M51 130 87 175 81 132 168 131 34 94 187 147 27 165 78 156 66 122 90 142 71 169 51 143 97 169 83 144 182 156 392 203 65 156 60 78 138 149 20 120 19 78 49 97 331 201 64 127 29 97 149 177 102 132 120 136 42 77 33 87 122 180 139 131 287 187 33 133 108 163 50 72 95 150 90 131 30 119 92 151 82 133 54 72 116 162 54 83 59 56 329 161 87 88 182 182 30 89 75 188 93 132 112 160 33 129 79 114 282 207 41 136 216 196 27 116 22 56 56 183 92 195 30 117 111 204 73 133 97 132 102 180 196 183 107 138 103 197 113 143 23 107"/>
<path class="f" d="M277 174 91 94 26 114 96 233 103 107 116 163 128 96 86 99 121 183 111 176 210 220 82 167 111 161 79 123 56 117 126 138 324 195 246 211 26 123 187 150 90 93 304 189 92 115 36 99 40 167 51 127 140 110 109 184 90 126 230 167 96 99 317 137 36 122 102 126 132 132 290 170 88 133 107 172 96 144 309 217 93 144 46 104 125 120 96 128 72 98 92 127 105 147 88 101 103 130 88 133 48 90 186 149 93 177 87 107 303 173 44 120 111 132 123 127 89 103 121 167 105 144"/>
<path class="m" d="M37 77 36 102 31 116 22 130 28 100 31 101 125 126 109 244 239 201 74 100 286 186 309 203 67 128 139 203 25 105 73 170 24 114 39 119 241 202 148 168 31 123 107 120 41 119 196 165 95 171 229 141 25 65 97 165 22 74 26 115 333 211 64 114 97 98 96 98 149 188 125 153 41 93 83 160 176 173 102 119 67 190 360 224 55 180 91 144 21 76 55 117 49 107 74 124 63 162 29 102 121 97 28 96 178 217 93 142 25 87 70 100 202 169 21 130 31 93 59 92 75 150 50 125 59 133 60 101 111 192"/>
<path class="f" d="M81 125 37 155 107 157 79 102 201 174 72 126 88 171 187 181 109 145 143 121 28 64 62 132 42 127 114 223 126 125 123 161 32 87 34 61 88 117 43 57 137 140 33 107 121 111 255 179 107 136 301 165 64 173 116 152 131 100 129 143 261 208 97 118 253 153 61 104 90 140 90 91 89 163 99 107 334 201 105 137 93 190 130 149 343 207 221 116 88 192 309 175 98 108 257 175 238 210 83 117 328 191 140 94 128 81 286 193 116 98"/>
<path class="m" d="M335 193 72 105 56 146 102 159 106 180 44 79 92 153 63 90 43 127 121 150 38 91 36 117 147 138 31 70 121 165 253 175 127 176 60 101 145 165 22 83 338 199 42 88 36 74 63 104 263 203 182 186 70 104 53 153 57 131 46 108 65 141 268 209 69 146 287 201 342 196 115 119 74 181 132 128 150 136 22 73 41 126 63 88 56 89 64 114 349 223 52 109 72 136 78 198 130 83 68 112 192 171 70 118 31 57 43 66 177 184 281 216 88 91 231 193 45 118 30 101 126 234 278 212 66 92 125 176 54 169 263 157 22 70 50 69 116 100 32 79 42 129"/>
<path class="f" d="M42 86 55 108 59 104 234 209 168 175 92 156 90 212 201 182 145 163 155 139 107 151 26 82 263 184 87 110 333 208 111 112 105 162 23 135 71 105 116 120 102 139 82 106 116 119 268 198 116 83 121 169 92 121 65 93 76 111 27 86 135 194 92 124 73 111 83 140 129 169 26 46 97 183 50 142 249 163 61 93 23 56 92 135 97 132 315 168 77 153 87 114 140 158 168 158 117 106 327 175 135 147 156 139 182 148 22 56 33 95 33 116 308 213 281 186 153 141 183 131 74 106"/>
<path class="m" d="M34 118 79 103 172 186 201 251 44 58 95 112 35 72 52 119 35 83 67 124 64 132 79 170 55 103 61 146 134 136 168 177 23 104 116 173 131 83 67 129 25 128 229 206 65 111 111 149 201 139 63 126 51 71 44 132 180 178 91 187 54 149 55 133 121 139 28 93 61 110 20 114 79 144 52 97 89 141 69 168 65 144 46 138 20 48 35 97 111 205 50 127 106 169 310 211 121 179 95 112 22 105 36 119 309 201 94 166 128 214 84 109 70 121 319 177 128 192 121 134 91 159 19 81 49 137 35 175 135 161"/>
<path class="f" d="M154 142 36 77 59 102 288 209 337 200 71 168 291 187 205 121 116 137 38 96 69 115 88 192 273 239 109 123 310 170 49 122 37 72 78 73 300 202 100 148 129 154 155 118 333 188 310 182 159 154 178 144 70 154 76 121 37 118 121 138 46 106 43 102 105 132 112 126 248 124 127 98 324 207 46 106 88 159 97 104 93 164 78 128 380 196 234 139 121 108 168 198 187 172 329 201 78 101 112 139 89 111 93 91 41 112 19 111 50 120 78 75 107 219 46 77 82 116 28 125 111 187 74 144 34 182 88 135 89 126 83 88 111 74"/>
<path class="m" d="M239 172 206 204 54 144 58 103 93 178 24 76 23 72 171 140 154 198 116 232 114 188 36 60 36 110 41 133 60 128 54 135 97 58 333 187 143 178 159 186 69 100 97 177 83 102 106 216 78 83 216 180 47 92 338 235 93 134 78 92 26 85 30 110 80 117 36 79 69 110 73 127 56 103 104 137 59 101 97 165 79 217 70 146 119 178 29 97 27 74 88 115 64 198 56 136 153 200 220 156 216 193 121 124 143 174 101 172 31 78 40 116 98 70 334 180 200 158"/>
<path class="f" d="M29 115 69 111 27 97 28 73 91 107 333 198 116 126 51 116 139 163 257 184 29 116 329 190 121 132 36 137 58 70 304 169 83 119 106 99 63 95 124 146 269 191 272 156 149 128 97 132 134 131 125 144 19 77 88 123 96 135 31 104 57 142 239 177 39 94 366 223 98 138 116 142 123 162 263 164 97 159 83 66 141 176 94 117 29 87 111 142 150 202 45 111 107 177 93 105 27 126 123 163 262 175 103 145 64 150 132 116 295 187 267 231 43 136 225 182 121 97"/>
<path class="m" d="M51 160 47 153 230 193 97 138 310 187 86 136 59 151 44 95 46 97 24 122 49 122 54 126 78 85 102 192 112 131 19 79 22 115 159 117 70 152 32 115 44 95 239 180 90 166 29 136 281 186 83 172 177 169 105 148 92 149 71 122 50 130 149 143 34 94 88 143 146 155 26 112 63 88 73 156 35 88 48 143 126 144 286 175 54 118 206 190 86 158 74 80 31 107 37 52 41 81 43 83 29 162 62 156 177 192 83 160 22 52 62 90 67 136 165 117 107 191 49 79 90 141 76 152 121 232 67 85 93 196 47 86"/>
<path class="f" d="M99 114 77 109 19 103 120 126 64 103 50 112 119 208 47 134 79 88 90 219 123 139 139 182 37 68 126 171 286 168 144 159 310 201 371 216 101 123 141 139 88 142 129 109 88 129 116 191 30 70 196 203 128 185 121 145 122 123 126 166 99 130 107 51 145 153 254 156 206 162 126 167 93 144 33 122 149 185 102 159 74 132 28 111 83 135 44 178 70 147 140 148 220 201 187 146 78 118 286 176 59 154 27 134 97 161 125 111"/>
<path class="m" d="M21 113 78 101 21 56 121 153 67 115 59 133 21 127 119 149 50 157 69 108 64 141 66 141 127 184 300 179 101 127 244 190 238 180 263 167 117 140 324 209 112 138 78 195 20 73 328 201 96 144 40 120 259 195 68 119 83 121 42 115 70 94 49 136 31 102 179 192 86 73 22 140 22 22 64 157 48 144 45 132 64 115 73 121 32 79 92 101 97 147 70 82 135 169 337 226 31 67 329 223 85 115 126 146 116 164 69 153 282 198 119 175 64 107 64 125 64 72 90 137 102 190 206 204 142 207 76 91 125 224 26 68 124 68 239 182 56 134 33 97 83 165"/>
<path class="f" d="M50 150 88 122 92 189 333 203 93 132 101 165 154 167 61 110 117 148 361 194 141 164 20 109 97 116 181 179 109 147 85 205 339 185 291 184 135 107 116 165 111 173 98 165 111 130 43 109 94 153 309 220 50 115 83 126 38 98 121 137 177 144 97 77 173 135 64 114 154 156 24 64 102 188 126 110 47 94 71 122 134 184 314 212 61 101 105 169 90 165 360 238 55 173 98 133 31 92 93 134 112 97 81 114 48 174 334 222 57 145 37 119 206 166 84 95 314 181"/>
<path class="m" d="M221 166 59 134 91 87 38 99 36 84 243 171 305 179 33 112 36 113 60 141 87 164 51 96 66 89 267 209 329 213 29 91 257 162 102 161 133 193 32 118 66 87 49 142 339 210 116 189 27 85 168 126 45 70 82 170 106 124 196 229 102 142 69 82 40 111 55 87 92 112 59 102 127 203 72 128 78 131 41 86 210 176 191 178 107 88 26 126 120 118 46 105 191 221 40 128 37 117 333 202 34 121 250 200 23 94 56 118 42 186 72 140 45 137 24 93 90 125 295 202 19 66 64 105 36 114 74 93 107 135 314 175"/>
<path class="f" d="M121 148 89 125 27 122 251 194 119 190 124 136 50 169 370 177 82 123 92 97 276 168 97 147 126 117 78 85 79 188 333 202 101 143 130 143 120 151 149 154 90 168 97 144 34 109 105 107 201 186 102 226 24 50 149 116 164 116 63 79 57 116 267 171 215 169 121 120 93 96 99 146 28 113 130 159 121 176 319 224 125 182 93 134 86 157 21 59 121 134 75 57 74 121 302 202 156 162 116 146 107 155 75 82 22 45"/>
<path class="m" d="M282 199 37 96 122 144 60 136 55 139 57 118 98 169 156 172 30 144 59 96 92 126 72 128 131 188 89 127 99 130 93 144 146 204 107 147 21 104 126 164 107 153 97 139 93 137 97 175 27 143 99 174 115 155 174 190 172 187 385 190 177 161 106 173 149 222 26 48 178 182 215 187 192 116 66 145 57 136 62 84 31 146 121 145 74 122 87 187 65 131 138 195 97 151 394 197 314 194 116 176 135 173 50 111 54 137 116 124 119 166 40 94 57 153 223 196 22 96 338 195 138 107 58 112 34 105 127 178 56 45 300 181 73 102 81 214 72 131 92 140 102 170 47 114"/>
<path class="f" d="M361 225 78 73 248 143 121 135 58 127 85 134 309 208 51 108 92 98 84 135 81 93 93 132 309 156 22 97 118 149 31 86 220 166 282 193 67 129 314 185 55 116 139 182 67 134 62 123 40 105 356 217 112 161 88 95 309 197 142 176 77 86 220 186 97 143 102 93 317 172 281 197 22 82 179 158 78 107 125 200 87 97 66 140 133 174 281 157 292 178 87 144 87 178 106 132 99 95 83 141 95 123 116 95 135 169 338 221 83 152"/>
<path class="m" d="M27 144 80 126 19 87 74 160 33 128 36 67 45 140 65 102 70 120 75 192 52 196 42 112 20 44 379 243 75 115 73 87 28 109 53 138 114 174 149 158 94 186 68 105 92 190 182 161 310 245 131 218 28 108 242 189 111 159 89 185 52 109 291 184 44 116 361 198 43 135 19 96 23 63 42 143 66 126 88 170 255 190 26 106 84 157 182 171 59 84 24 95 111 188 114 99 29 55 52 153 49 129 149 186 55 118 251 186 64 130 144 171 79 160 22 168 112 214 95 168 30 63 43 112 60 121 50 105 60 135 111 135 43 125 290 211 72 202 154 183"/>
<path class="f" d="M64 129 111 143 300 198 36 70 92 87 111 215 361 209 78 104 39 159 215 163 107 99 103 152 63 122 113 174 140 91 118 131 107 200 285 167 81 116 81 90 94 122 30 132 168 173 126 118 215 144 32 119 286 200 78 177 345 218 58 115 309 216 107 130 187 186 215 138 56 128 125 76 314 199 243 196 121 133 89 95 220 188 147 127 89 156 78 144 91 190 20 109 81 130"/>
<path class="m" d="M86 113 41 85 305 173 83 153 30 126 47 97 28 108 186 153 159 125 98 131 176 183 40 154 113 169 30 101 45 90 157 209 180 151 35 97 239 183 67 95 32 63 93 156 29 125 121 150 73 105 37 149 41 121 55 108 61 148 214 186 34 137 54 109 71 160 74 90 92 193 107 139 114 180 305 188 59 95 99 195 74 131 43 68 40 142 117 68 343 209 88 74 118 155 135 236 83 146 100 208 183 179 42 107 92 104 200 134 310 173 53 150 33 109 70 95 117 120 257 188 78 117 34 96 150 171 59 118 122 115 63 157 27 124 107 101 149 243 262 194 78 95 321 195 30 77 20 70 97 171 22 116 61 138 68 101"/>
<path class="f" d="M36 81 126 167 86 143 95 135 47 59 46 140 137 120 206 163 126 187 76 146 22 84 93 146 82 66 163 154 68 158 300 173 130 120 334 178 130 98 35 121 74 115 145 145 291 176 332 208 328 177 45 127 234 224 154 172 224 185 78 110 187 195 121 94 84 119 116 164 36 139 78 113 201 161 45 97 125 228 119 175 85 189 362 212 91 116 112 123 144 110 92 159 126 128 174 200 329 206 58 144 295 192 116 128 116 132 30 75 37 84"/>
<path class="m" d="M168 155 54 152 46 93 34 110 130 168 282 200 37 149 69 159 26 83 87 166 146 172 151 188 74 145 144 184 82 72 114 159 79 131 53 103 40 100 121 121 343 192 243 184 240 150 34 88 29 30 54 154 300 185 39 94 62 190 47 71 42 89 41 70 139 168 41 113 83 126 46 120 92 146 125 197 63 110 111 162 70 144 39 135 112 148 88 175 85 118 140 158 87 217 25 64 327 197 149 232 188 138 74 136 41 148 33 120 154 187 79 122 287 193 78 88 41 86 69 133 49 92 21 80 58 192 318 181 122 140 78 134 108 178 53 98 63 95 28 118"/>
<path class="f" d="M55 109 124 130 103 170 342 198 89 194 83 135 36 107 69 80 154 179 97 147 164 189 190 175 133 106 127 166 58 116 121 89 37 97 134 141 96 179 32 110 99 127 180 62 168 150 120 167 125 135 63 131 291 210 21 65 19 69 186 149 121 143 126 113 51 128 52 122 93 185 324 229 126 159 66 112 78 153 163 115 37 119 225 161 341 246 79 86 44 98 60 76 33 115 106 211"/>
<path class="m" d="M328 197 31 93 55 148 54 156 36 135 248 191 229 182 52 84 210 199 56 128 35 91 114 158 19 105 114 122 29 68 30 73 102 137 70 124 106 122 41 80 206 189 71 126 88 118 234 187 38 131 128 169 49 72 88 183 36 97 83 136 102 73 169 158 123 181 45 97 54 160 111 130 220 181 68 114 39 145 40 113 121 89 88 177 130 162 33 87 156 179 283 207 31 78 19 79 88 110 127 208 153 129 21 46 26 96 104 164 122 204 295 155 61 102 45 89 87 126 127 155 329 232 170 155 59 125 159 161 154 150 26 121 45 96 48 78 52 141 262 204 337 180 332 220 88 123 135 142 318 241 153 128 41 113"/>
<path class="f" d="M92 137 60 146 94 106 69 106 35 96 109 57 83 169 149 171 47 101 124 230 53 105 125 128 102 137 68 129 29 106 83 138 45 83 27 54 55 124 79 130 66 106 319 184 103 158 112 137 324 184 25 102 102 172 121 129 32 49 139 161 84 113 167 164 168 176 74 123 102 182 93 97 96 132 77 154 87 171 79 67 79 186 87 98 102 208 25 100 39 93 79 132 109 124 21 63 68 105 144 189 83 152 126 178 35 136 49 107 94 116 63 128 206 149 92 163"/>
<path class="m" d="M295 176 197 203 43 115 37 108 55 92 120 139 51 112 116 178 295 187 109 158 264 241 54 131 69 109 112 155 183 153 58 123 295 220 22 77 49 107 58 130 333 213 96 99 61 114 25 71 211 158 25 13 289 203 69 123 21 81 47 121 82 132 40 124 35 111 83 233 121 140 342 198 220 167 339 214 35 112 153 198 116 154 312 181 74 126 151 200 27 93 88 165 163 175 64 149 49 91 50 123 19 82 129 172 155 131 28 88 393 209 187 154 44 89 65 132 97 127 46 111 86 188 37 145 315 194 83 114 31 99 60 111 61 168"/>
<path class="f" d="M328 226 31 80 93 172 300 186 121 73 73 79 89 130 357 229 87 83 97 123 92 96 79 139 149 208 83 145 41 111 91 145 109 65 63 125 97 114 309 191 112 151 243 163 76 199 83 165 86 113 116 156 83 130 149 165 48 138 144 171 106 95 26 106 167 145 102 154 97 171 112 123 191 138 107 212 233 214 197 162 111 44 59 110 300 179 26 81 130 152 83 114 116 135 75 137 87 77 157 143 258 164 95 137 97 117 121 133 172 197 61 136 144 103 121 123 133 189 109 79 102 196 135 127 238 189 135 140 64 129 97 109 71 146 99 144 116 140 111 93 68 123 61 117"/>
<path class="m" d="M73 127 183 190 253 203 69 129 111 144 334 228 58 101 47 97 191 182 43 107 101 163 64 139 93 144 107 161 114 184 136 159 88 92 86 148 147 166 206 182 36 103 55 111 88 114 36 70 89 242 182 158 35 91 88 120 62 136 125 183 97 143 28 105 121 145 156 177 126 148 28 109 107 147 34 100 126 173 44 105 323 198 43 118 163 163 215 228 88 96 282 163 152 110 44 99 47 109 97 149 65 139 164 211 61 115"/>
<path class="f" d="M88 168 72 151 105 162 253 206 156 150 255 209 20 46 144 169 337 193 333 206 78 113 366 212 276 161 315 203 146 135 88 98 88 184 67 122 114 225 113 137 78 121 258 197 73 162 125 136 121 144 53 112 64 98 98 159 108 138 79 147 102 131 92 70 56 54 124 201 156 142 124 131 196 196 69 147 121 152 78 130 287 210 37 76 31 96 98 149 100 140 285 207 22 90 52 95 261 167 69 122 111 118 97 147 72 113 88 102 64 176 121 144 64 112 140 139 26 76 78 104 267 161 168 173"/>
<path class="m" d="M267 195 53 102 116 205 28 79 79 114 121 140 23 33 95 241 130 138 20 99 55 80 97 127 56 54 40 131 41 122 97 184 22 134 206 166 98 161 187 179 111 86 140 190 74 133 182 171 57 79 398 236 220 217 47 158 100 166 146 110 27 69 36 76 44 104 42 109 230 215 292 210 69 125 46 119 33 147 85 147 53 99 97 130 117 141 281 178 38 116 92 210 81 141 116 149 45 133 45 133 30 58 115 160 60 115 111 124 177 181 51 79 61 87 74 148 249 221 44 106 85 206 74 53 49 153"/>
<path class="f" d="M154 140 26 136 111 161 138 134 50 116 299 186 154 161 81 85 26 77 66 79 72 121 244 178 315 181 91 120 164 150 135 102 50 114 163 170 68 170 111 93 105 161 215 229 98 139 54 86 36 126 281 170 64 90 52 131 135 188 100 199 158 181 121 155 125 155 121 98 120 165 190 182 89 75 314 191 141 123 112 116 118 130 220 165 27 103 116 199 120 122 51 124 38 70 88 105 79 99 296 198 93 126 70 125 86 168 59 121 50 79 93 159 122 237 102 135 306 207 122 198 87 134 107 163 93 125 107 131 26 86 97 134"/>
<path class="m" d="M20 62 59 144 243 162 26 122 36 135 36 142 286 189 47 97 267 186 51 109 61 81 51 101 28 98 23 130 147 151 64 134 53 89 323 190 52 151 220 176 88 164 140 141 45 134 127 155 45 126 78 168 135 133 394 218 38 27 328 210 164 193 90 143 45 105 90 164 102 127 191 186 73 111 69 126 159 109 26 95 21 101 43 72 128 139 243 156 105 149 78 99 182 167 68 131 215 143 79 120 47 109 120 146 34 81 34 138 111 127 78 196 20 90 205 174 61 157"/>
<path class="f" d="M95 145 92 105 36 91 30 84 267 186 102 144 96 106 146 180 116 161 102 80 50 118 97 160 105 162 111 134 81 146 122 128 92 63 300 195 45 92 300 170 54 145 338 197 56 124 29 125 145 99 87 110 110 130 124 133 59 125 74 91 144 156 55 99 106 123 248 159 188 172 115 149 60 114 79 179 68 105 291 173 26 95 78 91 79 68 100 168 167 181 126 99 61 145 78 151 90 135 54 101 116 172 102 151 226 202 111 72 121 133"/>
<path class="m" d="M22 83 24 133 65 150 116 172 73 138 55 125 112 171 83 124 112 129 156 159 102 133 68 145 125 163 247 211 63 102 54 112 95 130 26 57 72 148 81 169 83 121 69 161 149 128 93 147 54 55 46 98 94 195 126 145 178 189 243 188 337 194 19 94 64 152 73 122 191 137 267 188 112 120 88 185 22 88 88 89 43 141 126 150 79 95 148 188 71 112 49 152 247 170 32 124 121 117 53 121 101 201 140 156 289 175 92 53 126 181 20 85 210 158 149 149 22 49 310 209 219 170 120 123 102 132 330 211 79 172 130 142 107 125 40 90 26 87 36 197"/>
<path class="f" d="M58 174 103 122 187 212 118 113 107 102 322 178 219 196 74 162 96 135 120 180 62 115 107 107 248 187 314 194 91 141 111 141 60 86 29 65 76 80 267 162 116 155 123 155 88 177 97 150 23 39 55 109 83 139 144 162 33 105 63 127 182 142 125 177 124 82 74 116 120 141 97 176 20 76 103 92 347 199 91 151 110 144 20 97 121 129 173 190 74 88 54 130 89 85 76 103 21 59 64 132 41 70 126 211 154 205 124 125 104 142 72 53 83 144 113 119 25 75 78 144 211 141 98 131"/>
<path class="m" d="M328 194 328 217 40 84 112 114 54 125 36 114 144 155 47 99 69 140 85 143 26 98 92 151 61 125 92 171 20 147 107 131 102 196 70 149 43 123 149 122 50 128 24 91 120 164 98 186 139 209 59 80 73 152 220 190 284 131 27 136 114 88 34 96 56 122 37 74 64 131 149 154 62 152 87 139 75 148 107 127 272 195 48 98 110 168 338 219 29 123 83 107 95 127 95 159 329 176 118 150 185 182 111 105 66 121 45 89 121 109 130 159 130 195 60 182 83 133 41 135 117 87 51 99 245 192"/>
<path class="f" d="M125 180 111 165 122 126 20 92 124 143 114 231 169 153 135 158 333 206 74 128 125 140 206 162 83 172 104 162 300 188 19 109 249 134 127 154 125 122 161 160 99 145 32 95 338 219 75 157 49 129 111 139 52 115 111 173 42 93 121 107 102 171 113 172 229 150 91 117 109 75 333 192 366 204 97 143 49 183 51 84 48 186 88 122 125 73 107 119 328 191 347 212 46 103 78 102 45 76 121 139 112 221 97 86 51 100 163 180 110 138 107 136 79 168 126 87"/>
<path class="m" d="M121 209 126 138 53 129 80 120 152 185 281 177 59 104 216 199 94 171 45 83 85 110 215 150 71 178 338 223 188 203 170 186 55 104 154 140 45 126 82 167 61 70 27 95 102 140 67 147 253 168 89 142 121 154 49 113 79 175 23 108 124 194 122 139 109 161 116 181 33 82 45 121 26 66 78 124 61 134 103 106 36 109 25 134 97 136 149 210 55 120 61 99 119 124 267 166 72 128 37 119 31 95 26 108 52 156 85 151 50 116 89 161 29 133 56 67 58 130 45 88 61 104 78 136 366 187 163 209 290 186 88 117 71 127"/>
<path class="f" d="M79 92 72 100 74 130 20 134 101 155 87 157 105 191 216 166 244 141 107 85 95 113 258 190 45 115 40 55 180 163 93 111 51 106 131 140 87 126 38 79 111 134 112 156 108 180 378 238 183 124 58 118 90 102 102 108 147 105 126 133 315 191 45 144 258 196 209 205 124 171 140 148 76 131 40 92 97 127 40 126 107 96 82 100 75 129 168 167 215 171 121 140 83 104 104 174 144 165 49 137 20 112 253 172 347 203 258 162 76 155 282 186 67 113 83 89 177 196 333 199 82 100 64 167 83 145 229 215"/>
<path class="m" d="M110 200 310 193 139 136 145 127 70 76 73 133 74 125 292 208 366 239 24 125 239 179 26 111 78 143 58 144 31 117 150 167 88 184 22 117 61 111 104 108 149 190 93 147 113 207 47 110 109 275 24 67 258 186 78 172 32 147 121 137 38 93 87 122 57 102 140 97 39 155 29 77 371 227 191 204 94 158 84 104 83 145 86 119 41 86 118 207 239 180 33 139 132 139 72 142 53 145 119 210 31 124 82 156 121 196 62 123 48 87 108 193 145 159 94 160 295 161 70 160 40 180"/>
<path class="b" d="M19 35.7 27.1 42.1 35.1 48.4 43.2 54.6 51.3 60.9 59.3 67 67.4 72.7 75.5 78.2 83.6 83.3 91.6 88 99.7 92.2 107.8 96 115.8 99.5 123.9 102.6 132 105.5 140 108.1 148.1 110.4 156.2 112.4 164.2 114.3 172.3 116.2 180.4 118.1 188.5 119.9 196.5 121.7 204.6 123.3 212.7 124.9 220.7 126.4 228.8 127.8 236.9 129.1 244.9 130.5 253 131.8 261.1 133.2 269.1 134.6 277.2 135.9 285.3 137.2 293.4 138.6 301.4 140 309.5 141.4 317.6 142.9 325.6 144.5 333.7 146.1 341.8 147.6 349.8 149.1 357.9 150.4 366 151.4 374 152.1 382.1 152.6 390.2 152.8 398.2 152.8 L398.2 271.2 390.2 271.2 382.1 270.5 374 269.5 366 268.4 357.9 266.9 349.8 265.1 341.8 263.3 333.7 261.3 325.6 259.3 317.6 257.3 309.5 255.5 301.4 253.7 293.4 251.9 285.3 250.3 277.2 248.7 269.1 247.2 261.1 245.8 253 244.4 244.9 243 236.9 241.7 228.8 240.3 220.7 239 212.7 237.5 204.6 235.9 196.5 234.2 188.5 232.5 180.4 230.7 172.3 228.8 164.2 226.9 156.2 225 148.1 223 140 220.7 132 218.1 123.9 215.2 115.8 212.1 107.8 208.6 99.7 204.8 91.6 200.6 83.6 195.9 75.5 190.8 67.4 185.3 59.3 179.6 51.3 173.4 43.2 167.2 35.1 161 27.1 154.7 19 148.3Z"/>
<path class="b" d="M19 36.7 27.3 42.4 35.5 48 43.8 53.3 52 58.5 60.3 63.5 68.5 67.9 76.8 71.9 85 75.6 93.3 78.9 101.6 82 109.8 84.8 118.1 87.5 126.3 90.2 134.6 92.8 142.8 95.4 151.1 98.1 159.3 100.8 167.6 103.6 175.9 106.5 184.1 109.5 192.4 112.3 200.6 114.9 208.9 117.4 217.1 119.7 225.4 121.7 233.6 123.5 241.9 125.1 250.1 126.6 258.4 127.8 266.7 129.1 274.9 130.4 283.2 131.6 291.4 133 299.7 134.4 307.9 135.8 316.2 137.4 324.4 139 332.7 140.8 341 142.5 349.2 144.1 357.5 145.7 365.7 146.9 374 147.5 382.2 147.9 390.5 148 398.7 147.7 407 146.8 L407 263.2 398.7 264.2 390.5 264.4 382.2 263.9 374 262.9 365.7 261.8 357.5 260.2 349.2 258.2 341 256.1 332.7 254 324.4 251.8 316.2 249.8 307.9 247.9 299.7 246.1 291.4 244.3 283.2 242.7 274.9 241.2 266.7 239.8 258.4 238.5 250.1 237.2 241.9 235.8 233.6 234.2 225.4 232.4 217.1 230.4 208.9 228.1 200.6 225.6 192.4 223 184.1 220.2 175.9 217.2 167.6 214.3 159.3 211.5 151.1 208.8 142.8 206.1 134.6 203.5 126.3 200.9 118.1 198.2 109.8 195.4 101.6 192.6 93.3 189.6 85 186.3 76.8 182.6 68.5 178.6 60.3 174.2 52 169.2 43.8 164 35.5 158.6 27.3 153.1 19 147.3Z"/>
<path class="lm" d="M19 92 27.1 98.4 35.1 104.7 43.2 110.9 51.3 117.2 59.3 123.3 67.4 129 75.5 134.5 83.6 139.6 91.6 144.3 99.7 148.5 107.8 152.3 115.8 155.8 123.9 158.9 132 161.8 140 164.4 148.1 166.7 156.2 168.7 164.2 170.6 172.3 172.5 180.4 174.4 188.5 176.2 196.5 178 204.6 179.6 212.7 181.2 220.7 182.7 228.8 184.1 236.9 185.4 244.9 186.7 253 188.1 261.1 189.5 269.1 190.9 277.2 192.3 285.3 193.7 293.4 195.3 301.4 196.8 309.5 198.4 317.6 200.1 325.6 201.9 333.7 203.7 341.8 205.5 349.8 207.1 357.9 208.7 366 209.9 374 210.8 382.1 211.6 390.2 212 398.2 212"/>
<path class="lf" d="M19 92 27.3 97.8 35.5 103.3 43.8 108.6 52 113.8 60.3 118.8 68.5 123.3 76.8 127.3 85 130.9 93.3 134.3 101.6 137.3 109.8 140.1 118.1 142.9 126.3 145.5 134.6 148.1 142.8 150.8 151.1 153.5 159.3 156.2 167.6 159 175.9 161.9 184.1 164.8 192.4 167.6 200.6 170.3 208.9 172.8 217.1 175 225.4 177 233.6 178.9 241.9 180.5 250.1 181.9 258.4 183.2 266.7 184.4 274.9 185.8 283.2 187.2 291.4 188.6 299.7 190.2 307.9 191.9 316.2 193.6 324.4 195.4 332.7 197.4 341 199.3 349.2 201.1 357.5 203 365.7 204.4 374 205.2 382.2 205.9 390.5 206.2 398.7 206 407 205"/>
<rect class="s" width="426" height="288"/>
<rect class="lg" x="309.8" y="8.3" width="108.6" height="50" rx="3.1"/>
<circle class="cf" cx="332.1" cy="21.4" r="4.17"/>
<circle class="cm" cx="332.1" cy="43.6" r="4.17"/>
<text class="t" x="360.4" y="25.7">female</text>
<text class="t" x="360.4" y="48.7">male</text>
<text class="tt" x="213" y="-8.3" text-anchor="middle">Postcentral Gyrus</text>
<text class="t" x="-13.6" y="12.1" text-anchor="end">0.010</text>
<text class="t" x="-13.6" y="53.1" text-anchor="end">0.009</text>
<text class="t" x="-13.6" y="94.1" text-anchor="end">0.008</text>
<text class="t" x="-13.6" y="135.1" text-anchor="end">0.007</text>
<text class="t" x="-13.6" y="175.1" text-anchor="end">0.006</text>
<text class="t" x="-13.6" y="216.1" text-anchor="end">0.005</text>
<text class="t" x="-13.6" y="257.1" text-anchor="end">0.004</text>
<text class="l" transform="translate(-67.3,144) rotate(-90) scale(1,1.09)" text-anchor="middle">GM volume (TIV-normalized)</text>
<text class="t" x="85.2" y="312.6" text-anchor="middle">20</text>
<text class="t" x="179.2" y="312.6" text-anchor="middle">40</text>
<text class="t" x="274.2" y="312.6" text-anchor="middle">60</text>
<text class="t" x="368.2" y="312.6" text-anchor="middle">80</text>
<text class="l" x="213" y="335.6" text-anchor="middle">Age</text>
</g>
<g transform="translate(1176,1042)">
<path class="g" d="M86.5 0V288M180.5 0V288M275.5 0V288M369.5 0V288M0 20.5H426M0 53.5H426M0 85.5H426M0 117.5H426M0 150.5H426M0 182.5H426M0 214.5H426M0 246.5H426M0 279.5H426"/>
<path class="f" d="M58 80 91 127 22 72 37 170 149 187 97 84 169 165 314 191 26 75 82 91 47 149 385 202 82 175 126 156 74 133 111 138 76 144 337 177 140 133 49 101 149 176 109 122 121 138 121 142 116 153 37 94 96 89 92 101 109 136 398 195 129 149 330 209 93 95 60 80 32 131 93 209 106 122 19 143 138 162 121 156 21 83 125 139 95 163 121 144 315 203 41 102 126 127 128 176 83 169 23 65 102 162 309 193 102 152 288 199 78 69 47 122 229 144 92 190 168 177 291 226"/>
<path class="m" d="M324 209 282 145 50 119 74 160 72 137 168 153 86 144 30 93 92 155 110 161 38 91 44 137 329 183 45 92 259 199 338 208 56 98 54 144 58 168 37 92 97 152 392 215 314 229 79 111 114 145 44 116 51 83 81 168 88 129 214 155 78 149 40 109 100 225 55 134 92 148 28 95 116 166 64 132 56 149 31 94 139 170 329 181 42 107 49 133 24 116 52 85 89 195 40 112 49 127 64 120 71 106 44 111 206 176 121 183 73 120 111 135 61 81 50 87 21 96 54 106 97 124 64 103 144 152 94 105 31 84 133 168"/>
<path class="f" d="M122 130 81 56 87 136 263 182 61 132 337 206 97 103 254 157 72 135 104 85 22 117 154 208 126 90 328 197 34 175 315 161 50 110 97 143 119 208 258 211 103 145 33 133 64 98 46 102 63 129 343 200 258 196 85 117 76 152 55 127 77 115 121 117 47 89 126 131 116 139 83 107 75 122 123 164 143 142 286 207 310 196 178 184 88 149 76 178 339 187 96 125 121 129 112 149 37 105 220 120 59 166 244 164 304 194 305 188 36 90 309 185 144 149 107 156 121 155 92 113 121 132 35 67"/>
<path class="m" d="M223 197 45 109 93 152 242 190 338 196 36 118 58 142 50 102 243 204 78 141 31 90 83 139 343 192 149 168 34 129 40 125 102 183 253 187 51 128 50 86 65 105 40 86 182 169 73 126 101 142 43 150 121 172 145 148 115 173 26 101 47 97 42 117 249 189 31 105 124 163 57 90 42 107 28 64 149 222 53 146 97 164 48 133 107 128 21 126 50 120 93 98 30 113 69 149 100 75 243 191 258 157 177 137 67 112 239 201 130 171 48 98 111 120 50 120 64 100 135 179 239 201 191 196 99 182 83 173"/>
<path class="f" d="M93 129 25 93 125 158 52 94 40 37 351 216 39 124 116 155 167 214 291 205 182 124 92 122 116 155 324 182 85 124 51 113 324 187 309 172 111 94 144 129 125 129 128 115 78 175 300 225 55 97 121 87 347 204 295 212 122 125 121 105 333 183 78 139 106 134 173 238 104 232 93 132 130 169 120 153 141 164 88 64 84 120 201 143 135 166 67 112 328 193 111 116 78 130 97 126 90 95"/>
<path class="m" d="M196 179 23 117 73 135 70 132 26 61 59 112 24 89 37 143 72 62 140 189 33 52 28 113 127 185 314 178 92 149 191 159 79 140 97 124 118 153 125 123 71 159 35 122 47 131 35 108 78 155 328 201 56 130 75 125 103 140 329 237 63 139 163 196 78 145 366 224 34 96 221 180 107 197 143 214 102 168 57 112 104 199 107 97 20 119 88 108 53 111 25 77 98 159 20 101 126 178 79 88 310 189 55 97 263 195 20 113 90 104 119 141 107 148 49 84 89 134 51 121 59 151 29 113 55 137 78 116 101 153 121 177 27 78 41 144 30 119 84 141 41 162 79 122 90 122 61 138 229 165 149 209"/>
<path class="f" d="M333 206 26 66 29 119 58 111 188 191 88 121 54 92 126 135 40 70 300 168 281 210 122 108 92 114 37 110 89 183 140 82 90 146 116 122 102 138 300 207 40 124 30 101 107 115 81 127 120 138 111 139 40 97 286 223 74 119 107 102 83 128 139 147 116 176 112 97 111 140 123 100 81 129 46 120 74 121 105 175 309 198 206 161 103 111 66 93 32 116 64 111 42 112 113 98 102 94 83 79 190 199"/>
<path class="m" d="M27 105 92 142 92 121 68 112 102 143 84 158 111 81 22 88 34 53 243 219 80 105 29 94 40 110 56 125 338 235 51 112 66 171 310 190 149 190 44 102 255 186 129 198 65 152 72 113 39 99 51 158 82 109 31 90 43 31 30 30 31 90 45 94 121 127 120 107 41 133 106 155 111 220 267 218 74 126 70 106 130 185 60 133 310 198 45 120 41 90 97 157 154 182 55 98 41 89 102 169 41 109 83 148 38 73 45 138 47 94 89 102 150 172 54 93 29 95 267 182 210 171 19 94 41 116 116 146 55 101 41 91 152 123 40 76 113 189 59 137 33 51 62 133 36 117 72 95"/>
<path class="f" d="M168 188 26 109 97 105 111 169 113 102 127 182 67 114 197 206 78 138 116 100 97 99 72 121 79 116 107 143 43 89 216 195 123 126 111 152 96 145 79 150 249 172 89 148 63 83 114 145 103 135 179 151 31 97 183 158 83 149 103 129 63 114 111 94 71 127 113 160 90 116 38 99 125 144 41 72 144 152 226 173 64 136 154 180 107 152 43 122 187 105 31 152 116 176 201 185 121 134 97 121 76 115 164 99 133 170 286 177 297 208 324 195 79 124 111 169 26 72"/>
<path class="m" d="M180 239 88 138 93 168 88 148 172 153 61 97 22 99 31 124 52 89 78 120 330 199 28 131 135 148 37 130 305 198 31 110 334 189 73 128 257 218 150 187 54 128 33 28 102 100 243 176 54 136 120 164 114 167 31 107 19 118 230 166 44 128 83 121 136 192 19 106 93 141 23 93 169 142 121 164 121 197 64 109 147 173 150 169 36 151 51 115 117 193 206 186 112 165 72 78 41 125 38 103 281 195 112 112 116 116 44 120 64 153 46 90 111 167 32 166 112 133 70 141 154 178 94 157 360 227 88 102 59 112 111 180"/>
<path class="f" d="M56 83 82 149 91 181 84 114 168 180 74 169 126 163 181 188 83 96 111 192 92 78 314 208 96 159 88 62 107 135 121 150 111 130 131 69 60 85 156 160 33 119 36 131 132 104 64 147 268 189 113 164 292 187 29 76 186 160 83 92 61 129 59 103 329 237 83 103 135 157 55 113 98 146 45 124 74 116 248 211 22 119 243 123 126 154 89 176 300 215 107 176 149 174 111 117 76 130 118 121 126 162 64 148 21 98 99 133"/>
<path class="m" d="M182 159 61 154 67 109 120 149 88 159 333 201 83 95 64 123 114 135 78 188 138 156 130 115 229 221 192 212 109 255 130 152 28 126 111 112 114 118 121 132 61 150 155 159 125 172 139 137 52 115 56 144 88 222 70 130 114 169 130 152 31 99 85 120 130 201 22 108 65 137 116 136 102 112 68 100 50 127 42 114 398 241 52 74 191 179 78 130 127 139 101 155 104 134 30 124 89 97 153 140 127 154 26 97 38 82 43 125 361 203 121 150 39 70 81 145 107 118 70 122 97 129 114 169 197 185 32 60 69 106 109 135 60 84 46 104 85 123 115 135 95 125"/>
<path class="f" d="M92 109 125 93 230 159 82 143 103 134 83 152 314 205 57 106 118 112 155 164 92 165 102 144 20 94 78 122 135 117 196 179 74 108 57 88 88 156 137 143 89 154 149 132 92 138 333 189 87 140 58 155 121 129 103 156 238 187 86 126 51 180 110 152 300 180 122 92 105 121 41 97 87 159 118 164 28 107 281 215 116 183 93 141 30 108 126 90 88 140 116 93 215 199 93 97 109 138 89 98 269 175 72 110 51 107 92 106 79 147"/>
<path class="m" d="M186 146 37 81 215 187 59 158 53 81 239 168 79 139 29 131 49 103 63 136 88 148 54 123 88 119 116 143 57 73 19 78 156 213 61 97 102 118 104 173 144 174 170 215 177 180 65 152 59 86 59 86 243 177 40 134 88 98 22 134 104 118 114 138 40 95 34 110 26 82 83 153 102 113 31 77 117 120 68 107 333 209 92 140 63 97 55 101 49 85 289 197 61 110 180 161 28 86 121 183 135 98 333 196 121 102 29 85 180 183 191 188 26 119 241 185 172 203 328 190 27 102 117 145 74 144 31 102 318 193 42 144 67 84 165 115 61 129 126 157"/>
<path class="f" d="M53 104 97 122 50 90 22 85 309 167 124 157 116 116 69 128 27 110 121 164 300 232 291 185 46 107 26 96 48 80 105 177 107 127 154 172 154 147 196 175 102 145 215 173 272 158 306 186 59 69 56 90 177 167 104 138 156 109 116 137 97 113 187 177 210 190 122 140 196 192 329 205 26 106 126 132 263 197 121 178 100 98 126 139 164 155 128 201 98 173 299 200 41 122 124 146 90 116 87 111 111 136 107 174 140 129 29 126 106 107 347 207 78 99 58 142 95 101 81 136 126 141 86 100"/>
<path class="m" d="M108 138 87 187 103 144 33 128 68 80 35 80 85 127 34 59 87 159 90 209 72 103 281 174 120 127 83 117 113 169 33 112 60 112 59 125 78 139 178 181 267 182 51 154 36 88 78 67 93 119 49 103 116 155 41 118 263 190 142 175 29 84 111 126 135 123 19 98 82 140 185 146 25 121 63 144 105 107 32 118 31 95 60 93 56 88 210 182 40 97 43 136 95 130 170 151 46 111 127 154 43 133 70 112 46 101 36 120 124 121 90 122 47 101 34 85 43 149 240 141 253 194 25 92 122 139"/>
<path class="f" d="M314 202 26 96 112 157 79 82 111 82 238 185 117 98 24 87 262 212 26 59 27 87 99 139 69 63 191 158 28 69 48 137 98 107 74 89 276 217 31 116 88 179 124 109 129 163 33 26 121 222 111 198 107 89 112 112 74 158 116 141 23 104 52 102 112 91 380 206 78 118 73 144 144 173 75 118 146 177 121 181 310 220 61 103 317 194 253 188 103 191 23 75 93 171 64 131 42 95 187 187 27 73 308 149 362 186 103 166 173 167"/>
<path class="m" d="M102 93 55 48 268 205 159 181 50 147 47 102 127 151 25 113 39 109 96 129 29 104 79 160 50 103 60 139 31 126 92 132 73 132 81 209 111 195 151 186 69 150 331 224 67 153 107 107 46 105 127 113 393 195 86 157 60 114 65 127 78 153 66 127 52 106 64 108 38 113 122 162 121 195 102 158 70 109 44 93 97 143 34 136 188 158 44 80 58 113 220 175 109 129 29 114 90 131 83 129 292 198 300 191 22 79 24 58 295 217 111 171 122 201 88 202 97 154 79 156 36 98 72 130 153 173 206 147 215 162 47 100 214 200 110 145 152 156 49 81"/>
<path class="f" d="M100 118 206 184 84 120 291 213 77 161 74 99 124 125 107 135 92 167 121 201 62 81 133 97 57 135 78 210 49 139 135 127 309 183 244 160 61 100 88 41 36 93 116 95 119 142 112 122 92 78 32 117 55 159 126 177 333 203 111 99 361 227 50 104 31 79 92 194 27 166 347 166 144 159 93 130 79 212 104 179 143 111 125 177 50 171 42 94 100 78 123 105 137 165 56 128 69 127 121 90 78 98 319 185 102 75 101 196 51 120"/>
<path class="m" d="M146 153 67 132 22 124 182 164 72 124 183 209 61 116 26 120 92 145 67 122 55 149 182 191 43 58 29 135 45 104 65 110 22 73 61 151 54 159 247 201 27 108 121 159 73 134 29 89 394 217 19 106 54 66 177 159 83 117 44 131 26 98 328 189 83 191 88 147 202 180 96 156 121 159 118 138 69 150 29 117 139 142 34 92 108 123 92 102 328 205 56 79 82 143 211 169 191 147 149 185 131 120 295 187 102 126 112 119 58 87 107 140 66 153 112 193 96 198 71 130 59 78 107 147 135 147 55 119 116 64 62 87 187 144 134 206 19 89 64 150"/>
<path class="f" d="M111 225 328 185 309 216 127 189 121 134 168 150 97 93 68 164 79 96 360 195 89 107 30 148 83 152 38 78 211 177 70 104 28 86 99 102 290 174 315 192 29 107 378 188 112 92 99 168 191 196 163 180 125 166 26 85 110 103 215 189 300 212 36 95 81 137 22 81 69 86 302 135 94 101 145 161 107 109 145 142 267 172 33 56 154 198 124 128 79 120 83 150 90 121 88 114 63 139 81 115 102 158 117 154 309 192 76 89"/>
<path class="m" d="M51 85 82 117 82 106 20 99 343 216 22 91 93 125 126 155 291 200 305 200 333 226 56 110 45 110 162 159 32 100 51 123 46 105 35 60 46 143 19 118 33 98 93 127 95 117 56 82 31 90 86 94 106 152 97 143 92 90 334 234 148 137 44 55 74 126 36 123 48 109 29 154 49 107 58 130 192 203 43 116 29 86 35 146 47 113 35 124 31 125 179 154 20 72 63 184 121 152 177 159 112 158 106 133 59 99 55 125 97 175 112 151 315 190 178 148 41 103 87 66 21 75 206 164 309 197 91 149 83 112 83 162 149 167 121 148 111 146 26 88 41 92"/>
<path class="f" d="M168 152 92 82 51 119 83 124 67 128 116 192 157 149 88 154 21 140 285 209 25 95 180 168 158 142 248 209 107 149 111 127 296 184 167 165 83 108 121 114 334 195 105 138 50 143 345 198 234 170 97 153 234 196 101 137 20 129 86 155 72 73 74 107 149 146 130 144 267 187 112 207 125 107 83 121 28 99 88 169 97 153 361 188 69 66 257 205 116 118 135 167 89 109 62 81 27 69 168 214 119 152 19 18 71 117"/>
<path class="m" d="M121 169 32 112 88 88 88 168 153 168 60 113 56 68 24 84 63 119 87 105 45 92 59 95 45 105 36 86 234 186 35 106 159 183 74 121 287 210 69 103 213 210 93 169 125 129 37 93 45 127 45 128 182 163 58 131 95 117 45 166 112 120 66 80 149 199 46 102 329 164 88 115 216 214 154 160 188 145 119 191 97 104 164 172 67 111 36 108 72 137 121 177 92 100 60 170 25 90 70 149 43 126 22 34 310 179 21 120 21 75 125 177 72 122 30 80 46 136 394 227 97 112 64 148 52 109 187 178 295 202 40 147 229 156 114 230 76 122 75 104 220 217 159 133"/>
<path class="f" d="M163 170 37 101 36 121 244 188 243 177 187 142 76 97 19 26 118 171 282 190 83 122 267 181 27 100 119 187 106 130 139 119 108 155 93 144 102 130 98 122 145 157 97 103 145 150 94 127 74 112 87 172 105 160 50 105 54 89 66 138 78 125 126 173 78 126 332 185 27 81 126 113 111 125 88 72 159 140 310 132 107 157 327 196 333 225 120 116 97 103 225 194 167 118 68 132 91 86 22 22 295 166 334 225 125 137 144 182 20 66 76 126 126 149 102 109 111 126 261 198 338 222 32 146 62 124"/>
<path class="m" d="M210 205 139 172 178 171 116 88 34 123 59 160 75 94 342 229 62 48 21 63 61 116 156 146 121 149 64 62 174 143 100 116 83 154 73 97 107 145 182 180 192 193 145 161 87 163 39 90 125 183 79 133 68 116 51 71 113 182 85 152 78 154 114 90 337 171 60 97 23 114 312 174 286 167 95 143 43 100 26 87 339 226 53 75 245 177 33 93 140 146 119 149 149 181 168 134 70 138 55 141 61 100 78 124 327 200 63 142 267 204 28 55 35 73 163 168 282 189 200 188 57 91 114 111"/>
<path class="f" d="M155 145 68 102 91 105 51 83 85 125 93 161 116 112 46 134 78 159 58 49 101 105 107 138 248 183 92 166 97 74 140 146 79 125 334 185 282 199 215 154 134 173 99 103 51 94 64 152 178 169 140 123 87 140 229 171 83 91 88 146 134 140 41 108 55 140 93 160 103 131 92 113 121 185 36 73 86 106 82 123 87 184 77 79 333 189 59 102 125 133 128 169 32 74 45 84 108 128 126 148 116 123 103 160 177 178 51 78 125 200 47 76 292 244 97 171 144 188"/>
<path class="m" d="M35 94 132 153 74 102 157 191 239 182 24 111 147 164 146 215 300 156 67 107 30 124 220 168 41 101 116 218 287 188 55 121 201 148 97 158 47 104 54 128 139 197 147 133 21 91 177 219 87 180 53 98 205 184 48 128 305 196 43 117 122 138 95 110 64 150 310 179 295 201 52 85 42 79 34 80 74 90 44 59 68 123 196 177 250 208 42 49 319 186 176 212 40 110 83 140 93 136 70 137 54 139 121 155 247 219 22 133 56 119 107 65 159 136 318 194 45 132 122 147 40 112 84 117 126 183 73 138 88 145 27 87"/>
<path class="f" d="M49 95 61 122 95 156 125 120 33 98 97 146 79 119 371 215 78 148 120 154 34 111 59 143 81 132 45 105 366 224 60 119 73 107 65 135 142 153 22 119 45 81 56 112 29 129 96 138 314 214 35 61 125 158 105 114 125 154 248 172 314 249 56 122 102 132 89 218 107 198 45 134 135 123 107 113 68 148 161 181 64 137 182 155 123 170 79 125 120 189 258 180 74 102 79 121 37 67 87 138 225 165 105 121 315 206 91 102 154 194"/>
<path class="m" d="M28 77 74 110 56 146 26 62 64 82 111 207 94 94 119 169 80 136 69 101 97 133 63 131 116 167 20 42 41 109 69 154 92 167 101 88 97 175 89 187 70 110 95 103 80 137 73 145 97 80 337 188 295 167 36 75 36 106 300 194 26 100 54 83 98 126 54 145 93 207 95 149 45 146 153 161 206 169 45 88 22 110 78 137 49 114 73 161 69 100 216 197 55 109 26 121 103 160 27 91 321 198 23 45 41 120 43 126 282 197 49 123 91 120 73 111 79 153 140 161 74 71 239 195 105 162 66 143 62 120 42 131 248 182 60 101 163 173 52 125"/>
<path class="f" d="M31 71 257 203 88 138 263 187 97 113 49 94 23 116 300 215 33 116 54 96 97 109 187 160 147 91 258 191 97 141 357 183 119 113 93 139 102 146 102 110 79 201 91 127 93 191 96 180 124 152 44 44 123 127 20 83 140 147 108 71 68 116 63 123 76 124 133 156 261 174 22 92 93 150 51 129 21 62 107 161 58 174 314 151 44 84 70 104 43 91 84 144 107 164 112 142 38 87 109 130 78 142 130 183 139 131 121 202 100 173 205 147 48 123 70 109 253 189 234 180 83 78 71 89"/>
<path class="m" d="M78 150 88 146 59 149 28 97 45 155 64 93 78 124 262 168 61 95 49 73 92 150 95 98 31 67 219 180 70 124 63 133 36 82 98 140 239 179 102 104 97 129 281 172 32 128 272 208 349 212 19 109 49 137 69 54 22 91 267 167 251 185 220 202 125 140 140 185 33 82 86 137 69 99 73 124 22 57 30 108 48 115 127 144 23 85 83 101 206 177 71 125 135 160 27 114 45 73 176 173 164 195 78 138 149 143 27 65 66 130 27 131 36 60 309 202 36 101 121 185 73 145 154 195 149 229"/>
<path class="f" d="M111 137 105 109 107 119 110 144 116 131 141 193 78 119 59 109 180 104 98 131 31 154 180 169 134 131 105 188 40 118 109 122 335 202 96 132 124 143 36 114 111 152 338 200 102 132 97 121 20 92 201 151 291 172 28 98 74 120 22 117 366 212 68 110 221 187 116 142 71 111 37 120 141 124 187 156 333 221 87 172 220 186 87 106 75 144 45 137 73 151 168 178 109 136 20 90 135 129 90 125 19 103 356 213 20 84 83 143 78 72 96 99 124 234 215 163 90 175 106 134"/>
<path class="m" d="M74 114 220 199 83 126 21 126 20 128 144 166 54 131 34 129 342 231 295 209 49 76 27 100 22 142 74 134 63 135 112 148 26 83 107 106 116 155 58 101 85 143 42 88 90 155 78 110 88 117 23 129 51 64 30 79 116 137 47 86 25 78 339 197 74 143 35 121 93 122 20 69 61 113 35 93 54 98 65 136 200 200 62 111 71 115 53 144 28 109 123 183 53 108 36 56 25 74 42 101 92 157 63 107 65 147 115 127 149 148 231 149 323 237 238 199 149 150 54 115 88 93 118 149 126 172 102 122 220 174"/>
<path class="f" d="M36 77 72 116 26 112 111 104 125 120 91 107 93 214 281 237 123 140 20 75 163 182 370 192 139 147 19 57 150 130 21 91 328 223 30 111 135 142 102 95 172 173 37 154 65 115 62 133 190 158 86 94 87 163 79 104 58 92 361 181 126 137 88 117 233 162 26 54 44 79 35 56 287 190 255 199 102 125 75 121 116 138 220 183 106 154 215 172 239 153 66 125 111 168 19 94 88 127 125 123 58 73 89 147 40 148 81 117 146 165 249 216 55 93 125 165 48 175 55 77 41 126"/>
<path class="m" d="M290 174 125 132 29 73 54 126 26 83 90 143 47 131 45 131 159 167 102 126 40 100 102 102 290 212 24 79 36 136 22 93 55 135 70 94 70 147 107 113 34 66 131 150 100 125 58 129 82 106 30 56 323 211 68 112 31 83 111 69 286 217 121 148 117 117 154 168 38 118 97 157 61 98 71 121 37 93 146 154 126 129 20 83 64 137 64 132 99 123 23 114 128 142 78 78 132 169 27 124 371 239 206 188 54 102 26 113 126 122 102 212 21 80 272 183 24 83 49 100 131 161 47 147 88 146 191 169"/>
<path class="f" d="M97 154 121 108 93 81 64 148 36 75 97 64 88 146 324 203 46 124 26 119 102 121 83 64 82 119 322 231 69 144 98 93 60 186 108 100 34 90 55 149 206 154 96 82 253 188 164 111 93 85 23 80 121 177 310 173 78 77 124 146 183 160 119 71 43 82 310 185 98 122 124 140 120 189 99 112 144 161 147 124 94 83 140 182 187 149 64 95 110 119 105 61 88 81 66 77 338 173 77 76 45 114 21 85 251 198 83 126 206 209 39 73 209 132 81 149 89 148 83 119 285 200 111 112"/>
<path class="m" d="M20 114 83 73 154 146 128 139 45 82 44 113 53 57 59 147 88 113 69 91 73 157 366 211 112 114 22 132 156 228 149 189 187 202 138 200 216 212 20 128 40 82 23 83 239 170 335 185 30 85 289 170 60 125 145 137 92 111 92 140 62 127 76 83 37 110 47 108 50 147 338 189 36 140 22 90 31 131 52 113 83 127 69 148 20 104 36 74 43 104 281 234 151 145 68 132 33 108 108 175 19 108 102 151 57 99 98 138 83 130 86 192 70 135 156 153 140 170 62 100 329 200 60 74 37 87"/>
<path class="f" d="M24 118 116 166 267 154 61 99 182 147 168 151 53 124 319 171 67 154 301 172 88 112 93 111 276 193 206 154 98 157 109 192 366 224 112 182 37 134 69 131 81 161 90 154 144 177 109 58 87 109 44 103 91 150 88 116 255 189 85 67 286 176 88 102 68 101 120 140 186 182 89 128 238 180 156 84 107 130 130 94 154 145 116 157 194 228 87 65 141 132 130 154 78 105 121 139 120 117 45 107 26 146 163 219 129 111 144 139 333 210 149 191 220 206 146 99 121 137 125 172 147 162 116 196 93 118 92 173 279 258"/>
<path class="m" d="M78 154 72 97 21 108 215 158 30 84 47 98 33 90 143 151 220 175 117 180 37 72 41 96 49 77 191 187 156 150 171 172 68 124 26 73 101 161 88 100 386 242 150 136 21 126 112 178 79 122 126 145 59 144 262 203 37 75 97 177 287 165 74 119 68 112 94 151 86 165 48 108 43 134 215 144 119 138 33 115 79 83 90 134 22 100 52 75 53 83 71 142 79 97 282 192 54 104 75 145 332 208 106 201 282 209 201 182 253 214 163 220 87 116 24 89 81 120 182 157"/>
<path class="f" d="M258 178 93 114 75 136 333 198 64 126 70 91 78 105 87 123 63 112 220 182 50 135 90 151 281 179 121 157 72 118 38 116 327 212 63 53 64 169 111 167 129 151 126 123 116 130 50 82 112 118 61 77 329 231 107 87 81 142 49 123 116 162 57 126 121 151 33 116 78 148 111 165 79 104 97 123 406 204 121 188 45 128 201 219 224 173 87 167 71 100 97 182 303 190 135 65 102 140 70 108 246 202 94 135 126 127 130 160 342 199 219 197 54 142 52 181 90 165 174 144 324 211 39 95 118 147"/>
<path class="m" d="M59 86 338 243 111 128 61 145 286 192 87 145 106 85 128 119 24 105 26 76 33 110 94 213 99 127 55 75 230 169 107 172 41 114 64 129 34 66 278 204 79 167 295 180 94 149 66 126 70 149 183 169 196 187 27 92 82 177 41 64 26 85 116 146 130 132 56 140 263 200 22 118 97 172 53 113 39 81 138 131 106 121 55 142 91 103 58 120 32 123 69 145 69 124 122 134 128 200 120 141 394 194 107 146 283 200 42 13 83 92 75 143 119 142 182 122 91 179 67 177 140 162 74 115"/>
<path class="f" d="M138 187 127 135 61 149 54 96 40 116 153 169 25 104 88 106 72 106 187 161 29 106 79 134 117 149 154 158 36 121 125 166 47 131 83 73 121 124 102 156 78 147 92 162 29 74 105 189 267 183 97 191 156 164 52 93 117 179 132 157 263 179 101 130 114 120 83 133 78 74 94 147 131 122 82 146 97 179 115 136 158 163 304 177 277 145 121 143 101 167 102 90 99 133 50 181 50 125 78 138 99 178 46 144 192 194 95 81 95 150 91 157 64 90 78 130 124 185 149 113 88 174"/>
<path class="m" d="M149 138 66 50 28 109 74 123 61 133 86 124 47 101 168 138 24 76 183 128 33 78 244 189 122 139 146 176 98 120 120 165 121 137 121 157 64 127 120 178 69 129 85 183 201 162 87 141 257 178 57 93 65 130 118 108 310 181 107 136 90 97 292 202 328 181 126 156 148 171 68 165 116 106 97 154 89 121 50 120 71 152 124 228 67 179 30 71 28 100 135 144 85 93 337 185 126 130 73 131 216 207 88 118 69 170 36 111 74 142 116 126 36 103 168 132 93 180 22 130 119 139 230 164 53 95 22 97"/>
<path class="b" d="M19 41.2 27.1 44.4 35.1 47.9 43.2 51.9 51.3 56.4 59.3 61.4 67.4 66.5 75.5 71.7 83.6 77.1 91.6 82.3 99.7 87.1 107.8 91.9 115.8 96.2 123.9 100 132 103.6 140 106.8 148.1 109.5 156.2 112 164.2 114.2 172.3 116.4 180.4 118.4 188.5 120.4 196.5 122.4 204.6 124.5 212.7 126.5 220.7 128.3 228.8 130 236.9 131.5 244.9 133 253 134.4 261.1 135.8 269.1 137.1 277.2 138.1 285.3 139.1 293.4 140 301.4 140.9 309.5 141.8 317.6 142.8 325.6 143.9 333.7 145.2 341.8 146.6 349.8 148.3 357.9 150.1 366 151.8 374 153.3 382.1 154.7 390.2 156 398.2 157.5 L398.2 275 390.2 273.3 382.1 271.2 374 269 366 266.7 357.9 264.2 349.8 261.6 341.8 259.3 333.7 257.2 325.6 255.2 317.6 253.4 309.5 251.8 301.4 250.3 293.4 248.9 285.3 247.4 277.2 246 269.1 244.6 261.1 243.3 253 242 244.9 240.5 236.9 239.1 228.8 237.5 220.7 235.8 212.7 234 204.6 232 196.5 229.9 188.5 227.9 180.4 225.9 172.3 223.9 164.2 221.8 156.2 219.5 148.1 217.1 140 214.3 132 211.1 123.9 207.5 115.8 203.7 107.8 199.4 99.7 194.7 91.6 189.8 83.6 184.6 75.5 179.3 67.4 174 59.3 168.9 51.3 163.9 43.2 159.4 35.1 155.4 27.1 151.9 19 148.8Z"/>
<path class="b" d="M19 36.7 27.3 41.4 35.5 46.2 43.8 51 52 56.1 60.3 61.1 68.5 65.8 76.8 70.2 85 74.3 93.3 78 101.6 81.2 109.8 84.2 118.1 87.1 126.3 90.1 134.6 93 142.8 96.1 151.1 99.3 159.3 102.6 167.6 106 175.9 109.5 184.1 113 192.4 116.4 200.6 119.8 208.9 123.1 217.1 125.8 225.4 127.9 233.6 129.8 241.9 131.2 250.1 132.3 258.4 133.3 266.7 134.2 274.9 135.1 283.2 136 291.4 136.8 299.7 137.7 307.9 138.6 316.2 139.6 324.4 140.8 332.7 142.2 341 143.5 349.2 144.8 357.5 146.1 365.7 146.9 374 147.4 382.2 147.6 390.5 147.6 398.7 147.1 407 145.8 L407 263.2 398.7 264.6 390.5 264.9 382.2 264.1 374 263 365.7 261.8 357.5 260.1 349.2 258.1 341 256.1 332.7 254 324.4 252 316.2 250.1 307.9 248.5 299.7 247 291.4 245.5 283.2 244.2 274.9 242.9 266.7 241.7 258.4 240.8 250.1 239.9 241.9 238.7 233.6 237.3 225.4 235.4 217.1 233.3 208.9 230.6 200.6 227.3 192.4 223.9 184.1 220.5 175.9 217 167.6 213.5 159.3 210.1 151.1 206.8 142.8 203.6 134.6 200.5 126.3 197.6 118.1 194.6 109.8 191.7 101.6 188.8 93.3 185.6 85 181.9 76.8 177.7 68.5 173.3 60.3 168.7 52 163.6 43.8 158.6 35.5 153.7 27.3 149 19 144.3Z"/>
<path class="lm" d="M19 95 27.1 98.1 35.1 101.7 43.2 105.6 51.3 110.2 59.3 115.2 67.4 120.3 75.5 125.5 83.6 130.9 91.6 136 99.7 140.9 107.8 145.6 115.8 149.9 123.9 153.8 132 157.4 140 160.5 148.1 163.3 156.2 165.7 164.2 168 172.3 170.2 180.4 172.2 188.5 174.1 196.5 176.1 204.6 178.2 212.7 180.2 220.7 182.1 228.8 183.7 236.9 185.3 244.9 186.8 253 188.2 261.1 189.5 269.1 190.8 277.2 192.1 285.3 193.3 293.4 194.5 301.4 195.6 309.5 196.8 317.6 198.1 325.6 199.6 333.7 201.2 341.8 202.9 349.8 204.9 357.9 207.1 366 209.3 374 211.1 382.1 212.9 390.2 214.6 398.2 216.2"/>
<path class="lf" d="M19 90.5 27.3 95.2 35.5 100 43.8 104.8 52 109.8 60.3 114.9 68.5 119.6 76.8 124 85 128.1 93.3 131.8 101.6 135 109.8 137.9 118.1 140.9 126.3 143.8 134.6 146.8 142.8 149.8 151.1 153 159.3 156.4 167.6 159.7 175.9 163.2 184.1 166.7 192.4 170.1 200.6 173.5 208.9 176.8 217.1 179.5 225.4 181.7 233.6 183.5 241.9 185 250.1 186.1 258.4 187 266.7 188 274.9 189 283.2 190.1 291.4 191.2 299.7 192.3 307.9 193.5 316.2 194.9 324.4 196.4 332.7 198.1 341 199.8 349.2 201.5 357.5 203.1 365.7 204.4 374 205.2 382.2 205.9 390.5 206.2 398.7 205.8 407 204.5"/>
<rect class="s" width="426" height="288"/>
<rect class="lg" x="309.8" y="8.3" width="108.6" height="50" rx="3.1"/>
<circle class="cf" cx="332.1" cy="21.4" r="4.17"/>
<circle class="cm" cx="332.1" cy="43.6" r="4.17"/>
<text class="t" x="360.4" y="25.7">female</text>
<text class="t" x="360.4" y="48.7">male</text>
<text class="tt" x="213" y="-8.3" text-anchor="middle">Precentral Gyrus</text>
<text class="t" x="-13.6" y="26.1" text-anchor="end">0.012</text>
<text class="t" x="-13.6" y="59.1" text-anchor="end">0.011</text>
<text class="t" x="-13.6" y="91.1" text-anchor="end">0.010</text>
<text class="t" x="-13.6" y="123.1" text-anchor="end">0.009</text>
<text class="t" x="-13.6" y="156.1" text-anchor="end">0.008</text>
<text class="t" x="-13.6" y="188.1" text-anchor="end">0.007</text>
<text class="t" x="-13.6" y="220.1" text-anchor="end">0.006</text>
<text class="t" x="-13.6" y="252.1" text-anchor="end">0.005</text>
<text class="t" x="-13.6" y="285.1" text-anchor="end">0.004</text>
<text class="l" transform="translate(-67.3,144) rotate(-90) scale(1,1.09)" text-anchor="middle">GM volume (TIV-normalized)</text>
<text class="t" x="85.2" y="312.6" text-anchor="middle">20</text>
<text class="t" x="179.2" y="312.6" text-anchor="middle">40</text>
<text class="t" x="274.2" y="312.6" text-anchor="middle">60</text>
<text class="t" x="368.2" y="312.6" text-anchor="middle">80</text>
<text class="l" x="213" y="335.6" text-anchor="middle">Age</text>
</g>
</svg></body></html>
